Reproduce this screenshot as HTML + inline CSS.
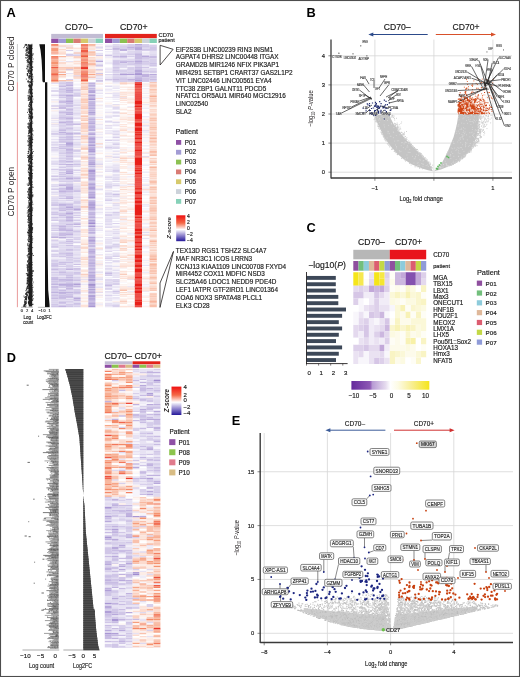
<!DOCTYPE html>
<html><head><meta charset="utf-8"><style>
html,body{margin:0;padding:0;background:#fff;}
svg{display:block;font-family:"Liberation Sans", sans-serif;will-change:transform;}
</style></head><body>
<svg width="520" height="677" viewBox="0 0 520 677">
<rect x="0" y="0" width="520" height="677" fill="#fff"/>
<text x="6.6" y="16.8" font-size="12.8" font-weight="bold" fill="#000" >A</text>
<text transform="translate(14.3,63.9) rotate(-90)" font-size="8.3" text-anchor="middle" fill="#231f20">CD70 P closed</text>
<text transform="translate(14.3,191.6) rotate(-90)" font-size="8.3" text-anchor="middle" fill="#231f20">CD70 P open</text>
<line x1="17.4" y1="44" x2="17.4" y2="82.2" stroke="#b8b8b8" stroke-width="0.7" />
<line x1="17.4" y1="82.2" x2="17.4" y2="307.2" stroke="#e07070" stroke-width="0.7" />
<text x="65" y="30" font-size="8.7" fill="#1a1a1a" stroke="#1a1a1a" stroke-width="0.16" textLength="27.5" lengthAdjust="spacingAndGlyphs">CD70–</text>
<text x="120" y="30" font-size="8.7" fill="#1a1a1a" stroke="#1a1a1a" stroke-width="0.16" textLength="27.5" lengthAdjust="spacingAndGlyphs">CD70+</text>
<rect x="51.2" y="33.9" width="51.8" height="4.3" fill="#c2bcd3" />
<rect x="105" y="33.9" width="51.8" height="4.3" fill="#e3231c" />
<rect x="51.2" y="38.6" width="7.45" height="4.4" fill="#8e4fa5" />
<rect x="58.6" y="38.6" width="7.45" height="4.4" fill="#a29cd4" />
<rect x="66" y="38.6" width="7.45" height="4.4" fill="#8cc152" />
<rect x="73.4" y="38.6" width="7.45" height="4.4" fill="#d97b74" />
<rect x="80.8" y="38.6" width="7.45" height="4.4" fill="#d6c96c" />
<rect x="88.2" y="38.6" width="7.45" height="4.4" fill="#ccd2da" />
<rect x="95.6" y="38.6" width="7.45" height="4.4" fill="#86d1b8" />
<rect x="105" y="38.6" width="7.45" height="4.4" fill="#8e4fa5" />
<rect x="112.4" y="38.6" width="7.45" height="4.4" fill="#a29cd4" />
<rect x="119.8" y="38.6" width="7.45" height="4.4" fill="#8cc152" />
<rect x="127.2" y="38.6" width="7.45" height="4.4" fill="#d97b74" />
<rect x="134.6" y="38.6" width="7.45" height="4.4" fill="#d6c96c" />
<rect x="142" y="38.6" width="7.45" height="4.4" fill="#ccd2da" />
<rect x="149.4" y="38.6" width="7.45" height="4.4" fill="#86d1b8" />
<path stroke="#8470be" stroke-width="1.04" d="M88.2 284.7h7.4"/>
<path stroke="#8d79c4" stroke-width="1.04" d="M88.2 112.7h7.4M88.2 220.7h7.4M88.2 279.7h7.4M88.2 289.7h7.4M88.2 295.7h7.4"/>
<path stroke="#9682c9" stroke-width="1.04" d="M88.2 95.7h7.4M88.2 145.7h7.4M88.2 151.7h7.4M66 164.7h7.4M88.2 164.7h7.4M88.2 204.7h7.4M58.6 237.7h7.4M88.2 237.7h7.4M88.2 285.7h7.4M88.2 292.7h7.4"/>
<path stroke="#a08ccf" stroke-width="1.04" d="M88.2 90.7h7.4M88.2 92.7h7.4M66 95.7h7.4M58.6 132.7h7.4M88.2 134.7h7.4M88.2 139.7h7.4M88.2 142.7h7.4M66 143.7h7.4M88.2 147.7h7.4M88.2 150.7h7.4M66 173.7h7.4M88.2 173.7h7.4M66 178.7h7.4M88.2 184.7h7.4M66 188.7h7.4M88.2 192.7h7.4M88.2 194.7h7.4M88.2 202.7h7.4M88.2 205.7h7.4M88.2 217.7h7.4M88.2 222.7h7.4M88.2 223.7h7.4M88.2 232.7h7.4M88.2 256.7h7.4M88.2 272.7h7.4M88.2 275.7h7.4M88.2 280.7h7.4M58.6 284.7h7.4M88.2 287.7h7.4M58.6 292.7h7.4M88.2 296.7h7.4M88.2 303.7h7.4"/>
<path stroke="#a08ccf" stroke-width="1.24" d="M134.6 48.2h7.4M134.6 77h7.4"/>
<path stroke="#a896d3" stroke-width="1.04" d="M88.2 85.7h7.4M88.2 88.7h7.4M66 90.7h7.4M88.2 91.7h7.4M88.2 98.7h7.4M88.2 99.7h7.4M88.2 101.7h7.4M88.2 105.7h7.4M88.2 108.7h7.4M66 112.7h7.4M88.2 119.7h7.4M88.2 126.7h7.4M88.2 130.7h7.4M88.2 141.7h7.4M66 142.7h7.4M66 144.7h7.4M88.2 144.7h7.4M88.2 154.7h7.4M66 161.7h7.4M88.2 163.7h7.4M88.2 166.7h7.4M88.2 169.7h7.4M88.2 170.7h7.4M88.2 171.7h7.4M88.2 175.7h7.4M88.2 183.7h7.4M88.2 189.7h7.4M88.2 196.7h7.4M88.2 197.7h7.4M88.2 203.7h7.4M58.6 204.7h7.4M88.2 208.7h7.4M88.2 212.7h7.4M88.2 225.7h7.4M88.2 226.7h7.4M88.2 241.7h7.4M88.2 249.7h7.4M88.2 263.7h7.4M88.2 268.7h7.4M88.2 277.7h7.4M58.6 279.7h7.4M51.2 284.7h7.4M66 284.7h7.4M51.2 292.7h7.4M66 292.7h7.4M88.2 299.7h7.4M88.2 305.7h7.4M88.2 306.7h7.4"/>
<path stroke="#a896d3" stroke-width="1.24" d="M95.6 65h7.4M134.6 47h7.4M134.6 74.6h7.4"/>
<path stroke="#b09fd7" stroke-width="1.04" d="M66 82.7h7.4M88.2 94.7h7.4M88.2 103.7h7.4M88.2 110.7h7.4M88.2 114.7h7.4M66 121.7h7.4M88.2 121.7h7.4M88.2 127.7h7.4M88.2 133.7h7.4M88.2 137.7h7.4M88.2 138.7h7.4M88.2 148.7h7.4M88.2 149.7h7.4M88.2 157.7h7.4M88.2 160.7h7.4M58.6 164.7h7.4M66 169.7h7.4M88.2 172.7h7.4M88.2 176.7h7.4M88.2 186.7h7.4M88.2 187.7h7.4M88.2 188.7h7.4M66 189.7h7.4M88.2 195.7h7.4M66 198.7h7.4M88.2 200.7h7.4M88.2 206.7h7.4M88.2 207.7h7.4M88.2 209.7h7.4M88.2 214.7h7.4M66 217.7h7.4M66 224.7h7.4M58.6 226.7h7.4M73.4 226.7h7.4M88.2 228.7h7.4M58.6 229.7h7.4M88.2 230.7h7.4M88.2 239.7h7.4M88.2 240.7h7.4M66 241.7h7.4M66 245.7h7.4M88.2 245.7h7.4M88.2 252.7h7.4M88.2 257.7h7.4M88.2 260.7h7.4M58.6 262.7h7.4M88.2 262.7h7.4M73.4 264.7h7.4M73.4 268.7h7.4M88.2 276.7h7.4M51.2 277.7h7.4M66 277.7h7.4M66 279.7h7.4M73.4 283.7h7.4M73.4 284.7h7.4M66 285.7h7.4M51.2 286.7h7.4M73.4 286.7h7.4M88.2 286.7h7.4M66 288.7h7.4M88.2 302.7h7.4M88.2 304.7h7.4"/>
<path stroke="#b09fd7" stroke-width="1.24" d="M112.4 48.2h7.4M134.6 54.2h7.4M134.6 73.4h7.4M119.8 74.6h7.4M127.2 74.6h7.4M134.6 80.6h7.4"/>
<path stroke="#b8a9db" stroke-width="1.04" d="M134.6 81.7h7.4M66 88.7h7.4M66 92.7h7.4M58.6 95.7h7.4M88.2 97.7h7.4M66 100.7h7.4M66 101.7h7.4M58.6 102.7h7.4M88.2 102.7h7.4M66 103.7h7.4M88.2 104.7h7.4M66 105.7h7.4M88.2 107.7h7.4M66 109.7h7.4M88.2 113.7h7.4M58.6 117.7h7.4M88.2 117.7h7.4M88.2 122.7h7.4M88.2 123.7h7.4M58.6 130.7h7.4M88.2 132.7h7.4M66 134.7h7.4M66 136.7h7.4M88.2 136.7h7.4M58.6 139.7h7.4M88.2 140.7h7.4M58.6 144.7h7.4M66 145.7h7.4M58.6 148.7h7.4M66 150.7h7.4M88.2 158.7h7.4M88.2 161.7h7.4M88.2 162.7h7.4M73.4 164.7h7.4M58.6 169.7h7.4M58.6 172.7h7.4M66 172.7h7.4M88.2 174.7h7.4M58.6 176.7h7.4M88.2 177.7h7.4M88.2 178.7h7.4M88.2 179.7h7.4M66 184.7h7.4M88.2 185.7h7.4M66 186.7h7.4M66 187.7h7.4M58.6 188.7h7.4M73.4 191.7h7.4M88.2 193.7h7.4M66 196.7h7.4M58.6 198.7h7.4M88.2 201.7h7.4M66 204.7h7.4M58.6 205.7h7.4M66 206.7h7.4M66 207.7h7.4M73.4 208.7h7.4M73.4 209.7h7.4M66 212.7h7.4M66 213.7h7.4M88.2 213.7h7.4M66 216.7h7.4M51.2 217.7h7.4M88.2 221.7h7.4M58.6 230.7h7.4M66 239.7h7.4M88.2 246.7h7.4M66 249.7h7.4M88.2 250.7h7.4M88.2 251.7h7.4M66 253.7h7.4M88.2 253.7h7.4M66 262.7h7.4M88.2 266.7h7.4M88.2 269.7h7.4M73.4 272.7h7.4M88.2 274.7h7.4M51.2 279.7h7.4M66 280.7h7.4M66 283.7h7.4M88.2 283.7h7.4M58.6 285.7h7.4M66 286.7h7.4M58.6 290.7h7.4M73.4 292.7h7.4M58.6 293.7h7.4M58.6 295.7h7.4M58.6 297.7h7.4M73.4 297.7h7.4M88.2 297.7h7.4M73.4 298.7h7.4M88.2 298.7h7.4M88.2 300.7h7.4M58.6 302.7h7.4M73.4 303.7h7.4M112.4 194.7h7.4M112.4 291.7h7.4"/>
<path stroke="#b8a9db" stroke-width="1.24" d="M95.6 61.4h7.4M134.6 44.6h7.4M142 47h7.4M134.6 49.4h7.4M142 56.6h7.4M134.6 61.4h7.4M149.4 63.8h7.4M119.8 65h7.4M134.6 69.8h7.4M134.6 71h7.4M134.6 72.2h7.4M149.4 74.6h7.4"/>
<path stroke="#c0b2df" stroke-width="1.04" d="M88.2 82.7h7.4M88.2 83.7h7.4M66 84.7h7.4M66 85.7h7.4M88.2 86.7h7.4M66 87.7h7.4M58.6 89.7h7.4M66 89.7h7.4M66 91.7h7.4M66 94.7h7.4M73.4 95.7h7.4M66 96.7h7.4M88.2 96.7h7.4M58.6 97.7h7.4M66 98.7h7.4M66 102.7h7.4M58.6 105.7h7.4M66 106.7h7.4M88.2 106.7h7.4M51.2 108.7h7.4M66 108.7h7.4M88.2 111.7h7.4M66 113.7h7.4M66 114.7h7.4M66 117.7h7.4M66 118.7h7.4M88.2 118.7h7.4M58.6 121.7h7.4M58.6 122.7h7.4M66 122.7h7.4M66 128.7h7.4M88.2 128.7h7.4M58.6 129.7h7.4M88.2 129.7h7.4M66 132.7h7.4M51.2 133.7h7.4M66 133.7h7.4M58.6 134.7h7.4M58.6 137.7h7.4M66 137.7h7.4M58.6 146.7h7.4M66 146.7h7.4M51.2 147.7h7.4M66 148.7h7.4M66 149.7h7.4M88.2 152.7h7.4M66 153.7h7.4M58.6 160.7h7.4M66 166.7h7.4M51.2 169.7h7.4M66 170.7h7.4M66 171.7h7.4M58.6 174.7h7.4M66 177.7h7.4M58.6 178.7h7.4M88.2 180.7h7.4M58.6 184.7h7.4M58.6 185.7h7.4M66 185.7h7.4M58.6 190.7h7.4M58.6 191.7h7.4M88.2 191.7h7.4M66 197.7h7.4M88.2 198.7h7.4M51.2 205.7h7.4M58.6 208.7h7.4M51.2 212.7h7.4M73.4 212.7h7.4M58.6 213.7h7.4M51.2 214.7h7.4M66 214.7h7.4M73.4 215.7h7.4M73.4 217.7h7.4M66 219.7h7.4M51.2 220.7h7.4M66 220.7h7.4M73.4 223.7h7.4M73.4 224.7h7.4M51.2 225.7h7.4M58.6 225.7h7.4M66 229.7h7.4M88.2 229.7h7.4M51.2 230.7h7.4M66 230.7h7.4M66 233.7h7.4M88.2 233.7h7.4M66 234.7h7.4M51.2 236.7h7.4M51.2 237.7h7.4M66 237.7h7.4M88.2 238.7h7.4M88.2 242.7h7.4M66 243.7h7.4M88.2 243.7h7.4M51.2 246.7h7.4M58.6 253.7h7.4M66 255.7h7.4M88.2 255.7h7.4M58.6 256.7h7.4M66 257.7h7.4M88.2 261.7h7.4M51.2 263.7h7.4M88.2 264.7h7.4M51.2 265.7h7.4M88.2 265.7h7.4M58.6 266.7h7.4M73.4 266.7h7.4M66 268.7h7.4M66 269.7h7.4M88.2 271.7h7.4M51.2 272.7h7.4M88.2 273.7h7.4M66 275.7h7.4M51.2 278.7h7.4M88.2 278.7h7.4M58.6 280.7h7.4M73.4 280.7h7.4M51.2 281.7h7.4M88.2 282.7h7.4M58.6 283.7h7.4M51.2 287.7h7.4M73.4 289.7h7.4M88.2 290.7h7.4M88.2 291.7h7.4M88.2 293.7h7.4M66 294.7h7.4M51.2 295.7h7.4M58.6 296.7h7.4M66 297.7h7.4M58.6 298.7h7.4M88.2 301.7h7.4M51.2 304.7h7.4M66 304.7h7.4M58.6 305.7h7.4M51.2 306.7h7.4M58.6 306.7h7.4M112.4 212.7h7.4M112.4 223.7h7.4M112.4 279.7h7.4"/>
<path stroke="#c0b2df" stroke-width="1.24" d="M95.6 47h7.4M66 69.8h7.4M95.6 69.8h7.4M134.6 45.8h7.4M149.4 45.8h7.4M119.8 47h7.4M127.2 47h7.4M127.2 48.2h7.4M119.8 49.4h7.4M119.8 50.6h7.4M127.2 54.2h7.4M119.8 56.6h7.4M142 59h7.4M134.6 60.2h7.4M119.8 62.6h7.4M112.4 63.8h7.4M127.2 65h7.4M134.6 65h7.4M149.4 72.2h7.4M142 74.6h7.4M142 75.8h7.4M142 77h7.4M134.6 78.2h7.4M127.2 79.4h7.4M134.6 79.4h7.4"/>
<path stroke="#c8bce3" stroke-width="1.04" d="M119.8 81.7h7.4M142 81.7h7.4M58.6 83.7h7.4M66 83.7h7.4M88.2 84.7h7.4M58.6 85.7h7.4M58.6 86.7h7.4M58.6 88.7h7.4M73.4 89.7h7.4M88.2 89.7h7.4M51.2 90.7h7.4M58.6 91.7h7.4M58.6 94.7h7.4M66 97.7h7.4M66 99.7h7.4M58.6 100.7h7.4M58.6 101.7h7.4M51.2 105.7h7.4M58.6 106.7h7.4M58.6 107.7h7.4M58.6 108.7h7.4M88.2 109.7h7.4M66 110.7h7.4M58.6 111.7h7.4M58.6 112.7h7.4M66 116.7h7.4M58.6 118.7h7.4M66 119.7h7.4M88.2 120.7h7.4M66 123.7h7.4M73.4 123.7h7.4M66 124.7h7.4M73.4 124.7h7.4M88.2 124.7h7.4M88.2 125.7h7.4M66 127.7h7.4M73.4 132.7h7.4M73.4 133.7h7.4M73.4 136.7h7.4M66 138.7h7.4M66 139.7h7.4M73.4 139.7h7.4M66 141.7h7.4M58.6 142.7h7.4M88.2 143.7h7.4M88.2 146.7h7.4M73.4 150.7h7.4M66 151.7h7.4M66 152.7h7.4M58.6 153.7h7.4M66 155.7h7.4M66 156.7h7.4M58.6 158.7h7.4M66 159.7h7.4M88.2 159.7h7.4M58.6 161.7h7.4M58.6 167.7h7.4M66 176.7h7.4M73.4 177.7h7.4M73.4 178.7h7.4M51.2 179.7h7.4M66 179.7h7.4M58.6 181.7h7.4M66 181.7h7.4M88.2 182.7h7.4M51.2 189.7h7.4M58.6 189.7h7.4M66 190.7h7.4M88.2 190.7h7.4M66 191.7h7.4M58.6 192.7h7.4M58.6 195.7h7.4M66 200.7h7.4M51.2 202.7h7.4M73.4 202.7h7.4M58.6 203.7h7.4M66 203.7h7.4M66 205.7h7.4M58.6 207.7h7.4M51.2 208.7h7.4M66 208.7h7.4M58.6 209.7h7.4M66 209.7h7.4M58.6 210.7h7.4M73.4 210.7h7.4M88.2 210.7h7.4M58.6 214.7h7.4M58.6 215.7h7.4M88.2 215.7h7.4M88.2 216.7h7.4M58.6 217.7h7.4M66 218.7h7.4M58.6 220.7h7.4M73.4 220.7h7.4M66 221.7h7.4M66 226.7h7.4M58.6 227.7h7.4M51.2 228.7h7.4M58.6 228.7h7.4M66 228.7h7.4M58.6 232.7h7.4M66 232.7h7.4M58.6 233.7h7.4M58.6 234.7h7.4M58.6 235.7h7.4M88.2 236.7h7.4M73.4 237.7h7.4M73.4 245.7h7.4M88.2 248.7h7.4M51.2 250.7h7.4M66 250.7h7.4M66 252.7h7.4M51.2 254.7h7.4M66 254.7h7.4M88.2 254.7h7.4M88.2 258.7h7.4M88.2 259.7h7.4M51.2 260.7h7.4M73.4 260.7h7.4M51.2 264.7h7.4M51.2 266.7h7.4M66 266.7h7.4M88.2 267.7h7.4M51.2 268.7h7.4M58.6 268.7h7.4M51.2 269.7h7.4M73.4 269.7h7.4M88.2 270.7h7.4M58.6 271.7h7.4M58.6 272.7h7.4M73.4 273.7h7.4M58.6 274.7h7.4M66 274.7h7.4M58.6 277.7h7.4M73.4 277.7h7.4M73.4 279.7h7.4M58.6 281.7h7.4M88.2 281.7h7.4M66 282.7h7.4M58.6 287.7h7.4M66 287.7h7.4M88.2 288.7h7.4M51.2 289.7h7.4M58.6 289.7h7.4M66 289.7h7.4M51.2 291.7h7.4M73.4 291.7h7.4M73.4 293.7h7.4M51.2 294.7h7.4M66 295.7h7.4M66 296.7h7.4M51.2 297.7h7.4M51.2 298.7h7.4M66 299.7h7.4M73.4 299.7h7.4M73.4 300.7h7.4M58.6 301.7h7.4M66 301.7h7.4M58.6 303.7h7.4M73.4 304.7h7.4M112.4 137.7h7.4M105 140.7h7.4M105 147.7h7.4M112.4 170.7h7.4M112.4 185.7h7.4M105 200.7h7.4M105 214.7h7.4M112.4 244.7h7.4M105 247.7h7.4M105 258.7h7.4M105 272.7h7.4M105 273.7h7.4M105 275.7h7.4M105 279.7h7.4M112.4 283.7h7.4M105 284.7h7.4M105 285.7h7.4M105 288.7h7.4M105 295.7h7.4"/>
<path stroke="#c8bce3" stroke-width="1.24" d="M66 54.2h7.4M127.2 45.8h7.4M142 45.8h7.4M112.4 49.4h7.4M112.4 53h7.4M134.6 53h7.4M134.6 55.4h7.4M112.4 56.6h7.4M134.6 56.6h7.4M149.4 56.6h7.4M119.8 57.8h7.4M134.6 57.8h7.4M142 57.8h7.4M149.4 57.8h7.4M134.6 59h7.4M112.4 60.2h7.4M119.8 61.4h7.4M127.2 61.4h7.4M134.6 62.6h7.4M127.2 63.8h7.4M134.6 63.8h7.4M142 63.8h7.4M112.4 65h7.4M134.6 67.4h7.4M127.2 71h7.4M149.4 71h7.4M112.4 72.2h7.4M134.6 75.8h7.4M112.4 77h7.4M119.8 78.2h7.4M112.4 79.4h7.4M149.4 79.4h7.4"/>
<path stroke="#d0c6e7" stroke-width="1.04" d="M95.6 81.7h7.4M112.4 81.7h7.4M127.2 81.7h7.4M58.6 82.7h7.4M58.6 90.7h7.4M73.4 90.7h7.4M58.6 92.7h7.4M51.2 95.7h7.4M66 104.7h7.4M73.4 105.7h7.4M66 111.7h7.4M58.6 113.7h7.4M73.4 113.7h7.4M58.6 119.7h7.4M58.6 123.7h7.4M66 125.7h7.4M58.6 126.7h7.4M58.6 128.7h7.4M66 129.7h7.4M73.4 130.7h7.4M58.6 133.7h7.4M51.2 134.7h7.4M58.6 136.7h7.4M58.6 140.7h7.4M66 140.7h7.4M58.6 141.7h7.4M51.2 144.7h7.4M73.4 144.7h7.4M58.6 147.7h7.4M66 147.7h7.4M73.4 149.7h7.4M58.6 150.7h7.4M73.4 151.7h7.4M58.6 152.7h7.4M88.2 153.7h7.4M66 154.7h7.4M58.6 155.7h7.4M88.2 156.7h7.4M66 157.7h7.4M66 158.7h7.4M73.4 161.7h7.4M58.6 162.7h7.4M66 162.7h7.4M88.2 165.7h7.4M58.6 166.7h7.4M73.4 166.7h7.4M58.6 170.7h7.4M51.2 175.7h7.4M66 175.7h7.4M51.2 176.7h7.4M51.2 178.7h7.4M58.6 179.7h7.4M88.2 181.7h7.4M66 183.7h7.4M51.2 184.7h7.4M51.2 186.7h7.4M51.2 188.7h7.4M73.4 189.7h7.4M73.4 190.7h7.4M66 192.7h7.4M58.6 193.7h7.4M66 194.7h7.4M58.6 196.7h7.4M51.2 200.7h7.4M58.6 200.7h7.4M51.2 203.7h7.4M73.4 203.7h7.4M51.2 204.7h7.4M58.6 206.7h7.4M73.4 207.7h7.4M88.2 211.7h7.4M51.2 213.7h7.4M66 215.7h7.4M88.2 218.7h7.4M58.6 219.7h7.4M88.2 219.7h7.4M58.6 221.7h7.4M73.4 222.7h7.4M58.6 223.7h7.4M66 223.7h7.4M88.2 224.7h7.4M73.4 230.7h7.4M66 231.7h7.4M73.4 231.7h7.4M88.2 231.7h7.4M51.2 232.7h7.4M51.2 234.7h7.4M66 235.7h7.4M58.6 243.7h7.4M51.2 244.7h7.4M88.2 244.7h7.4M58.6 245.7h7.4M51.2 247.7h7.4M73.4 247.7h7.4M73.4 249.7h7.4M58.6 250.7h7.4M51.2 251.7h7.4M58.6 252.7h7.4M58.6 254.7h7.4M66 260.7h7.4M51.2 261.7h7.4M73.4 261.7h7.4M58.6 263.7h7.4M58.6 264.7h7.4M58.6 269.7h7.4M58.6 273.7h7.4M51.2 274.7h7.4M73.4 274.7h7.4M66 276.7h7.4M66 278.7h7.4M51.2 280.7h7.4M66 281.7h7.4M51.2 282.7h7.4M51.2 283.7h7.4M73.4 285.7h7.4M58.6 286.7h7.4M51.2 288.7h7.4M51.2 290.7h7.4M73.4 290.7h7.4M58.6 291.7h7.4M66 291.7h7.4M66 293.7h7.4M58.6 294.7h7.4M88.2 294.7h7.4M51.2 296.7h7.4M51.2 300.7h7.4M51.2 302.7h7.4M51.2 305.7h7.4M66 305.7h7.4M66 306.7h7.4M112.4 104.7h7.4M112.4 112.7h7.4M112.4 115.7h7.4M105 121.7h7.4M112.4 122.7h7.4M105 125.7h7.4M112.4 134.7h7.4M142 156.7h7.4M112.4 171.7h7.4M112.4 181.7h7.4M105 186.7h7.4M105 196.7h7.4M112.4 203.7h7.4M105 215.7h7.4M112.4 229.7h7.4M142 232.7h7.4M112.4 233.7h7.4M112.4 238.7h7.4M105 246.7h7.4M112.4 246.7h7.4M105 251.7h7.4M105 256.7h7.4M112.4 258.7h7.4M112.4 260.7h7.4M105 262.7h7.4M105 268.7h7.4M112.4 284.7h7.4M105 291.7h7.4"/>
<path stroke="#d0c6e7" stroke-width="1.24" d="M95.6 55.4h7.4M95.6 66.2h7.4M95.6 73.4h7.4M95.6 75.8h7.4M95.6 80.6h7.4M119.8 45.8h7.4M149.4 47h7.4M119.8 48.2h7.4M149.4 48.2h7.4M127.2 49.4h7.4M142 49.4h7.4M149.4 49.4h7.4M127.2 51.8h7.4M134.6 51.8h7.4M119.8 54.2h7.4M105 55.4h7.4M112.4 57.8h7.4M127.2 59h7.4M119.8 60.2h7.4M112.4 61.4h7.4M142 61.4h7.4M112.4 62.6h7.4M142 65h7.4M149.4 65h7.4M134.6 66.2h7.4M149.4 66.2h7.4M112.4 67.4h7.4M142 67.4h7.4M134.6 68.6h7.4M112.4 69.8h7.4M112.4 71h7.4M142 71h7.4M142 72.2h7.4M119.8 73.4h7.4M112.4 74.6h7.4M149.4 75.8h7.4M119.8 77h7.4M127.2 77h7.4M149.4 77h7.4M112.4 78.2h7.4M142 78.2h7.4M149.4 78.2h7.4M105 79.4h7.4M119.8 79.4h7.4M142 79.4h7.4M127.2 80.6h7.4M142 80.6h7.4"/>
<path stroke="#d7cfeb" stroke-width="1.04" d="M58.6 81.7h7.4M149.4 81.7h7.4M51.2 83.7h7.4M58.6 84.7h7.4M66 86.7h7.4M88.2 87.7h7.4M95.6 90.7h7.4M51.2 91.7h7.4M73.4 92.7h7.4M58.6 93.7h7.4M73.4 93.7h7.4M73.4 94.7h7.4M58.6 96.7h7.4M73.4 96.7h7.4M88.2 100.7h7.4M58.6 104.7h7.4M73.4 104.7h7.4M51.2 106.7h7.4M73.4 107.7h7.4M58.6 110.7h7.4M58.6 114.7h7.4M58.6 115.7h7.4M88.2 115.7h7.4M58.6 116.7h7.4M51.2 118.7h7.4M66 120.7h7.4M51.2 124.7h7.4M58.6 124.7h7.4M58.6 125.7h7.4M58.6 127.7h7.4M66 130.7h7.4M51.2 131.7h7.4M58.6 131.7h7.4M73.4 134.7h7.4M66 135.7h7.4M58.6 138.7h7.4M51.2 139.7h7.4M73.4 142.7h7.4M58.6 145.7h7.4M58.6 151.7h7.4M73.4 153.7h7.4M88.2 155.7h7.4M73.4 156.7h7.4M66 160.7h7.4M73.4 160.7h7.4M51.2 161.7h7.4M58.6 163.7h7.4M73.4 163.7h7.4M51.2 164.7h7.4M66 165.7h7.4M88.2 167.7h7.4M88.2 168.7h7.4M73.4 169.7h7.4M73.4 170.7h7.4M73.4 172.7h7.4M58.6 173.7h7.4M58.6 175.7h7.4M73.4 176.7h7.4M73.4 179.7h7.4M58.6 180.7h7.4M66 180.7h7.4M73.4 180.7h7.4M73.4 181.7h7.4M58.6 183.7h7.4M73.4 186.7h7.4M58.6 187.7h7.4M95.6 189.7h7.4M66 193.7h7.4M58.6 194.7h7.4M66 195.7h7.4M51.2 196.7h7.4M73.4 197.7h7.4M51.2 198.7h7.4M73.4 200.7h7.4M73.4 201.7h7.4M58.6 202.7h7.4M73.4 205.7h7.4M73.4 206.7h7.4M51.2 209.7h7.4M66 210.7h7.4M51.2 211.7h7.4M66 211.7h7.4M58.6 212.7h7.4M73.4 213.7h7.4M58.6 216.7h7.4M73.4 219.7h7.4M58.6 222.7h7.4M66 222.7h7.4M51.2 223.7h7.4M58.6 224.7h7.4M66 225.7h7.4M51.2 226.7h7.4M66 227.7h7.4M88.2 227.7h7.4M73.4 232.7h7.4M51.2 233.7h7.4M73.4 234.7h7.4M51.2 235.7h7.4M88.2 235.7h7.4M58.6 236.7h7.4M66 236.7h7.4M73.4 238.7h7.4M51.2 239.7h7.4M73.4 239.7h7.4M51.2 240.7h7.4M66 240.7h7.4M58.6 241.7h7.4M73.4 241.7h7.4M58.6 242.7h7.4M66 242.7h7.4M73.4 242.7h7.4M51.2 243.7h7.4M51.2 245.7h7.4M73.4 246.7h7.4M58.6 247.7h7.4M88.2 247.7h7.4M66 248.7h7.4M73.4 250.7h7.4M58.6 251.7h7.4M73.4 254.7h7.4M51.2 255.7h7.4M58.6 255.7h7.4M51.2 256.7h7.4M66 256.7h7.4M73.4 257.7h7.4M66 258.7h7.4M73.4 258.7h7.4M51.2 259.7h7.4M58.6 259.7h7.4M66 259.7h7.4M66 261.7h7.4M51.2 262.7h7.4M66 264.7h7.4M66 265.7h7.4M66 267.7h7.4M51.2 270.7h7.4M58.6 270.7h7.4M73.4 270.7h7.4M66 271.7h7.4M66 272.7h7.4M66 273.7h7.4M51.2 275.7h7.4M58.6 275.7h7.4M58.6 278.7h7.4M73.4 278.7h7.4M80.8 279.7h7.4M95.6 279.7h7.4M58.6 282.7h7.4M66 290.7h7.4M95.6 292.7h7.4M51.2 293.7h7.4M51.2 299.7h7.4M58.6 299.7h7.4M51.2 301.7h7.4M66 302.7h7.4M73.4 302.7h7.4M51.2 303.7h7.4M73.4 305.7h7.4M73.4 306.7h7.4M105 86.7h7.4M105 93.7h7.4M112.4 95.7h7.4M112.4 108.7h7.4M142 125.7h7.4M142 130.7h7.4M112.4 131.7h7.4M112.4 143.7h7.4M112.4 144.7h7.4M105 156.7h7.4M112.4 169.7h7.4M105 171.7h7.4M112.4 174.7h7.4M112.4 177.7h7.4M112.4 183.7h7.4M105 185.7h7.4M105 187.7h7.4M112.4 191.7h7.4M112.4 193.7h7.4M105 199.7h7.4M112.4 199.7h7.4M112.4 205.7h7.4M105 207.7h7.4M105 212.7h7.4M112.4 214.7h7.4M105 219.7h7.4M105 221.7h7.4M105 224.7h7.4M105 227.7h7.4M112.4 231.7h7.4M142 234.7h7.4M105 237.7h7.4M112.4 237.7h7.4M142 238.7h7.4M105 239.7h7.4M105 245.7h7.4M112.4 245.7h7.4M105 248.7h7.4M112.4 250.7h7.4M112.4 255.7h7.4M112.4 256.7h7.4M105 257.7h7.4M105 260.7h7.4M112.4 261.7h7.4M105 265.7h7.4M142 265.7h7.4M112.4 266.7h7.4M112.4 270.7h7.4M112.4 272.7h7.4M105 274.7h7.4M105 280.7h7.4M112.4 280.7h7.4M112.4 281.7h7.4M105 283.7h7.4M105 286.7h7.4M105 289.7h7.4M112.4 295.7h7.4M112.4 297.7h7.4M105 303.7h7.4M112.4 304.7h7.4M105 305.7h7.4M112.4 305.7h7.4M112.4 306.7h7.4"/>
<path stroke="#d7cfeb" stroke-width="1.24" d="M66 50.6h7.4M95.6 50.6h7.4M66 55.4h7.4M73.4 55.4h7.4M95.6 60.2h7.4M73.4 75.8h7.4M95.6 78.2h7.4M66 79.4h7.4M127.2 44.6h7.4M142 44.6h7.4M112.4 45.8h7.4M112.4 47h7.4M142 48.2h7.4M105 49.4h7.4M134.6 50.6h7.4M142 50.6h7.4M149.4 50.6h7.4M119.8 53h7.4M127.2 53h7.4M142 53h7.4M149.4 53h7.4M112.4 54.2h7.4M119.8 55.4h7.4M142 55.4h7.4M127.2 56.6h7.4M149.4 59h7.4M127.2 60.2h7.4M142 60.2h7.4M149.4 60.2h7.4M149.4 61.4h7.4M127.2 62.6h7.4M142 62.6h7.4M149.4 62.6h7.4M119.8 63.8h7.4M112.4 66.2h7.4M127.2 67.4h7.4M112.4 68.6h7.4M127.2 68.6h7.4M119.8 69.8h7.4M127.2 69.8h7.4M142 69.8h7.4M149.4 69.8h7.4M119.8 71h7.4M105 72.2h7.4M119.8 72.2h7.4M127.2 72.2h7.4M127.2 73.4h7.4M112.4 75.8h7.4M119.8 75.8h7.4M127.2 78.2h7.4M112.4 80.6h7.4M119.8 80.6h7.4M149.4 80.6h7.4"/>
<path stroke="#dfd9ef" stroke-width="1.04" d="M58.6 87.7h7.4M66 93.7h7.4M88.2 93.7h7.4M95.6 93.7h7.4M51.2 99.7h7.4M58.6 99.7h7.4M73.4 100.7h7.4M73.4 102.7h7.4M58.6 103.7h7.4M66 107.7h7.4M73.4 108.7h7.4M73.4 110.7h7.4M73.4 114.7h7.4M66 115.7h7.4M88.2 116.7h7.4M73.4 117.7h7.4M95.6 117.7h7.4M73.4 118.7h7.4M51.2 120.7h7.4M58.6 120.7h7.4M73.4 121.7h7.4M51.2 122.7h7.4M95.6 124.7h7.4M66 126.7h7.4M73.4 127.7h7.4M73.4 129.7h7.4M66 131.7h7.4M58.6 135.7h7.4M88.2 135.7h7.4M51.2 136.7h7.4M95.6 137.7h7.4M51.2 141.7h7.4M51.2 142.7h7.4M73.4 143.7h7.4M51.2 145.7h7.4M73.4 145.7h7.4M73.4 147.7h7.4M51.2 148.7h7.4M51.2 149.7h7.4M58.6 149.7h7.4M51.2 150.7h7.4M58.6 154.7h7.4M73.4 155.7h7.4M58.6 156.7h7.4M58.6 157.7h7.4M51.2 158.7h7.4M58.6 159.7h7.4M51.2 162.7h7.4M73.4 162.7h7.4M51.2 163.7h7.4M95.6 163.7h7.4M95.6 164.7h7.4M73.4 165.7h7.4M95.6 166.7h7.4M66 167.7h7.4M66 168.7h7.4M66 174.7h7.4M73.4 174.7h7.4M95.6 175.7h7.4M58.6 177.7h7.4M51.2 180.7h7.4M66 182.7h7.4M73.4 183.7h7.4M51.2 185.7h7.4M73.4 185.7h7.4M58.6 186.7h7.4M73.4 187.7h7.4M73.4 188.7h7.4M51.2 191.7h7.4M51.2 192.7h7.4M51.2 194.7h7.4M73.4 194.7h7.4M73.4 196.7h7.4M51.2 197.7h7.4M58.6 197.7h7.4M51.2 199.7h7.4M51.2 201.7h7.4M66 202.7h7.4M95.6 205.7h7.4M51.2 207.7h7.4M95.6 208.7h7.4M58.6 211.7h7.4M95.6 212.7h7.4M51.2 216.7h7.4M95.6 217.7h7.4M51.2 218.7h7.4M51.2 219.7h7.4M95.6 223.7h7.4M51.2 224.7h7.4M95.6 226.7h7.4M51.2 227.7h7.4M51.2 229.7h7.4M73.4 229.7h7.4M95.6 230.7h7.4M58.6 231.7h7.4M73.4 233.7h7.4M88.2 234.7h7.4M73.4 235.7h7.4M95.6 237.7h7.4M58.6 238.7h7.4M58.6 240.7h7.4M51.2 241.7h7.4M58.6 246.7h7.4M66 246.7h7.4M66 247.7h7.4M58.6 248.7h7.4M73.4 248.7h7.4M58.6 249.7h7.4M66 251.7h7.4M51.2 253.7h7.4M73.4 253.7h7.4M95.6 254.7h7.4M73.4 255.7h7.4M73.4 259.7h7.4M58.6 260.7h7.4M58.6 261.7h7.4M73.4 262.7h7.4M66 263.7h7.4M95.6 264.7h7.4M51.2 267.7h7.4M51.2 271.7h7.4M73.4 271.7h7.4M95.6 272.7h7.4M51.2 273.7h7.4M51.2 276.7h7.4M73.4 276.7h7.4M95.6 277.7h7.4M73.4 281.7h7.4M73.4 282.7h7.4M95.6 283.7h7.4M80.8 284.7h7.4M51.2 285.7h7.4M73.4 287.7h7.4M73.4 294.7h7.4M95.6 295.7h7.4M73.4 296.7h7.4M58.6 300.7h7.4M66 300.7h7.4M73.4 301.7h7.4M66 303.7h7.4M58.6 304.7h7.4M112.4 88.7h7.4M112.4 93.7h7.4M105 97.7h7.4M112.4 97.7h7.4M112.4 101.7h7.4M142 104.7h7.4M105 105.7h7.4M112.4 106.7h7.4M112.4 107.7h7.4M112.4 111.7h7.4M105 112.7h7.4M112.4 116.7h7.4M142 116.7h7.4M105 130.7h7.4M112.4 130.7h7.4M105 133.7h7.4M112.4 133.7h7.4M112.4 136.7h7.4M105 139.7h7.4M112.4 139.7h7.4M112.4 140.7h7.4M105 142.7h7.4M112.4 142.7h7.4M105 146.7h7.4M112.4 146.7h7.4M112.4 147.7h7.4M105 148.7h7.4M112.4 148.7h7.4M112.4 156.7h7.4M112.4 157.7h7.4M112.4 165.7h7.4M105 169.7h7.4M112.4 175.7h7.4M105 176.7h7.4M105 177.7h7.4M142 177.7h7.4M112.4 178.7h7.4M105 179.7h7.4M112.4 179.7h7.4M105 181.7h7.4M105 183.7h7.4M105 184.7h7.4M127.2 184.7h7.4M105 190.7h7.4M105 192.7h7.4M105 193.7h7.4M105 194.7h7.4M112.4 195.7h7.4M112.4 196.7h7.4M105 198.7h7.4M142 204.7h7.4M112.4 208.7h7.4M105 209.7h7.4M112.4 213.7h7.4M112.4 215.7h7.4M105 218.7h7.4M112.4 218.7h7.4M105 220.7h7.4M105 223.7h7.4M105 226.7h7.4M112.4 226.7h7.4M105 231.7h7.4M105 235.7h7.4M112.4 240.7h7.4M112.4 243.7h7.4M112.4 247.7h7.4M105 254.7h7.4M105 266.7h7.4M105 269.7h7.4M105 271.7h7.4M112.4 273.7h7.4M112.4 275.7h7.4M127.2 279.7h7.4M105 281.7h7.4M105 282.7h7.4M112.4 282.7h7.4M112.4 286.7h7.4M127.2 286.7h7.4M127.2 291.7h7.4M112.4 292.7h7.4M112.4 293.7h7.4M105 298.7h7.4M112.4 302.7h7.4M105 304.7h7.4"/>
<path stroke="#dfd9ef" stroke-width="1.24" d="M58.6 47h7.4M66 47h7.4M95.6 48.2h7.4M73.4 54.2h7.4M112.4 44.6h7.4M105 45.8h7.4M105 47h7.4M112.4 50.6h7.4M112.4 51.8h7.4M149.4 51.8h7.4M149.4 54.2h7.4M112.4 55.4h7.4M149.4 55.4h7.4M119.8 66.2h7.4M119.8 67.4h7.4M149.4 68.6h7.4M105 74.6h7.4M105 77h7.4"/>
<path stroke="#e7e2f3" stroke-width="1.04" d="M66 81.7h7.4M73.4 87.7h7.4M95.6 89.7h7.4M73.4 91.7h7.4M51.2 94.7h7.4M58.6 98.7h7.4M73.4 101.7h7.4M95.6 101.7h7.4M73.4 103.7h7.4M95.6 105.7h7.4M73.4 109.7h7.4M73.4 111.7h7.4M73.4 112.7h7.4M73.4 115.7h7.4M51.2 117.7h7.4M73.4 122.7h7.4M51.2 126.7h7.4M73.4 128.7h7.4M51.2 130.7h7.4M88.2 131.7h7.4M51.2 132.7h7.4M95.6 132.7h7.4M80.8 134.7h7.4M95.6 134.7h7.4M73.4 137.7h7.4M73.4 141.7h7.4M51.2 143.7h7.4M80.8 144.7h7.4M95.6 144.7h7.4M73.4 146.7h7.4M95.6 147.7h7.4M51.2 151.7h7.4M95.6 158.7h7.4M51.2 160.7h7.4M66 163.7h7.4M51.2 166.7h7.4M51.2 168.7h7.4M58.6 168.7h7.4M95.6 169.7h7.4M51.2 171.7h7.4M58.6 171.7h7.4M95.6 172.7h7.4M51.2 173.7h7.4M73.4 184.7h7.4M95.6 185.7h7.4M95.6 188.7h7.4M73.4 192.7h7.4M51.2 193.7h7.4M73.4 193.7h7.4M73.4 195.7h7.4M73.4 198.7h7.4M66 199.7h7.4M73.4 199.7h7.4M88.2 199.7h7.4M58.6 201.7h7.4M73.4 204.7h7.4M95.6 209.7h7.4M51.2 210.7h7.4M73.4 214.7h7.4M51.2 215.7h7.4M58.6 218.7h7.4M51.2 222.7h7.4M95.6 228.7h7.4M73.4 236.7h7.4M95.6 240.7h7.4M51.2 242.7h7.4M58.6 244.7h7.4M66 244.7h7.4M51.2 249.7h7.4M95.6 249.7h7.4M73.4 251.7h7.4M73.4 252.7h7.4M73.4 256.7h7.4M58.6 257.7h7.4M73.4 263.7h7.4M58.6 265.7h7.4M66 270.7h7.4M95.6 271.7h7.4M73.4 275.7h7.4M58.6 276.7h7.4M80.8 277.7h7.4M95.6 278.7h7.4M95.6 284.7h7.4M95.6 286.7h7.4M95.6 287.7h7.4M73.4 295.7h7.4M66 298.7h7.4M112.4 82.7h7.4M105 85.7h7.4M142 88.7h7.4M105 89.7h7.4M112.4 90.7h7.4M112.4 92.7h7.4M142 93.7h7.4M112.4 94.7h7.4M112.4 96.7h7.4M119.8 97.7h7.4M142 97.7h7.4M112.4 99.7h7.4M105 106.7h7.4M127.2 106.7h7.4M142 108.7h7.4M112.4 109.7h7.4M112.4 113.7h7.4M105 115.7h7.4M105 116.7h7.4M105 117.7h7.4M105 120.7h7.4M112.4 121.7h7.4M105 122.7h7.4M112.4 124.7h7.4M112.4 125.7h7.4M105 127.7h7.4M105 128.7h7.4M112.4 132.7h7.4M142 134.7h7.4M142 137.7h7.4M105 145.7h7.4M142 145.7h7.4M112.4 150.7h7.4M112.4 151.7h7.4M112.4 153.7h7.4M142 153.7h7.4M112.4 154.7h7.4M127.2 156.7h7.4M112.4 159.7h7.4M105 161.7h7.4M112.4 164.7h7.4M105 166.7h7.4M112.4 166.7h7.4M105 167.7h7.4M112.4 167.7h7.4M112.4 168.7h7.4M105 170.7h7.4M112.4 172.7h7.4M112.4 176.7h7.4M127.2 176.7h7.4M142 179.7h7.4M105 182.7h7.4M112.4 184.7h7.4M142 184.7h7.4M119.8 185.7h7.4M142 185.7h7.4M105 188.7h7.4M142 188.7h7.4M112.4 190.7h7.4M142 194.7h7.4M105 195.7h7.4M112.4 200.7h7.4M105 203.7h7.4M112.4 204.7h7.4M112.4 211.7h7.4M105 216.7h7.4M112.4 216.7h7.4M105 217.7h7.4M112.4 217.7h7.4M119.8 218.7h7.4M112.4 221.7h7.4M105 222.7h7.4M142 223.7h7.4M112.4 227.7h7.4M105 230.7h7.4M112.4 232.7h7.4M127.2 233.7h7.4M112.4 236.7h7.4M105 240.7h7.4M105 241.7h7.4M112.4 241.7h7.4M105 242.7h7.4M105 243.7h7.4M142 246.7h7.4M105 250.7h7.4M112.4 252.7h7.4M112.4 253.7h7.4M112.4 254.7h7.4M142 260.7h7.4M142 272.7h7.4M112.4 274.7h7.4M112.4 276.7h7.4M105 277.7h7.4M112.4 277.7h7.4M142 284.7h7.4M105 287.7h7.4M112.4 287.7h7.4M112.4 289.7h7.4M112.4 290.7h7.4M142 291.7h7.4M105 292.7h7.4M105 297.7h7.4M112.4 298.7h7.4M105 299.7h7.4M105 300.7h7.4M112.4 303.7h7.4M105 306.7h7.4"/>
<path stroke="#e7e2f3" stroke-width="1.24" d="M95.6 53h7.4M95.6 54.2h7.4M66 61.4h7.4M66 73.4h7.4M88.2 78.2h7.4M119.8 44.6h7.4M127.2 50.6h7.4M105 51.8h7.4M105 54.2h7.4M127.2 55.4h7.4M119.8 59h7.4M105 63.8h7.4M142 66.2h7.4M142 68.6h7.4M105 69.8h7.4M112.4 73.4h7.4M142 73.4h7.4M127.2 75.8h7.4M105 78.2h7.4M105 80.6h7.4"/>
<path stroke="#e8201a" stroke-width="1.04" d="M134.6 82.7h7.4M134.6 86.7h7.4M134.6 89.7h7.4M134.6 92.7h7.4M134.6 94.7h7.4M134.6 96.7h7.4M134.6 98.7h7.4M134.6 100.7h7.4M134.6 101.7h7.4M134.6 102.7h7.4M134.6 103.7h7.4M134.6 105.7h7.4M134.6 106.7h7.4M134.6 108.7h7.4M134.6 111.7h7.4M134.6 113.7h7.4M134.6 114.7h7.4M134.6 115.7h7.4M134.6 116.7h7.4M134.6 117.7h7.4M134.6 118.7h7.4M134.6 120.7h7.4M134.6 122.7h7.4M134.6 123.7h7.4M134.6 124.7h7.4M134.6 125.7h7.4M134.6 127.7h7.4M134.6 128.7h7.4M134.6 129.7h7.4M134.6 130.7h7.4M134.6 135.7h7.4M134.6 137.7h7.4M134.6 138.7h7.4M134.6 141.7h7.4M134.6 142.7h7.4M134.6 144.7h7.4M134.6 147.7h7.4M134.6 149.7h7.4M134.6 150.7h7.4M134.6 152.7h7.4M134.6 154.7h7.4M134.6 157.7h7.4M134.6 158.7h7.4M134.6 159.7h7.4M134.6 160.7h7.4M134.6 161.7h7.4M134.6 162.7h7.4M134.6 163.7h7.4M134.6 164.7h7.4M134.6 166.7h7.4M134.6 169.7h7.4M134.6 170.7h7.4M134.6 172.7h7.4M134.6 173.7h7.4M134.6 176.7h7.4M134.6 178.7h7.4M134.6 180.7h7.4M134.6 182.7h7.4M134.6 186.7h7.4M134.6 189.7h7.4M134.6 191.7h7.4M134.6 192.7h7.4M134.6 193.7h7.4M134.6 197.7h7.4M134.6 198.7h7.4M134.6 200.7h7.4M134.6 201.7h7.4M134.6 202.7h7.4M134.6 204.7h7.4M134.6 205.7h7.4M134.6 206.7h7.4M134.6 207.7h7.4M134.6 208.7h7.4M134.6 209.7h7.4M134.6 210.7h7.4M134.6 211.7h7.4M134.6 212.7h7.4M134.6 213.7h7.4M134.6 214.7h7.4M134.6 216.7h7.4M134.6 217.7h7.4M134.6 219.7h7.4M134.6 222.7h7.4M134.6 224.7h7.4M134.6 226.7h7.4M134.6 228.7h7.4M134.6 229.7h7.4M134.6 230.7h7.4M134.6 235.7h7.4M134.6 236.7h7.4M134.6 237.7h7.4M134.6 239.7h7.4M134.6 241.7h7.4M134.6 242.7h7.4M134.6 245.7h7.4M134.6 246.7h7.4M134.6 248.7h7.4M134.6 249.7h7.4M134.6 252.7h7.4M134.6 254.7h7.4M134.6 255.7h7.4M134.6 256.7h7.4M134.6 257.7h7.4M134.6 259.7h7.4M134.6 260.7h7.4M134.6 261.7h7.4M134.6 264.7h7.4M134.6 265.7h7.4M134.6 266.7h7.4M134.6 268.7h7.4M134.6 269.7h7.4M134.6 270.7h7.4M134.6 271.7h7.4M134.6 274.7h7.4M134.6 276.7h7.4M134.6 277.7h7.4M134.6 281.7h7.4M134.6 283.7h7.4M134.6 284.7h7.4M134.6 285.7h7.4M134.6 287.7h7.4M134.6 288.7h7.4M134.6 290.7h7.4M134.6 291.7h7.4M134.6 292.7h7.4M134.6 294.7h7.4M134.6 296.7h7.4M134.6 301.7h7.4M134.6 302.7h7.4M134.6 303.7h7.4M134.6 304.7h7.4M134.6 306.7h7.4"/>
<path stroke="#e92a21" stroke-width="1.04" d="M134.6 83.7h7.4M134.6 84.7h7.4M134.6 95.7h7.4M134.6 97.7h7.4M134.6 99.7h7.4M134.6 104.7h7.4M134.6 109.7h7.4M134.6 112.7h7.4M134.6 119.7h7.4M134.6 133.7h7.4M134.6 134.7h7.4M134.6 136.7h7.4M134.6 143.7h7.4M134.6 145.7h7.4M134.6 151.7h7.4M134.6 153.7h7.4M134.6 165.7h7.4M134.6 175.7h7.4M134.6 179.7h7.4M134.6 184.7h7.4M134.6 195.7h7.4M134.6 203.7h7.4M134.6 225.7h7.4M134.6 231.7h7.4M134.6 232.7h7.4M134.6 233.7h7.4M134.6 238.7h7.4M134.6 240.7h7.4M134.6 243.7h7.4M134.6 258.7h7.4M134.6 263.7h7.4M134.6 272.7h7.4M134.6 275.7h7.4M134.6 278.7h7.4M134.6 280.7h7.4M134.6 282.7h7.4M134.6 286.7h7.4M134.6 289.7h7.4M134.6 295.7h7.4M134.6 297.7h7.4M134.6 299.7h7.4M134.6 300.7h7.4M134.6 305.7h7.4"/>
<path stroke="#ea3328" stroke-width="1.04" d="M134.6 85.7h7.4M134.6 87.7h7.4M134.6 93.7h7.4M134.6 126.7h7.4M134.6 131.7h7.4M134.6 132.7h7.4M134.6 148.7h7.4M134.6 155.7h7.4M134.6 171.7h7.4M134.6 174.7h7.4M134.6 181.7h7.4M134.6 183.7h7.4M134.6 185.7h7.4M134.6 187.7h7.4M134.6 188.7h7.4M134.6 194.7h7.4M134.6 196.7h7.4M134.6 199.7h7.4M134.6 220.7h7.4M134.6 221.7h7.4M134.6 227.7h7.4M134.6 244.7h7.4M134.6 247.7h7.4M134.6 273.7h7.4M134.6 293.7h7.4M134.6 298.7h7.4"/>
<path stroke="#ea3328" stroke-width="1.24" d="M80.8 68.6h7.4"/>
<path stroke="#eb3d30" stroke-width="1.04" d="M134.6 91.7h7.4M134.6 139.7h7.4M134.6 167.7h7.4M134.6 168.7h7.4M134.6 215.7h7.4M134.6 223.7h7.4M134.6 251.7h7.4M134.6 262.7h7.4M134.6 279.7h7.4"/>
<path stroke="#eb3d30" stroke-width="1.24" d="M80.8 67.4h7.4M80.8 77h7.4"/>
<path stroke="#ec4737" stroke-width="1.04" d="M134.6 90.7h7.4M134.6 107.7h7.4M134.6 140.7h7.4M134.6 146.7h7.4M134.6 156.7h7.4M134.6 177.7h7.4M134.6 190.7h7.4M134.6 218.7h7.4M134.6 234.7h7.4M134.6 250.7h7.4M134.6 253.7h7.4M134.6 267.7h7.4"/>
<path stroke="#ec4737" stroke-width="1.24" d="M80.8 45.8h7.4M80.8 48.2h7.4"/>
<path stroke="#ed503e" stroke-width="1.04" d="M134.6 88.7h7.4M134.6 110.7h7.4"/>
<path stroke="#ee5a45" stroke-width="1.04" d="M134.6 121.7h7.4"/>
<path stroke="#ee5a45" stroke-width="1.24" d="M80.8 50.6h7.4M80.8 51.8h7.4M80.8 56.6h7.4M51.2 67.4h7.4M80.8 75.8h7.4M80.8 80.6h7.4"/>
<path stroke="#efecf7" stroke-width="1.04" d="M73.4 81.7h7.4M51.2 82.7h7.4M73.4 84.7h7.4M95.6 84.7h7.4M51.2 87.7h7.4M51.2 88.7h7.4M73.4 88.7h7.4M95.6 92.7h7.4M95.6 95.7h7.4M73.4 98.7h7.4M73.4 99.7h7.4M51.2 100.7h7.4M51.2 102.7h7.4M73.4 106.7h7.4M95.6 108.7h7.4M58.6 109.7h7.4M51.2 111.7h7.4M51.2 114.7h7.4M51.2 115.7h7.4M51.2 116.7h7.4M73.4 116.7h7.4M95.6 121.7h7.4M51.2 125.7h7.4M73.4 126.7h7.4M95.6 127.7h7.4M51.2 128.7h7.4M95.6 128.7h7.4M51.2 129.7h7.4M51.2 135.7h7.4M95.6 136.7h7.4M73.4 138.7h7.4M73.4 140.7h7.4M58.6 143.7h7.4M51.2 146.7h7.4M95.6 150.7h7.4M51.2 152.7h7.4M73.4 152.7h7.4M51.2 154.7h7.4M73.4 154.7h7.4M51.2 157.7h7.4M73.4 157.7h7.4M73.4 159.7h7.4M95.6 160.7h7.4M95.6 161.7h7.4M95.6 162.7h7.4M58.6 165.7h7.4M51.2 170.7h7.4M51.2 172.7h7.4M73.4 175.7h7.4M95.6 176.7h7.4M51.2 177.7h7.4M51.2 181.7h7.4M58.6 182.7h7.4M51.2 187.7h7.4M58.6 199.7h7.4M66 201.7h7.4M95.6 201.7h7.4M95.6 204.7h7.4M51.2 206.7h7.4M73.4 211.7h7.4M73.4 216.7h7.4M73.4 221.7h7.4M73.4 225.7h7.4M95.6 225.7h7.4M80.8 226.7h7.4M73.4 227.7h7.4M73.4 228.7h7.4M95.6 229.7h7.4M66 238.7h7.4M73.4 240.7h7.4M95.6 241.7h7.4M51.2 257.7h7.4M51.2 258.7h7.4M58.6 258.7h7.4M95.6 260.7h7.4M95.6 262.7h7.4M58.6 267.7h7.4M73.4 267.7h7.4M95.6 268.7h7.4M58.6 288.7h7.4M73.4 288.7h7.4M80.8 292.7h7.4M95.6 303.7h7.4M95.6 304.7h7.4M112.4 83.7h7.4M142 84.7h7.4M112.4 85.7h7.4M112.4 86.7h7.4M142 86.7h7.4M112.4 87.7h7.4M105 88.7h7.4M105 90.7h7.4M142 95.7h7.4M105 107.7h7.4M105 109.7h7.4M105 111.7h7.4M142 112.7h7.4M127.2 116.7h7.4M142 121.7h7.4M142 122.7h7.4M105 126.7h7.4M142 126.7h7.4M112.4 128.7h7.4M142 128.7h7.4M127.2 129.7h7.4M105 131.7h7.4M142 131.7h7.4M105 132.7h7.4M119.8 132.7h7.4M142 132.7h7.4M112.4 135.7h7.4M127.2 139.7h7.4M105 144.7h7.4M112.4 145.7h7.4M127.2 147.7h7.4M142 148.7h7.4M105 149.7h7.4M119.8 150.7h7.4M105 153.7h7.4M105 158.7h7.4M105 160.7h7.4M112.4 160.7h7.4M105 163.7h7.4M112.4 163.7h7.4M142 164.7h7.4M105 165.7h7.4M142 165.7h7.4M127.2 167.7h7.4M105 168.7h7.4M142 171.7h7.4M142 172.7h7.4M105 175.7h7.4M105 178.7h7.4M112.4 180.7h7.4M142 181.7h7.4M112.4 186.7h7.4M105 191.7h7.4M142 191.7h7.4M142 192.7h7.4M105 197.7h7.4M112.4 197.7h7.4M119.8 197.7h7.4M112.4 201.7h7.4M105 202.7h7.4M142 205.7h7.4M112.4 206.7h7.4M142 206.7h7.4M112.4 207.7h7.4M105 208.7h7.4M142 208.7h7.4M112.4 209.7h7.4M105 211.7h7.4M127.2 211.7h7.4M105 213.7h7.4M119.8 221.7h7.4M105 225.7h7.4M112.4 225.7h7.4M142 226.7h7.4M142 227.7h7.4M112.4 230.7h7.4M105 232.7h7.4M105 233.7h7.4M105 234.7h7.4M112.4 234.7h7.4M127.2 234.7h7.4M112.4 235.7h7.4M105 238.7h7.4M119.8 238.7h7.4M112.4 239.7h7.4M105 244.7h7.4M142 247.7h7.4M112.4 248.7h7.4M105 249.7h7.4M127.2 249.7h7.4M142 251.7h7.4M105 253.7h7.4M105 255.7h7.4M127.2 258.7h7.4M105 259.7h7.4M112.4 262.7h7.4M142 262.7h7.4M105 263.7h7.4M112.4 265.7h7.4M105 267.7h7.4M112.4 268.7h7.4M112.4 269.7h7.4M105 270.7h7.4M142 286.7h7.4M105 293.7h7.4M105 294.7h7.4M142 295.7h7.4M105 296.7h7.4M112.4 299.7h7.4M105 302.7h7.4M127.2 305.7h7.4"/>
<path stroke="#efecf7" stroke-width="1.24" d="M95.6 44.6h7.4M88.2 50.6h7.4M73.4 51.8h7.4M66 59h7.4M95.6 59h7.4M95.6 62.6h7.4M95.6 63.8h7.4M66 75.8h7.4M95.6 77h7.4M95.6 79.4h7.4M149.4 44.6h7.4M105 48.2h7.4M142 54.2h7.4M105 56.6h7.4M105 57.8h7.4M127.2 57.8h7.4M112.4 59h7.4M105 62.6h7.4M127.2 66.2h7.4M105 68.6h7.4M105 71h7.4M149.4 73.4h7.4M105 75.8h7.4"/>
<path stroke="#f0644c" stroke-width="1.24" d="M80.8 53h7.4M80.8 60.2h7.4M80.8 63.8h7.4M80.8 72.2h7.4M51.2 74.6h7.4"/>
<path stroke="#f16d53" stroke-width="1.24" d="M51.2 53h7.4M51.2 57.8h7.4M80.8 65h7.4M51.2 71h7.4M80.8 71h7.4"/>
<path stroke="#f2775a" stroke-width="1.24" d="M51.2 45.8h7.4M80.8 55.4h7.4M80.8 59h7.4M80.8 66.2h7.4M80.8 74.6h7.4M51.2 75.8h7.4M51.2 80.6h7.4"/>
<path stroke="#f38162" stroke-width="1.24" d="M80.8 44.6h7.4M51.2 48.2h7.4M80.8 54.2h7.4M51.2 56.6h7.4M51.2 59h7.4M80.8 62.6h7.4M51.2 73.4h7.4M51.2 77h7.4M80.8 79.4h7.4"/>
<path stroke="#f48a69" stroke-width="1.24" d="M51.2 44.6h7.4M51.2 69.8h7.4M51.2 72.2h7.4M58.6 72.2h7.4M80.8 73.4h7.4M51.2 78.2h7.4M80.8 78.2h7.4"/>
<path stroke="#f59470" stroke-width="1.24" d="M80.8 47h7.4M80.8 49.4h7.4M80.8 57.8h7.4M51.2 62.6h7.4M51.2 63.8h7.4"/>
<path stroke="#f69d7c" stroke-width="1.04" d="M51.2 81.7h7.4M80.8 81.7h7.4M149.4 151.7h7.4M149.4 230.7h7.4M149.4 301.7h7.4"/>
<path stroke="#f69d7c" stroke-width="1.24" d="M51.2 49.4h7.4M51.2 50.6h7.4M88.2 63.8h7.4M51.2 68.6h7.4M80.8 69.8h7.4M88.2 77h7.4M51.2 79.4h7.4"/>
<path stroke="#f7a688" stroke-width="1.04" d="M80.8 83.7h7.4M149.4 89.7h7.4M149.4 127.7h7.4M149.4 197.7h7.4M149.4 264.7h7.4M149.4 277.7h7.4"/>
<path stroke="#f7a688" stroke-width="1.24" d="M80.8 61.4h7.4M51.2 65h7.4M88.2 65h7.4M51.2 66.2h7.4M58.6 74.6h7.4M88.2 74.6h7.4"/>
<path stroke="#f7f5fb" stroke-width="1.04" d="M105 81.7h7.4M95.6 82.7h7.4M73.4 83.7h7.4M73.4 85.7h7.4M95.6 86.7h7.4M51.2 89.7h7.4M95.6 91.7h7.4M51.2 93.7h7.4M51.2 96.7h7.4M95.6 96.7h7.4M51.2 97.7h7.4M95.6 97.7h7.4M95.6 102.7h7.4M51.2 103.7h7.4M51.2 104.7h7.4M95.6 106.7h7.4M51.2 109.7h7.4M80.8 109.7h7.4M95.6 111.7h7.4M51.2 112.7h7.4M51.2 113.7h7.4M95.6 113.7h7.4M95.6 116.7h7.4M95.6 118.7h7.4M73.4 119.7h7.4M51.2 121.7h7.4M73.4 125.7h7.4M95.6 125.7h7.4M95.6 126.7h7.4M51.2 127.7h7.4M73.4 131.7h7.4M95.6 133.7h7.4M51.2 137.7h7.4M51.2 138.7h7.4M95.6 138.7h7.4M95.6 139.7h7.4M51.2 140.7h7.4M95.6 141.7h7.4M95.6 142.7h7.4M95.6 145.7h7.4M95.6 148.7h7.4M95.6 151.7h7.4M51.2 153.7h7.4M51.2 155.7h7.4M51.2 159.7h7.4M80.8 162.7h7.4M51.2 165.7h7.4M51.2 167.7h7.4M73.4 167.7h7.4M73.4 168.7h7.4M95.6 168.7h7.4M73.4 171.7h7.4M73.4 173.7h7.4M51.2 174.7h7.4M95.6 181.7h7.4M51.2 183.7h7.4M51.2 190.7h7.4M95.6 190.7h7.4M95.6 194.7h7.4M95.6 198.7h7.4M95.6 203.7h7.4M95.6 210.7h7.4M95.6 211.7h7.4M95.6 213.7h7.4M95.6 214.7h7.4M80.8 215.7h7.4M73.4 218.7h7.4M95.6 221.7h7.4M51.2 231.7h7.4M95.6 232.7h7.4M95.6 235.7h7.4M58.6 239.7h7.4M73.4 243.7h7.4M95.6 244.7h7.4M95.6 245.7h7.4M51.2 248.7h7.4M95.6 250.7h7.4M51.2 252.7h7.4M95.6 252.7h7.4M95.6 266.7h7.4M95.6 273.7h7.4M95.6 280.7h7.4M80.8 282.7h7.4M95.6 282.7h7.4M80.8 283.7h7.4M95.6 285.7h7.4M80.8 287.7h7.4M80.8 289.7h7.4M95.6 290.7h7.4M80.8 296.7h7.4M95.6 299.7h7.4M80.8 303.7h7.4M142 90.7h7.4M105 91.7h7.4M142 91.7h7.4M112.4 98.7h7.4M142 98.7h7.4M105 99.7h7.4M105 101.7h7.4M105 104.7h7.4M142 106.7h7.4M142 107.7h7.4M105 110.7h7.4M142 113.7h7.4M105 114.7h7.4M112.4 114.7h7.4M142 117.7h7.4M105 118.7h7.4M112.4 118.7h7.4M112.4 119.7h7.4M142 120.7h7.4M112.4 123.7h7.4M112.4 126.7h7.4M127.2 128.7h7.4M112.4 129.7h7.4M105 136.7h7.4M119.8 136.7h7.4M105 137.7h7.4M112.4 138.7h7.4M142 139.7h7.4M142 140.7h7.4M112.4 141.7h7.4M142 141.7h7.4M105 143.7h7.4M127.2 145.7h7.4M142 146.7h7.4M119.8 148.7h7.4M105 150.7h7.4M105 151.7h7.4M142 151.7h7.4M119.8 153.7h7.4M127.2 153.7h7.4M105 154.7h7.4M112.4 155.7h7.4M105 159.7h7.4M142 159.7h7.4M142 160.7h7.4M127.2 161.7h7.4M112.4 162.7h7.4M105 164.7h7.4M127.2 165.7h7.4M127.2 166.7h7.4M142 167.7h7.4M127.2 169.7h7.4M127.2 172.7h7.4M105 173.7h7.4M112.4 173.7h7.4M127.2 173.7h7.4M142 175.7h7.4M119.8 177.7h7.4M127.2 177.7h7.4M142 180.7h7.4M119.8 184.7h7.4M127.2 185.7h7.4M112.4 187.7h7.4M112.4 188.7h7.4M142 190.7h7.4M127.2 191.7h7.4M112.4 192.7h7.4M112.4 198.7h7.4M142 198.7h7.4M105 201.7h7.4M105 205.7h7.4M127.2 205.7h7.4M142 209.7h7.4M105 210.7h7.4M112.4 210.7h7.4M119.8 212.7h7.4M142 212.7h7.4M142 214.7h7.4M119.8 215.7h7.4M142 215.7h7.4M127.2 217.7h7.4M142 218.7h7.4M112.4 220.7h7.4M119.8 220.7h7.4M127.2 223.7h7.4M142 224.7h7.4M119.8 225.7h7.4M142 231.7h7.4M119.8 232.7h7.4M127.2 238.7h7.4M112.4 242.7h7.4M127.2 242.7h7.4M142 242.7h7.4M127.2 243.7h7.4M127.2 244.7h7.4M142 244.7h7.4M119.8 247.7h7.4M142 248.7h7.4M112.4 249.7h7.4M142 252.7h7.4M127.2 253.7h7.4M142 258.7h7.4M119.8 260.7h7.4M127.2 260.7h7.4M105 264.7h7.4M112.4 264.7h7.4M142 264.7h7.4M119.8 268.7h7.4M112.4 271.7h7.4M142 271.7h7.4M105 278.7h7.4M142 279.7h7.4M119.8 282.7h7.4M142 282.7h7.4M127.2 284.7h7.4M112.4 285.7h7.4M142 285.7h7.4M112.4 288.7h7.4M112.4 294.7h7.4M112.4 300.7h7.4M105 301.7h7.4M142 303.7h7.4M142 305.7h7.4"/>
<path stroke="#f7f5fb" stroke-width="1.24" d="M66 44.6h7.4M73.4 44.6h7.4M58.6 57.8h7.4M73.4 60.2h7.4M58.6 61.4h7.4M66 66.2h7.4M73.4 66.2h7.4M95.6 68.6h7.4M58.6 73.4h7.4M66 77h7.4M73.4 79.4h7.4M105 44.6h7.4M119.8 51.8h7.4M142 51.8h7.4M105 60.2h7.4M105 61.4h7.4M105 67.4h7.4M149.4 67.4h7.4M119.8 68.6h7.4"/>
<path stroke="#f8af94" stroke-width="1.04" d="M80.8 123.7h7.4M80.8 206.7h7.4M149.4 95.7h7.4M149.4 96.7h7.4M149.4 118.7h7.4M149.4 120.7h7.4M149.4 135.7h7.4M149.4 141.7h7.4M149.4 155.7h7.4M149.4 200.7h7.4M149.4 210.7h7.4M149.4 226.7h7.4M149.4 256.7h7.4M149.4 258.7h7.4M149.4 259.7h7.4M149.4 263.7h7.4M149.4 268.7h7.4M149.4 270.7h7.4M149.4 273.7h7.4M149.4 288.7h7.4"/>
<path stroke="#f8af94" stroke-width="1.24" d="M88.2 45.8h7.4M51.2 51.8h7.4M51.2 60.2h7.4M51.2 61.4h7.4"/>
<path stroke="#f8b8a0" stroke-width="1.04" d="M80.8 87.7h7.4M80.8 89.7h7.4M80.8 108.7h7.4M80.8 116.7h7.4M80.8 120.7h7.4M80.8 148.7h7.4M80.8 157.7h7.4M80.8 174.7h7.4M80.8 274.7h7.4M149.4 82.7h7.4M149.4 85.7h7.4M149.4 98.7h7.4M149.4 101.7h7.4M149.4 105.7h7.4M149.4 123.7h7.4M149.4 129.7h7.4M149.4 132.7h7.4M149.4 137.7h7.4M149.4 138.7h7.4M149.4 152.7h7.4M149.4 154.7h7.4M149.4 158.7h7.4M149.4 166.7h7.4M149.4 167.7h7.4M149.4 189.7h7.4M149.4 208.7h7.4M149.4 222.7h7.4M149.4 240.7h7.4M149.4 241.7h7.4M149.4 245.7h7.4M149.4 255.7h7.4M149.4 261.7h7.4M149.4 265.7h7.4M149.4 271.7h7.4M119.8 274.7h7.4M149.4 290.7h7.4M149.4 293.7h7.4M149.4 296.7h7.4M149.4 300.7h7.4M119.8 301.7h7.4M149.4 302.7h7.4"/>
<path stroke="#f8b8a0" stroke-width="1.24" d="M88.2 44.6h7.4M73.4 53h7.4M51.2 54.2h7.4M88.2 54.2h7.4M58.6 56.6h7.4M88.2 60.2h7.4M73.4 72.2h7.4M88.2 72.2h7.4M58.6 77h7.4"/>
<path stroke="#f9c1ac" stroke-width="1.04" d="M80.8 100.7h7.4M80.8 115.7h7.4M80.8 118.7h7.4M80.8 127.7h7.4M149.4 84.7h7.4M149.4 86.7h7.4M149.4 92.7h7.4M149.4 100.7h7.4M149.4 109.7h7.4M149.4 114.7h7.4M149.4 144.7h7.4M149.4 161.7h7.4M149.4 162.7h7.4M149.4 164.7h7.4M149.4 174.7h7.4M149.4 180.7h7.4M149.4 181.7h7.4M149.4 182.7h7.4M149.4 186.7h7.4M149.4 187.7h7.4M119.8 189.7h7.4M149.4 198.7h7.4M149.4 202.7h7.4M149.4 203.7h7.4M149.4 205.7h7.4M149.4 207.7h7.4M149.4 209.7h7.4M149.4 211.7h7.4M149.4 213.7h7.4M149.4 218.7h7.4M149.4 219.7h7.4M149.4 223.7h7.4M149.4 228.7h7.4M149.4 235.7h7.4M119.8 242.7h7.4M119.8 245.7h7.4M149.4 247.7h7.4M149.4 250.7h7.4M149.4 254.7h7.4M149.4 257.7h7.4M149.4 266.7h7.4M149.4 278.7h7.4M149.4 282.7h7.4M149.4 283.7h7.4M119.8 289.7h7.4M119.8 290.7h7.4M119.8 292.7h7.4M149.4 294.7h7.4M149.4 304.7h7.4M149.4 305.7h7.4M149.4 306.7h7.4"/>
<path stroke="#f9c1ac" stroke-width="1.24" d="M66 48.2h7.4M88.2 51.8h7.4M88.2 53h7.4M73.4 57.8h7.4M88.2 57.8h7.4M73.4 67.4h7.4M73.4 68.6h7.4M88.2 69.8h7.4M73.4 77h7.4M58.6 80.6h7.4"/>
<path stroke="#facab8" stroke-width="1.04" d="M80.8 88.7h7.4M80.8 98.7h7.4M80.8 99.7h7.4M80.8 101.7h7.4M80.8 102.7h7.4M80.8 104.7h7.4M80.8 113.7h7.4M80.8 128.7h7.4M80.8 131.7h7.4M80.8 135.7h7.4M80.8 136.7h7.4M80.8 149.7h7.4M80.8 168.7h7.4M80.8 170.7h7.4M80.8 177.7h7.4M80.8 200.7h7.4M80.8 207.7h7.4M80.8 218.7h7.4M80.8 244.7h7.4M80.8 247.7h7.4M80.8 257.7h7.4M80.8 259.7h7.4M149.4 90.7h7.4M119.8 96.7h7.4M149.4 99.7h7.4M149.4 113.7h7.4M149.4 115.7h7.4M149.4 117.7h7.4M149.4 119.7h7.4M149.4 126.7h7.4M149.4 128.7h7.4M149.4 133.7h7.4M149.4 140.7h7.4M149.4 142.7h7.4M149.4 147.7h7.4M149.4 149.7h7.4M119.8 160.7h7.4M149.4 160.7h7.4M149.4 169.7h7.4M119.8 172.7h7.4M149.4 172.7h7.4M149.4 178.7h7.4M149.4 183.7h7.4M149.4 188.7h7.4M149.4 192.7h7.4M149.4 201.7h7.4M149.4 206.7h7.4M119.8 211.7h7.4M149.4 216.7h7.4M149.4 217.7h7.4M149.4 229.7h7.4M149.4 232.7h7.4M149.4 236.7h7.4M127.2 240.7h7.4M119.8 248.7h7.4M149.4 252.7h7.4M127.2 255.7h7.4M149.4 267.7h7.4M149.4 272.7h7.4M149.4 276.7h7.4M149.4 281.7h7.4M149.4 286.7h7.4M149.4 289.7h7.4M119.8 294.7h7.4M127.2 294.7h7.4M149.4 295.7h7.4M149.4 299.7h7.4"/>
<path stroke="#facab8" stroke-width="1.24" d="M58.6 45.8h7.4M58.6 53h7.4M88.2 61.4h7.4M58.6 67.4h7.4M66 67.4h7.4M66 68.6h7.4M88.2 71h7.4M66 80.6h7.4"/>
<path stroke="#fbd2c3" stroke-width="1.04" d="M80.8 85.7h7.4M80.8 86.7h7.4M80.8 93.7h7.4M80.8 94.7h7.4M80.8 96.7h7.4M80.8 105.7h7.4M80.8 106.7h7.4M80.8 107.7h7.4M80.8 119.7h7.4M80.8 124.7h7.4M80.8 125.7h7.4M80.8 126.7h7.4M80.8 130.7h7.4M80.8 137.7h7.4M80.8 138.7h7.4M95.6 143.7h7.4M80.8 158.7h7.4M80.8 161.7h7.4M80.8 171.7h7.4M80.8 175.7h7.4M80.8 182.7h7.4M80.8 184.7h7.4M80.8 185.7h7.4M80.8 188.7h7.4M80.8 199.7h7.4M80.8 229.7h7.4M80.8 236.7h7.4M80.8 248.7h7.4M80.8 305.7h7.4M119.8 82.7h7.4M119.8 83.7h7.4M127.2 83.7h7.4M149.4 87.7h7.4M127.2 89.7h7.4M149.4 91.7h7.4M119.8 92.7h7.4M149.4 97.7h7.4M119.8 98.7h7.4M119.8 100.7h7.4M127.2 102.7h7.4M149.4 103.7h7.4M149.4 106.7h7.4M149.4 111.7h7.4M119.8 113.7h7.4M127.2 114.7h7.4M119.8 119.7h7.4M119.8 124.7h7.4M149.4 124.7h7.4M149.4 125.7h7.4M119.8 126.7h7.4M149.4 134.7h7.4M119.8 135.7h7.4M149.4 139.7h7.4M149.4 145.7h7.4M149.4 150.7h7.4M119.8 152.7h7.4M149.4 153.7h7.4M119.8 157.7h7.4M119.8 158.7h7.4M127.2 158.7h7.4M119.8 162.7h7.4M149.4 168.7h7.4M149.4 170.7h7.4M149.4 173.7h7.4M149.4 175.7h7.4M149.4 176.7h7.4M149.4 184.7h7.4M127.2 186.7h7.4M142 189.7h7.4M149.4 191.7h7.4M149.4 196.7h7.4M119.8 202.7h7.4M119.8 210.7h7.4M149.4 212.7h7.4M149.4 215.7h7.4M119.8 219.7h7.4M149.4 221.7h7.4M149.4 225.7h7.4M119.8 228.7h7.4M149.4 234.7h7.4M142 235.7h7.4M149.4 239.7h7.4M119.8 241.7h7.4M149.4 242.7h7.4M149.4 243.7h7.4M149.4 249.7h7.4M119.8 250.7h7.4M149.4 253.7h7.4M149.4 260.7h7.4M119.8 266.7h7.4M149.4 269.7h7.4M119.8 271.7h7.4M149.4 275.7h7.4M119.8 276.7h7.4M119.8 278.7h7.4M127.2 278.7h7.4M142 278.7h7.4M149.4 279.7h7.4M149.4 287.7h7.4M149.4 297.7h7.4M149.4 298.7h7.4M142 301.7h7.4M149.4 303.7h7.4M119.8 306.7h7.4"/>
<path stroke="#fbd2c3" stroke-width="1.24" d="M73.4 48.2h7.4M58.6 54.2h7.4M88.2 55.4h7.4M73.4 56.6h7.4M73.4 63.8h7.4M58.6 68.6h7.4M58.6 69.8h7.4M73.4 69.8h7.4M73.4 71h7.4M73.4 73.4h7.4M73.4 74.6h7.4M95.6 74.6h7.4M73.4 78.2h7.4"/>
<path stroke="#fcdbcf" stroke-width="1.04" d="M80.8 82.7h7.4M80.8 84.7h7.4M80.8 91.7h7.4M95.6 98.7h7.4M80.8 110.7h7.4M80.8 111.7h7.4M80.8 112.7h7.4M95.6 119.7h7.4M80.8 122.7h7.4M80.8 129.7h7.4M80.8 133.7h7.4M80.8 139.7h7.4M80.8 141.7h7.4M80.8 142.7h7.4M80.8 146.7h7.4M80.8 147.7h7.4M80.8 152.7h7.4M80.8 155.7h7.4M80.8 156.7h7.4M80.8 159.7h7.4M80.8 165.7h7.4M80.8 173.7h7.4M80.8 181.7h7.4M80.8 183.7h7.4M80.8 190.7h7.4M80.8 197.7h7.4M80.8 211.7h7.4M80.8 230.7h7.4M80.8 232.7h7.4M80.8 246.7h7.4M80.8 252.7h7.4M80.8 258.7h7.4M80.8 261.7h7.4M80.8 264.7h7.4M80.8 276.7h7.4M80.8 281.7h7.4M80.8 290.7h7.4M80.8 301.7h7.4M80.8 306.7h7.4M149.4 83.7h7.4M127.2 87.7h7.4M149.4 88.7h7.4M127.2 92.7h7.4M149.4 93.7h7.4M119.8 94.7h7.4M149.4 94.7h7.4M127.2 99.7h7.4M142 102.7h7.4M149.4 102.7h7.4M119.8 109.7h7.4M127.2 110.7h7.4M149.4 110.7h7.4M119.8 112.7h7.4M149.4 116.7h7.4M127.2 117.7h7.4M127.2 120.7h7.4M149.4 121.7h7.4M127.2 122.7h7.4M149.4 122.7h7.4M127.2 127.7h7.4M119.8 129.7h7.4M119.8 130.7h7.4M149.4 130.7h7.4M127.2 131.7h7.4M149.4 131.7h7.4M149.4 136.7h7.4M149.4 143.7h7.4M142 157.7h7.4M127.2 162.7h7.4M119.8 166.7h7.4M149.4 171.7h7.4M119.8 174.7h7.4M127.2 174.7h7.4M149.4 177.7h7.4M127.2 183.7h7.4M127.2 189.7h7.4M149.4 190.7h7.4M119.8 193.7h7.4M127.2 195.7h7.4M149.4 195.7h7.4M127.2 198.7h7.4M149.4 199.7h7.4M119.8 200.7h7.4M127.2 202.7h7.4M119.8 206.7h7.4M119.8 209.7h7.4M142 211.7h7.4M149.4 214.7h7.4M119.8 216.7h7.4M142 219.7h7.4M127.2 220.7h7.4M149.4 224.7h7.4M149.4 233.7h7.4M127.2 237.7h7.4M149.4 237.7h7.4M119.8 239.7h7.4M119.8 240.7h7.4M149.4 244.7h7.4M119.8 246.7h7.4M119.8 249.7h7.4M127.2 254.7h7.4M119.8 256.7h7.4M119.8 257.7h7.4M127.2 257.7h7.4M119.8 259.7h7.4M127.2 259.7h7.4M119.8 263.7h7.4M127.2 266.7h7.4M119.8 273.7h7.4M127.2 276.7h7.4M127.2 277.7h7.4M119.8 286.7h7.4M142 288.7h7.4M127.2 289.7h7.4M119.8 303.7h7.4M127.2 306.7h7.4"/>
<path stroke="#fcdbcf" stroke-width="1.24" d="M66 45.8h7.4M88.2 48.2h7.4M58.6 49.4h7.4M58.6 51.8h7.4M58.6 60.2h7.4M73.4 61.4h7.4M58.6 62.6h7.4M88.2 62.6h7.4M58.6 63.8h7.4M88.2 66.2h7.4M58.6 75.8h7.4"/>
<path stroke="#fce4db" stroke-width="1.04" d="M95.6 83.7h7.4M80.8 92.7h7.4M80.8 95.7h7.4M80.8 97.7h7.4M80.8 103.7h7.4M80.8 117.7h7.4M80.8 145.7h7.4M95.6 146.7h7.4M80.8 153.7h7.4M95.6 153.7h7.4M80.8 169.7h7.4M80.8 178.7h7.4M80.8 187.7h7.4M80.8 189.7h7.4M80.8 191.7h7.4M80.8 192.7h7.4M80.8 201.7h7.4M80.8 202.7h7.4M80.8 209.7h7.4M80.8 221.7h7.4M80.8 223.7h7.4M80.8 231.7h7.4M80.8 234.7h7.4M80.8 242.7h7.4M80.8 243.7h7.4M95.6 243.7h7.4M95.6 247.7h7.4M95.6 248.7h7.4M95.6 257.7h7.4M80.8 262.7h7.4M95.6 263.7h7.4M80.8 269.7h7.4M80.8 270.7h7.4M80.8 271.7h7.4M80.8 273.7h7.4M95.6 274.7h7.4M80.8 275.7h7.4M95.6 289.7h7.4M80.8 291.7h7.4M95.6 291.7h7.4M80.8 294.7h7.4M127.2 82.7h7.4M142 83.7h7.4M119.8 84.7h7.4M119.8 89.7h7.4M119.8 93.7h7.4M127.2 93.7h7.4M127.2 95.7h7.4M119.8 102.7h7.4M119.8 104.7h7.4M149.4 104.7h7.4M127.2 107.7h7.4M149.4 107.7h7.4M149.4 112.7h7.4M127.2 118.7h7.4M127.2 119.7h7.4M142 119.7h7.4M119.8 128.7h7.4M127.2 132.7h7.4M127.2 136.7h7.4M127.2 138.7h7.4M119.8 139.7h7.4M127.2 141.7h7.4M149.4 146.7h7.4M119.8 147.7h7.4M149.4 148.7h7.4M119.8 149.7h7.4M127.2 151.7h7.4M142 152.7h7.4M127.2 155.7h7.4M127.2 157.7h7.4M149.4 159.7h7.4M149.4 163.7h7.4M119.8 164.7h7.4M127.2 164.7h7.4M119.8 176.7h7.4M119.8 179.7h7.4M149.4 179.7h7.4M119.8 181.7h7.4M119.8 186.7h7.4M119.8 187.7h7.4M127.2 192.7h7.4M149.4 193.7h7.4M149.4 194.7h7.4M119.8 196.7h7.4M119.8 198.7h7.4M142 202.7h7.4M119.8 203.7h7.4M149.4 204.7h7.4M127.2 208.7h7.4M127.2 209.7h7.4M119.8 213.7h7.4M127.2 213.7h7.4M127.2 216.7h7.4M119.8 217.7h7.4M142 217.7h7.4M149.4 220.7h7.4M127.2 225.7h7.4M149.4 227.7h7.4M127.2 228.7h7.4M142 228.7h7.4M142 229.7h7.4M142 230.7h7.4M119.8 235.7h7.4M119.8 236.7h7.4M127.2 241.7h7.4M142 245.7h7.4M127.2 246.7h7.4M149.4 246.7h7.4M127.2 247.7h7.4M149.4 248.7h7.4M149.4 251.7h7.4M119.8 253.7h7.4M119.8 255.7h7.4M119.8 261.7h7.4M127.2 261.7h7.4M127.2 262.7h7.4M119.8 264.7h7.4M127.2 264.7h7.4M119.8 265.7h7.4M127.2 265.7h7.4M119.8 267.7h7.4M127.2 271.7h7.4M149.4 274.7h7.4M127.2 275.7h7.4M149.4 280.7h7.4M149.4 284.7h7.4M149.4 285.7h7.4M119.8 287.7h7.4M127.2 287.7h7.4M142 287.7h7.4M119.8 288.7h7.4M127.2 288.7h7.4M142 289.7h7.4M142 290.7h7.4M127.2 292.7h7.4M119.8 296.7h7.4M127.2 298.7h7.4M119.8 299.7h7.4M119.8 300.7h7.4M119.8 302.7h7.4"/>
<path stroke="#fce4db" stroke-width="1.24" d="M51.2 47h7.4M88.2 47h7.4M88.2 49.4h7.4M66 56.6h7.4M95.6 57.8h7.4M88.2 59h7.4M66 65h7.4M58.6 71h7.4M95.6 71h7.4M88.2 73.4h7.4M88.2 75.8h7.4"/>
<path stroke="#fdede7" stroke-width="1.04" d="M51.2 85.7h7.4M95.6 88.7h7.4M80.8 90.7h7.4M95.6 100.7h7.4M51.2 101.7h7.4M95.6 104.7h7.4M51.2 110.7h7.4M51.2 123.7h7.4M95.6 129.7h7.4M95.6 131.7h7.4M80.8 132.7h7.4M80.8 140.7h7.4M80.8 151.7h7.4M95.6 159.7h7.4M80.8 163.7h7.4M80.8 164.7h7.4M95.6 165.7h7.4M80.8 167.7h7.4M95.6 167.7h7.4M95.6 171.7h7.4M80.8 172.7h7.4M80.8 176.7h7.4M95.6 183.7h7.4M80.8 186.7h7.4M95.6 186.7h7.4M80.8 193.7h7.4M95.6 193.7h7.4M80.8 203.7h7.4M80.8 204.7h7.4M80.8 205.7h7.4M80.8 208.7h7.4M80.8 213.7h7.4M80.8 216.7h7.4M80.8 219.7h7.4M80.8 222.7h7.4M80.8 225.7h7.4M80.8 235.7h7.4M80.8 239.7h7.4M80.8 240.7h7.4M80.8 241.7h7.4M80.8 251.7h7.4M95.6 255.7h7.4M80.8 256.7h7.4M95.6 258.7h7.4M95.6 261.7h7.4M80.8 263.7h7.4M80.8 265.7h7.4M95.6 265.7h7.4M80.8 266.7h7.4M95.6 276.7h7.4M80.8 278.7h7.4M80.8 280.7h7.4M95.6 281.7h7.4M80.8 288.7h7.4M95.6 288.7h7.4M95.6 294.7h7.4M80.8 295.7h7.4M80.8 297.7h7.4M95.6 297.7h7.4M80.8 298.7h7.4M80.8 300.7h7.4M95.6 302.7h7.4M80.8 304.7h7.4M95.6 305.7h7.4M105 83.7h7.4M142 85.7h7.4M119.8 86.7h7.4M127.2 86.7h7.4M119.8 87.7h7.4M119.8 91.7h7.4M127.2 91.7h7.4M127.2 94.7h7.4M119.8 95.7h7.4M127.2 97.7h7.4M127.2 98.7h7.4M119.8 99.7h7.4M127.2 100.7h7.4M127.2 101.7h7.4M105 103.7h7.4M127.2 103.7h7.4M112.4 105.7h7.4M149.4 108.7h7.4M127.2 112.7h7.4M119.8 116.7h7.4M119.8 117.7h7.4M119.8 118.7h7.4M119.8 121.7h7.4M127.2 123.7h7.4M142 123.7h7.4M142 124.7h7.4M142 129.7h7.4M127.2 135.7h7.4M142 135.7h7.4M119.8 138.7h7.4M127.2 140.7h7.4M127.2 142.7h7.4M142 149.7h7.4M127.2 150.7h7.4M119.8 151.7h7.4M105 155.7h7.4M119.8 155.7h7.4M119.8 156.7h7.4M105 157.7h7.4M149.4 157.7h7.4M119.8 159.7h7.4M127.2 160.7h7.4M112.4 161.7h7.4M119.8 161.7h7.4M127.2 163.7h7.4M119.8 167.7h7.4M119.8 168.7h7.4M127.2 168.7h7.4M142 169.7h7.4M127.2 170.7h7.4M119.8 178.7h7.4M127.2 179.7h7.4M127.2 181.7h7.4M119.8 182.7h7.4M119.8 183.7h7.4M142 183.7h7.4M149.4 185.7h7.4M142 187.7h7.4M127.2 190.7h7.4M119.8 191.7h7.4M119.8 195.7h7.4M127.2 199.7h7.4M119.8 201.7h7.4M127.2 201.7h7.4M112.4 202.7h7.4M119.8 207.7h7.4M127.2 207.7h7.4M142 210.7h7.4M127.2 219.7h7.4M142 220.7h7.4M119.8 222.7h7.4M127.2 222.7h7.4M119.8 223.7h7.4M119.8 224.7h7.4M119.8 226.7h7.4M119.8 227.7h7.4M119.8 230.7h7.4M127.2 230.7h7.4M119.8 231.7h7.4M149.4 231.7h7.4M127.2 232.7h7.4M127.2 235.7h7.4M119.8 237.7h7.4M149.4 238.7h7.4M127.2 239.7h7.4M127.2 245.7h7.4M127.2 252.7h7.4M142 255.7h7.4M149.4 262.7h7.4M127.2 263.7h7.4M142 267.7h7.4M142 269.7h7.4M142 270.7h7.4M119.8 272.7h7.4M142 273.7h7.4M142 276.7h7.4M119.8 277.7h7.4M142 277.7h7.4M119.8 280.7h7.4M142 281.7h7.4M119.8 284.7h7.4M149.4 292.7h7.4M127.2 293.7h7.4M119.8 295.7h7.4M127.2 296.7h7.4M142 296.7h7.4M142 297.7h7.4M119.8 298.7h7.4M112.4 301.7h7.4M127.2 301.7h7.4M127.2 304.7h7.4M142 306.7h7.4"/>
<path stroke="#fdede7" stroke-width="1.24" d="M58.6 50.6h7.4M95.6 56.6h7.4M58.6 59h7.4M66 62.6h7.4M73.4 62.6h7.4M58.6 65h7.4M58.6 66.2h7.4M88.2 67.4h7.4M88.2 68.6h7.4M66 71h7.4M95.6 72.2h7.4M88.2 79.4h7.4"/>
<path stroke="#fef6f3" stroke-width="1.04" d="M95.6 87.7h7.4M51.2 107.7h7.4M95.6 107.7h7.4M95.6 110.7h7.4M95.6 112.7h7.4M80.8 114.7h7.4M95.6 114.7h7.4M95.6 115.7h7.4M51.2 119.7h7.4M80.8 121.7h7.4M95.6 122.7h7.4M95.6 123.7h7.4M73.4 135.7h7.4M95.6 135.7h7.4M95.6 140.7h7.4M80.8 143.7h7.4M73.4 148.7h7.4M95.6 152.7h7.4M80.8 154.7h7.4M51.2 156.7h7.4M95.6 157.7h7.4M80.8 166.7h7.4M95.6 174.7h7.4M95.6 177.7h7.4M80.8 180.7h7.4M95.6 180.7h7.4M51.2 182.7h7.4M73.4 182.7h7.4M95.6 187.7h7.4M51.2 195.7h7.4M80.8 195.7h7.4M80.8 196.7h7.4M95.6 197.7h7.4M95.6 199.7h7.4M95.6 202.7h7.4M95.6 206.7h7.4M95.6 207.7h7.4M80.8 217.7h7.4M95.6 218.7h7.4M80.8 224.7h7.4M95.6 227.7h7.4M80.8 228.7h7.4M80.8 233.7h7.4M95.6 234.7h7.4M95.6 236.7h7.4M51.2 238.7h7.4M80.8 238.7h7.4M95.6 242.7h7.4M80.8 245.7h7.4M80.8 249.7h7.4M80.8 250.7h7.4M80.8 254.7h7.4M80.8 255.7h7.4M80.8 260.7h7.4M80.8 267.7h7.4M95.6 267.7h7.4M95.6 270.7h7.4M80.8 272.7h7.4M95.6 275.7h7.4M80.8 285.7h7.4M80.8 286.7h7.4M95.6 296.7h7.4M80.8 299.7h7.4M80.8 302.7h7.4M95.6 306.7h7.4M105 82.7h7.4M112.4 84.7h7.4M127.2 84.7h7.4M127.2 88.7h7.4M142 89.7h7.4M127.2 90.7h7.4M112.4 91.7h7.4M105 92.7h7.4M142 92.7h7.4M105 96.7h7.4M142 96.7h7.4M142 99.7h7.4M142 100.7h7.4M142 101.7h7.4M105 102.7h7.4M142 103.7h7.4M142 105.7h7.4M119.8 107.7h7.4M119.8 108.7h7.4M127.2 109.7h7.4M119.8 110.7h7.4M142 110.7h7.4M127.2 111.7h7.4M142 111.7h7.4M105 113.7h7.4M127.2 113.7h7.4M119.8 114.7h7.4M119.8 115.7h7.4M127.2 115.7h7.4M142 118.7h7.4M112.4 120.7h7.4M119.8 120.7h7.4M119.8 122.7h7.4M105 124.7h7.4M127.2 124.7h7.4M119.8 125.7h7.4M127.2 126.7h7.4M119.8 127.7h7.4M142 127.7h7.4M127.2 130.7h7.4M119.8 131.7h7.4M119.8 133.7h7.4M142 133.7h7.4M105 134.7h7.4M119.8 134.7h7.4M142 136.7h7.4M142 138.7h7.4M119.8 140.7h7.4M119.8 141.7h7.4M142 142.7h7.4M119.8 143.7h7.4M142 143.7h7.4M119.8 144.7h7.4M127.2 144.7h7.4M127.2 148.7h7.4M127.2 149.7h7.4M105 152.7h7.4M112.4 152.7h7.4M142 155.7h7.4M149.4 156.7h7.4M112.4 158.7h7.4M142 158.7h7.4M142 161.7h7.4M142 163.7h7.4M149.4 165.7h7.4M119.8 171.7h7.4M119.8 173.7h7.4M105 174.7h7.4M142 174.7h7.4M127.2 178.7h7.4M127.2 180.7h7.4M142 186.7h7.4M127.2 187.7h7.4M119.8 188.7h7.4M127.2 188.7h7.4M105 189.7h7.4M119.8 190.7h7.4M119.8 192.7h7.4M119.8 194.7h7.4M142 195.7h7.4M127.2 196.7h7.4M119.8 199.7h7.4M142 200.7h7.4M142 201.7h7.4M142 203.7h7.4M119.8 204.7h7.4M127.2 204.7h7.4M105 206.7h7.4M127.2 206.7h7.4M119.8 208.7h7.4M127.2 210.7h7.4M127.2 215.7h7.4M142 216.7h7.4M127.2 221.7h7.4M142 221.7h7.4M142 222.7h7.4M127.2 224.7h7.4M127.2 226.7h7.4M112.4 228.7h7.4M105 229.7h7.4M127.2 231.7h7.4M142 233.7h7.4M119.8 234.7h7.4M142 237.7h7.4M142 240.7h7.4M127.2 250.7h7.4M127.2 251.7h7.4M119.8 252.7h7.4M142 253.7h7.4M119.8 254.7h7.4M142 254.7h7.4M127.2 256.7h7.4M142 259.7h7.4M142 261.7h7.4M112.4 263.7h7.4M142 263.7h7.4M112.4 267.7h7.4M127.2 268.7h7.4M142 268.7h7.4M127.2 269.7h7.4M119.8 270.7h7.4M127.2 274.7h7.4M142 274.7h7.4M119.8 275.7h7.4M142 280.7h7.4M119.8 281.7h7.4M127.2 282.7h7.4M127.2 283.7h7.4M142 283.7h7.4M119.8 285.7h7.4M127.2 285.7h7.4M127.2 290.7h7.4M119.8 293.7h7.4M142 293.7h7.4M127.2 297.7h7.4M127.2 299.7h7.4M142 299.7h7.4M142 300.7h7.4M127.2 302.7h7.4M119.8 305.7h7.4"/>
<path stroke="#fef6f3" stroke-width="1.24" d="M58.6 44.6h7.4M95.6 45.8h7.4M58.6 48.2h7.4M66 49.4h7.4M73.4 49.4h7.4M95.6 49.4h7.4M73.4 50.6h7.4M88.2 56.6h7.4M66 57.8h7.4M73.4 59h7.4M66 63.8h7.4M73.4 65h7.4M95.6 67.4h7.4M66 74.6h7.4M58.6 78.2h7.4M73.4 80.6h7.4M105 59h7.4"/>
<path stroke="#ffffff" stroke-width="1.04" d="M88.2 81.7h7.4M73.4 82.7h7.4M51.2 84.7h7.4M95.6 85.7h7.4M51.2 86.7h7.4M73.4 86.7h7.4M51.2 92.7h7.4M95.6 94.7h7.4M73.4 97.7h7.4M51.2 98.7h7.4M95.6 99.7h7.4M95.6 103.7h7.4M95.6 109.7h7.4M73.4 120.7h7.4M95.6 120.7h7.4M95.6 130.7h7.4M95.6 149.7h7.4M80.8 150.7h7.4M95.6 154.7h7.4M95.6 155.7h7.4M95.6 156.7h7.4M73.4 158.7h7.4M80.8 160.7h7.4M95.6 170.7h7.4M95.6 173.7h7.4M95.6 178.7h7.4M80.8 179.7h7.4M95.6 179.7h7.4M95.6 182.7h7.4M95.6 184.7h7.4M95.6 191.7h7.4M95.6 192.7h7.4M80.8 194.7h7.4M95.6 195.7h7.4M95.6 196.7h7.4M80.8 198.7h7.4M95.6 200.7h7.4M80.8 210.7h7.4M80.8 212.7h7.4M80.8 214.7h7.4M95.6 215.7h7.4M95.6 216.7h7.4M95.6 219.7h7.4M80.8 220.7h7.4M95.6 220.7h7.4M51.2 221.7h7.4M95.6 222.7h7.4M95.6 224.7h7.4M80.8 227.7h7.4M95.6 231.7h7.4M95.6 233.7h7.4M80.8 237.7h7.4M95.6 238.7h7.4M95.6 239.7h7.4M73.4 244.7h7.4M95.6 246.7h7.4M95.6 251.7h7.4M80.8 253.7h7.4M95.6 253.7h7.4M95.6 256.7h7.4M95.6 259.7h7.4M73.4 265.7h7.4M80.8 268.7h7.4M95.6 269.7h7.4M80.8 293.7h7.4M95.6 293.7h7.4M95.6 298.7h7.4M95.6 300.7h7.4M95.6 301.7h7.4M142 82.7h7.4M105 84.7h7.4M119.8 85.7h7.4M127.2 85.7h7.4M105 87.7h7.4M142 87.7h7.4M119.8 88.7h7.4M112.4 89.7h7.4M119.8 90.7h7.4M105 94.7h7.4M142 94.7h7.4M105 95.7h7.4M127.2 96.7h7.4M105 98.7h7.4M105 100.7h7.4M112.4 100.7h7.4M119.8 101.7h7.4M112.4 102.7h7.4M112.4 103.7h7.4M119.8 103.7h7.4M127.2 104.7h7.4M119.8 105.7h7.4M127.2 105.7h7.4M119.8 106.7h7.4M105 108.7h7.4M127.2 108.7h7.4M142 109.7h7.4M112.4 110.7h7.4M119.8 111.7h7.4M142 114.7h7.4M142 115.7h7.4M112.4 117.7h7.4M105 119.7h7.4M127.2 121.7h7.4M105 123.7h7.4M119.8 123.7h7.4M127.2 125.7h7.4M112.4 127.7h7.4M105 129.7h7.4M127.2 133.7h7.4M127.2 134.7h7.4M105 135.7h7.4M119.8 137.7h7.4M127.2 137.7h7.4M105 138.7h7.4M105 141.7h7.4M119.8 142.7h7.4M127.2 143.7h7.4M142 144.7h7.4M119.8 145.7h7.4M119.8 146.7h7.4M127.2 146.7h7.4M142 147.7h7.4M112.4 149.7h7.4M142 150.7h7.4M127.2 152.7h7.4M119.8 154.7h7.4M127.2 154.7h7.4M142 154.7h7.4M127.2 159.7h7.4M105 162.7h7.4M142 162.7h7.4M119.8 163.7h7.4M119.8 165.7h7.4M142 166.7h7.4M142 168.7h7.4M119.8 169.7h7.4M119.8 170.7h7.4M142 170.7h7.4M127.2 171.7h7.4M105 172.7h7.4M142 173.7h7.4M119.8 175.7h7.4M127.2 175.7h7.4M142 176.7h7.4M142 178.7h7.4M105 180.7h7.4M119.8 180.7h7.4M112.4 182.7h7.4M127.2 182.7h7.4M142 182.7h7.4M112.4 189.7h7.4M127.2 193.7h7.4M142 193.7h7.4M127.2 194.7h7.4M142 196.7h7.4M127.2 197.7h7.4M142 197.7h7.4M142 199.7h7.4M127.2 200.7h7.4M127.2 203.7h7.4M105 204.7h7.4M119.8 205.7h7.4M142 207.7h7.4M127.2 212.7h7.4M142 213.7h7.4M119.8 214.7h7.4M127.2 214.7h7.4M127.2 218.7h7.4M112.4 219.7h7.4M112.4 222.7h7.4M112.4 224.7h7.4M142 225.7h7.4M127.2 227.7h7.4M105 228.7h7.4M119.8 229.7h7.4M127.2 229.7h7.4M119.8 233.7h7.4M105 236.7h7.4M127.2 236.7h7.4M142 236.7h7.4M142 239.7h7.4M142 241.7h7.4M119.8 243.7h7.4M142 243.7h7.4M119.8 244.7h7.4M127.2 248.7h7.4M142 249.7h7.4M142 250.7h7.4M112.4 251.7h7.4M119.8 251.7h7.4M105 252.7h7.4M142 256.7h7.4M112.4 257.7h7.4M142 257.7h7.4M119.8 258.7h7.4M112.4 259.7h7.4M105 261.7h7.4M119.8 262.7h7.4M142 266.7h7.4M127.2 267.7h7.4M119.8 269.7h7.4M127.2 270.7h7.4M127.2 272.7h7.4M127.2 273.7h7.4M142 275.7h7.4M105 276.7h7.4M112.4 278.7h7.4M119.8 279.7h7.4M127.2 280.7h7.4M127.2 281.7h7.4M119.8 283.7h7.4M105 290.7h7.4M119.8 291.7h7.4M149.4 291.7h7.4M142 292.7h7.4M142 294.7h7.4M127.2 295.7h7.4M112.4 296.7h7.4M119.8 297.7h7.4M142 298.7h7.4M127.2 300.7h7.4M142 302.7h7.4M127.2 303.7h7.4M119.8 304.7h7.4M142 304.7h7.4"/>
<path stroke="#ffffff" stroke-width="1.24" d="M73.4 45.8h7.4M73.4 47h7.4M66 51.8h7.4M95.6 51.8h7.4M66 53h7.4M51.2 55.4h7.4M58.6 55.4h7.4M66 60.2h7.4M66 72.2h7.4M66 78.2h7.4M58.6 79.4h7.4M88.2 80.6h7.4M105 50.6h7.4M105 53h7.4M105 65h7.4M105 66.2h7.4M105 73.4h7.4"/>
<text x="158.5" y="36.6" font-size="5.8" fill="#1a1a1a" stroke="#1a1a1a" stroke-width="0.16" >CD70</text>
<text x="158.5" y="42.3" font-size="5.4" fill="#1a1a1a" stroke="#1a1a1a" stroke-width="0.16" >patient</text>
<polygon points="160.1,45.3 173.1,49.3 160.1,65" fill="none" stroke="#231f20" stroke-width="0.8"/>
<polygon points="173.5,251.4 160,283 160,307.4" fill="none" stroke="#231f20" stroke-width="0.8"/>
<text x="175.8" y="51.6" font-size="6.4" fill="#1a1a1a" stroke="#1a1a1a" stroke-width="0.16" >EIF2S3B LINC00239 RIN3 INSM1</text>
<text x="175.8" y="59.4" font-size="6.4" fill="#1a1a1a" stroke="#1a1a1a" stroke-width="0.16" >AGPAT4 DHRS2 LINC00448 ITGAX</text>
<text x="175.8" y="67.2" font-size="6.4" fill="#1a1a1a" stroke="#1a1a1a" stroke-width="0.16" >GRAMD2B MIR1246 NFIX PIK3AP1</text>
<text x="175.8" y="75" font-size="6.4" fill="#1a1a1a" stroke="#1a1a1a" stroke-width="0.16" >MIR4291 SETBP1 CRART37 GAS2L1P2</text>
<text x="175.8" y="82.8" font-size="6.4" fill="#1a1a1a" stroke="#1a1a1a" stroke-width="0.16" >VIT LINC02446 LINC00561 EYA4</text>
<text x="175.8" y="90.6" font-size="6.4" fill="#1a1a1a" stroke="#1a1a1a" stroke-width="0.16" >TTC38 ZBP1 GALNT11 PDCD5</text>
<text x="175.8" y="98.4" font-size="6.4" fill="#1a1a1a" stroke="#1a1a1a" stroke-width="0.16" >NFATC1 OR5AU1 MIR640 MGC12916</text>
<text x="175.8" y="106.2" font-size="6.4" fill="#1a1a1a" stroke="#1a1a1a" stroke-width="0.16" >LINC02540</text>
<text x="175.8" y="114" font-size="6.4" fill="#1a1a1a" stroke="#1a1a1a" stroke-width="0.16" >SLA2</text>
<text x="175.8" y="252.9" font-size="6.4" fill="#1a1a1a" stroke="#1a1a1a" stroke-width="0.16" >TEX13D RGS1 TSHZ2 SLC4A7</text>
<text x="175.8" y="260.7" font-size="6.4" fill="#1a1a1a" stroke="#1a1a1a" stroke-width="0.16" >MAF NR3C1 ICOS LRRN3</text>
<text x="175.8" y="268.5" font-size="6.4" fill="#1a1a1a" stroke="#1a1a1a" stroke-width="0.16" >KCNJ13 KIAA1109 LINC00708 FXYD4</text>
<text x="175.8" y="276.3" font-size="6.4" fill="#1a1a1a" stroke="#1a1a1a" stroke-width="0.16" >MIR4452 COX11 MDFIC NSD3</text>
<text x="175.8" y="284.1" font-size="6.4" fill="#1a1a1a" stroke="#1a1a1a" stroke-width="0.16" >SLC25A46 LDOC1 NEDD9 PDE4D</text>
<text x="175.8" y="291.9" font-size="6.4" fill="#1a1a1a" stroke="#1a1a1a" stroke-width="0.16" >LEF1 IATPR GTF2IRD1 LINC01364</text>
<text x="175.8" y="299.7" font-size="6.4" fill="#1a1a1a" stroke="#1a1a1a" stroke-width="0.16" >COA6 NOX3 SPATA48 PLCL1</text>
<text x="175.8" y="307.5" font-size="6.4" fill="#1a1a1a" stroke="#1a1a1a" stroke-width="0.16" >ELK3 CD28</text>
<text x="175.5" y="134.2" font-size="7.2" fill="#1a1a1a" stroke="#1a1a1a" stroke-width="0.16" >Patient</text>
<rect x="176" y="140" width="5.2" height="4.8" fill="#8e4fa5" />
<text x="184.8" y="144.6" font-size="6.3" fill="#1a1a1a" stroke="#1a1a1a" stroke-width="0.16" >P01</text>
<rect x="176" y="149.83" width="5.2" height="4.8" fill="#a29cd4" />
<text x="184.8" y="154.43" font-size="6.3" fill="#1a1a1a" stroke="#1a1a1a" stroke-width="0.16" >P02</text>
<rect x="176" y="159.66" width="5.2" height="4.8" fill="#8cc152" />
<text x="184.8" y="164.26" font-size="6.3" fill="#1a1a1a" stroke="#1a1a1a" stroke-width="0.16" >P03</text>
<rect x="176" y="169.49" width="5.2" height="4.8" fill="#d97b74" />
<text x="184.8" y="174.09" font-size="6.3" fill="#1a1a1a" stroke="#1a1a1a" stroke-width="0.16" >P04</text>
<rect x="176" y="179.32" width="5.2" height="4.8" fill="#d6c96c" />
<text x="184.8" y="183.92" font-size="6.3" fill="#1a1a1a" stroke="#1a1a1a" stroke-width="0.16" >P05</text>
<rect x="176" y="189.15" width="5.2" height="4.8" fill="#ccd2da" />
<text x="184.8" y="193.75" font-size="6.3" fill="#1a1a1a" stroke="#1a1a1a" stroke-width="0.16" >P06</text>
<rect x="176" y="198.98" width="5.2" height="4.8" fill="#86d1b8" />
<text x="184.8" y="203.58" font-size="6.3" fill="#1a1a1a" stroke="#1a1a1a" stroke-width="0.16" >P07</text>
<defs><linearGradient id="zg" x1="0" y1="0" x2="0" y2="1"><stop offset="0" stop-color="#f01010"/><stop offset="0.3" stop-color="#f46a48"/><stop offset="0.55" stop-color="#ffffff"/><stop offset="0.75" stop-color="#9d92d4"/><stop offset="1" stop-color="#25189a"/></linearGradient><linearGradient id="cg" x1="0" y1="0" x2="1" y2="0"><stop offset="0" stop-color="#652a9c"/><stop offset="0.24" stop-color="#8d58b4"/><stop offset="0.27" stop-color="#b89bd4"/><stop offset="0.44" stop-color="#e6dcef"/><stop offset="0.5" stop-color="#ffffff"/><stop offset="0.6" stop-color="#fdfbe4"/><stop offset="0.78" stop-color="#f8ee90"/><stop offset="1" stop-color="#f5e51b"/></linearGradient></defs>
<rect x="176.2" y="215.3" width="9.2" height="25.9" fill="url(#zg)" />
<text x="187" y="218.4" font-size="5.0" fill="#1a1a1a" stroke="#1a1a1a" stroke-width="0.16" >4</text>
<text x="187" y="223.6" font-size="5.0" fill="#1a1a1a" stroke="#1a1a1a" stroke-width="0.16" >2</text>
<text x="187" y="229.8" font-size="5.0" fill="#1a1a1a" stroke="#1a1a1a" stroke-width="0.16" >0</text>
<text x="187" y="235.6" font-size="5.0" fill="#1a1a1a" stroke="#1a1a1a" stroke-width="0.16" >−2</text>
<text x="187" y="241.6" font-size="5.0" fill="#1a1a1a" stroke="#1a1a1a" stroke-width="0.16" >−4</text>
<text transform="translate(171.0,227.9) rotate(-90)" font-size="6" font-style="italic" font-weight="bold" text-anchor="middle" fill="#231f20">Z-score</text>
<polygon points="28.3,44.5 28.3,46.1 28.8,47.7 29,49.3 29,50.9 28.2,52.5 29.4,54.1 29,55.7 28.8,57.3 28.9,58.9 29.8,60.5 29.2,62.1 29.2,63.7 29.5,65.3 30.4,66.9 30,68.5 30.5,70.1 29.8,71.7 30.4,73.3 30.4,74.9 30.4,76.5 31.1,78.1 30.8,79.7 30.7,81.3 31,82.9 30.4,84.5 30,86.1 29.8,87.7 30.5,89.3 30.4,90.9 29.8,92.5 30.3,94.1 30.6,95.7 30.4,97.3 30,98.9 30.3,100.5 30.4,102.1 30.5,103.7 29.9,105.3 30.6,106.9 30.8,108.5 30.6,110.1 30.7,111.7 30.1,113.3 30.7,114.9 29.9,116.5 29.9,118.1 30.3,119.7 30.7,121.3 29.7,122.9 29.9,124.5 29.6,126.1 30.1,127.7 29.7,129.3 29.8,130.9 30.5,132.5 30.3,134.1 30.7,135.7 30,137.3 30.3,138.9 29.5,140.5 30.7,142.1 29.8,143.7 30.1,145.3 30.1,146.9 30.6,148.5 30.1,150.1 30.7,151.7 30.2,153.3 29.7,154.9 30.4,156.5 29.7,158.1 30.6,159.7 30,161.3 29.7,162.9 30.6,164.5 29.8,166.1 29.9,167.7 29.8,169.3 30.2,170.9 29.4,172.5 29.8,174.1 29.5,175.7 30.3,177.3 29.3,178.9 30.1,180.5 29.6,182.1 29.9,183.7 30,185.3 30.2,186.9 29.5,188.5 29.6,190.1 29.4,191.7 30.4,193.3 29.4,194.9 29.4,196.5 29.9,198.1 29.9,199.7 30.3,201.3 29.3,202.9 29.5,204.5 29.4,206.1 29.9,207.7 29.7,209.3 29.7,210.9 30.2,212.5 30,214.1 30.2,215.7 30.3,217.3 29.5,218.9 30.3,220.5 29.6,222.1 29.2,223.7 30.2,225.3 29.2,226.9 29.1,228.5 29.4,230.1 29.4,231.7 30.2,233.3 30.1,234.9 29.6,236.5 29.7,238.1 30.1,239.7 30,241.3 29.8,242.9 29.6,244.5 29.2,246.1 29.3,247.7 29.8,249.3 29.7,250.9 29.8,252.5 29.9,254.1 29.9,255.7 28.9,257.3 28.7,258.9 29.6,260.5 29.1,262.1 28.6,263.7 29.1,265.3 28.5,266.9 28.5,268.5 28.5,270.1 28.7,271.7 28.8,273.3 28,274.9 28.7,276.5 28.5,278.1 28.2,279.7 28.4,281.3 28.6,282.9 27.6,284.5 28.2,286.1 28.4,287.7 28.5,289.3 28.4,290.9 27.8,292.5 28.8,294.1 28.5,295.7 27.9,297.3 28.1,298.9 28.7,300.5 27.8,302.1 28.1,303.7 28.8,305.3 28.8,306.6 32.2,306.6 32.2,44.5" fill="#1e1e1e"/>
<path stroke="#262626" stroke-width="0.9" d="M27.3 280.7h.9M28.1 218.5h.9M29.4 77.5h.9M28.2 53.4h.9M30.2 150.8h.9M27.1 291.8h.9M28.8 137.5h.9M29.3 170.7h.9M27.5 221.8h.9M30.3 245.7h.9M28.3 212.9h.9M27.5 95.6h.9M29.8 123.1h.9M31.3 267.5h.9M30 198.9h.9M28.9 234.8h.9M28.9 62.4h.9M28.4 45h.9M29.6 113.7h.9M31.8 74h.9M25 299.1h.9M30.2 128.2h.9M29.4 169.9h.9M29.6 86.7h.9M28.8 208.1h.9M30.2 235.7h.9M30 173.3h.9M26.7 57.5h.9M28.7 226.2h.9M28 253.7h.9M29.2 68.8h.9M29.7 255.5h.9M28.9 104.8h.9M27.9 80.3h.9M28.6 197.2h.9M29 112h.9M30.3 184.2h.9M29.7 102.1h.9M27.6 212.3h.9M28.3 97.8h.9M29.2 218.2h.9M29.2 246.9h.9M32 232.4h.9M28.7 127h.9M28 58.6h.9M29.2 179.1h.9M31.6 289h.9M29.2 75.5h.9M28.9 181.1h.9M27.8 247.9h.9M26.8 62.4h.9M29 219.8h.9M29 127.7h.9M27.9 141.7h.9M31.7 288h.9M28.9 163.9h.9M31.1 117.3h.9M28.8 77.9h.9M30.2 206.9h.9M29.3 246.7h.9M31.2 66.5h.9M29.5 57.5h.9M29 246h.9M29.7 87.1h.9M28.8 263.1h.9M30.4 156h.9M29.8 76.4h.9M29.3 112.3h.9M30.7 278.5h.9M29.3 202.9h.9M29.1 166.4h.9M31.6 94.9h.9M28.2 72.1h.9M29.9 111.1h.9M25 304.5h.9M29 89.4h.9M28 133.8h.9M28.5 271h.9M24.2 46.7h.9M25.2 294.4h.9M27.9 267.2h.9M30 142.5h.9M29.5 143.5h.9M31 152h.9M27.6 277.4h.9M32.9 255.5h.9M29.1 235.5h.9M28.3 216.5h.9M27.4 264.8h.9M28.1 259.8h.9M28.3 265.9h.9M26.5 290.8h.9M30.4 222h.9M29.5 188.1h.9M29.6 133.2h.9M27.9 100.3h.9M29.3 109.6h.9M28.8 253.5h.9M27.9 62.6h.9M28.6 165.5h.9M31.6 255h.9M28.5 279.3h.9M26.8 280.6h.9M30.5 194.8h.9M28.1 198.5h.9M31.8 153.5h.9M28.4 219h.9M26.5 296.1h.9M32.4 76.8h.9M29.4 157.7h.9M27.7 156.9h.9M28.5 251.5h.9M29.6 102.5h.9M31.6 276.3h.9M28.7 158h.9M27.7 97.1h.9M29.7 130.5h.9M30 175.6h.9M32.4 81.7h.9M28.6 253.1h.9M27.3 283.4h.9M30.9 139.1h.9M27.8 98.5h.9M31.8 280.8h.9M31.6 178.3h.9M28.8 210h.9M29.2 155.5h.9M29.8 154.5h.9M29.9 167.2h.9M28.9 232.5h.9M28.9 106.3h.9M31.8 202.6h.9M29.2 97.1h.9M27.5 231.3h.9M29.6 115.7h.9M26.5 292.3h.9M28.9 66.7h.9M27.5 81.4h.9M31.5 212h.9M30.6 108.5h.9M29 86.4h.9M29.1 86.6h.9M27.6 66.4h.9M30.4 92.3h.9M30.8 159.7h.9M29.3 168h.9M29.1 199.7h.9M32 228.5h.9M28.6 150.1h.9M29.2 225.7h.9M31.8 84.1h.9M27.9 267.4h.9M30 137.2h.9M28.8 157.8h.9M28.9 189.8h.9M27.6 82.2h.9M26.9 268h.9M31.5 133.4h.9M29.2 188.5h.9M27.8 280h.9M25.3 51h.9M31.9 139.6h.9M30.3 136h.9M28.6 169.4h.9M29.4 145.8h.9M28.7 141.4h.9M31.5 139.4h.9M29.2 131.4h.9M30 86.1h.9M27.8 59.6h.9M30.1 82.6h.9M29 236.9h.9M30.9 283.4h.9M31.5 67.6h.9M29.2 158.2h.9M27.7 145.5h.9M25.9 273.6h.9M25 54h.9M28.6 76.7h.9M26.9 73.5h.9M28.5 91.6h.9M30.8 138.8h.9M29.2 158.3h.9M32.2 300.3h.9M29 229.6h.9M29.7 136.3h.9M27.5 59.5h.9M29 159.6h.9M29.8 195.4h.9M28.6 132.6h.9M32.3 292.1h.9M28.6 81.5h.9M30.7 144.8h.9M28.8 250.7h.9M24.7 45.5h.9M29.6 193.9h.9M32.8 151.5h.9M28.5 205.8h.9M30.4 143h.9M27.9 251.3h.9M24 304.6h.9M30.6 113h.9M31.5 85.7h.9M27.1 286.7h.9M27.8 288.6h.9M32.5 194.8h.9M29.3 198.3h.9M28.6 248.4h.9M30 116.8h.9M28.2 235h.9M29.6 236.1h.9M29.4 233.8h.9M27.7 216.1h.9M32.6 292h.9M29.7 156.2h.9M31.1 164h.9M31.6 149.5h.9M28.9 241h.9M29.9 222.7h.9M28.7 238.7h.9M28.9 211.5h.9M29.7 52.7h.9M31.9 66.9h.9M29 166.2h.9M27.8 233h.9M31 92.7h.9M28.7 258.3h.9M30.2 132.5h.9M27.2 288.6h.9M26.6 284h.9M28.6 282.4h.9M28.7 209.9h.9M29.3 268.8h.9M29.5 255.9h.9M27.3 239.9h.9M32 297h.9M28.8 86.2h.9M29.2 88.1h.9M29.1 167.7h.9M29.8 189.7h.9M29.6 199h.9M31.6 296.4h.9M30.8 80.9h.9M28.9 188h.9M27.8 51.5h.9M29.4 209.6h.9M25.1 293.4h.9M30.4 210.7h.9M27.1 270.9h.9M32.3 123h.9M31.9 108.2h.9M29.1 189.5h.9M29.7 177.5h.9M31.3 224h.9M24.5 304.9h.9M27.4 57h.9M25.4 298.9h.9M31.8 153.3h.9M29.5 199h.9M29.6 91.1h.9M31.7 70.7h.9M30.7 179.6h.9M25.5 298.2h.9M31.7 262.4h.9M28.7 73.1h.9M29.7 139.8h.9M32.5 294.8h.9M28.9 215.9h.9M27.7 235h.9M30.7 111.1h.9M28.3 85.6h.9M28.8 86.1h.9M28.2 195.1h.9M27.6 48h.9M29.2 155.2h.9M27.7 260.7h.9M27.4 68.3h.9M29.2 245.2h.9M28 220.2h.9M27.4 286.9h.9M30.1 91.6h.9M28.9 67.4h.9M27.3 155.4h.9M29.3 108.3h.9M30.4 124.3h.9M28.5 156.8h.9M28.5 55.9h.9M28.6 85.2h.9M27.3 59.4h.9M29.1 239.3h.9M28.7 178.3h.9M28.2 217.9h.9M27.5 281.4h.9M30.3 96.2h.9M31.7 224.8h.9M29.4 220.4h.9M28.8 149.4h.9M28.3 62.5h.9M32.3 304.5h.9M29.7 172.5h.9M29.1 220.2h.9M26.3 289.6h.9M28.7 168.5h.9M28.9 224.3h.9M32.5 196.1h.9M28.9 254.6h.9M28.2 128.7h.9M28.7 135.5h.9M28.9 140.4h.9M31.4 159.2h.9M29.7 68.1h.9M31.4 84.9h.9M28 232.5h.9M27.9 45h.9M32.2 137h.9M27.2 283h.9M28.9 271.5h.9M26.2 293.3h.9M28.8 95.7h.9M29.3 142.3h.9M28.8 198.7h.9M30 176.5h.9M28.3 218.7h.9M28.6 246.5h.9M28.8 249.4h.9M30.9 178.3h.9M29 120.4h.9M27.7 170.9h.9M29 100h.9M29.8 138.5h.9M29 236.9h.9M30.3 216.2h.9M28.9 211.1h.9M29.6 138.8h.9M24.8 297h.9M26.7 255.6h.9M29.7 132.6h.9M27.9 172.3h.9M29 115h.9M30.9 267.2h.9M28.3 159.5h.9M31.5 92.2h.9M32.1 117.9h.9M31.5 268h.9M29.3 156.4h.9M31.4 75.4h.9M28.7 159.6h.9M26.2 49.3h.9M28.3 143.8h.9M30.3 131.6h.9M30.1 208.3h.9M29.1 204.7h.9M32.1 96.7h.9M28.7 198.1h.9M28.8 128.7h.9M30 202.3h.9M28.5 76.2h.9M32.3 139.5h.9M31.9 74.5h.9M31 108.1h.9M29.7 143.2h.9M28 114.8h.9M32.3 170h.9M29.7 103.9h.9M28 248.6h.9M28.3 254.3h.9M27.1 112.4h.9M30 67.9h.9M29.8 99.9h.9M29.5 141h.9M28.8 177.5h.9M24 302.2h.9M28 178.3h.9M32.5 99.1h.9M28.5 138.1h.9M28.7 118.7h.9M27 295.2h.9M29.8 183.9h.9M28.9 130.4h.9M26.7 295.7h.9M28.6 149.7h.9M28.2 161.4h.9M28 105.2h.9M29.7 142.6h.9M29 51.6h.9M28.6 221.7h.9M29.7 168.2h.9M29.9 226.5h.9M28.6 213.5h.9M28.8 178h.9M27.9 188.8h.9M29.5 79.4h.9M27.8 222.5h.9M28.1 194.3h.9M28 160.4h.9M28.7 139.7h.9M25.2 299.1h.9M28.7 204.9h.9M31.8 289.6h.9M27.4 266.4h.9M29.9 261.7h.9M29.3 159.7h.9M29.2 225.1h.9M27 280.3h.9M27.4 50.8h.9M29.1 208.2h.9M29.2 86h.9M32.8 282.1h.9M24.8 304.3h.9M26.4 287.7h.9M30.3 236.6h.9M30 189.2h.9M27.5 270.7h.9M27.9 250.7h.9M31.7 95.7h.9M29.5 262.6h.9M29 226.8h.9M26.7 294.9h.9M30.4 178.1h.9M32 240h.9M28.5 137.9h.9M30 217.1h.9M29.9 182h.9M28.7 177.3h.9M28.6 96h.9M30.5 68.8h.9M28.2 211.2h.9M30.2 101.3h.9M26.3 44.5h.9M30.5 189.2h.9M29.1 208.6h.9M27.2 270.9h.9M27.8 222.4h.9M26.7 294.6h.9M27.8 70.5h.9M31.8 102.2h.9M29.7 146h.9M30.5 94h.9M27.5 185.4h.9M31.8 48.4h.9M29.6 96.4h.9M28 185.5h.9M28.7 249.4h.9M28.4 194.7h.9M30.3 141.7h.9M29.3 225.8h.9M30.3 188.8h.9M28.6 272.9h.9M29.4 109.3h.9M29.5 172.7h.9M28.4 122.9h.9M29.8 234.1h.9M29.3 102.8h.9M29.2 227.4h.9M25.6 305.9h.9M32 152.3h.9M31 147.2h.9M29.9 178.7h.9M29.6 159h.9M28.7 90.9h.9M26.9 278.4h.9M28.3 165.3h.9M29.6 108.5h.9M31.7 141h.9M24.3 301.3h.9M27.2 265.7h.9M28.7 78.4h.9M28.2 97.8h.9M29.8 216.7h.9M29.4 129.5h.9M29 132.6h.9M28.1 251.9h.9M30 187.6h.9M32.3 61.9h.9M26.3 50.6h.9M29.6 147.9h.9M28.5 153.1h.9M25.5 298.4h.9M29.9 158.5h.9M28.8 214h.9M29.2 147.4h.9M27.9 55.1h.9M26.4 273.8h.9M29.9 116.6h.9M30.7 180.6h.9M28.8 106.6h.9M27.5 153.5h.9M30 123.6h.9M29.2 230.8h.9M29.2 123.3h.9M27.9 49.1h.9M27.8 48.2h.9M29.9 102.5h.9M29.4 180.1h.9M28.3 260h.9M28.7 264.8h.9M29.6 239.2h.9M31.7 201.2h.9M27.9 70.4h.9M27.8 233.6h.9M28.5 174.7h.9M29.2 198h.9M30.6 116.3h.9M29.8 174.4h.9M26.7 74.2h.9M29.2 142.3h.9M29.1 278.7h.9M31.7 304.4h.9M29 111.6h.9M23.9 306.3h.9M29.8 256.9h.9M30.3 90.1h.9M27.7 206.1h.9M29 69.2h.9M27.4 71.5h.9M25.6 55.3h.9M25.2 296.5h.9M29.2 227.1h.9M28 215h.9M31.6 93.4h.9M26.6 297.8h.9M28 264.7h.9M30.2 239.3h.9M27 275.3h.9M28.4 251.1h.9M29.3 254.1h.9M28.2 266.1h.9M29.4 193.4h.9M30 132.5h.9M30.5 102.8h.9M29.1 130.6h.9M29.8 147.8h.9M30.8 158.5h.9M29.4 142.7h.9M25.9 296.6h.9M28.9 70.2h.9M29 197.1h.9M26.1 299.1h.9M32.5 304.2h.9M28.7 49.5h.9M27 256.9h.9M29.1 84.6h.9M29.9 113.9h.9M30.2 194.7h.9M30.2 209.2h.9M28.3 193.1h.9M27.6 288h.9M32.1 229.8h.9M30.2 213.8h.9M28.6 161.2h.9M29.6 243.8h.9M29.2 256.8h.9M32 223.8h.9M29.4 173.7h.9M31.1 293.7h.9M29.4 210.1h.9M26.2 299.6h.9M27.5 48.7h.9M31.1 152.4h.9M29.6 249.1h.9M28.6 106.5h.9M29 213.8h.9M29.9 129h.9M29.3 132.3h.9M26.1 68.7h.9M32.2 227.5h.9M28 264.1h.9M29.2 144.9h.9M28.2 207.2h.9M28.9 173.4h.9M29.2 70.9h.9M27.1 74.5h.9M31.9 273.1h.9M27.4 275h.9M32.3 116.7h.9M27.9 109.1h.9M29.3 143.6h.9M28.2 131.3h.9M27.9 288.2h.9M24 305h.9M28.8 165h.9M26.9 207.9h.9M28.4 210.8h.9M23.4 47.7h.9M27.7 274.5h.9M28.7 214.5h.9M29.6 106.6h.9M30.3 183.1h.9M30.7 129.6h.9M25.8 294.3h.9M28.3 179.7h.9M30.7 90h.9M32.2 247.6h.9M31.9 173.7h.9M28.7 86.9h.9M27.6 288.1h.9M29.8 130.7h.9M29.4 228.3h.9M28.3 76h.9M28.3 259.8h.9M32 101h.9M31.5 44.3h.9M28.4 261.3h.9M27.6 210.7h.9M25.7 303h.9M27.8 126.5h.9M28.3 224h.9M29.2 110.2h.9M32.1 79.6h.9M28.5 227.4h.9M29.2 76h.9M27.3 69.8h.9M29 246.9h.9M28 72h.9M28.8 275.4h.9M29.4 68h.9M26.7 66h.9M27.8 151.6h.9M27.2 52.2h.9M30.2 231.8h.9M29.6 183.8h.9M29.9 121h.9M28.5 238.4h.9M28.4 271.2h.9M30.8 170.4h.9M28.3 162.3h.9M27.8 270.8h.9M29.5 176h.9M30.4 85.2h.9M29.2 144.6h.9M28.3 278.6h.9M32.3 238.7h.9M28.2 217.6h.9M29.1 161.3h.9M32.3 283.9h.9M25.3 297.6h.9M27.7 286.2h.9M24 304.6h.9M26.9 267h.9M30.5 100.2h.9M29.6 167.2h.9M30.2 236.2h.9M24.5 301.2h.9M32.2 195.6h.9M26.3 292.6h.9M28.4 62.1h.9M29.8 197.4h.9M29.2 136.3h.9M31.4 89.2h.9M28.7 156h.9M27.2 127h.9M29.8 192.1h.9M26.2 58.1h.9M28.6 277.9h.9M27.8 249.2h.9M26.9 55.2h.9M27.6 219.6h.9M29.5 259.6h.9M27.3 61.6h.9M26.5 55.5h.9M26.3 53h.9M28.7 161.2h.9M29.9 92.9h.9M28 232.2h.9M28 256.2h.9M28.4 191.8h.9M24.2 300.1h.9M28.2 70.3h.9M30.3 104.7h.9M27.8 272.4h.9M29 233h.9M30.6 122.5h.9M28 136h.9M24.1 303.2h.9M24.9 303.5h.9M28.9 187.4h.9M29.1 246.5h.9M30.4 188.7h.9M29.2 172.7h.9M28.6 168.1h.9M29.5 112.1h.9M28 160.6h.9M27.8 219.9h.9M28.6 235.7h.9M30 125.7h.9M29.2 235.9h.9M30.5 89.5h.9M30.4 82.9h.9M29.2 110.2h.9M28.5 290.8h.9M28.2 241.2h.9M31.7 293.7h.9M26.2 47.5h.9M32.1 157.2h.9M26.8 50.3h.9M27.5 280.6h.9M29.2 99.8h.9M29.8 91.3h.9M28.7 196.1h.9M29.7 247.6h.9M32 134.3h.9M28.1 169.1h.9M31.7 79.3h.9M31.7 287.4h.9M27.2 52.8h.9M29.1 263.4h.9M29.5 175.1h.9M32.4 155.8h.9M30.1 93.4h.9M29.2 75h.9M29.2 182.9h.9M31.7 207.8h.9M29.3 77.3h.9M26.1 289.2h.9M31.2 148.7h.9M29.2 278.3h.9M32.5 187.5h.9M29.8 247.6h.9M29.3 202h.9M28.7 250.1h.9M28.2 127.5h.9M32.2 55.4h.9M27.8 145.1h.9M29.6 123.2h.9M29.3 50.6h.9M29.6 222.1h.9M32 300.2h.9M28.8 229.2h.9M29.7 203.4h.9M28.6 200.5h.9M29.9 116.4h.9M26.7 54.8h.9M24.5 305.6h.9M27.8 280.1h.9M27.3 197.3h.9M28.2 44.9h.9M32.7 59h.9M29.3 265.2h.9M25.7 55.1h.9M29.6 82.2h.9M29.1 254.9h.9M28.8 114h.9M27.6 164.9h.9M28.4 178.5h.9M25.3 304.1h.9M29.4 126.4h.9M30 154h.9M27.2 275.1h.9M28.4 236h.9M30.7 98.2h.9M29.3 200.6h.9M28.9 260.8h.9M25.2 301.2h.9M29.2 234.3h.9M27.9 214.5h.9M27 286.2h.9M27.6 216.5h.9M29.1 194.6h.9M28.3 156h.9M29.7 139.1h.9M29.5 156.3h.9M26.6 48.5h.9M28.6 147.9h.9M29 106.9h.9M31.7 273.8h.9M30.2 129.2h.9M27.5 278.8h.9M29.5 227.6h.9M29.3 167.5h.9M32.7 271.1h.9M31.1 74.1h.9M29 164.8h.9M30 59.9h.9M29.5 219.1h.9M31.7 278.5h.9M28.7 198.8h.9M31.8 109.6h.9M29 104.2h.9M27.7 194.7h.9M30 91.8h.9M32.2 131h.9M28.8 203.4h.9M28.7 151.9h.9M26.1 52.9h.9M28.6 191.4h.9M28.4 280.9h.9M29.2 111h.9M30.9 85h.9M32 159.4h.9M30.1 78.6h.9M29.4 131.4h.9M28.3 168.9h.9M30.9 247.6h.9M32.3 109.9h.9M28.6 182.2h.9M32.1 79.5h.9M28.3 138.6h.9M29.7 98.4h.9M29.3 132.4h.9M28.8 230.9h.9M28.5 62.1h.9M30.5 188.7h.9M29.3 109.4h.9M29.4 252h.9M31.7 227.6h.9M26.8 55.7h.9M29.9 111.9h.9M28.2 157h.9M24.8 302.2h.9M25.1 302.2h.9M27.6 266.9h.9M26.9 277.8h.9M29.9 70.5h.9M26.8 213.1h.9M31.4 118.2h.9M29.4 55.4h.9M27.6 136h.9M30.1 109.2h.9M28.4 209.5h.9M27.6 273.9h.9M28.6 89.8h.9M29 189.6h.9M28.9 279.1h.9M27.4 48.9h.9M29.7 81.6h.9M31.6 121.4h.9M28.3 225.2h.9M27.9 151.5h.9M29.2 217.3h.9M29.6 149.9h.9M28.5 145.3h.9M28.3 254.4h.9M32.5 130.7h.9M27.4 245.3h.9M29.2 251.1h.9M32.1 69.6h.9M29 128.7h.9M28.8 229.6h.9M31.7 253.4h.9M29.2 244.3h.9M30.1 141.7h.9M30.4 165.1h.9M28 133.3h.9M27.5 276.2h.9M29.7 226.4h.9M28 190h.9M32 116h.9M27.1 66.3h.9M26.1 297.6h.9M28.1 189.7h.9M30.7 151.9h.9M30.3 71.1h.9M29.3 220.9h.9M25.9 288.8h.9M26.7 46.8h.9M28.6 183.7h.9M30.6 85.1h.9M28.5 148.7h.9M32 117.1h.9M28.2 124h.9M28 172h.9M30.1 224.1h.9M27 192h.9M31.6 45.9h.9M29.1 231.8h.9M28.9 132.8h.9M29.4 260.5h.9M27.3 55.9h.9M27.6 64.1h.9M29.7 161.7h.9M26.5 283h.9M29 125.1h.9M32.5 135.2h.9M27.9 261.2h.9M30.1 76.5h.9M25.4 303.3h.9M26 296.1h.9M29.6 116h.9M28.6 182.9h.9M28.1 201.1h.9M28.6 237.3h.9M28.3 166h.9M26.6 54.5h.9M31.7 270.2h.9M27.4 268.5h.9M29.4 115.3h.9M25.6 303h.9M29.3 135.9h.9M27.2 73.5h.9M30.8 130.6h.9M31.1 90.2h.9M26.4 60.6h.9M32 236.8h.9M31.8 142.2h.9M31.8 184.7h.9M26.7 292.8h.9M27.4 191.4h.9M31.4 293h.9M30.2 111.5h.9M26.7 292.3h.9M29.4 140.6h.9M30.2 215.6h.9M26.9 286h.9M28.3 81.8h.9M22.9 306.4h.9M32.1 299.1h.9M26.8 184.1h.9M28.6 236.1h.9M26.6 265.7h.9M31.5 96.4h.9M26.2 50.5h.9M26.9 286.5h.9M28.8 92.7h.9M25.6 44.8h.9M28.8 231.6h.9M32.7 270.6h.9M29.5 89.9h.9M28.2 139.9h.9M27.3 157.5h.9M28.3 99.1h.9M29 226.7h.9M25.6 303.3h.9M29.8 127.1h.9M29.5 228.2h.9M29.5 253.4h.9M32.2 163.1h.9M28 71.6h.9M28 77.7h.9M27.6 243.4h.9M29.2 204.3h.9M27.9 92.9h.9M23.8 305.6h.9M28.4 130.4h.9M28.5 109.2h.9M25 306.8h.9M31.7 215.5h.9M29.8 97.5h.9M29.3 124.5h.9M29.9 239.9h.9M25.5 44.4h.9M28.8 53.6h.9M29.1 210.4h.9M28.6 269.2h.9M28.8 207h.9M30 113.2h.9M31.9 128.4h.9M28.8 175.7h.9M29.5 256.7h.9M27.9 249h.9M31.8 159.3h.9M31.8 285.7h.9M27.3 81.2h.9M27.7 262.5h.9M31.6 114.2h.9M28.7 183.9h.9M32.2 61.8h.9M28.2 281.5h.9M28.9 73.3h.9M28.5 256.9h.9M26 47.5h.9M27.5 265.5h.9M27.8 269.4h.9M30.1 129.5h.9M28.7 246.8h.9M32 196.8h.9M23.9 297.4h.9M28.5 241.4h.9M25.3 304h.9M30.1 158.4h.9M28.8 228.6h.9M27.6 245.8h.9M32.2 228.8h.9M29.3 125.3h.9M28.2 151.3h.9M27.8 64.2h.9M28.1 56.8h.9M29.2 236.3h.9M29.5 261.2h.9M28.9 103.8h.9M32.1 83.1h.9M32 210.3h.9M29.6 178h.9M27.6 123.5h.9M29.2 195.9h.9M29 197.9h.9M25 301.9h.9M29.5 77.3h.9M31.3 78.5h.9M29.1 174h.9M30.3 98h.9M29 112.4h.9M30 138.6h.9M26.7 49h.9M24.8 44.7h.9M27.8 280.9h.9M28.9 278.5h.9M29.6 175.8h.9M29.4 206.6h.9M28.7 209.3h.9M27.1 48.2h.9M32.5 271.5h.9M30.1 89.2h.9M32.2 96.7h.9M31.1 144.3h.9M29.1 112.4h.9M28.7 144.4h.9M29 253.5h.9M29.4 212.4h.9M31.9 182h.9M28.5 184.6h.9M30.1 107.6h.9M27.9 277.1h.9M26.8 67.1h.9M26 51h.9M30.2 192.9h.9M30.1 107.2h.9M29.8 183.3h.9M28.9 155.3h.9M31.9 264.8h.9M27.8 232.5h.9M31.9 296.3h.9M28.5 193.5h.9M29.7 104.8h.9M30.4 172.7h.9M31.8 229.9h.9M28.4 254.4h.9M29.7 220h.9M29 138h.9M29 167.6h.9M29.5 171.3h.9M29 89.2h.9M29.8 183.4h.9M25.9 79.1h.9M28.6 118h.9M27.9 128h.9M26.6 45.4h.9M28.8 98.2h.9M26.1 298h.9M31.5 195.4h.9M27.4 261.8h.9M31.3 53.5h.9M27.4 61.5h.9M28.9 142.3h.9M31 141h.9M27.3 279.1h.9M25.9 302h.9M30.2 99.3h.9M29.1 249.9h.9M29.2 252.6h.9M27.9 258.1h.9M27.4 278.4h.9M29.6 174.6h.9M31 87.1h.9M28.8 83.7h.9M29 167.2h.9M30.6 234.3h.9M32.4 204.3h.9M31.7 57.2h.9M30.1 87.3h.9M29.7 197.2h.9M28.9 167.6h.9M28.4 125.3h.9M32 291h.9M29.2 146.2h.9M29.8 111.5h.9M31.7 177.1h.9M28.2 277.7h.9M29.6 180.1h.9M29.6 92.9h.9M29 204.7h.9M29.3 241.4h.9M27.4 274.8h.9M28.6 56.5h.9M25.7 299.6h.9M27.8 232.5h.9M28.3 69.8h.9M29.8 161.3h.9M27.1 75.7h.9M25.1 57.8h.9M31 298.8h.9M29.2 76.7h.9M23.4 305.9h.9M30.3 75.1h.9M32.3 208.2h.9M27.7 46.7h.9M31.8 113.5h.9M30.3 73.3h.9M28.3 204h.9M29.1 203.5h.9M27.2 74h.9M29.4 215.8h.9M29 253.4h.9M31.6 137.9h.9M31.7 192.7h.9M27.2 140.9h.9M27.8 211.9h.9M27.8 197.1h.9M27.2 49.3h.9M29.7 126.6h.9M28.1 209.6h.9M28.9 111.3h.9M28.7 245.2h.9M30.2 137.5h.9M25.4 290.7h.9M30.7 62.7h.9M29.1 222.6h.9M29.6 160.1h.9M29.4 250.9h.9M29.1 197.9h.9M28.1 52.3h.9M30.9 194.6h.9M28.5 167.3h.9M30.2 118h.9M25.8 44.6h.9M28.6 96h.9M27 287.8h.9M27.7 67h.9M27.9 215.6h.9M28.1 53.4h.9M25.7 55.6h.9M28 281.9h.9M32.5 287.2h.9M29.7 213.7h.9M28.9 257.1h.9M31.8 81.8h.9M27.6 60.7h.9M26.4 294.9h.9M28.7 195.5h.9M29.1 131.3h.9M29 216.7h.9M28.7 281.9h.9M32.3 186.8h.9M29 173.4h.9M24.4 302.8h.9M26.8 281.3h.9M29.9 230.7h.9M29.3 116.5h.9M29 85.5h.9M28.6 217.1h.9M31.5 114.3h.9M27.7 124.4h.9M28.9 248.4h.9M27.7 229h.9M29.2 181.2h.9M28.3 226.9h.9M30.5 193.4h.9M28.1 230.7h.9M28 49.9h.9M32.4 54.4h.9M31.5 85.6h.9M28.7 118.4h.9M27.9 239h.9M28.2 263.4h.9M27.9 110.9h.9M30.1 139.1h.9M28.3 172.8h.9M26.8 275.4h.9M30 184.6h.9M29.1 112h.9M31.5 290.6h.9M25.1 299.2h.9M29.2 138.5h.9M31.9 175.9h.9M31.4 116.6h.9M27.8 57.9h.9M26 294.1h.9M28.5 146.3h.9M31.5 272.2h.9M29.5 129.9h.9M27.8 216.3h.9M31.5 63.9h.9M26 300h.9M27.7 211h.9M29 85.4h.9M26 298.7h.9M27 232.5h.9M27.4 260.8h.9M28.6 90.9h.9M31.9 129.6h.9M23.8 305.4h.9M30.7 60.2h.9M30.2 138.3h.9M27.3 268.8h.9M31.5 165h.9M28.9 116.9h.9M29.6 82.5h.9M30.3 254.1h.9M32.2 80.2h.9M28 55.9h.9M29.7 154.9h.9M28.4 158.5h.9M32.2 117.8h.9M28.8 94.1h.9M28.6 233.7h.9M29.5 221.9h.9M28.9 157.9h.9M28.7 184.3h.9M28.1 230.2h.9M28.9 164.1h.9M28.1 156.8h.9M29.2 73.5h.9M29.4 218.1h.9M27.3 282.8h.9M30.4 82h.9M29.5 196.1h.9M28.1 156.7h.9M29.5 216.7h.9M26.9 292.8h.9M29.2 212h.9M27.7 142.1h.9M29.2 178.9h.9M29.3 224.7h.9M32.6 295.5h.9M26.7 264.4h.9M32.3 78.1h.9M28.2 207h.9M28.6 155.7h.9M31.7 76.1h.9M31.7 195.1h.9M30.4 116.8h.9M28.8 99h.9M27.7 65h.9M29.2 181.6h.9M29.8 124.3h.9M29.8 105.1h.9M28.9 230.3h.9M30.1 73.6h.9M28.7 190.5h.9M29.9 176.9h.9M28.6 135.3h.9M32.1 93.2h.9M28.3 202.6h.9M29.4 96.7h.9M28.5 192.6h.9M25.7 49.7h.9M23.6 304.7h.9M30 181.3h.9M27.6 269.6h.9M28.3 263.6h.9M29.4 63.8h.9M30 101.6h.9M30 206.4h.9M26 294h.9M26.7 279.1h.9M28.6 244.8h.9M32.8 298.8h.9M28.6 132.9h.9M27.1 255h.9M28.7 147.9h.9M26.9 273.8h.9M28.8 47.5h.9M32.3 67.2h.9M29.5 103.2h.9M28 151.9h.9M31.3 189.5h.9M29.1 165.5h.9M28.2 225.5h.9M27.1 244.2h.9M30.1 137h.9M32.2 275.5h.9M29.8 92.2h.9M27 269.7h.9M29.2 132.3h.9M31.4 123.5h.9M29.4 147.1h.9M29.8 229.7h.9M30.9 218.1h.9M29.5 119.8h.9M26.4 296.2h.9M32 84.2h.9M29 180h.9M30.5 89.9h.9M27.4 281.9h.9M30.7 73.7h.9M28.3 214.4h.9M28.6 239.9h.9M27.5 283.2h.9M29.3 229.1h.9M27.4 60.5h.9M28.6 273.5h.9M28.6 239.7h.9M30.4 142.7h.9M29.8 183.5h.9M30.9 86.3h.9M31.1 267.3h.9M32.7 53.8h.9M29.5 96.9h.9M28.3 241.8h.9M30.5 76.6h.9M29.8 135h.9M32 173.6h.9M31.6 285.3h.9M29.4 192.6h.9M30.1 101.9h.9M29.1 205.5h.9M27.2 261.6h.9M27.6 266.8h.9M28.4 227.1h.9M29.3 233.8h.9M29.3 241.8h.9M28.8 210.2h.9M28.4 169.4h.9M28.2 241h.9M29 199h.9M30.1 98.2h.9M27.1 275.5h.9M31.3 114.7h.9M29 209.9h.9M28.8 180.5h.9M26.7 283.3h.9M28.9 63.1h.9M31.6 231.1h.9M27.9 276h.9M28 254.9h.9M32.3 166.5h.9M23.5 296.1h.9M28 237.3h.9M29.6 177.6h.9M30.1 112.7h.9M27.9 225.1h.9M29.9 194.7h.9M25.5 299h.9M29.1 166.9h.9M29.7 52.6h.9M31.8 253.9h.9M31.1 141.8h.9M26.1 294h.9M25.8 45.3h.9M28.7 71.8h.9M30.9 222.4h.9M28.5 230.9h.9M28.1 263h.9M28.8 196.8h.9M29.7 129.5h.9M29.1 192.1h.9M28.3 47.8h.9M29.5 162.3h.9M28.5 241.1h.9M30.4 127h.9M31.8 145.8h.9M31.7 112.3h.9M30.1 127h.9M28.6 276.1h.9M31 234.1h.9M26.8 267.5h.9M27.9 248.2h.9M27.5 60.5h.9M30.3 148.4h.9M29.6 185.5h.9M29 116.3h.9M29.5 73.6h.9M31.7 138.7h.9M32.2 271.2h.9M27.8 61.5h.9M29.1 176.1h.9M29.8 223.3h.9M29.7 76.4h.9M29 71.1h.9M28.1 275.2h.9M27.5 215.2h.9M30.2 259.7h.9M32.2 102.2h.9M29.7 242.3h.9M30.2 82.4h.9M28.3 220.8h.9M27.8 273.1h.9M30.4 225.7h.9M29.4 249h.9M29 199.3h.9M28.4 117h.9M27.9 100.2h.9M28.6 233.2h.9M28.3 177.7h.9M28.7 178h.9M27.8 275.7h.9M26.9 75.4h.9M28.7 126.5h.9M24.3 306.4h.9M29.7 141.6h.9M31.7 209.5h.9M32 142.7h.9M28.4 82h.9M28 153.3h.9M32 279.2h.9M28.7 245.6h.9M29.5 96.8h.9M30.3 90.6h.9M30.1 152.1h.9M30.4 224.4h.9M32 242.3h.9M29.2 121.3h.9M25.2 298.2h.9M28.9 188.2h.9M25.8 301.9h.9M30.3 199.6h.9M28.2 257.7h.9M30.5 91.3h.9M28.6 65.3h.9M31.9 89.8h.9M24.8 299.3h.9"/>
<polygon points="45,44.2 39.3,44.2 40.5,50 41.6,60 42.2,72 42.4,81 43,82.3 45,82.3" fill="#111"/>
<polygon points="45,82.3 47.3,82.3 47.4,150 47.6,250 48.2,290 49.6,305 49.6,307.1 45,307.1" fill="#111"/>
<line x1="21" y1="307.3" x2="32.8" y2="307.3" stroke="#555" stroke-width="0.4" />
<line x1="37.9" y1="307.3" x2="49.8" y2="307.3" stroke="#555" stroke-width="0.4" />
<text x="21.7" y="312" font-size="3.6" text-anchor="middle" fill="#1a1a1a" stroke="#1a1a1a" stroke-width="0.16" >0</text>
<text x="27.3" y="312" font-size="3.6" text-anchor="middle" fill="#1a1a1a" stroke="#1a1a1a" stroke-width="0.16" >2</text>
<text x="32.3" y="312" font-size="3.6" text-anchor="middle" fill="#1a1a1a" stroke="#1a1a1a" stroke-width="0.16" >4</text>
<text x="40.6" y="312" font-size="3.6" text-anchor="middle" fill="#1a1a1a" stroke="#1a1a1a" stroke-width="0.16" >−1</text>
<text x="44.5" y="312" font-size="3.6" text-anchor="middle" fill="#1a1a1a" stroke="#1a1a1a" stroke-width="0.16" >0</text>
<text x="49.5" y="312" font-size="3.6" text-anchor="middle" fill="#1a1a1a" stroke="#1a1a1a" stroke-width="0.16" >1</text>
<text x="27.3" y="318.8" font-size="5.0" text-anchor="middle" fill="#1a1a1a" stroke="#1a1a1a" stroke-width="0.16" textLength="7.4" lengthAdjust="spacingAndGlyphs">Log</text>
<text x="28.2" y="324.4" font-size="5.0" text-anchor="middle" fill="#1a1a1a" stroke="#1a1a1a" stroke-width="0.16" textLength="10" lengthAdjust="spacingAndGlyphs">count</text>
<text x="44.4" y="318.8" font-size="5.0" text-anchor="middle" fill="#1a1a1a" stroke="#1a1a1a" stroke-width="0.16" textLength="14.8" lengthAdjust="spacingAndGlyphs">Log2FC</text>
<text x="306.6" y="231.9" font-size="12.8" font-weight="bold" fill="#000" >C</text>
<text x="371.5" y="244.5" font-size="8.6" text-anchor="middle" fill="#1a1a1a" stroke="#1a1a1a" stroke-width="0.16" >CD70–</text>
<text x="408.5" y="244.5" font-size="8.6" text-anchor="middle" fill="#1a1a1a" stroke="#1a1a1a" stroke-width="0.16" >CD70+</text>
<rect x="353.3" y="249.8" width="36.45" height="9.5" fill="#b7b7b7" />
<rect x="389.75" y="249.8" width="36.45" height="9.5" fill="#e8141c" />
<rect x="353.3" y="261" width="5.25" height="9.7" fill="#8f4f9f" />
<rect x="358.51" y="261" width="5.25" height="9.7" fill="#72bf7c" />
<rect x="363.71" y="261" width="5.25" height="9.7" fill="#8dcbdb" />
<rect x="368.92" y="261" width="5.25" height="9.7" fill="#dfb89a" />
<rect x="374.13" y="261" width="5.25" height="9.7" fill="#dc5d70" />
<rect x="379.34" y="261" width="5.25" height="9.7" fill="#c3d846" />
<rect x="384.54" y="261" width="5.25" height="9.7" fill="#8f9bd8" />
<rect x="389.75" y="261" width="5.25" height="9.7" fill="#8f4f9f" />
<rect x="394.96" y="261" width="5.25" height="9.7" fill="#72bf7c" />
<rect x="400.16" y="261" width="5.25" height="9.7" fill="#8dcbdb" />
<rect x="405.37" y="261" width="5.25" height="9.7" fill="#dfb89a" />
<rect x="410.58" y="261" width="5.25" height="9.7" fill="#dc5d70" />
<rect x="415.79" y="261" width="5.25" height="9.7" fill="#c3d846" />
<rect x="420.99" y="261" width="5.25" height="9.7" fill="#8f9bd8" />
<path stroke="#8451af" stroke-width="6.6" d="M405.4 275.5h5.2M410.6 275.5h5.2M405.4 282.1h5.2M410.6 282.1h5.2"/>
<path stroke="#c2a8d9" stroke-width="6.6" d="M400.2 275.5h5.2M415.8 275.5h5.2M415.8 282.1h5.2M368.9 288.6h5.2M379.3 288.6h5.2M379.3 347.7h5.2"/>
<path stroke="#ccb7df" stroke-width="6.6" d="M395 275.5h5.2M395 282.1h5.2M400.2 282.1h5.2M374.1 288.6h5.2M379.3 314.9h5.2M384.5 328h5.2M379.3 334.5h5.2"/>
<path stroke="#d6c6e6" stroke-width="6.6" d="M353.3 295.2h5.2M358.5 295.2h5.2M374.1 295.2h5.2M368.9 314.9h5.2M384.5 321.4h5.2M363.7 328h5.2M363.7 334.5h5.2M363.7 347.7h5.2M374.1 360.8h5.2"/>
<path stroke="#ddd0ea" stroke-width="6.6" d="M384.5 275.5h5.2M421 275.5h5.2M358.5 288.6h5.2M384.5 288.6h5.2M353.3 301.7h5.2M374.1 301.7h5.2M374.1 308.3h5.2M374.1 314.9h5.2M363.7 321.4h5.2M358.5 328h5.2M374.1 334.5h5.2M384.5 341.1h5.2M353.3 347.7h5.2M358.5 347.7h5.2M379.3 360.8h5.2"/>
<path stroke="#e4d9ee" stroke-width="6.6" d="M368.9 282.1h5.2M384.5 282.1h5.2M421 282.1h5.2M353.3 288.6h5.2M363.7 288.6h5.2M379.3 295.2h5.2M368.9 308.3h5.2M358.5 321.4h5.2M353.3 328h5.2M379.3 328h5.2M353.3 334.5h5.2M384.5 334.5h5.2M363.7 341.1h5.2M368.9 347.7h5.2M374.1 347.7h5.2M358.5 354.2h5.2M379.3 354.2h5.2"/>
<path stroke="#eae2f2" stroke-width="6.6" d="M368.9 275.5h5.2M363.7 308.3h5.2M379.3 308.3h5.2M384.5 308.3h5.2M358.5 314.9h5.2M379.3 321.4h5.2M374.1 328h5.2M358.5 341.1h5.2M374.1 341.1h5.2M353.3 354.2h5.2M368.9 354.2h5.2M374.1 354.2h5.2M353.3 360.8h5.2M368.9 360.8h5.2M384.5 360.8h5.2"/>
<path stroke="#f1ecf7" stroke-width="6.6" d="M363.7 295.2h5.2M368.9 295.2h5.2M384.5 295.2h5.2M368.9 301.7h5.2M379.3 301.7h5.2M384.5 301.7h5.2M368.9 321.4h5.2M368.9 328h5.2M358.5 334.5h5.2M368.9 334.5h5.2M368.9 341.1h5.2M379.3 341.1h5.2M384.5 347.7h5.2"/>
<path stroke="#f5e51b" stroke-width="6.6" d="M353.3 275.5h5.2M374.1 275.5h5.2M353.3 282.1h5.2M374.1 282.1h5.2"/>
<path stroke="#f5e630" stroke-width="6.6" d="M379.3 282.1h5.2"/>
<path stroke="#f6e846" stroke-width="6.6" d="M379.3 275.5h5.2"/>
<path stroke="#f6e850" stroke-width="6.6" d="M358.5 275.5h5.2M358.5 282.1h5.2"/>
<path stroke="#f8f1a8" stroke-width="6.6" d="M410.6 341.1h5.2"/>
<path stroke="#f8f2b6" stroke-width="6.6" d="M405.4 295.2h5.2M400.2 308.3h5.2M405.4 314.9h5.2M395 328h5.2M405.4 328h5.2M405.4 341.1h5.2"/>
<path stroke="#f8f6fb" stroke-width="6.6" d="M358.5 301.7h5.2M358.5 308.3h5.2M389.8 308.3h5.2M353.3 314.9h5.2M363.7 314.9h5.2M384.5 314.9h5.2M353.3 321.4h5.2M374.1 321.4h5.2M363.7 354.2h5.2M384.5 354.2h5.2M358.5 360.8h5.2M363.7 360.8h5.2"/>
<path stroke="#f9f4c4" stroke-width="6.6" d="M421 288.6h5.2M395 295.2h5.2M421 301.7h5.2M415.8 314.9h5.2M395 321.4h5.2M410.6 328h5.2M421 341.1h5.2M389.8 354.2h5.2M421 354.2h5.2M389.8 360.8h5.2"/>
<path stroke="#faf6ce" stroke-width="6.6" d="M405.4 288.6h5.2M415.8 295.2h5.2M415.8 301.7h5.2M410.6 308.3h5.2M389.8 328h5.2M400.2 328h5.2M405.4 334.5h5.2M395 354.2h5.2M415.8 360.8h5.2"/>
<path stroke="#fbf8d8" stroke-width="6.6" d="M389.8 295.2h5.2M400.2 295.2h5.2M410.6 295.2h5.2M395 308.3h5.2M415.8 308.3h5.2M395 314.9h5.2M410.6 321.4h5.2M415.8 321.4h5.2M421 321.4h5.2M421 328h5.2M400.2 354.2h5.2M415.8 354.2h5.2"/>
<path stroke="#fcfae2" stroke-width="6.6" d="M410.6 288.6h5.2M389.8 301.7h5.2M405.4 301.7h5.2M410.6 301.7h5.2M421 308.3h5.2M415.8 328h5.2M389.8 334.5h5.2M415.8 334.5h5.2M405.4 347.7h5.2M400.2 360.8h5.2"/>
<path stroke="#fdfbeb" stroke-width="6.6" d="M389.8 282.1h5.2M395 288.6h5.2M395 301.7h5.2M400.2 314.9h5.2M400.2 321.4h5.2M405.4 321.4h5.2M395 334.5h5.2M410.6 334.5h5.2M395 341.1h5.2M389.8 347.7h5.2M395 347.7h5.2M400.2 347.7h5.2M410.6 347.7h5.2M405.4 354.2h5.2M410.6 354.2h5.2M395 360.8h5.2"/>
<path stroke="#fefdf5" stroke-width="6.6" d="M389.8 275.5h5.2M363.7 282.1h5.2M389.8 288.6h5.2M400.2 288.6h5.2M421 295.2h5.2M400.2 301.7h5.2M405.4 308.3h5.2M410.6 314.9h5.2M421 314.9h5.2M389.8 321.4h5.2M400.2 334.5h5.2M421 334.5h5.2M389.8 341.1h5.2M400.2 341.1h5.2M421 347.7h5.2M410.6 360.8h5.2"/>
<path stroke="#ffffff" stroke-width="6.6" d="M363.7 275.5h5.2M415.8 288.6h5.2M363.7 301.7h5.2M353.3 308.3h5.2M389.8 314.9h5.2M353.3 341.1h5.2M415.8 341.1h5.2M415.8 347.7h5.2M405.4 360.8h5.2M421 360.8h5.2"/>
<text x="433.2" y="257.3" font-size="6.3" fill="#1a1a1a" stroke="#1a1a1a" stroke-width="0.16" >CD70</text>
<text x="433.2" y="267.5" font-size="5.6" fill="#1a1a1a" stroke="#1a1a1a" stroke-width="0.16" >patient</text>
<text x="433.2" y="279.9" font-size="6.3" fill="#1a1a1a" stroke="#1a1a1a" stroke-width="0.16" >MGA</text>
<text x="433.2" y="286.28" font-size="6.3" fill="#1a1a1a" stroke="#1a1a1a" stroke-width="0.16" >TBX15</text>
<text x="433.2" y="292.66" font-size="6.3" fill="#1a1a1a" stroke="#1a1a1a" stroke-width="0.16" >LBX1</text>
<text x="433.2" y="299.04" font-size="6.3" fill="#1a1a1a" stroke="#1a1a1a" stroke-width="0.16" >Max3</text>
<text x="433.2" y="305.42" font-size="6.3" fill="#1a1a1a" stroke="#1a1a1a" stroke-width="0.16" >ONECUT1</text>
<text x="433.2" y="311.8" font-size="6.3" fill="#1a1a1a" stroke="#1a1a1a" stroke-width="0.16" >HNF1B</text>
<text x="433.2" y="318.18" font-size="6.3" fill="#1a1a1a" stroke="#1a1a1a" stroke-width="0.16" >POU2F1</text>
<text x="433.2" y="324.56" font-size="6.3" fill="#1a1a1a" stroke="#1a1a1a" stroke-width="0.16" >MEOX2</text>
<text x="433.2" y="330.94" font-size="6.3" fill="#1a1a1a" stroke="#1a1a1a" stroke-width="0.16" >LMX1A</text>
<text x="433.2" y="337.32" font-size="6.3" fill="#1a1a1a" stroke="#1a1a1a" stroke-width="0.16" >LHX5</text>
<text x="433.2" y="343.7" font-size="6.3" fill="#1a1a1a" stroke="#1a1a1a" stroke-width="0.16" >Pou5f1::Sox2</text>
<text x="433.2" y="350.08" font-size="6.3" fill="#1a1a1a" stroke="#1a1a1a" stroke-width="0.16" >HOXA13</text>
<text x="433.2" y="356.46" font-size="6.3" fill="#1a1a1a" stroke="#1a1a1a" stroke-width="0.16" >Hmx3</text>
<text x="433.2" y="362.84" font-size="6.3" fill="#1a1a1a" stroke="#1a1a1a" stroke-width="0.16" >NFAT5</text>
<text x="308.3" y="268" font-size="8.6" fill="#1a1a1a" stroke="#1a1a1a" stroke-width="0.16" >−log10(<tspan font-style="italic">P</tspan>)</text>
<rect x="306.5" y="275.95" width="29.3" height="3.9" fill="#3d4858" />
<rect x="306.5" y="282.27" width="29.3" height="3.9" fill="#3d4858" />
<rect x="306.5" y="288.59" width="29.3" height="3.9" fill="#3d4858" />
<rect x="306.5" y="294.91" width="31.8" height="3.9" fill="#3d4858" />
<rect x="306.5" y="301.23" width="31.8" height="3.9" fill="#3d4858" />
<rect x="306.5" y="307.55" width="39.5" height="3.9" fill="#3d4858" />
<rect x="306.5" y="313.87" width="35.6" height="3.9" fill="#3d4858" />
<rect x="306.5" y="320.19" width="32.3" height="3.9" fill="#3d4858" />
<rect x="306.5" y="326.51" width="35.6" height="3.9" fill="#3d4858" />
<rect x="306.5" y="332.83" width="32.3" height="3.9" fill="#3d4858" />
<rect x="306.5" y="339.15" width="29.5" height="3.9" fill="#3d4858" />
<rect x="306.5" y="345.47" width="35.6" height="3.9" fill="#3d4858" />
<rect x="306.5" y="351.79" width="32.3" height="3.9" fill="#3d4858" />
<rect x="306.5" y="358.11" width="29.5" height="3.9" fill="#3d4858" />
<line x1="306.5" y1="272" x2="306.5" y2="364" stroke="#231f20" stroke-width="0.9" />
<line x1="306" y1="363.6" x2="347.6" y2="363.6" stroke="#231f20" stroke-width="0.9" />
<line x1="306.5" y1="363.6" x2="306.5" y2="365.6" stroke="#231f20" stroke-width="0.6" />
<text x="309.1" y="374.9" font-size="6.1" text-anchor="middle" fill="#1a1a1a" stroke="#1a1a1a" stroke-width="0.16" >0</text>
<line x1="318.6" y1="363.6" x2="318.6" y2="365.6" stroke="#231f20" stroke-width="0.6" />
<text x="321.3" y="374.9" font-size="6.1" text-anchor="middle" fill="#1a1a1a" stroke="#1a1a1a" stroke-width="0.16" >1</text>
<line x1="330.7" y1="363.6" x2="330.7" y2="365.6" stroke="#231f20" stroke-width="0.6" />
<text x="333.5" y="374.9" font-size="6.1" text-anchor="middle" fill="#1a1a1a" stroke="#1a1a1a" stroke-width="0.16" >2</text>
<line x1="342.8" y1="363.6" x2="342.8" y2="365.6" stroke="#231f20" stroke-width="0.6" />
<text x="345.7" y="374.9" font-size="6.1" text-anchor="middle" fill="#1a1a1a" stroke="#1a1a1a" stroke-width="0.16" >3</text>
<rect x="351.4" y="381" width="77.9" height="8.7" fill="url(#cg)" />
<text x="354" y="398" font-size="6.3" text-anchor="middle" fill="#1a1a1a" stroke="#1a1a1a" stroke-width="0.16" >−10</text>
<text x="373" y="398" font-size="6.3" text-anchor="middle" fill="#1a1a1a" stroke="#1a1a1a" stroke-width="0.16" >−5</text>
<text x="391.5" y="398" font-size="6.3" text-anchor="middle" fill="#1a1a1a" stroke="#1a1a1a" stroke-width="0.16" >0</text>
<text x="409" y="398" font-size="6.3" text-anchor="middle" fill="#1a1a1a" stroke="#1a1a1a" stroke-width="0.16" >5</text>
<text x="425.6" y="398" font-size="6.3" text-anchor="middle" fill="#1a1a1a" stroke="#1a1a1a" stroke-width="0.16" >10</text>
<text x="476.9" y="275" font-size="7.4" fill="#1a1a1a" stroke="#1a1a1a" stroke-width="0.16" >Patient</text>
<rect x="476.8" y="280.6" width="5.3" height="5.2" fill="#8f4f9f" />
<text x="485.6" y="285.7" font-size="6.2" fill="#1a1a1a" stroke="#1a1a1a" stroke-width="0.16" >P01</text>
<rect x="476.8" y="290.42" width="5.3" height="5.2" fill="#72bf7c" />
<text x="485.6" y="295.52" font-size="6.2" fill="#1a1a1a" stroke="#1a1a1a" stroke-width="0.16" >P02</text>
<rect x="476.8" y="300.24" width="5.3" height="5.2" fill="#8dcbdb" />
<text x="485.6" y="305.34" font-size="6.2" fill="#1a1a1a" stroke="#1a1a1a" stroke-width="0.16" >P03</text>
<rect x="476.8" y="310.06" width="5.3" height="5.2" fill="#dfb89a" />
<text x="485.6" y="315.16" font-size="6.2" fill="#1a1a1a" stroke="#1a1a1a" stroke-width="0.16" >P04</text>
<rect x="476.8" y="319.88" width="5.3" height="5.2" fill="#dc5d70" />
<text x="485.6" y="324.98" font-size="6.2" fill="#1a1a1a" stroke="#1a1a1a" stroke-width="0.16" >P05</text>
<rect x="476.8" y="329.7" width="5.3" height="5.2" fill="#c3d846" />
<text x="485.6" y="334.8" font-size="6.2" fill="#1a1a1a" stroke="#1a1a1a" stroke-width="0.16" >P06</text>
<rect x="476.8" y="339.52" width="5.3" height="5.2" fill="#8f9bd8" />
<text x="485.6" y="344.62" font-size="6.2" fill="#1a1a1a" stroke="#1a1a1a" stroke-width="0.16" >P07</text>
<text x="6.7" y="361.8" font-size="12.8" font-weight="bold" fill="#000" >D</text>
<text x="104.5" y="358.8" font-size="8.2" fill="#1a1a1a" stroke="#1a1a1a" stroke-width="0.16" textLength="27.3" lengthAdjust="spacingAndGlyphs">CD70–</text>
<text x="134.5" y="358.8" font-size="8.2" fill="#1a1a1a" stroke="#1a1a1a" stroke-width="0.16" textLength="27.3" lengthAdjust="spacingAndGlyphs">CD70+</text>
<rect x="104.8" y="361.3" width="27.45" height="3" fill="#c2bcd3" />
<rect x="132.55" y="361.3" width="27.75" height="3" fill="#e3231c" />
<rect x="104.8" y="364.7" width="6.98" height="3.1" fill="#8e4fa5" />
<rect x="111.74" y="364.7" width="6.98" height="3.1" fill="#8cc44c" />
<rect x="118.67" y="364.7" width="6.98" height="3.1" fill="#e07a8c" />
<rect x="125.61" y="364.7" width="6.98" height="3.1" fill="#d8bc84" />
<rect x="132.55" y="364.7" width="6.98" height="3.1" fill="#8e4fa5" />
<rect x="139.49" y="364.7" width="6.98" height="3.1" fill="#8cc44c" />
<rect x="146.43" y="364.7" width="6.98" height="3.1" fill="#e07a8c" />
<rect x="153.36" y="364.7" width="6.98" height="3.1" fill="#d8bc84" />
<path stroke="#a08ccf" stroke-width="1.64" d="M153.4 380.8h7M146.4 488h7M132.6 574.4h7"/>
<path stroke="#a896d3" stroke-width="1.64" d="M104.8 507.2h7M132.6 516.8h7M104.8 537.6h7M104.8 603.2h7M111.7 619.2h7M111.7 620.8h7M104.8 633.6h7"/>
<path stroke="#b09fd7" stroke-width="1.64" d="M146.4 393.6h7M139.5 400h7M146.4 448h7M146.4 464h7M139.5 472h7M146.4 478.4h7M104.8 516.8h7M111.7 529.6h7M111.7 568h7M132.6 572.8h7M104.8 590.4h7M125.6 608h7M104.8 611.2h7M104.8 612.8h7M111.7 633.6h7"/>
<path stroke="#b8a9db" stroke-width="0.54" d="M111.7 647.5h7"/>
<path stroke="#b8a9db" stroke-width="1.64" d="M146.4 376h7M153.4 376h7M139.5 385.6h7M146.4 395.2h7M146.4 404.8h7M146.4 408h7M153.4 408h7M139.5 409.6h7M153.4 411.2h7M118.7 416h7M139.5 416h7M146.4 419.2h7M153.4 419.2h7M146.4 449.6h7M132.6 464h7M132.6 467.2h7M153.4 483.2h7M146.4 491.2h7M146.4 494.4h7M111.7 504h7M125.6 516.8h7M139.5 516.8h7M104.8 521.6h7M125.6 536h7M111.7 539.2h7M118.7 545.6h7M111.7 547.2h7M111.7 548.8h7M111.7 556.8h7M111.7 560h7M125.6 563.2h7M104.8 564.8h7M118.7 566.4h7M118.7 569.6h7M104.8 576h7M125.6 576h7M118.7 580.8h7M118.7 584h7M111.7 598.4h7M104.8 606.4h7M104.8 608h7M125.6 612.8h7M111.7 614.4h7M104.8 630.4h7M118.7 630.4h7"/>
<path stroke="#c0b2df" stroke-width="1.64" d="M146.4 372.8h7M153.4 372.8h7M139.5 382.4h7M146.4 384h7M146.4 388.8h7M104.8 401.6h7M132.6 404.8h7M153.4 404.8h7M153.4 414.4h7M111.7 419.2h7M139.5 419.2h7M153.4 424h7M153.4 427.2h7M153.4 428.8h7M153.4 441.6h7M139.5 457.6h7M146.4 465.6h7M146.4 475.2h7M153.4 475.2h7M139.5 478.4h7M153.4 481.6h7M111.7 499.2h7M111.7 505.6h7M104.8 508.8h7M125.6 510.4h7M125.6 513.6h7M125.6 515.2h7M111.7 526.4h7M125.6 528h7M111.7 532.8h7M104.8 536h7M118.7 536h7M125.6 537.6h7M104.8 539.2h7M104.8 568h7M104.8 569.6h7M118.7 574.4h7M111.7 576h7M104.8 580.8h7M125.6 580.8h7M104.8 584h7M111.7 584h7M111.7 587.2h7M104.8 588.8h7M104.8 592h7M111.7 592h7M125.6 593.6h7M111.7 603.2h7M132.6 608h7M104.8 616h7M118.7 619.2h7M104.8 635.2h7M111.7 638.4h7M118.7 641.6h7"/>
<path stroke="#c8bce3" stroke-width="0.54" d="M118.7 647.5h7"/>
<path stroke="#c8bce3" stroke-width="1.64" d="M139.5 379.2h7M132.6 380.8h7M153.4 382.4h7M139.5 388.8h7M118.7 390.4h7M139.5 390.4h7M153.4 390.4h7M139.5 395.2h7M132.6 398.4h7M146.4 409.6h7M139.5 411.2h7M132.6 414.4h7M146.4 414.4h7M132.6 416h7M146.4 417.6h7M132.6 420.8h7M139.5 422.4h7M146.4 424h7M146.4 427.2h7M139.5 428.8h7M146.4 433.6h7M153.4 436.8h7M146.4 440h7M153.4 440h7M153.4 444.8h7M139.5 446.4h7M146.4 459.2h7M153.4 460.8h7M153.4 464h7M153.4 467.2h7M153.4 470.4h7M132.6 478.4h7M146.4 480h7M139.5 494.4h7M118.7 505.6h7M125.6 505.6h7M111.7 510.4h7M118.7 510.4h7M118.7 512h7M125.6 512h7M104.8 518.4h7M118.7 520h7M104.8 529.6h7M111.7 531.2h7M104.8 532.8h7M125.6 534.4h7M111.7 544h7M118.7 547.2h7M111.7 550.4h7M118.7 550.4h7M125.6 550.4h7M118.7 552h7M111.7 553.6h7M104.8 556.8h7M125.6 556.8h7M118.7 558.4h7M125.6 558.4h7M104.8 561.6h7M104.8 563.2h7M118.7 564.8h7M111.7 571.2h7M125.6 574.4h7M104.8 579.2h7M104.8 582.4h7M111.7 582.4h7M118.7 588.8h7M118.7 596.8h7M118.7 604.8h7M118.7 609.6h7M111.7 612.8h7M104.8 614.4h7M125.6 616h7M132.6 619.2h7M111.7 622.4h7M125.6 624h7M104.8 625.6h7M111.7 628.8h7M111.7 635.2h7M118.7 635.2h7M104.8 636.8h7M104.8 638.4h7M118.7 640h7M104.8 641.6h7"/>
<path stroke="#d0c6e7" stroke-width="0.54" d="M125.6 647.5h7"/>
<path stroke="#d0c6e7" stroke-width="1.64" d="M146.4 371.2h7M139.5 372.8h7M139.5 376h7M153.4 379.2h7M111.7 380.8h7M146.4 382.4h7M139.5 387.2h7M139.5 392h7M153.4 392h7M153.4 396.8h7M146.4 400h7M146.4 401.6h7M139.5 412.8h7M153.4 416h7M139.5 417.6h7M139.5 420.8h7M153.4 420.8h7M153.4 422.4h7M153.4 430.4h7M139.5 433.6h7M146.4 436.8h7M139.5 440h7M132.6 448h7M139.5 449.6h7M153.4 451.2h7M146.4 454.4h7M153.4 457.6h7M132.6 460.8h7M146.4 460.8h7M139.5 465.6h7M153.4 468.8h7M118.7 470.4h7M146.4 470.4h7M153.4 472h7M139.5 473.6h7M132.6 480h7M146.4 481.6h7M132.6 488h7M153.4 488h7M153.4 492.8h7M104.8 497.6h7M125.6 499.2h7M111.7 500.8h7M111.7 507.2h7M111.7 512h7M104.8 513.6h7M111.7 515.2h7M111.7 516.8h7M104.8 520h7M125.6 520h7M125.6 521.6h7M104.8 526.4h7M118.7 526.4h7M111.7 528h7M118.7 532.8h7M111.7 534.4h7M111.7 536h7M111.7 540.8h7M104.8 542.4h7M125.6 542.4h7M104.8 544h7M118.7 544h7M104.8 548.8h7M104.8 550.4h7M104.8 552h7M111.7 552h7M125.6 552h7M104.8 553.6h7M125.6 553.6h7M111.7 558.4h7M125.6 561.6h7M125.6 564.8h7M125.6 568h7M111.7 574.4h7M104.8 577.6h7M118.7 577.6h7M111.7 579.2h7M118.7 579.2h7M111.7 580.8h7M125.6 582.4h7M125.6 584h7M104.8 593.6h7M104.8 595.2h7M125.6 598.4h7M132.6 598.4h7M111.7 600h7M118.7 601.6h7M111.7 604.8h7M111.7 609.6h7M111.7 611.2h7M118.7 612.8h7M118.7 614.4h7M111.7 617.6h7M104.8 619.2h7M125.6 619.2h7M104.8 622.4h7M125.6 622.4h7M118.7 628.8h7M125.6 633.6h7M125.6 638.4h7M111.7 641.6h7M125.6 641.6h7M118.7 643.2h7M111.7 644.8h7M111.7 646.4h7"/>
<path stroke="#d7cfeb" stroke-width="1.64" d="M132.6 369.6h7M153.4 369.6h7M146.4 380.8h7M146.4 385.6h7M153.4 385.6h7M132.6 387.2h7M153.4 388.8h7M146.4 390.4h7M132.6 393.6h7M132.6 396.8h7M139.5 398.4h7M146.4 398.4h7M153.4 400h7M139.5 406.4h7M146.4 406.4h7M153.4 406.4h7M118.7 408h7M132.6 411.2h7M139.5 414.4h7M132.6 417.6h7M146.4 422.4h7M146.4 425.6h7M118.7 427.2h7M132.6 428.8h7M132.6 430.4h7M139.5 432h7M146.4 432h7M139.5 436.8h7M146.4 438.4h7M132.6 444.8h7M146.4 446.4h7M153.4 452.8h7M139.5 454.4h7M153.4 454.4h7M153.4 459.2h7M146.4 467.2h7M139.5 476.8h7M111.7 480h7M153.4 480h7M132.6 481.6h7M118.7 483.2h7M139.5 484.8h7M146.4 484.8h7M153.4 486.4h7M139.5 489.6h7M153.4 489.6h7M139.5 491.2h7M153.4 491.2h7M146.4 492.8h7M153.4 496h7M118.7 497.6h7M104.8 499.2h7M118.7 500.8h7M104.8 504h7M118.7 507.2h7M125.6 508.8h7M104.8 510.4h7M104.8 512h7M111.7 513.6h7M118.7 513.6h7M104.8 515.2h7M118.7 516.8h7M111.7 520h7M104.8 524.8h7M111.7 524.8h7M125.6 526.4h7M139.5 526.4h7M104.8 528h7M118.7 528h7M132.6 528h7M125.6 529.6h7M125.6 531.2h7M146.4 536h7M132.6 537.6h7M111.7 542.4h7M118.7 542.4h7M125.6 544h7M104.8 547.2h7M139.5 552h7M125.6 555.2h7M118.7 561.6h7M111.7 563.2h7M104.8 566.4h7M125.6 566.4h7M132.6 569.6h7M104.8 571.2h7M132.6 576h7M111.7 577.6h7M125.6 577.6h7M111.7 585.6h7M111.7 590.4h7M125.6 595.2h7M111.7 596.8h7M125.6 596.8h7M125.6 601.6h7M125.6 603.2h7M104.8 604.8h7M125.6 604.8h7M132.6 604.8h7M146.4 604.8h7M146.4 606.4h7M111.7 608h7M104.8 609.6h7M104.8 617.6h7M104.8 620.8h7M118.7 620.8h7M111.7 625.6h7M118.7 625.6h7M104.8 627.2h7M118.7 627.2h7M125.6 627.2h7M146.4 630.4h7M104.8 632h7M125.6 635.2h7M125.6 636.8h7M118.7 638.4h7M104.8 644.8h7M104.8 646.4h7M118.7 646.4h7"/>
<path stroke="#dfd9ef" stroke-width="1.64" d="M132.6 371.2h7M146.4 374.4h7M139.5 377.6h7M146.4 377.6h7M153.4 377.6h7M146.4 379.2h7M132.6 384h7M153.4 387.2h7M146.4 392h7M153.4 395.2h7M132.6 400h7M153.4 401.6h7M153.4 403.2h7M132.6 408h7M139.5 408h7M146.4 411.2h7M153.4 412.8h7M146.4 416h7M153.4 417.6h7M139.5 435.2h7M125.6 443.2h7M139.5 444.8h7M146.4 444.8h7M132.6 446.4h7M139.5 448h7M153.4 449.6h7M118.7 452.8h7M146.4 457.6h7M139.5 459.2h7M139.5 462.4h7M153.4 465.6h7M132.6 468.8h7M146.4 468.8h7M111.7 470.4h7M146.4 472h7M139.5 481.6h7M146.4 483.2h7M146.4 486.4h7M139.5 492.8h7M153.4 494.4h7M104.8 500.8h7M125.6 507.2h7M111.7 508.8h7M118.7 508.8h7M132.6 512h7M118.7 518.4h7M125.6 523.2h7M125.6 524.8h7M118.7 540.8h7M125.6 540.8h7M111.7 545.6h7M111.7 555.2h7M132.6 555.2h7M139.5 556.8h7M104.8 560h7M125.6 560h7M111.7 561.6h7M146.4 569.6h7M118.7 571.2h7M125.6 572.8h7M104.8 574.4h7M146.4 574.4h7M104.8 587.2h7M125.6 587.2h7M125.6 588.8h7M111.7 593.6h7M111.7 595.2h7M118.7 598.4h7M104.8 600h7M118.7 600h7M125.6 600h7M104.8 601.6h7M111.7 601.6h7M139.5 601.6h7M118.7 611.2h7M139.5 612.8h7M111.7 616h7M118.7 617.6h7M146.4 622.4h7M104.8 628.8h7M111.7 630.4h7M125.6 630.4h7M118.7 632h7M125.6 632h7M125.6 640h7M139.5 643.2h7M125.6 644.8h7"/>
<path stroke="#e7e2f3" stroke-width="0.54" d="M104.8 647.5h7"/>
<path stroke="#e7e2f3" stroke-width="1.64" d="M139.5 369.6h7M146.4 369.6h7M139.5 371.2h7M153.4 371.2h7M132.6 377.6h7M132.6 379.2h7M153.4 384h7M146.4 387.2h7M139.5 393.6h7M153.4 398.4h7M139.5 401.6h7M132.6 409.6h7M111.7 411.2h7M104.8 419.2h7M139.5 424h7M153.4 425.6h7M139.5 427.2h7M132.6 435.2h7M146.4 435.2h7M153.4 435.2h7M132.6 436.8h7M132.6 438.4h7M153.4 438.4h7M132.6 441.6h7M139.5 441.6h7M139.5 443.2h7M146.4 443.2h7M153.4 443.2h7M132.6 451.2h7M139.5 451.2h7M139.5 452.8h7M132.6 454.4h7M139.5 456h7M153.4 456h7M132.6 457.6h7M118.7 459.2h7M146.4 462.4h7M153.4 462.4h7M153.4 473.6h7M139.5 475.2h7M153.4 478.4h7M139.5 480h7M132.6 483.2h7M139.5 483.2h7M146.4 496h7M118.7 499.2h7M125.6 500.8h7M104.8 502.4h7M118.7 502.4h7M125.6 502.4h7M125.6 504h7M104.8 505.6h7M118.7 515.2h7M125.6 518.4h7M132.6 520h7M111.7 521.6h7M118.7 524.8h7M118.7 529.6h7M125.6 532.8h7M118.7 534.4h7M111.7 537.6h7M118.7 537.6h7M118.7 539.2h7M104.8 540.8h7M146.4 545.6h7M125.6 547.2h7M118.7 548.8h7M125.6 548.8h7M132.6 552h7M118.7 553.6h7M104.8 555.2h7M132.6 556.8h7M104.8 558.4h7M111.7 566.4h7M118.7 568h7M111.7 569.6h7M125.6 569.6h7M139.5 571.2h7M104.8 572.8h7M111.7 572.8h7M104.8 585.6h7M118.7 585.6h7M125.6 585.6h7M118.7 590.4h7M118.7 592h7M118.7 595.2h7M104.8 596.8h7M104.8 598.4h7M118.7 603.2h7M111.7 606.4h7M118.7 606.4h7M125.6 606.4h7M132.6 606.4h7M118.7 608h7M146.4 611.2h7M118.7 616h7M139.5 619.2h7M125.6 620.8h7M139.5 620.8h7M111.7 624h7M125.6 625.6h7M125.6 628.8h7M111.7 632h7M132.6 633.6h7M111.7 636.8h7M146.4 636.8h7M132.6 640h7M111.7 643.2h7"/>
<path stroke="#ea3328" stroke-width="1.64" d="M153.4 628.8h7"/>
<path stroke="#eb3d30" stroke-width="1.64" d="M125.6 478.4h7"/>
<path stroke="#ec4737" stroke-width="1.64" d="M125.6 403.2h7"/>
<path stroke="#ed503e" stroke-width="1.64" d="M104.8 435.2h7M104.8 476.8h7M153.4 558.4h7M153.4 577.6h7"/>
<path stroke="#ee5a45" stroke-width="1.64" d="M104.8 457.6h7M153.4 585.6h7"/>
<path stroke="#efecf7" stroke-width="0.54" d="M132.6 647.5h7M153.4 647.5h7"/>
<path stroke="#efecf7" stroke-width="1.64" d="M132.6 372.8h7M153.4 374.4h7M132.6 376h7M132.6 382.4h7M139.5 384h7M132.6 390.4h7M132.6 392h7M153.4 393.6h7M132.6 395.2h7M139.5 396.8h7M139.5 403.2h7M118.7 404.8h7M118.7 409.6h7M146.4 420.8h7M139.5 425.6h7M132.6 427.2h7M104.8 428.8h7M139.5 430.4h7M153.4 432h7M132.6 433.6h7M153.4 433.6h7M139.5 438.4h7M153.4 446.4h7M146.4 451.2h7M132.6 452.8h7M146.4 452.8h7M104.8 459.2h7M132.6 459.2h7M125.6 462.4h7M139.5 464h7M118.7 465.6h7M132.6 465.6h7M118.7 468.8h7M125.6 470.4h7M139.5 470.4h7M132.6 476.8h7M146.4 476.8h7M153.4 476.8h7M132.6 484.8h7M139.5 486.4h7M132.6 489.6h7M146.4 489.6h7M111.7 497.6h7M111.7 502.4h7M132.6 502.4h7M132.6 505.6h7M146.4 507.2h7M139.5 515.2h7M111.7 518.4h7M118.7 521.6h7M104.8 523.2h7M111.7 523.2h7M104.8 531.2h7M118.7 531.2h7M125.6 539.2h7M104.8 545.6h7M125.6 545.6h7M132.6 547.2h7M146.4 547.2h7M146.4 548.8h7M139.5 576h7M139.5 577.6h7M125.6 579.2h7M118.7 582.4h7M132.6 584h7M153.4 584h7M118.7 587.2h7M125.6 590.4h7M125.6 592h7M118.7 593.6h7M125.6 609.6h7M132.6 612.8h7M125.6 617.6h7M104.8 624h7M118.7 633.6h7M104.8 640h7M111.7 640h7M125.6 643.2h7M125.6 646.4h7"/>
<path stroke="#f0644c" stroke-width="1.64" d="M118.7 422.4h7M104.8 478.4h7"/>
<path stroke="#f16d53" stroke-width="1.64" d="M104.8 379.2h7M111.7 403.2h7M118.7 473.6h7M153.4 523.2h7M153.4 596.8h7M153.4 616h7"/>
<path stroke="#f2775a" stroke-width="1.64" d="M104.8 412.8h7M111.7 444.8h7M118.7 462.4h7M104.8 472h7M153.4 504h7M153.4 521.6h7M153.4 524.8h7M153.4 582.4h7M153.4 600h7M153.4 643.2h7"/>
<path stroke="#f38162" stroke-width="1.64" d="M104.8 371.2h7M104.8 374.4h7M118.7 387.2h7M125.6 387.2h7M125.6 432h7M118.7 451.2h7M125.6 464h7M104.8 467.2h7M104.8 468.8h7M118.7 472h7M125.6 492.8h7M153.4 515.2h7M132.6 536h7M153.4 553.6h7M153.4 587.2h7M153.4 614.4h7M139.5 624h7M139.5 628.8h7"/>
<path stroke="#f48a69" stroke-width="1.64" d="M104.8 377.6h7M111.7 379.2h7M125.6 385.6h7M104.8 406.4h7M111.7 420.8h7M111.7 422.4h7M125.6 422.4h7M118.7 428.8h7M111.7 438.4h7M118.7 444.8h7M125.6 444.8h7M125.6 446.4h7M111.7 459.2h7M104.8 462.4h7M125.6 467.2h7M104.8 484.8h7M104.8 489.6h7M125.6 489.6h7M104.8 492.8h7M153.4 499.2h7M146.4 504h7M139.5 508.8h7M153.4 560h7M146.4 600h7M146.4 619.2h7M132.6 628.8h7M153.4 632h7"/>
<path stroke="#f59470" stroke-width="1.64" d="M125.6 382.4h7M104.8 385.6h7M104.8 388.8h7M104.8 396.8h7M104.8 408h7M125.6 411.2h7M125.6 414.4h7M125.6 425.6h7M104.8 432h7M111.7 435.2h7M104.8 440h7M104.8 446.4h7M125.6 448h7M104.8 473.6h7M153.4 513.6h7M139.5 518.4h7M139.5 560h7M153.4 563.2h7M153.4 566.4h7M153.4 619.2h7M146.4 644.8h7"/>
<path stroke="#f69d7c" stroke-width="1.64" d="M118.7 372.8h7M125.6 376h7M118.7 377.6h7M111.7 387.2h7M104.8 390.4h7M125.6 398.4h7M104.8 403.2h7M111.7 404.8h7M104.8 409.6h7M104.8 411.2h7M111.7 416h7M125.6 433.6h7M104.8 444.8h7M104.8 454.4h7M118.7 467.2h7M125.6 468.8h7M104.8 480h7M111.7 489.6h7M153.4 500.8h7M132.6 523.2h7M153.4 536h7M146.4 539.2h7M153.4 540.8h7M146.4 550.4h7M132.6 561.6h7M146.4 561.6h7M153.4 579.2h7M139.5 584h7M153.4 593.6h7M139.5 596.8h7M153.4 598.4h7M132.6 600h7M132.6 622.4h7"/>
<path stroke="#f7a688" stroke-width="1.64" d="M118.7 374.4h7M104.8 376h7M125.6 377.6h7M104.8 384h7M125.6 396.8h7M125.6 416h7M104.8 425.6h7M111.7 436.8h7M125.6 441.6h7M104.8 448h7M118.7 448h7M125.6 451.2h7M125.6 452.8h7M104.8 456h7M111.7 456h7M125.6 456h7M111.7 457.6h7M104.8 460.8h7M111.7 460.8h7M111.7 467.2h7M111.7 483.2h7M111.7 486.4h7M125.6 486.4h7M104.8 488h7M104.8 496h7M139.5 524.8h7M153.4 526.4h7M146.4 552h7M139.5 558.4h7M146.4 563.2h7M153.4 576h7M132.6 587.2h7M153.4 590.4h7M146.4 596.8h7M139.5 600h7M153.4 601.6h7M153.4 608h7M153.4 624h7M132.6 643.2h7"/>
<path stroke="#f7f5fb" stroke-width="0.54" d="M139.5 647.5h7"/>
<path stroke="#f7f5fb" stroke-width="1.64" d="M139.5 380.8h7M111.7 382.4h7M118.7 392h7M118.7 401.6h7M146.4 403.2h7M139.5 404.8h7M132.6 406.4h7M153.4 409.6h7M132.6 419.2h7M132.6 422.4h7M132.6 424h7M132.6 425.6h7M146.4 428.8h7M125.6 430.4h7M146.4 430.4h7M132.6 432h7M118.7 433.6h7M125.6 438.4h7M132.6 440h7M146.4 441.6h7M132.6 443.2h7M153.4 448h7M132.6 449.6h7M111.7 452.8h7M118.7 454.4h7M146.4 456h7M139.5 468.8h7M132.6 473.6h7M146.4 473.6h7M118.7 475.2h7M153.4 484.8h7M125.6 491.2h7M132.6 491.2h7M132.6 492.8h7M132.6 494.4h7M125.6 496h7M132.6 496h7M146.4 512h7M139.5 513.6h7M146.4 515.2h7M118.7 523.2h7M132.6 531.2h7M104.8 534.4h7M132.6 544h7M118.7 555.2h7M118.7 556.8h7M146.4 556.8h7M118.7 560h7M118.7 563.2h7M132.6 564.8h7M125.6 571.2h7M139.5 582.4h7M146.4 584h7M111.7 588.8h7M146.4 595.2h7M132.6 601.6h7M139.5 603.2h7M146.4 624h7M111.7 627.2h7M139.5 632h7M118.7 636.8h7M104.8 643.2h7M118.7 644.8h7"/>
<path stroke="#f8af94" stroke-width="1.64" d="M111.7 374.4h7M111.7 377.6h7M125.6 379.2h7M111.7 392h7M104.8 393.6h7M104.8 395.2h7M111.7 396.8h7M104.8 398.4h7M104.8 404.8h7M111.7 412.8h7M111.7 432h7M104.8 438.4h7M111.7 454.4h7M125.6 457.6h7M104.8 464h7M118.7 489.6h7M146.4 502.4h7M153.4 516.8h7M153.4 520h7M146.4 537.6h7M153.4 537.6h7M146.4 544h7M132.6 560h7M132.6 590.4h7M139.5 592h7M139.5 595.2h7M153.4 595.2h7M132.6 596.8h7M146.4 609.6h7M153.4 617.6h7M146.4 625.6h7M153.4 627.2h7"/>
<path stroke="#f8b8a0" stroke-width="0.54" d="M146.4 647.5h7"/>
<path stroke="#f8b8a0" stroke-width="1.64" d="M125.6 372.8h7M125.6 380.8h7M104.8 392h7M111.7 395.2h7M111.7 398.4h7M125.6 409.6h7M125.6 424h7M111.7 425.6h7M104.8 430.4h7M104.8 465.6h7M125.6 465.6h7M104.8 470.4h7M125.6 473.6h7M104.8 481.6h7M104.8 483.2h7M111.7 484.8h7M118.7 488h7M111.7 494.4h7M139.5 502.4h7M153.4 507.2h7M153.4 512h7M146.4 523.2h7M153.4 528h7M132.6 529.6h7M139.5 532.8h7M146.4 534.4h7M153.4 544h7M153.4 548.8h7M153.4 550.4h7M146.4 553.6h7M153.4 556.8h7M153.4 561.6h7M132.6 568h7M139.5 568h7M153.4 612.8h7M153.4 625.6h7M146.4 627.2h7M153.4 630.4h7M153.4 636.8h7M139.5 640h7M153.4 640h7"/>
<path stroke="#f9c1ac" stroke-width="1.64" d="M111.7 369.6h7M118.7 379.2h7M118.7 385.6h7M111.7 388.8h7M111.7 390.4h7M118.7 395.2h7M104.8 400h7M118.7 403.2h7M118.7 411.2h7M125.6 412.8h7M125.6 417.6h7M104.8 420.8h7M125.6 420.8h7M118.7 424h7M104.8 449.6h7M111.7 451.2h7M118.7 456h7M118.7 457.6h7M118.7 460.8h7M125.6 472h7M111.7 476.8h7M111.7 478.4h7M104.8 486.4h7M111.7 491.2h7M111.7 492.8h7M153.4 510.4h7M146.4 513.6h7M139.5 521.6h7M132.6 526.4h7M146.4 526.4h7M146.4 528h7M146.4 529.6h7M146.4 531.2h7M153.4 531.2h7M132.6 540.8h7M132.6 542.4h7M139.5 545.6h7M153.4 555.2h7M132.6 563.2h7M153.4 571.2h7M153.4 574.4h7M146.4 579.2h7M132.6 582.4h7M146.4 587.2h7M146.4 588.8h7M132.6 603.2h7M132.6 616h7M153.4 622.4h7M132.6 625.6h7M132.6 627.2h7M139.5 633.6h7M153.4 635.2h7M153.4 641.6h7M146.4 643.2h7M153.4 646.4h7"/>
<path stroke="#facab8" stroke-width="1.64" d="M125.6 369.6h7M118.7 388.8h7M118.7 396.8h7M111.7 406.4h7M125.6 406.4h7M118.7 412.8h7M111.7 427.2h7M125.6 427.2h7M125.6 428.8h7M111.7 440h7M111.7 448h7M125.6 454.4h7M111.7 465.6h7M104.8 475.2h7M125.6 476.8h7M125.6 488h7M118.7 496h7M139.5 497.6h7M146.4 499.2h7M139.5 504h7M139.5 505.6h7M153.4 508.8h7M146.4 510.4h7M132.6 521.6h7M132.6 524.8h7M153.4 539.2h7M132.6 548.8h7M139.5 580.8h7M146.4 580.8h7M146.4 585.6h7M139.5 587.2h7M132.6 595.2h7M139.5 598.4h7M139.5 614.4h7M146.4 617.6h7M146.4 620.8h7M139.5 625.6h7M132.6 646.4h7"/>
<path stroke="#fbd2c3" stroke-width="1.64" d="M118.7 369.6h7M118.7 371.2h7M111.7 372.8h7M118.7 380.8h7M111.7 384h7M111.7 393.6h7M118.7 398.4h7M104.8 416h7M125.6 419.2h7M125.6 435.2h7M104.8 436.8h7M125.6 436.8h7M118.7 440h7M104.8 443.2h7M111.7 446.4h7M104.8 451.2h7M125.6 460.8h7M111.7 462.4h7M111.7 473.6h7M125.6 481.6h7M139.5 500.8h7M132.6 510.4h7M139.5 512h7M139.5 528h7M153.4 529.6h7M139.5 531.2h7M153.4 532.8h7M153.4 534.4h7M139.5 539.2h7M153.4 542.4h7M153.4 552h7M132.6 553.6h7M132.6 558.4h7M153.4 569.6h7M146.4 572.8h7M146.4 576h7M132.6 580.8h7M153.4 580.8h7M139.5 585.6h7M139.5 588.8h7M132.6 593.6h7M132.6 617.6h7M153.4 620.8h7M153.4 644.8h7"/>
<path stroke="#fcdbcf" stroke-width="1.64" d="M111.7 371.2h7M125.6 374.4h7M104.8 382.4h7M104.8 387.2h7M125.6 388.8h7M125.6 390.4h7M118.7 393.6h7M125.6 395.2h7M125.6 400h7M111.7 414.4h7M104.8 417.6h7M118.7 420.8h7M104.8 427.2h7M118.7 432h7M104.8 433.6h7M111.7 433.6h7M104.8 441.6h7M118.7 441.6h7M111.7 443.2h7M118.7 443.2h7M111.7 472h7M118.7 486.4h7M111.7 488h7M104.8 491.2h7M111.7 496h7M153.4 497.6h7M139.5 499.2h7M146.4 500.8h7M132.6 504h7M139.5 507.2h7M139.5 523.2h7M139.5 534.4h7M132.6 539.2h7M146.4 540.8h7M139.5 544h7M153.4 545.6h7M139.5 555.2h7M146.4 555.2h7M146.4 558.4h7M139.5 561.6h7M139.5 563.2h7M146.4 564.8h7M139.5 566.4h7M153.4 572.8h7M132.6 588.8h7M146.4 590.4h7M132.6 592h7M146.4 593.6h7M139.5 609.6h7M153.4 609.6h7M132.6 611.2h7M139.5 611.2h7M153.4 611.2h7M146.4 614.4h7M139.5 622.4h7M146.4 628.8h7M139.5 630.4h7M146.4 632h7M132.6 635.2h7M139.5 636.8h7M139.5 641.6h7M139.5 646.4h7"/>
<path stroke="#fce4db" stroke-width="1.64" d="M132.6 374.4h7M132.6 385.6h7M111.7 400h7M111.7 401.6h7M132.6 403.2h7M118.7 406.4h7M118.7 414.4h7M111.7 424h7M111.7 430.4h7M118.7 435.2h7M125.6 440h7M118.7 449.6h7M111.7 475.2h7M125.6 480h7M111.7 481.6h7M118.7 491.2h7M104.8 494.4h7M153.4 502.4h7M153.4 505.6h7M146.4 508.8h7M132.6 518.4h7M146.4 518.4h7M146.4 520h7M132.6 534.4h7M139.5 536h7M139.5 537.6h7M132.6 545.6h7M139.5 553.6h7M146.4 560h7M153.4 564.8h7M132.6 566.4h7M146.4 568h7M153.4 568h7M132.6 579.2h7M146.4 582.4h7M153.4 603.2h7M139.5 606.4h7M153.4 606.4h7M139.5 608h7M146.4 608h7M139.5 627.2h7M132.6 632h7M146.4 640h7"/>
<path stroke="#fdede7" stroke-width="1.64" d="M104.8 369.6h7M139.5 374.4h7M118.7 382.4h7M125.6 393.6h7M146.4 396.8h7M125.6 401.6h7M125.6 408h7M111.7 409.6h7M111.7 417.6h7M104.8 422.4h7M111.7 428.8h7M118.7 446.4h7M111.7 449.6h7M118.7 476.8h7M118.7 478.4h7M118.7 481.6h7M125.6 483.2h7M118.7 484.8h7M132.6 486.4h7M118.7 494.4h7M132.6 497.6h7M118.7 504h7M139.5 510.4h7M139.5 520h7M146.4 521.6h7M146.4 524.8h7M146.4 542.4h7M139.5 547.2h7M132.6 550.4h7M139.5 564.8h7M146.4 566.4h7M132.6 571.2h7M139.5 572.8h7M139.5 574.4h7M132.6 585.6h7M146.4 592h7M153.4 592h7M146.4 612.8h7M139.5 616h7M146.4 616h7M132.6 620.8h7M132.6 630.4h7M132.6 638.4h7M146.4 638.4h7M132.6 641.6h7M139.5 644.8h7M146.4 646.4h7"/>
<path stroke="#fef6f3" stroke-width="1.64" d="M111.7 376h7M118.7 376h7M118.7 384h7M111.7 385.6h7M125.6 392h7M132.6 401.6h7M125.6 404.8h7M111.7 408h7M118.7 419.2h7M111.7 441.6h7M104.8 452.8h7M125.6 459.2h7M139.5 460.8h7M132.6 462.4h7M118.7 464h7M111.7 468.8h7M132.6 472h7M125.6 484.8h7M118.7 492.8h7M132.6 499.2h7M146.4 505.6h7M132.6 508.8h7M132.6 513.6h7M132.6 515.2h7M153.4 518.4h7M146.4 532.8h7M139.5 540.8h7M139.5 548.8h7M139.5 550.4h7M111.7 564.8h7M146.4 571.2h7M118.7 576h7M139.5 579.2h7M153.4 588.8h7M139.5 590.4h7M146.4 601.6h7M132.6 609.6h7M125.6 611.2h7M132.6 614.4h7M139.5 617.6h7M118.7 624h7M132.6 624h7M146.4 633.6h7M146.4 635.2h7M139.5 638.4h7M153.4 638.4h7M146.4 641.6h7M132.6 644.8h7"/>
<path stroke="#ffffff" stroke-width="1.64" d="M125.6 371.2h7M104.8 372.8h7M104.8 380.8h7M125.6 384h7M132.6 388.8h7M118.7 400h7M132.6 412.8h7M146.4 412.8h7M104.8 414.4h7M118.7 417.6h7M104.8 424h7M118.7 425.6h7M118.7 430.4h7M118.7 436.8h7M118.7 438.4h7M125.6 449.6h7M132.6 456h7M111.7 464h7M139.5 467.2h7M132.6 470.4h7M125.6 475.2h7M132.6 475.2h7M118.7 480h7M139.5 488h7M125.6 494.4h7M139.5 496h7M125.6 497.6h7M146.4 497.6h7M132.6 500.8h7M132.6 507.2h7M146.4 516.8h7M139.5 529.6h7M132.6 532.8h7M139.5 542.4h7M153.4 547.2h7M139.5 569.6h7M118.7 572.8h7M132.6 577.6h7M146.4 577.6h7M139.5 593.6h7M146.4 598.4h7M146.4 603.2h7M139.5 604.8h7M153.4 604.8h7M125.6 614.4h7M118.7 622.4h7M153.4 633.6h7M139.5 635.2h7M132.6 636.8h7"/>
<rect x="171.5" y="386.6" width="9.9" height="28.4" fill="url(#zg)" />
<text x="183.6" y="388.6" font-size="6.0" fill="#1a1a1a" stroke="#1a1a1a" stroke-width="0.16" >4</text>
<text x="183.6" y="396.6" font-size="6.0" fill="#1a1a1a" stroke="#1a1a1a" stroke-width="0.16" >2</text>
<text x="183.6" y="402.2" font-size="6.0" fill="#1a1a1a" stroke="#1a1a1a" stroke-width="0.16" >0</text>
<text x="183.6" y="408.6" font-size="6.0" fill="#1a1a1a" stroke="#1a1a1a" stroke-width="0.16" >−2</text>
<text x="183.6" y="414.8" font-size="6.0" fill="#1a1a1a" stroke="#1a1a1a" stroke-width="0.16" >−4</text>
<text transform="translate(168.5,400.6) rotate(-90)" font-size="6.4" font-style="italic" font-weight="bold" text-anchor="middle" fill="#231f20">Z-score</text>
<text x="169.6" y="434" font-size="6.4" fill="#1a1a1a" stroke="#1a1a1a" stroke-width="0.16" >Patient</text>
<rect x="169.2" y="439.2" width="6.2" height="5.9" fill="#8e4fa5" />
<text x="178.5" y="444.8" font-size="6.4" fill="#1a1a1a" stroke="#1a1a1a" stroke-width="0.16" >P01</text>
<rect x="169.2" y="449.3" width="6.2" height="5.9" fill="#8cc44c" />
<text x="178.5" y="454.9" font-size="6.4" fill="#1a1a1a" stroke="#1a1a1a" stroke-width="0.16" >P08</text>
<rect x="169.2" y="459.4" width="6.2" height="5.9" fill="#e07a8c" />
<text x="178.5" y="465" font-size="6.4" fill="#1a1a1a" stroke="#1a1a1a" stroke-width="0.16" >P09</text>
<rect x="169.2" y="469.5" width="6.2" height="5.9" fill="#d8bc84" />
<text x="178.5" y="475.1" font-size="6.4" fill="#1a1a1a" stroke="#1a1a1a" stroke-width="0.16" >P10</text>
<path stroke="#444444" stroke-width="0.8" d="M54.4 542.1h.8M57.1 596h.8M56.7 594.9h.8M54.9 558.5h.8M49.2 611.5h.8M54.4 382.6h.8M52.8 546.2h.8M54.5 495.1h.8M50.6 536.8h.8M51.7 588.2h.8M55.5 448h.8M57.8 604.5h.8M51.1 567.6h.8M52.2 557.6h.8M57.8 513.5h.8M51.6 430.4h.8M44.7 498.7h.8M53.8 459.3h.8M56.8 532.7h.8M54.6 470.7h.8M48.4 531.9h.8M57.6 589.6h.8M54.7 483.7h.8M53.6 589.1h.8M50.3 550.1h.8M54.9 646.9h.8M55 511.2h.8M55.9 631.9h.8M55 572.1h.8M54.6 375.3h.8M55.7 605h.8M56.7 611.1h.8M57.5 583.6h.8M53.2 370.2h.8M54.5 509.2h.8M55.6 394.3h.8M53.6 431.9h.8M47.1 462.4h.8M52 391.2h.8M54.4 593.6h.8M55.8 440.2h.8M54.2 647.6h.8M47.3 479.9h.8M55.1 555.9h.8M50.4 448.6h.8M56.5 479.6h.8M56.9 586.2h.8M57 535.5h.8M50.2 531.1h.8M56.1 546.8h.8M56.2 432.6h.8M49.1 536.8h.8M55.1 599.4h.8M52.8 618h.8M55.6 582.4h.8M50.4 442.3h.8M47.1 617h.8M57.5 416.8h.8M54.9 606.8h.8M53.2 486.3h.8M57.7 443.5h.8M55.2 389.4h.8M57.2 572.8h.8M57.4 401.3h.8M53 611.1h.8M52.3 425.3h.8M48.5 422.9h.8M54 646.8h.8M55.3 562.7h.8M55.6 638.7h.8M52.3 641.4h.8M55.1 590.1h.8M53.7 550.4h.8M55.1 461.3h.8M55.1 489.1h.8M57.4 549.6h.8M53.1 481.2h.8M55 507.5h.8M56.4 440.9h.8M57.1 554.9h.8M54.7 427.6h.8M56.2 514.8h.8M53.4 400.6h.8M55.6 476.4h.8M55.4 535.8h.8M54.3 479.1h.8M53.9 402.8h.8M57.6 615.5h.8M47.9 489.5h.8M54.3 448.9h.8M52.9 482.5h.8M57.4 410.9h.8M57.7 430.8h.8M51.4 548.1h.8M56.9 632.7h.8M51.3 610.2h.8M53.1 573.2h.8M57.6 520h.8M47.4 600.5h.8M53.5 452.9h.8M55.2 557.2h.8M55.1 536.3h.8M55.8 635.2h.8M57.1 515.9h.8M57.3 405.8h.8M55.5 612.7h.8M51.8 388.8h.8M53.6 442h.8M56.6 631.1h.8M57.5 504.2h.8M57.6 401.6h.8M48.6 536.8h.8M53.8 434.3h.8M56 542.5h.8M50.3 511.1h.8M55.2 472.7h.8M51.9 572.5h.8M56.4 484.4h.8M57.8 642.3h.8M52.9 414.7h.8M57.4 584.2h.8M56.9 545.1h.8M56.8 509.3h.8M57.2 405.3h.8M55.3 648.1h.8M56.1 610.5h.8M52.3 468h.8M54.4 376.5h.8M52.7 373.3h.8M54 642.7h.8M57.2 500.9h.8M57.6 414.8h.8M55.2 563.1h.8M53 381.8h.8M55.7 597.6h.8M51.7 645.4h.8M56.6 486.1h.8M50.5 433.2h.8M52.5 592.1h.8M52.5 547.1h.8M57.2 564.9h.8M52.3 568.7h.8M56.7 373.7h.8M56.4 400.6h.8M53.2 512h.8M52.4 525.7h.8M56.9 519.7h.8M47.9 646.7h.8M50.2 515.6h.8M57.2 641.6h.8M56.2 486h.8M56.7 591.5h.8M52.7 622.9h.8M55.2 584.6h.8M51.9 374.8h.8M52.7 423.2h.8M52.1 437.6h.8M54.4 446.5h.8M55 452.7h.8M55.8 509.6h.8M52.2 431.5h.8M53 461.8h.8M52.1 580.7h.8M49.5 450.3h.8M50.2 602.4h.8M54 495h.8M56.2 595.6h.8M57 609.3h.8M57.3 486.4h.8M55.6 563.3h.8M57.7 419.2h.8M50.8 629.1h.8M56.1 636.4h.8M56.1 383.7h.8M54.8 535.2h.8M55.8 636.2h.8M56.1 430.1h.8M56.3 472.1h.8M56.5 473.8h.8M52.5 559.5h.8M56.3 553.7h.8M56.2 425h.8M56.3 642.8h.8M49.7 379.2h.8M54.3 513.8h.8M57.8 372h.8M57.5 507.2h.8M52.4 622.8h.8M54.3 579.5h.8M55.7 434.2h.8M55.2 620.1h.8M57.6 506.2h.8M52.9 605.2h.8M52.3 490.5h.8M57.6 416.7h.8M54.8 511.6h.8M56.9 373h.8M53.6 568.7h.8M56.9 420.9h.8M50.4 498.8h.8M57.1 586.6h.8M52.2 609.7h.8M55.4 435.9h.8M57.6 539.6h.8M57.1 575.7h.8M55.3 458.4h.8M57.4 555.9h.8M56.9 382.1h.8M57 600.9h.8M54.6 587.2h.8M54.7 591.8h.8M51.9 502.8h.8M56.7 385.1h.8M55 546h.8M52.4 415.1h.8M55.7 567.8h.8M50.8 522.2h.8M57.8 516.8h.8M55.6 402.3h.8M57.4 573.3h.8M48.7 497.4h.8M57.1 494.6h.8M53.1 545.7h.8M57.4 545.5h.8M54.5 533.9h.8M49.4 557.9h.8M56.7 373.5h.8M54.4 396.9h.8M48.7 641.7h.8M52.5 557.1h.8M56.6 639.8h.8M55.2 413.4h.8M44.9 496.5h.8M53.4 409.3h.8M57.4 553.7h.8M51 596.6h.8M54 556.9h.8M50.6 642.4h.8M52.8 524.5h.8M48 394.9h.8M56.7 545.6h.8M47.8 412.3h.8M53.8 470.2h.8M57 518.9h.8M56.1 617h.8M57.4 633h.8M57.5 638.2h.8M49.7 575.1h.8M53.9 621.5h.8M55.2 471.6h.8M56.5 583.7h.8M56.4 525.4h.8M53.9 589h.8M54 507.5h.8M57.2 401.7h.8M53.1 605.8h.8M56.8 526.3h.8M51.6 458h.8M47.4 456.6h.8M56 378.7h.8M49.1 382.9h.8M45.3 579.1h.8M57.6 429.3h.8M50.5 599.1h.8M56 370.2h.8M55.2 561.9h.8M55.2 458.3h.8M57.2 646.7h.8M49.3 385.6h.8M53.7 443.1h.8M52.2 566h.8M52.6 507.6h.8M57 463.4h.8M57.5 632.9h.8M47.4 552.6h.8M57.5 571.6h.8M57.8 412.5h.8M56.3 544.9h.8M54.5 530.4h.8M53.2 458.3h.8M50.1 459.2h.8M46.9 418.4h.8M51.3 593.4h.8M56.2 618.3h.8M55 424.9h.8M54.7 455.9h.8M56.5 484.2h.8M53.2 558h.8M50.3 510.1h.8M54.4 490.7h.8M47.7 606.1h.8M54.2 482.5h.8M55.2 510.6h.8M56.9 380.4h.8M54.6 391.5h.8M54.3 545.3h.8M57.4 555.7h.8M52.1 410.9h.8M52.4 502.9h.8M52.2 487.2h.8M52.6 498.7h.8M57.4 472h.8M55.1 596.9h.8M50.9 611h.8M56.4 508.2h.8M54.5 498.4h.8M51.9 384.6h.8M53.6 568.6h.8M53.7 464.9h.8M57.5 457.3h.8M50.9 418.2h.8M51.6 398h.8M53.3 428.4h.8M54.5 394.2h.8M53.9 469.3h.8M51.8 467.6h.8M57.7 474.3h.8M47.9 504.5h.8M56.8 418.9h.8M51.7 410.2h.8M51 512.3h.8M55.5 468.4h.8M56.7 485h.8M55.3 636.7h.8M51.6 460.6h.8M50.9 598.3h.8M48.5 612.1h.8M50.4 512.9h.8M57 373.8h.8M53.5 411.5h.8M56.4 506.2h.8M55 410.2h.8M51.5 473.6h.8M50.9 439.8h.8M52.9 453.6h.8M56.7 401.5h.8M52.5 638.7h.8M55.9 499.8h.8M54.2 600.5h.8M57.5 480.5h.8M57.1 635h.8M52.5 490.5h.8M52.4 374.8h.8M48.7 400h.8M56.4 464.2h.8M52.3 583.3h.8M51 549.7h.8M55.7 419.2h.8M55.8 411.3h.8M53.1 467.8h.8M52.6 443.7h.8M54.9 550.4h.8M49.4 438.6h.8M55.2 421.5h.8M54.3 450.7h.8M57.7 568.9h.8M56.2 444.9h.8M53.5 537.3h.8M57.3 532.9h.8M53.7 505.3h.8M52.3 378.5h.8M54.8 567.8h.8M56.6 379.3h.8M54.5 375.4h.8M54.2 546.5h.8M47.3 404.2h.8M53.5 546.7h.8M55.3 454.4h.8M50.3 501h.8M50.5 534.9h.8M56.5 521.7h.8M52.8 552h.8M54 390.8h.8M54.7 399.1h.8M56.8 645.1h.8M53.1 533.3h.8M57.8 379.5h.8M56 434.3h.8M57.7 540.7h.8M53.5 493.4h.8M57.7 554.2h.8M51.5 506h.8M56.7 392.7h.8M50.1 514.5h.8M56.3 598.9h.8M51.9 647.4h.8M56.1 582.6h.8M54.3 385.3h.8M53.9 434.4h.8M53.7 585.3h.8M57.7 480.3h.8M53.6 510.6h.8M57.6 471.8h.8M56.6 579.8h.8M57 430.6h.8M55 624.1h.8M56.8 437.9h.8M56.7 515.9h.8M50.6 559.2h.8M57.1 399.5h.8M53.5 549.4h.8M53.5 531.9h.8M52.5 554.1h.8M57.7 391.4h.8M47.2 600h.8M54.2 418.1h.8M53.7 538.9h.8M56.7 567.5h.8M57.3 384.9h.8M50.7 520.4h.8M57.2 647.1h.8M57.1 582.1h.8M56.3 560.7h.8M50.5 489.8h.8M50 641.3h.8M52 452.3h.8M54.1 606.2h.8M51.5 566.2h.8M53.2 375.4h.8M55.2 416.1h.8M52.9 564.4h.8M56.5 643.8h.8M57.2 566.6h.8M56.4 417.6h.8M56 388.9h.8M49.3 572.4h.8M50.7 399h.8M54.9 512.4h.8M54.8 421.5h.8M57.8 528.8h.8M54.9 624.8h.8M56.1 532.2h.8M54.2 488.2h.8M55 601.8h.8M49 637.7h.8M54.1 376.4h.8M53.7 565.2h.8M53.6 510.3h.8M56.5 473h.8M55 627.6h.8M51.4 425.5h.8M57.7 492.7h.8M55.4 627.7h.8M52.1 633.8h.8M55.2 642h.8M54.8 398.9h.8M55.5 500.9h.8M49.6 585.6h.8M54.7 381.5h.8M52.7 485.9h.8M56.8 549.1h.8M54.8 542.3h.8M52.8 562.8h.8M49.4 386.8h.8M57.4 414.9h.8M53.8 475.9h.8M48.5 490.1h.8M55.9 439.1h.8M57.1 502.9h.8M54.3 418.1h.8M54.2 595.6h.8M51.6 613.6h.8M53.3 625.9h.8M57.1 469.9h.8M55.6 585.4h.8M55.4 499.3h.8M54.5 606.5h.8M56.7 558.2h.8M57.3 625.9h.8M56.2 602.3h.8M53.9 529.9h.8M55.9 383.7h.8M55.2 375.3h.8M53.8 630.2h.8M54.3 383.1h.8M57.1 518.8h.8M52.4 535.9h.8M57.3 489.1h.8M57.3 589.5h.8M50.9 443.7h.8M56.5 506h.8M52.9 429h.8M57.1 452h.8M55.9 445.1h.8M55.7 507.1h.8M54.7 633.4h.8M55.7 413.6h.8M54.5 619.9h.8M51.9 631.1h.8M56.3 635h.8M56.9 622.1h.8M50.7 570.7h.8M53.7 616.2h.8M54.3 622.2h.8M54.4 587.8h.8M57.3 541h.8M57.3 602.9h.8M57.7 471.1h.8M56.1 421.9h.8M55.3 496.1h.8M56.6 604.2h.8M56.1 502.5h.8M55.3 416h.8M57.7 628.6h.8M54.7 531.2h.8M52.5 402.4h.8M57.6 486.2h.8M57.7 413.6h.8M52.4 433h.8M57.4 420.5h.8M54.5 586.3h.8M55.5 376.9h.8M53.6 612.2h.8M45.2 608.6h.8M56.2 620.3h.8M53.8 591.1h.8M56.1 561h.8M53.6 431.5h.8M57.5 565h.8M50.7 618.9h.8M57.3 393.3h.8M51.1 623.7h.8M56.2 487.1h.8M50.8 524.3h.8M49.7 445h.8M48.3 537.2h.8M57.8 637h.8M56.8 580.8h.8M55.8 579.8h.8M51.6 504.2h.8M48.9 479.4h.8M55.2 383.3h.8M56.3 620.7h.8M57.7 422.5h.8M56.7 524.1h.8M53.6 549.6h.8M50.3 544.8h.8M52.7 520.6h.8M56.6 423.6h.8M53.1 631.2h.8M57.2 528.3h.8M56.4 488.8h.8M53.1 462.5h.8M57.6 538.8h.8M53 616.2h.8M55.9 616.6h.8M54.4 518.5h.8M54.1 528.8h.8M55.9 430.5h.8M48 570.2h.8M51 471.3h.8M54.3 524h.8M56.1 628.2h.8M49.7 415.8h.8M53.6 622.2h.8M50.4 529h.8M55.3 434.4h.8M55.7 642.5h.8M56.1 479.4h.8M54.2 458.8h.8M54.3 613.4h.8M52.6 642.9h.8M53.5 619.4h.8M57.1 422.5h.8M56 488h.8M57.6 595.4h.8M49 629.6h.8M51.5 383.7h.8M52.8 495.8h.8M48.5 584.1h.8M53.1 632.8h.8M53.5 374.3h.8M51.9 552.9h.8M53.8 471.7h.8M56.4 505.2h.8M56.1 420.7h.8M48.8 549.9h.8M55.9 450.8h.8M51.4 458.1h.8M56.7 592.4h.8M57.4 499.2h.8M56.3 434.7h.8M55.4 481.3h.8M52 609.4h.8M55.3 518.1h.8M56.7 576.8h.8M57.1 414.5h.8M56.4 634.3h.8M47.2 575.7h.8M50.5 378.1h.8M57.7 481.3h.8M56.3 486.7h.8M48.6 552.9h.8M57 564.6h.8M52.5 637.9h.8M54.3 378.5h.8M54.7 459.8h.8M57.1 373.9h.8M56.3 402.2h.8M52.8 501h.8"/>
<path stroke="#4e4e4e" stroke-width="0.75" d="M47.1 373.1h11.5M50.2 374.6h8.4M52.2 385.9h6.4M56.1 394.9h2.5M49.9 395.6h8.7M53.9 400.1h4.7M47.5 404.6h11.1M49.4 406.1h9.2M49.8 410.6h8.8M49.8 419.6h8.8M47.2 423.4h11.4M56.1 425.6h2.5M49.3 430.9h9.3M52.6 436.1h6M46 436.9h12.6M47.9 437.6h10.7M50.6 438.4h8M47.8 442.9h10.8M50.1 448.1h8.5M48.4 455.6h10.2M50.6 461.6h8M50.8 469.9h7.8M49.7 475.1h8.9M47.6 483.4h11M46.4 487.9h12.2M48.1 493.9h10.5M47.3 494.6h11.3M52.3 495.4h6.3M47.5 496.1h11.1M49 498.4h9.6M52.2 511.9h6.4M42.9 512.6h15.7M51.5 529.9h7.1M52.6 531.4h6M49.1 535.1h9.5M46.9 536.6h11.7M50.7 550.1h7.9M50.1 552.4h8.5M53 559.9h5.6M53.6 577.1h5M49.9 584.6h8.7M49.2 594.4h9.4M52.7 607.9h5.9M49 608.6h9.6M46.5 613.1h12.1M50.2 619.1h8.4M48.8 623.6h9.8M53.5 628.1h5.1M53 631.1h5.6M50.2 645.4h8.4"/>
<path stroke="#5a5a5a" stroke-width="0.75" d="M49.5 384.4h9.1M51.4 385.1h7.2M42.4 389.6h16.2M49.1 394.1h9.5M49.7 398.6h8.9M52.1 400.9h6.5M52.3 409.1h6.3M53 414.4h5.6M51.1 418.1h7.5M49 432.4h9.6M49.5 433.1h9.1M49.5 433.9h9.1M50.7 440.6h7.9M51.4 443.6h7.2M51.5 445.1h7.1M50.5 451.1h8.1M46.2 451.9h12.4M42.9 452.6h15.7M53.6 464.6h5M46.6 467.6h12M53.6 472.9h5M52.1 475.9h6.5M49.8 477.4h8.8M52.4 484.1h6.2M49.8 486.4h8.8M51 489.4h7.6M45.4 507.4h13.2M52.1 508.9h6.5M48.9 509.6h9.7M48.9 514.1h9.7M54.4 519.4h4.2M49.3 522.4h9.3M49.6 526.1h9M52.2 527.6h6.4M51.9 529.1h6.7M54.2 537.4h4.4M49 538.9h9.6M53.2 544.1h5.4M49.5 545.6h9.1M47.5 549.4h11.1M49.1 550.9h9.5M51.7 553.9h6.9M43.2 555.4h15.4M44.9 556.1h13.7M51 557.6h7.6M52.6 565.9h6M50 568.1h8.6M52.4 573.4h6.2M55.5 576.4h3.1M50.8 579.4h7.8M51.2 580.9h7.4M51.5 582.4h7.1M49.1 588.4h9.5M55.3 592.1h3.3M49.4 592.9h9.2M49.4 595.1h9.2M48.4 597.4h10.2M50.8 604.1h7.8M48.5 606.4h10.1M51.4 607.1h7.2M51.1 618.4h7.5M46.5 625.1h12.1M49 625.9h9.6M48.8 626.6h9.8M52.9 632.6h5.7M55.4 635.6h3.2M50.3 636.4h8.3M50.2 637.1h8.4M52.8 640.1h5.8M52.1 643.1h6.5"/>
<path stroke="#5a5a5a" stroke-width="0.9" d="M26.7 385.2h2M38.1 436.2h1M27.5 462.4h2.4M33.2 499.2h1.4M43.8 518.7h2.2M28.3 521.7h.9M24.6 536h2.2M28.6 536.7h2.1M42.5 559.2h1.9M34.2 562.2h.9M33.7 583.2h1.1M41.5 593h2.4M41.3 610.2h2.5"/>
<path stroke="#666666" stroke-width="0.75" d="M43.7 370.9h14.9M45.6 371.6h13M47.6 378.4h11M50.5 379.1h8.1M52.6 386.6h6M50 388.9h8.6M53.9 390.4h4.7M53.5 397.1h5.1M44.9 397.9h13.7M51 401.6h7.6M54.7 406.9h3.9M51.5 408.4h7.1M51.2 418.9h7.4M52.9 420.4h5.7M45.7 421.1h12.9M52.2 427.1h6.4M47.1 428.6h11.5M50.1 429.4h8.5M46.3 442.1h12.3M48.6 446.6h10M55.2 447.4h3.4M49 448.9h9.6M47.1 457.9h11.5M52.1 462.4h6.5M48.7 465.4h9.9M50.5 471.4h8.1M53.5 474.4h5.1M45.9 478.9h12.7M50.6 490.1h8M48.5 496.9h10.1M50.1 503.6h8.5M48.4 505.1h10.2M49.2 506.6h9.4M51.5 510.4h7.1M50 511.1h8.6M51.9 514.9h6.7M51.9 517.1h6.7M51.2 523.9h7.4M51.2 542.6h7.4M49.4 548.6h9.2M50.6 554.6h8M48.3 556.9h10.3M47.5 560.6h11.1M49.9 562.1h8.7M47.9 566.6h10.7M47.9 569.6h10.7M47.1 574.9h11.5M49.6 585.4h9M49.5 587.6h9.1M50.6 589.9h8M46.4 590.6h12.2M49.4 596.6h9.2M47.4 600.4h11.2M47.4 603.4h11.2M47.1 604.9h11.5M48.8 610.1h9.8M52.7 611.6h5.9M52.9 612.4h5.7M47.2 617.6h11.4M52.7 619.9h5.9M52.4 621.4h6.2M49.6 627.4h9M48.8 634.9h9.8M48.2 646.9h10.4"/>
<path stroke="#727272" stroke-width="0.75" d="M51.1 372.4h7.5M50.8 376.9h7.8M48.5 380.6h10.1M45.9 381.4h12.7M48.2 383.6h10.4M54.1 388.1h4.5M47.9 393.4h10.7M42.8 399.4h15.8M47.3 412.9h11.3M48.6 415.9h10M51.8 416.6h6.8M52.6 417.4h6M53.1 422.6h5.5M48.8 424.9h9.8M51.2 439.1h7.4M51 460.1h7.6M52.3 463.9h6.3M54.7 473.6h3.9M50.2 476.6h8.4M52.6 479.6h6M53.2 482.6h5.4M49 484.9h9.6M48.3 488.6h10.3M49.8 502.9h8.8M53.3 504.4h5.3M51 518.6h7.6M46.3 521.6h12.3M50.3 544.9h8.3M50.6 547.1h8M47 558.4h11.6M51.6 562.9h7M49.3 563.6h9.3M50.8 567.4h7.8M55.3 568.9h3.3M56.1 570.4h2.5M55.9 571.1h2.7M48.8 575.6h9.8M54.8 580.1h3.8M53.8 583.1h4.8M51.3 583.9h7.3M47.5 586.1h11.1M47.2 595.9h11.4M51.8 598.9h6.8M54 601.9h4.6M52.2 605.6h6.4M42.8 609.4h15.8M50 622.9h8.6M50 628.9h8.6M49.8 634.1h8.8M47.3 638.6h11.3M53.3 641.6h5.3M51 642.4h7.6M50.7 644.6h7.9M47.3 647.6h11.3"/>
<path stroke="#7e7e7e" stroke-width="0.75" d="M48.8 369.4h9.8M56 370.1h2.6M51.2 375.4h7.4M49 376.1h9.6M52 377.6h6.6M45.8 379.9h12.8M49.6 382.9h9M48.2 387.4h10.4M53.1 391.9h5.5M45.6 402.4h13M53.9 403.9h4.7M47 405.4h11.6M46 407.6h12.6M45.5 409.9h13.1M44.9 421.9h13.7M46.8 426.4h11.8M48.9 427.9h9.7M50.8 430.1h7.8M42.9 434.6h15.7M46.8 435.4h11.8M49.9 439.9h8.7M52.1 444.4h6.5M45.7 445.9h12.9M48.3 449.6h10.3M52.1 450.4h6.5M48 453.4h10.6M51 454.9h7.6M48.4 456.4h10.2M48 458.6h10.6M49.4 463.1h9.2M54.4 466.1h4.2M50.1 468.4h8.5M48.9 470.6h9.7M50.1 472.1h8.5M50.4 478.1h8.2M50 480.4h8.6M52.5 481.1h6.1M49.8 481.9h8.8M55 490.9h3.6M52.6 492.4h6M53.4 493.1h5.2M49.4 499.1h9.2M54.9 500.6h3.7M47.8 501.4h10.8M49 515.6h9.6M54.3 516.4h4.3M44.4 517.9h14.2M42.8 520.1h15.8M47.1 520.9h11.5M50.1 523.1h8.5M53.8 526.9h4.8M49.4 532.1h9.2M55.2 532.9h3.4M48.3 533.6h10.3M52.3 539.6h6.3M49.8 541.1h8.8M45.5 541.9h13.1M47.5 543.4h11.1M53 546.4h5.6M55.5 547.9h3.1M51.9 561.4h6.7M47.4 565.1h11.2M46.4 571.9h12.2M48.3 574.1h10.3M50.9 577.9h7.7M52.6 586.9h6M49.2 591.4h9.4M48.3 598.1h10.3M49.3 599.6h9.3M51.8 601.1h6.8M54.6 616.1h4M44.9 620.6h13.7M49.8 622.1h8.8M50.8 624.4h7.8M48.3 630.4h10.3M44 633.4h14.6M48 637.9h10.6M49.8 643.9h8.8M51.4 646.1h7.2"/>
<path stroke="#8a8a8a" stroke-width="0.75" d="M47 373.9h11.6M47 382.1h11.6M49 391.1h9.6M50.2 392.6h8.4M47.3 396.4h11.3M49.9 403.1h8.7M53.2 411.4h5.4M46.3 412.1h12.3M50.1 413.6h8.5M49.5 415.1h9.1M50.7 424.1h7.9M48.5 431.6h10.1M52.2 441.4h6.4M51.2 454.1h7.4M52.6 457.1h6M49.3 459.4h9.3M44.5 460.9h14.1M51.1 466.9h7.5M47.9 469.1h10.7M49.2 485.6h9.4M52.2 487.1h6.4M49.9 491.6h8.7M49.1 497.6h9.5M45.7 499.9h12.9M44.9 502.1h13.7M51.4 505.9h7.2M48 508.1h10.6M48.9 513.4h9.7M47.2 524.6h11.4M45.8 525.4h12.8M54 528.4h4.6M46.2 530.6h12.4M48.6 534.4h10M47.1 535.9h11.5M51 538.1h7.6M50.6 540.4h8M48 551.6h10.6M48.8 553.1h9.8M45.6 559.1h13M51.5 564.4h7.1M49.8 572.6h8.8M50.6 578.6h8M48.9 581.6h9.7M54.3 589.1h4.3M50.5 593.6h8.1M52.9 602.6h5.7M48.3 610.9h10.3M51.3 613.9h7.3M51.3 614.6h7.3M44.8 615.4h13.8M51.2 616.9h7.4M49.1 629.6h9.5M56.1 631.9h2.5M54 639.4h4.6M49.3 640.9h9.3M50 648.4h8.6"/>
<polygon fill="#5c5c5c" points="65.2,369 67,375 70,386 72.5,398 74.7,412 77.2,425 79.4,438 80.7,457 81.6,470 82.6,485 83.3,495.5 83.3,369"/>
<polygon fill="#5c5c5c" points="83.3,495.5 84.5,505.8 85.8,531.7 88.4,557.5 91,583.4 93.6,609.2 94.9,610 94.9,614.4 96.2,630 98.2,645.4 99.2,649.3 83.3,649.3"/>
<path stroke="#404040" stroke-width="1.7" d="M65.5 369.9h17.8M66.1 372.1h17.2M66.8 374.2h16.5M67.4 376.4h15.9M68 378.6h15.3M68.6 380.8h14.7M69.2 383h14.1M69.8 385.2h13.5M70.3 387.4h13M70.8 389.6h12.5M71.2 391.8h12.1M71.7 394h11.6M72.1 396.2h11.2M72.6 398.4h10.7M72.9 400.6h10.4M73.3 402.8h10M73.6 405h9.7M74 407.2h9.3M74.3 409.4h9M74.7 411.6h8.6M75.1 413.8h8.2M75.5 416h7.8M75.9 418.2h7.4M76.3 420.4h7M76.8 422.6h6.5M77.2 424.8h6.1M77.6 427h5.7M77.9 429.2h5.4M78.3 431.4h5M78.7 433.6h4.6M79 435.8h4.3M79.4 438h3.9M79.6 440.2h3.7M79.7 442.4h3.6M79.9 444.6h3.4M80 446.8h3.3M80.2 449h3.1M80.3 451.2h3M80.5 453.4h2.8M80.6 455.6h2.7M80.8 457.8h2.5M80.9 460h2.4M81.1 462.2h2.2M81.2 464.4h2.1M81.4 466.6h1.9M81.5 468.8h1.8M81.7 471h1.6M81.8 473.2h1.5M82 475.4h1.3M82.1 477.6h1.2M82.3 479.8h1M82.4 482h.9M82.6 484.2h.7M82.7 486.4h.6M82.8 488.6h.5M83 490.8h.3M83.3 497.4h.2M83.3 499.6h.5M83.3 501.8h.7M83.3 504h1M83.3 506.2h1.2M83.3 508.4h1.3M83.3 510.6h1.4M83.3 512.8h1.6M83.3 515h1.7M83.3 517.2h1.8M83.3 519.4h1.9M83.3 521.6h2M83.3 523.8h2.1M83.3 526h2.2M83.3 528.2h2.3M83.3 530.4h2.4M83.3 532.6h2.6M83.3 534.8h2.8M83.3 537h3M83.3 539.2h3.3M83.3 541.4h3.5M83.3 543.6h3.7M83.3 545.8h3.9M83.3 548h4.2M83.3 550.2h4.4M83.3 552.5h4.6M83.3 554.7h4.8M83.3 556.9h5M83.3 559.1h5.3M83.3 561.3h5.5M83.3 563.5h5.7M83.3 565.7h5.9M83.3 567.9h6.1M83.3 570.1h6.4M83.3 572.3h6.6M83.3 574.5h6.8M83.3 576.7h7M83.3 578.9h7.2M83.3 581.1h7.5M83.3 583.3h7.7M83.3 585.5h7.9M83.3 587.7h8.1M83.3 589.9h8.4M83.3 592.1h8.6M83.3 594.3h8.8M83.3 596.5h9M83.3 598.7h9.2M83.3 600.9h9.5M83.3 603.1h9.7M83.3 605.3h9.9M83.3 607.5h10.1M83.3 609.7h11.1M83.3 611.9h11.6M83.3 614.1h11.6M83.3 616.3h11.8M83.3 618.5h11.9M83.3 620.7h12.1M83.3 622.9h12.3M83.3 625.1h12.5M83.3 627.3h12.7M83.3 629.5h12.9M83.3 631.7h13.1M83.3 633.9h13.4M83.3 636.1h13.7M83.3 638.3h14M83.3 640.5h14.3M83.3 642.7h14.5M83.3 644.9h14.8M83.3 647.1h15.3M83.3 649.3h15.9"/>
<line x1="22.5" y1="650" x2="59.2" y2="650" stroke="#555" stroke-width="0.5" />
<line x1="63.4" y1="650" x2="99.8" y2="650" stroke="#555" stroke-width="0.5" />
<text x="25.4" y="658.3" font-size="6.2" text-anchor="middle" fill="#1a1a1a" stroke="#1a1a1a" stroke-width="0.16" >−10</text>
<text x="40.6" y="658.3" font-size="6.2" text-anchor="middle" fill="#1a1a1a" stroke="#1a1a1a" stroke-width="0.16" >−5</text>
<text x="55.3" y="658.3" font-size="6.2" text-anchor="middle" fill="#1a1a1a" stroke="#1a1a1a" stroke-width="0.16" >0</text>
<text x="72.1" y="658.3" font-size="6.2" text-anchor="middle" fill="#1a1a1a" stroke="#1a1a1a" stroke-width="0.16" >−5</text>
<text x="83.3" y="658.3" font-size="6.2" text-anchor="middle" fill="#1a1a1a" stroke="#1a1a1a" stroke-width="0.16" >0</text>
<text x="94.6" y="658.3" font-size="6.2" text-anchor="middle" fill="#1a1a1a" stroke="#1a1a1a" stroke-width="0.16" >5</text>
<text x="28.9" y="668" font-size="7.3" fill="#1a1a1a" stroke="#1a1a1a" stroke-width="0.16" textLength="25.3" lengthAdjust="spacingAndGlyphs">Log count</text>
<text x="73" y="668" font-size="7.3" fill="#1a1a1a" stroke="#1a1a1a" stroke-width="0.16" textLength="19" lengthAdjust="spacingAndGlyphs">Log2FC</text>
<text x="306.6" y="16.8" font-size="12.8" font-weight="bold" fill="#000" >B</text>
<text x="397.2" y="29.6" font-size="8.6" text-anchor="middle" fill="#1a1a1a" stroke="#1a1a1a" stroke-width="0.16" >CD70–</text>
<text x="466" y="29.6" font-size="8.6" text-anchor="middle" fill="#1a1a1a" stroke="#1a1a1a" stroke-width="0.16" >CD70+</text>
<line x1="371.5" y1="34.5" x2="427.7" y2="34.5" stroke="#2c4a8a" stroke-width="1.0" />
<polygon points="368.3,34.5 373.3,32.5 373.3,36.5" fill="#2c4a8a"/>
<line x1="435.8" y1="34.5" x2="492.5" y2="34.5" stroke="#d8502a" stroke-width="1.0" />
<polygon points="496,34.5 491,32.5 491,36.5" fill="#d8502a"/>
<line x1="331.2" y1="172.2" x2="512" y2="172.2" stroke="#d6d6d6" stroke-width="0.8" />
<line x1="331.2" y1="143.1" x2="512" y2="143.1" stroke="#d6d6d6" stroke-width="0.8" />
<line x1="331.2" y1="114" x2="512" y2="114" stroke="#d6d6d6" stroke-width="0.8" />
<line x1="331.2" y1="84.9" x2="512" y2="84.9" stroke="#d6d6d6" stroke-width="0.8" />
<line x1="331.2" y1="55.8" x2="512" y2="55.8" stroke="#d6d6d6" stroke-width="0.8" />
<line x1="374.9" y1="39.6" x2="374.9" y2="178" stroke="#d6d6d6" stroke-width="0.8" />
<line x1="433.9" y1="39.6" x2="433.9" y2="178" stroke="#d6d6d6" stroke-width="0.8" />
<line x1="492.9" y1="39.6" x2="492.9" y2="178" stroke="#d6d6d6" stroke-width="0.8" />
<line x1="331" y1="39.6" x2="331" y2="178.6" stroke="#3a3a3a" stroke-width="1.3" />
<line x1="331" y1="178" x2="512" y2="178" stroke="#3a3a3a" stroke-width="1.3" />
<line x1="328.4" y1="172.2" x2="331.2" y2="172.2" stroke="#3a3a3a" stroke-width="0.6" />
<text x="325" y="174.2" font-size="5.8" text-anchor="end" fill="#1a1a1a" stroke="#1a1a1a" stroke-width="0.16" >0</text>
<line x1="328.4" y1="143.1" x2="331.2" y2="143.1" stroke="#3a3a3a" stroke-width="0.6" />
<text x="325" y="145.1" font-size="5.8" text-anchor="end" fill="#1a1a1a" stroke="#1a1a1a" stroke-width="0.16" >1</text>
<line x1="328.4" y1="114" x2="331.2" y2="114" stroke="#3a3a3a" stroke-width="0.6" />
<text x="325" y="116" font-size="5.8" text-anchor="end" fill="#1a1a1a" stroke="#1a1a1a" stroke-width="0.16" >2</text>
<line x1="328.4" y1="84.9" x2="331.2" y2="84.9" stroke="#3a3a3a" stroke-width="0.6" />
<text x="325" y="86.9" font-size="5.8" text-anchor="end" fill="#1a1a1a" stroke="#1a1a1a" stroke-width="0.16" >3</text>
<line x1="328.4" y1="55.8" x2="331.2" y2="55.8" stroke="#3a3a3a" stroke-width="0.6" />
<text x="325" y="57.8" font-size="5.8" text-anchor="end" fill="#1a1a1a" stroke="#1a1a1a" stroke-width="0.16" >4</text>
<line x1="374.9" y1="178" x2="374.9" y2="180.8" stroke="#3a3a3a" stroke-width="0.6" />
<line x1="433.9" y1="178" x2="433.9" y2="180.8" stroke="#3a3a3a" stroke-width="0.6" />
<line x1="492.9" y1="178" x2="492.9" y2="180.8" stroke="#3a3a3a" stroke-width="0.6" />
<text x="374.9" y="189.8" font-size="5.8" text-anchor="middle" fill="#1a1a1a" stroke="#1a1a1a" stroke-width="0.16" >−1</text>
<text x="492.9" y="189.8" font-size="5.8" text-anchor="middle" fill="#1a1a1a" stroke="#1a1a1a" stroke-width="0.16" >1</text>
<text x="399.6" y="201.2" font-size="7.0" fill="#1a1a1a" stroke="#1a1a1a" stroke-width="0.16" textLength="43.4" lengthAdjust="spacingAndGlyphs">Log<tspan font-size="4.5" dy="1.6">2</tspan><tspan dy="-1.6"> fold change</tspan></text>
<text transform="translate(313.0,126.9) rotate(-90)" font-size="7.0" fill="#231f20" textLength="36.7" lengthAdjust="spacingAndGlyphs">−log<tspan font-size="4.5" dy="1.6">10</tspan><tspan dy="-1.6"> </tspan><tspan font-style="italic">P</tspan>-value</text>
<polygon fill="#c4c4c4" points="374.4,115 375.5,119 378,124.4 381.5,131.5 385.2,138.9 390.5,146 396.7,153.3 404,159.5 412.6,164.8 422,168.6 428,170.3 432.8,171.3 432.8,171.3 430,164.8 425,159 419.8,153.3 412,146 405.4,138.9 399,131 393.9,124.4 391,119 389.5,114.5"/>
<polygon fill="#c4c4c4" points="434,171.2 437.5,167.8 441.5,163.8 445,157 448.2,150.4 451,143.5 453.6,136.9 455.5,130 457,123.5 458.3,115.4 458.5,114 480,114 479,118 478.5,124 477.8,130.2 476.5,136 475,141 471,149 466,154 461.6,158.5 455,162.8 448.2,166.5 441,169.5 434,171.2"/>
<path stroke="#c8c8c8" stroke-width="0.9" d="M463 156.6h.9M480.5 131.4h.9M467.6 152.8h.9M459.2 160.1h.9M465.6 153.8h.9M476.7 145.7h.9M471.8 146.1h.9M464.4 155.2h.9M473 145.7h.9M472.9 147.7h.9M463.4 157.1h.9M468.1 151.2h.9M469.4 150h.9M477.9 121.4h.9M478 138.4h.9M479.6 131.2h.9M469.3 151.7h.9M457.6 161.3h.9M477 138.3h.9M477.4 141.9h.9M454.4 162.9h.9M478.1 119.1h.9M462.1 158.3h.9M478.3 128.7h.9M479.8 130.7h.9M474.1 145.5h.9M479.1 129.1h.9M450.8 165.2h.9M481.9 131.3h.9M466.7 152.5h.9M479 124.8h.9M468.9 151h.9M462.3 157.5h.9M477.5 127.1h.9M478.5 131.3h.9M477.4 131.3h.9M479.6 133.3h.9M477.5 139.7h.9M478.2 139.7h.9M484.2 119.1h.9M476.1 142.3h.9M475 146.3h.9M463.6 157.4h.9M484.9 126.5h.9M469.5 150.8h.9M477.7 128.4h.9M453.5 163.4h.9M479.2 135.8h.9M481.6 118.1h.9M463.9 155.9h.9M481 122.9h.9M469.9 149.2h.9M470.8 149.9h.9M475.5 141.4h.9M483 132.5h.9M482.5 124.2h.9M454.9 162.6h.9M482.5 123h.9M474.3 144.5h.9M486.5 128.6h.9M477.3 127.2h.9M459 161.6h.9M461.5 158.1h.9M480.5 136.6h.9M465.3 155h.9M456 161.8h.9M453 164.3h.9M477.9 133.4h.9M486.4 124.3h.9M485 119h.9M460.3 158.8h.9M484.1 120.1h.9M484 124.4h.9M476.1 140.1h.9M484.2 133.2h.9M478.6 116.4h.9M482.3 122.5h.9M474.3 141h.9M475.7 136.8h.9M483.5 121.4h.9M481.6 117.1h.9M488 115.3h.9M483.3 116.7h.9M491.6 115.3h.9M478.3 138.7h.9M474.6 143.4h.9M471.5 146.5h.9M459.1 160.1h.9M463.3 157.3h.9M470.8 149.1h.9M476.4 134.7h.9M487.4 116.3h.9M483.5 135h.9M479.6 133.4h.9M484.7 122.7h.9M479.3 116.7h.9M473.7 144.3h.9M463.1 156h.9M477 133.7h.9M480.7 129.2h.9M465.7 153.4h.9M466.4 153.1h.9M490.5 115.3h.9M480 132h.9M469.1 150.7h.9M454.9 163h.9M470.5 149.7h.9M455.4 162.2h.9M478.1 140.5h.9M485.4 115.6h.9M480.6 118.3h.9M456.8 161.7h.9M478.5 124.2h.9M475.8 138.4h.9M480.2 130.7h.9M473.3 146.7h.9M465.2 155.3h.9M485.5 122.1h.9M478.5 140.9h.9M487.4 121.9h.9M478.6 131.5h.9M472.4 144.7h.9M483.7 117.8h.9M482.7 123h.9M478.5 130.4h.9M477.5 129.1h.9M452.8 163.7h.9M470.4 149.4h.9M456.6 161.6h.9M463.7 156.3h.9M464.1 155.1h.9M478.7 126.8h.9M478.1 135.1h.9M485.8 125.1h.9M479.5 132.4h.9M476 142.5h.9M480.2 119.2h.9M480.2 136.8h.9M480.4 132.3h.9M465.1 154.7h.9M475.2 142h.9M469.1 151.2h.9M477.9 134.1h.9M478.8 129.4h.9M472.7 144.3h.9M478.9 131.3h.9M454.8 162.7h.9M453.1 163.7h.9M477.9 133.8h.9M475.4 138.7h.9M477.2 133.5h.9M474.6 142.7h.9M483.8 127h.9M465.1 154.7h.9M480.8 137.1h.9M472.7 146.4h.9M466 153.9h.9M479.9 137.9h.9M470.2 150.7h.9M462.3 157.9h.9M451.2 164.4h.9M457.1 160.9h.9M476.2 140.3h.9M455.4 162.1h.9M488 116.5h.9M481.8 130.4h.9M471.7 147h.9M479 124.5h.9M478.9 122.2h.9M479.5 117.6h.9M483.1 130.2h.9M487.8 118.2h.9M477.2 131.7h.9M473.5 145.9h.9M470.9 148.7h.9M475 143.4h.9M477.3 126.7h.9M460.9 158.7h.9M474.4 143.4h.9M481 137.1h.9M476 134.7h.9M485.6 116h.9M483.1 129.7h.9M479 132.1h.9M466.7 152.4h.9M484.8 118.1h.9M468.8 152.3h.9M480.1 136.3h.9M473.9 143.2h.9M452.3 163.9h.9M487.9 120.1h.9M479.5 117.8h.9M479 127.5h.9M454.3 162.8h.9M481.5 116.7h.9M479.6 137.5h.9M473.5 146.2h.9M481.4 125.8h.9M477.1 135.4h.9M474.4 144.4h.9M478.7 125.6h.9M479.8 129.5h.9M466 153.3h.9M459.1 159.7h.9M479.9 131.7h.9M468.7 151h.9M478.1 128.2h.9M475.1 139h.9M452.2 164.3h.9M450.4 165h.9M475.3 138.8h.9M461.6 158h.9M464.6 155.7h.9M449.2 165.9h.9M479.8 132.3h.9M480.5 115.6h.9M490.2 122.9h.9M477.7 141.7h.9M479.9 135.6h.9M483.2 116h.9M480.5 119.1h.9M478.8 135.1h.9M467.6 152.5h.9M485.1 122.1h.9M478.5 133.7h.9M449.9 165.4h.9M455.8 162.4h.9M477.1 130.5h.9M450.8 165.1h.9M451.5 164.9h.9M467.7 151.9h.9M476.9 141.3h.9M477.8 125.1h.9M480.6 122.1h.9M480.2 129.2h.9M478.2 125.6h.9M478.2 140.2h.9M459.7 160.6h.9M472.2 146.7h.9M455 162.5h.9M479.4 117.6h.9M463.3 156.5h.9M456.5 162.2h.9M487.7 121.2h.9M481.3 120.9h.9M464.9 156.7h.9M476.5 135.9h.9M474.5 144.2h.9M461.8 158h.9M468.8 150.7h.9M476.4 134.4h.9M476.5 138.5h.9M469.5 152h.9M476.4 142.2h.9M468.3 151.2h.9M486.3 121.2h.9M459.6 159.8h.9M483.4 126.6h.9M489.6 119.2h.9M461.3 158.8h.9M479.3 129.4h.9M473.8 142.4h.9M476.7 133.9h.9M475.4 143h.9M465.1 154.4h.9M464.2 156.4h.9M477.5 139.3h.9M480.1 119.1h.9M470.7 151.9h.9M458.3 160.2h.9M479.2 124.5h.9M453.7 163.3h.9M479.3 130.7h.9M480.5 116.9h.9M461.2 158.7h.9M483.6 125.3h.9M461.8 158.7h.9M458.1 160.5h.9M490.9 118h.9M462 158.6h.9M475.6 136.4h.9M480.2 134.2h.9M467.5 151.9h.9M459.9 159.3h.9M468.9 152.5h.9M452.4 164h.9M480.1 116.3h.9M477.2 141.8h.9M458.1 160.3h.9M462.5 156.7h.9M479.3 118.6h.9M453.9 163.3h.9M479.2 126.6h.9M478.5 117.5h.9M476.7 142.8h.9M466.9 153.4h.9M471 150h.9M476.1 137.8h.9M486 115.6h.9M479.4 132.7h.9M476.8 135.1h.9M479.2 121.5h.9M462.6 158.1h.9M475.2 145.3h.9M483.5 125.9h.9M481.5 129.6h.9M475.1 143.1h.9M473.5 144.2h.9M458.5 160.2h.9M470.7 148.7h.9M470.6 149.6h.9M479.5 124h.9M451.2 164.4h.9M454.4 162.6h.9M475.6 145.1h.9M476.7 138.5h.9M472.1 148.2h.9M484 131.8h.9M481 126.3h.9M486.1 119.9h.9M456.1 162.4h.9M477.6 125.7h.9M478.7 129.6h.9M487.5 118.3h.9M478.4 141.6h.9M482.8 121.4h.9M482.2 123.1h.9M477.5 133.2h.9M482.6 127.7h.9M470.8 149.3h.9M426.9 159.9h.9M426.7 161.3h.9M408.8 142.8h.9M384.5 138.5h.9M410.5 144.7h.9M395.3 126.6h.9M410.8 145h.9M384.9 140.3h.9M386.8 143.6h.9M431.7 168.1h.9M409.9 143.9h.9M424.6 157.8h.9M391.3 115.9h.9M409.8 143.8h.9M383.1 136.7h.9M403.5 133.8h.9M394.6 123.7h.9M408.9 143h.9M415.6 149.6h.9M410.5 144.5h.9M419.8 153.6h.9M426.3 160.9h.9M410.3 144.4h.9M389.3 146.1h.9M431.2 167h.9M385.6 141.3h.9M411 144.8h.9M421.4 155.3h.9M401.3 158.2h.9M392.1 149h.9M378.4 128.4h.9M377.3 125h.9M374.2 118.1h.9M393.8 151.5h.9M423 156.8h.9M379.7 129.4h.9M393 117.6h.9M381.3 132.7h.9M411.4 145.8h.9M381.7 132.9h.9M428.5 161.8h.9M397.4 128.1h.9M387.4 144.2h.9M428.9 164h.9M413.9 147.5h.9M375.3 119.8h.9M377.5 126.4h.9M394.1 118.6h.9M425.6 159.8h.9M415.6 149.3h.9M393.5 116.9h.9M431.3 167.6h.9M430.1 163.2h.9M419 168.1h.9M382.7 135.9h.9M373.5 115.2h.9M425.8 160.5h.9M414.7 166h.9M388 143.3h.9M376 121.7h.9M382.9 135.8h.9M415.2 148.7h.9M397.2 127h.9M401.3 158.4h.9M411.9 145.9h.9M431.3 167.3h.9M411.6 145.7h.9M397.3 127.7h.9M414.2 148.1h.9M400.8 132.3h.9M427.8 162.7h.9M378.2 127h.9M396.7 124.2h.9M413.1 146.3h.9M416.8 166.9h.9M422.6 156.9h.9M406.1 131.5h.9M388.3 145h.9M402.5 134.3h.9M402.3 133.2h.9M421 154.2h.9M381.2 133.2h.9M405 138.4h.9M373.7 119.6h.9M405 136.5h.9M396 118.3h.9M372.7 115.3h.9M424.3 158.7h.9M400.6 132.4h.9M422.1 168.8h.9M418.8 167.5h.9M408.3 140.9h.9M379.4 129.1h.9M417 149.5h.9M392.3 115.5h.9M397.3 154.6h.9M395.1 123.9h.9M410.2 144.4h.9M417.8 151.1h.9M394.9 125.2h.9M378.5 126.5h.9M422.3 155.8h.9M424.5 157.9h.9M395.7 127.2h.9M377.9 126.5h.9M391.8 116.1h.9M402.5 134.7h.9M396.7 154.3h.9M396.9 128.4h.9M395.9 124.7h.9M380.4 132.1h.9M400.5 123.6h.9M429.9 164.5h.9M397.8 127.3h.9M413.8 147.6h.9M422.7 156.3h.9M393.9 151.2h.9M394.9 152.7h.9M425.7 158.9h.9M403.6 135h.9M397.3 125.7h.9M383.9 139.1h.9M402.4 135h.9M427.3 161.9h.9M391.8 116.9h.9M428.1 162.8h.9M394.5 124.8h.9M404 132.3h.9M430.5 166.7h.9M410.7 144h.9M395.1 125.5h.9M391.6 148.1h.9M427.4 162.1h.9M399 129.9h.9M421.9 155.2h.9M384.8 139.9h.9M391.4 117.2h.9M409.1 163.3h.9M397.1 154.6h.9M404 137.1h.9M408.7 142.9h.9M419.7 152.8h.9M398.8 124.7h.9M424.2 158.2h.9M391.9 148.9h.9M401.4 132.5h.9M419.5 168.2h.9M373.3 116.3h.9M420 153.8h.9M410.1 144.3h.9M408.4 142.3h.9M396.7 123h.9M420 154h.9M394.1 123.3h.9M397.2 154.3h.9M403.2 133.9h.9M392 115.2h.9M406 138.8h.9M396.1 127.5h.9M428.6 162.7h.9M399.6 128.4h.9M406.4 137.7h.9M388.6 145.2h.9M415.8 149.5h.9M389.4 147h.9M409.6 163.5h.9M384.1 137.8h.9M403.9 134.1h.9M394.3 120.1h.9M400.3 129.1h.9M415.8 149.8h.9M375 121.2h.9M399.5 127h.9M432.2 165.2h.9M396.7 124.7h.9M397.5 126.7h.9M414.7 166.9h.9M401.2 122h.9M410.7 165h.9M382.5 134.7h.9M426.3 160.8h.9M406.5 139.6h.9M416.8 149.9h.9M374.5 119.1h.9M397.3 128.9h.9M398.2 129.2h.9M383.5 137.4h.9M419 152.7h.9M408.5 142.2h.9M375.6 122h.9M404.5 160.1h.9M409.6 142.1h.9M381.4 134.3h.9M405 161.1h.9M382.3 134.3h.9M393.5 115.8h.9M391.2 149.5h.9M420.9 153.7h.9M397 127h.9M405.7 139.5h.9"/>
<path stroke="#d8d8d8" stroke-width="0.9" d="M460.3 142.7h.9M465.2 145.9h.9M465.1 144.7h.9M477.5 127.3h.9M457.5 147.5h.9M450.9 152h.9M463.5 123.7h.9M446.4 153.6h.9M471.9 127.3h.9M478.4 118.1h.9M471.9 129.5h.9M454.9 130.6h.9M471.7 121.4h.9M441.5 167.8h.9M452.3 148.7h.9M447.4 151.6h.9M452.7 162.4h.9M473.2 141.7h.9M462.2 144.8h.9M478.3 116.9h.9M465.2 146.7h.9M478.1 120.3h.9M466 120.4h.9M477.5 125.6h.9M462.8 139.4h.9M449.5 156.2h.9M459 133.3h.9M458.5 148.6h.9M473.9 137.8h.9M445.8 165.7h.9M450.8 148h.9M469.3 145.5h.9M457.8 126.1h.9M456.4 149.3h.9M467 123.3h.9M469.7 143.4h.9M461.3 123.1h.9M469.5 136.9h.9M462.7 132.4h.9M457.9 117.5h.9M471.6 132.2h.9M452.7 141.4h.9M476.3 130.4h.9M452.3 153.6h.9M459.8 147.5h.9M458 156.3h.9M464.7 132h.9M440.5 167.6h.9M462.2 149.3h.9M458.3 124.8h.9M461 147.7h.9M452.9 143.1h.9M476.8 124.7h.9M470.5 124.6h.9M455.5 162.2h.9M469.4 121.4h.9M465.3 143.2h.9M457.8 131.1h.9M458.2 156.4h.9M457.8 152.9h.9M447.9 165.6h.9M474.9 129.7h.9M461.6 137.3h.9M454.3 148.1h.9M476.2 120.3h.9M456.3 133.3h.9M473.1 136.3h.9M463.1 127.7h.9M456.4 126h.9M461.3 129.6h.9M458.5 140.2h.9M450.3 155.1h.9M450.4 158.5h.9M459.5 138.7h.9M443 164.4h.9M459.5 158.9h.9M439.3 166.3h.9M444.8 161.3h.9M460.9 128.3h.9M458.1 150.8h.9M439.8 166.9h.9M453.4 156.3h.9M470.7 115.4h.9M465.3 116.2h.9M459.6 129.5h.9M474.8 121.8h.9M447.5 158.5h.9M472.5 121.8h.9M467.7 117.6h.9M445.6 163.4h.9M464.2 133.5h.9M463.6 155.4h.9M446.2 165h.9M440 167.7h.9M452.8 161.2h.9M465 142.4h.9M470.6 132.8h.9M459.5 153.5h.9M466.4 143.1h.9M472.1 135.5h.9M458.6 119.9h.9M445.8 163.8h.9M462.9 115.4h.9M439.5 167.4h.9M442.7 166.9h.9M463 130.8h.9M460.1 139.2h.9M450.9 163.8h.9M450 154.7h.9M461.5 134.5h.9M469.2 132.8h.9M455.7 131.2h.9M468.2 119.8h.9M446.7 166.7h.9M447.2 165.5h.9M474.1 116.9h.9M466 134.8h.9M462.5 118.8h.9M473 122.8h.9M443 164.7h.9M468.2 146.3h.9M463.5 135.1h.9M459.7 137.4h.9M472.7 134.3h.9M470.4 121.6h.9M463.5 151.4h.9M461.2 158.4h.9M469.7 119.8h.9M464.5 128.8h.9M466.8 139.9h.9M473.6 133.3h.9M455.7 159.4h.9M458 156.6h.9M472.9 119.9h.9M461 157.1h.9M463.5 117.8h.9M455.5 150.4h.9M457.3 142h.9M461.6 136.8h.9M474 120.4h.9M462.7 138.6h.9M474.6 130.9h.9M440.9 165.1h.9M453.6 143.6h.9M462.1 136h.9M440 167.8h.9M462.5 136.3h.9M446.2 164.5h.9M471 115.1h.9M450.4 144.9h.9M374.7 116.4h.9M406.5 147.1h.9M402.9 147.6h.9M395.8 135.6h.9M403.8 159.3h.9M419.3 159.7h.9M377.2 115.4h.9M381.5 116.6h.9M422.2 164.1h.9M418.7 165.8h.9M379 118.7h.9M423.2 164.2h.9M377.9 120.1h.9M430.5 168.8h.9M403.8 138.8h.9M397 130.6h.9M387.1 120.5h.9M379.1 118.9h.9M391 123.9h.9M416.8 163.3h.9M405.1 142h.9M418.5 154.1h.9M388.2 125.4h.9M390.9 123.7h.9M427.8 166.3h.9M415.2 156.7h.9M376.9 117.3h.9M413.5 163h.9M429.3 164.8h.9M407.9 143.3h.9M427.2 164.9h.9M392.9 137.7h.9M383.6 124.9h.9M387.5 133.1h.9M421.3 163.6h.9M416.2 154.3h.9M407.4 146.9h.9M425.7 165.4h.9M406.5 155h.9M405.7 142.5h.9M407.2 158h.9M418 155.4h.9M399.3 151.9h.9M405.2 149h.9M398.3 140.8h.9M417.7 162.7h.9M418.4 152.5h.9M398 131.3h.9M384 127h.9M388.2 131.6h.9M408.6 152.5h.9M418.5 165.1h.9M378.9 122.7h.9M388.2 117.8h.9M390.5 136.3h.9M380.3 129.6h.9M389.8 136.2h.9M409.3 149.4h.9M398.9 150.6h.9M412.1 156.3h.9M410.9 145.4h.9M403.7 143.9h.9M399.5 134.8h.9M402.3 142.7h.9M393.4 127.6h.9M383 119.4h.9M421.9 156.3h.9M407.7 152.3h.9M406.9 145.4h.9M415.8 150.6h.9M419.9 160.1h.9M401.2 142.7h.9M414.5 158.7h.9M413.7 158.8h.9M419.7 167.5h.9M422.7 161h.9M400.7 145.8h.9M423.3 160.6h.9M394.3 141.1h.9M382.9 117.5h.9M396.8 140.8h.9M393.2 132.3h.9M396 146.6h.9M422.6 157.2h.9M405.1 158.8h.9M395.9 147.9h.9M383.8 120.5h.9M400.5 151.3h.9M388.9 133.7h.9M422.5 166.3h.9M379.6 120.1h.9M409.6 152.6h.9M391 123.3h.9M395.1 145h.9M386.7 138h.9M416.9 165.8h.9M392.8 132h.9M387.4 131.3h.9M414.9 156.9h.9M404.5 142.2h.9"/>
<polygon fill="#d4481a" points="460,114 460.5,109 462.5,105 466,102 470,101.5 474,103 477,106.5 479,114"/>
<path stroke="#1f2a6e" stroke-width="1.2" d="M386.4 108.5h1.2M373.1 115.1h1.2M375.2 106h1.2M386.8 104.7h1.2M382.4 108h1.2M375.5 105.1h1.2M380.4 110.3h1.2M379.9 106.2h1.2M375.8 103.7h1.2M367.5 105h1.2M365.4 108.7h1.2M368.9 110.6h1.2M362.5 112.9h1.2M374.9 110.5h1.2M377.4 112.9h1.2M375.1 115.4h1.2M380.2 113h1.2M377.7 108.2h1.2M383.5 107.6h1.2M365.5 110.9h1.2M385.6 112.6h1.2M374.4 106.5h1.2M376 107.2h1.2M378 106.4h1.2M380.3 111.7h1.2M378 111h1.2M369.7 110.5h1.2M382.4 106.3h1.2M371.4 114.4h1.2M368.9 110.5h1.2M384 106.2h1.2M371.8 113.2h1.2M384.4 110.4h1.2M373.9 106.2h1.2M376.4 109.5h1.2M372.7 108h1.2M380.5 103.7h1.2M388.6 115h1.2M385.8 111.6h1.2M374.9 102.4h1.2M390.4 109.8h1.2M377.4 107.6h1.2M385.1 108.2h1.2M377.2 105.8h1.2M378 113.2h1.2M374.1 110.7h1.2M369 105.6h1.2M369.7 113.6h1.2M383.7 119h1.2M388.7 102.9h1.2M384.9 104.8h1.2M374 111.9h1.2M383.8 100.1h1.2M368.9 103.7h1.2M378.6 108.5h1.2M376.7 107.2h1.2M370.9 108.5h1.2M376.6 109.8h1.2M374.3 105.9h1.2M382.5 106.9h1.2M379 107.3h1.2M385.4 101.3h1.2M371.9 103h1.2M375.2 104.2h1.2M362.5 108.2h1.2M378 112.2h1.2M366.7 103.9h1.2M389.7 110.4h1.2M379.1 101.6h1.2M370.8 112.8h1.2"/>
<path stroke="#cf4516" stroke-width="1.1" d="M462.2 100.1h1.1M463.8 111.4h1.1M467.5 112.8h1.1M465.1 113.4h1.1M457.7 112.2h1.1M467.9 108.4h1.1M471.6 99.2h1.1M482.9 110.6h1.1M479 108.9h1.1M463.7 113h1.1M469.5 113.1h1.1M490.7 109.5h1.1M461.5 98h1.1M472.5 108.6h1.1M469.9 105.4h1.1M469.5 109.9h1.1M475.1 102.2h1.1M470.7 107.2h1.1M463.7 104.3h1.1M476.4 98.6h1.1M461.5 110.8h1.1M482.6 106.5h1.1M484 92.5h1.1M475 98.8h1.1M479.9 107.8h1.1M466.7 108.4h1.1M462.2 110.3h1.1M470.6 105.5h1.1M467.6 106.2h1.1M458.3 106.8h1.1M463.1 100.6h1.1M474.5 111.8h1.1M466.5 98.7h1.1M481.2 104.5h1.1M470.5 108.2h1.1M470.5 109.7h1.1M468.4 101.4h1.1M469.5 109.1h1.1M460.5 112.7h1.1M474.8 101.7h1.1M477.5 108.6h1.1M466.4 112.2h1.1M489 105.2h1.1M465.6 103.6h1.1M485.7 107.9h1.1M464.1 98.1h1.1M463.4 107h1.1M468.9 109.2h1.1M463.7 113.2h1.1M470.3 110.2h1.1M470.6 93.8h1.1M472.2 110.9h1.1M483.2 109.4h1.1M458.3 105.3h1.1M477.3 105.4h1.1M473.2 107.7h1.1M459.3 111.5h1.1M467.7 109.4h1.1M480.5 108.7h1.1M464.8 110.4h1.1M472.3 112.4h1.1M471 110.9h1.1M470.4 112.9h1.1M475.3 107.9h1.1M471.1 113.5h1.1M465.2 109.5h1.1M476.8 111h1.1M465.7 113.1h1.1M467 107h1.1M471.4 109.2h1.1M477.3 109.1h1.1M480 111.8h1.1M459.3 100.3h1.1M475.9 112.1h1.1M471.5 113h1.1M473.3 112.9h1.1M464.8 111.9h1.1M457.8 99.2h1.1M471.4 109.6h1.1M471.9 112.9h1.1M485.9 105.7h1.1M475.3 100.7h1.1M469.2 111.1h1.1M476.9 110.1h1.1M467.9 111.7h1.1M460 107.3h1.1M462 107.5h1.1M470.6 98.7h1.1M470.6 110.2h1.1M485.2 110.9h1.1M469.3 98.8h1.1M468.4 114h1.1M459.9 107.9h1.1M466.8 100.3h1.1M460.7 108.1h1.1M460.6 108.5h1.1M480.6 111.7h1.1M467.9 110.8h1.1M476.3 111.8h1.1M458.6 107.6h1.1M468.3 111h1.1M468.9 108.3h1.1M471.5 113.4h1.1M458.9 94.6h1.1M484.8 105.5h1.1M469.1 111.7h1.1M470.3 112.4h1.1M478 109.1h1.1M469 108.1h1.1M462.8 113.5h1.1M472.8 109h1.1M460.1 105.9h1.1M467.3 113.9h1.1M469.8 109.5h1.1M464.9 101.2h1.1M466.6 101.3h1.1M470.5 104.1h1.1M479.8 112h1.1M483.2 100.3h1.1M475 111.4h1.1M466.4 110.4h1.1M464.5 92.3h1.1M461.7 104.4h1.1M459.1 110.4h1.1M463.7 109.4h1.1M465.5 107.4h1.1M471.6 111.2h1.1M480 110.6h1.1M460 113.4h1.1M465 112.1h1.1M470.5 101.9h1.1M471.9 113.5h1.1M479.4 102.8h1.1M466.4 106.9h1.1M475.3 110.2h1.1M460.7 97h1.1M466.4 108.9h1.1M471.5 105.1h1.1M477.3 109.8h1.1M469.8 108.2h1.1M474.4 99.7h1.1M467.9 114h1.1M474.5 111.1h1.1M483.5 112.5h1.1M460.1 96.4h1.1M472.5 111.1h1.1M476.3 97h1.1M463.6 101.3h1.1M476.6 104.6h1.1M461.8 104.7h1.1M469.3 97.9h1.1M478.4 101.6h1.1M485.7 112.9h1.1M466.4 112.3h1.1M482.7 109h1.1M465.5 110.9h1.1M478.2 109.2h1.1M479.8 108.5h1.1M460 106.2h1.1M466.9 98.4h1.1M478.9 111.1h1.1M458.9 94.8h1.1M480.9 106.3h1.1M480.8 109h1.1M480.7 110.1h1.1M464.6 97.2h1.1M466.4 95.9h1.1M468.6 112.3h1.1M462.5 113.5h1.1M463.9 109.9h1.1M463.2 106.1h1.1M480.5 110.2h1.1M467.7 113.3h1.1M465.4 98.5h1.1M469.8 106.3h1.1M467.5 112.6h1.1M470.6 103.5h1.1M469.5 109.8h1.1M478.1 112.4h1.1M458.3 99.1h1.1M472.9 108.9h1.1M481.9 104h1.1M462.8 110.2h1.1M464.4 103.5h1.1M467 112.3h1.1M463 101.9h1.1M468.6 111h1.1M473.7 103.1h1.1M484.3 110.8h1.1M462 109.8h1.1M467.3 110.5h1.1M476.2 111.4h1.1M469.1 112.4h1.1M460.5 102.2h1.1M485.8 110.5h1.1M476.8 106.2h1.1M471 108.7h1.1M478.8 106.1h1.1M474.3 112.3h1.1M462.5 107.4h1.1M469.1 100.6h1.1M480.8 106.5h1.1M478.6 113.6h1.1M486 113.2h1.1M469.7 112h1.1M469.2 110.3h1.1M476.1 101.4h1.1M479.7 110.6h1.1M479 104.6h1.1M479.6 110.6h1.1M459.8 110.4h1.1M462.4 100h1.1M477.1 108.3h1.1M481.2 103.4h1.1M464.1 110.8h1.1M483.7 103.1h1.1M470.1 106.2h1.1M474.2 108.8h1.1M476.6 108.3h1.1M459.4 111.1h1.1M473.3 100.3h1.1M464.7 107.5h1.1M481.9 112.5h1.1M480.3 100.3h1.1M480.2 99.2h1.1M471.1 99.4h1.1M470.2 113.6h1.1M480.9 112.3h1.1M460.8 110.4h1.1M462.4 113.1h1.1M482.9 110h1.1M483.8 105h1.1M464.1 107.8h1.1M471.3 105.9h1.1M466.3 108.1h1.1M463.6 97h1.1M470.5 107.7h1.1M476.4 106.2h1.1M473.1 113.6h1.1M477.1 111.3h1.1M467.2 111.1h1.1M468.9 106.9h1.1M474.9 96.4h1.1M462.6 111.7h1.1M476.2 88.3h1.1M478.3 104.5h1.1M459.1 106.6h1.1M478.4 112.7h1.1M460.5 107.8h1.1M465.7 110.1h1.1M463.1 106.5h1.1M476.1 106h1.1M473.5 113.6h1.1M466.6 108.1h1.1M482.9 109.1h1.1M475.6 111.9h1.1M468.5 113.6h1.1M457.5 102.3h1.1M487.1 108.5h1.1M479.2 100h1.1M467.6 104.2h1.1M458.8 104.6h1.1M463.9 108.2h1.1M487.8 112.4h1.1M464.7 109.8h1.1M467.5 112.9h1.1M479.8 104.4h1.1M458.5 111.8h1.1M484.1 102.1h1.1M477.7 112.5h1.1M460.7 113.1h1.1M458.1 104.3h1.1M469.7 112.7h1.1M460 110.8h1.1M459.2 109.1h1.1M470.6 110.7h1.1M477.9 110.4h1.1M464 99.5h1.1M473 108.6h1.1M466 105.6h1.1M480.2 106.9h1.1M485.3 108.9h1.1M464 105.6h1.1M471.5 110.1h1.1M480.8 100.7h1.1M461.6 103.2h1.1M464.3 105.2h1.1M480.9 113.6h1.1M463.8 107.3h1.1M462.3 106.6h1.1M477.2 112.5h1.1M459.5 98.7h1.1M465.6 106.7h1.1M460.4 108.8h1.1M466.1 98.3h1.1M477.4 96h1.1M469.8 113.1h1.1M457.5 110.9h1.1M459.1 111.1h1.1M467.1 103.7h1.1M458.9 106.1h1.1M464.1 112.7h1.1M475.9 107.9h1.1M472.6 99.3h1.1M465.5 108.4h1.1M466.8 99.3h1.1M476 110.5h1.1M471.9 100.9h1.1M468.9 113.2h1.1M465.5 113.5h1.1M472.4 111.1h1.1M460.7 96.2h1.1M475.2 105.4h1.1M470.7 103.7h1.1M465.7 101.6h1.1M472.5 105.7h1.1M474.7 101.7h1.1M481.1 109.7h1.1M480.2 113.5h1.1M473.3 112.8h1.1M458.7 111.7h1.1M466.4 97.9h1.1M481.4 104.5h1.1M467.2 100.5h1.1M487.3 108.3h1.1M474.4 110.8h1.1M462.4 107.1h1.1M472.7 92.2h1.1M468.4 110.8h1.1M471.1 99.2h1.1M476.8 102.5h1.1M466.9 111.9h1.1M461.9 110.6h1.1M473.7 107.6h1.1M465.6 100.8h1.1M472.9 100.5h1.1M474.8 111.6h1.1M491.4 111.2h1.1M464.7 111.4h1.1M462.8 105h1.1M459.7 99.5h1.1M474 112.7h1.1M476.3 102h1.1M472.3 113.6h1.1M467.8 108.1h1.1M472.7 110.6h1.1M484.4 103.9h1.1M488.9 108.1h1.1M464.5 96.9h1.1M474.5 106.8h1.1M462 110h1.1M471 104.4h1.1M472.7 107.6h1.1M473 103.5h1.1M466.4 106.7h1.1M474.1 112.7h1.1M474.7 113.8h1.1M458.2 113.8h1.1M464.9 91.8h1.1M461.7 112.9h1.1M470.3 109h1.1M476.3 99.4h1.1M468.9 109h1.1M468.3 110.9h1.1M461.1 100.7h1.1M472.2 109.4h1.1M481.5 112.4h1.1M485.9 105.1h1.1M473.3 106.7h1.1M470.6 110.7h1.1M468.5 100.6h1.1M458 110.5h1.1M468.1 106.9h1.1M476.5 104.9h1.1M460.1 113.2h1.1M468.4 104h1.1M489.3 95.7h1.1M458.7 103.8h1.1M466.2 108.2h1.1M474.5 106.7h1.1M478.2 111.2h1.1M475.5 107.3h1.1M484.2 102.3h1.1M460.6 110h1.1M465.2 113.6h1.1M463.6 102.9h1.1M482.1 113.6h1.1M461.3 107.5h1.1M475.5 107.5h1.1M470.2 100.5h1.1M462.2 104.2h1.1M461.4 102.3h1.1M479.5 108.7h1.1M478 112.7h1.1M462.2 109.2h1.1M459.7 103.1h1.1M474.6 113.3h1.1M470.9 110h1.1M461.6 111.9h1.1M469.2 112.2h1.1M465.3 89.2h1.1M470.2 106.2h1.1M461.2 100.5h1.1M477.6 110.7h1.1M473.5 111.4h1.1M459.6 92.8h1.1M473.2 111.2h1.1M473.5 106.7h1.1M477.3 110h1.1M462.9 107.5h1.1M474.3 102.1h1.1M473.1 113.8h1.1M465.7 110.5h1.1M477.8 94.9h1.1M466.1 94.6h1.1M462.5 105.1h1.1M482.3 106.8h1.1M459.4 103.3h1.1M476.1 111h1.1M457.6 112.1h1.1M471.7 110h1.1M478.5 112.5h1.1M469.9 96.7h1.1M469.8 111.1h1.1M467.3 110.6h1.1M466.7 113.7h1.1M463.3 97.3h1.1M472.2 111.9h1.1M474.5 109h1.1M460.3 113.5h1.1M464.8 101.8h1.1M464.3 104.8h1.1M485.6 102.5h1.1M482.4 101.5h1.1M465.9 100.7h1.1M480.6 100.5h1.1M465.1 93.1h1.1M473.4 106.7h1.1M461.5 104h1.1M464.3 105.2h1.1M460.7 106.4h1.1M469.6 109.1h1.1M472.2 111.8h1.1M464.1 111.1h1.1M480.2 110h1.1M482.4 99.4h1.1M470.6 109.8h1.1M458.4 109.9h1.1M475.1 100.3h1.1M474.3 101.1h1.1M467.9 99.9h1.1M469.4 110.5h1.1M468.7 105.6h1.1M477.1 113.7h1.1M464.4 109.5h1.1M467.8 106.3h1.1M464.7 106.9h1.1M464.4 94.3h1.1M474.6 108.1h1.1M462.9 108h1.1M467 113.9h1.1M469.5 111h1.1M488.8 113.4h1.1M460.5 110.1h1.1M458.8 103.3h1.1M483.3 113.5h1.1M484.6 106h1.1M457.5 105.2h1.1M471.4 104.9h1.1M463.2 111.7h1.1M462.7 100.1h1.1M467.9 113.4h1.1M477.4 98h1.1M477.4 110.1h1.1M467.7 105.6h1.1M472.4 106.2h1.1M482.4 105.8h1.1M466 113.2h1.1M464.4 109.1h1.1M477.1 98.4h1.1M470 106.9h1.1M460.4 109.8h1.1M460.7 106.2h1.1M473.9 113.7h1.1M472.8 104.9h1.1M468 112.7h1.1M460.1 111.4h1.1M461.1 104.6h1.1M486.6 110.4h1.1M473.6 99.5h1.1M472.3 110.7h1.1M464.7 97.4h1.1M461.7 108.9h1.1M457.6 105.9h1.1M470.8 110.8h1.1M460.6 96.5h1.1M466.9 110.2h1.1M471.7 109.1h1.1M467 106.4h1.1M465.4 111.4h1.1M465.5 113.3h1.1M467.5 108.6h1.1M464.4 106.7h1.1M477 108.5h1.1M468.8 110.1h1.1M466.2 108.4h1.1M467.9 113.5h1.1M459.7 105.3h1.1M468 113.6h1.1M473 105.6h1.1M484.1 113.7h1.1M479.2 103.3h1.1M474.6 107.1h1.1M469.9 105h1.1M460.2 96.4h1.1M468.5 112.3h1.1M484 100.6h1.1M459.6 109h1.1M467.8 111.3h1.1M461.9 108.1h1.1M469.5 105.5h1.1M468.4 113.7h1.1M483.6 107.4h1.1M473.8 112.4h1.1M459.9 102.5h1.1M475.3 111.4h1.1M463.7 105.3h1.1M461.4 95.3h1.1M470.1 108h1.1M468.3 105.4h1.1M463.6 111h1.1M462.2 113.1h1.1M471.3 113h1.1M463.6 104.4h1.1M466 110.5h1.1M457.5 104.9h1.1M464.9 105.4h1.1M467.2 109.1h1.1M468.2 105.6h1.1M461.2 112.6h1.1M460.4 100.5h1.1M471.2 102.8h1.1M469.4 101.2h1.1M474.1 101.3h1.1M466.6 109.9h1.1M459.9 99.8h1.1M478.5 112.4h1.1M461.1 111.6h1.1M488.3 109.6h1.1M462.9 113.9h1.1M471.5 97.6h1.1M464.3 105.7h1.1M481.2 112.9h1.1M459.6 103.6h1.1M469 101.5h1.1M467.6 105.4h1.1M457.6 109.3h1.1M463.5 110.9h1.1M478.3 99h1.1M484.2 104.2h1.1M472.9 107.7h1.1M458.7 103.7h1.1M481.4 110.4h1.1M468.6 107h1.1M468.3 108.7h1.1M469.8 111.1h1.1M464.8 100.7h1.1M463.9 112.9h1.1M469.7 108.8h1.1M468.7 108h1.1M468.8 100.1h1.1M466.1 114h1.1M472.1 101h1.1M463.2 105.9h1.1M489.8 107h1.1M474.3 109.6h1.1M460.8 99.3h1.1M460.1 110.1h1.1M477 109.6h1.1M467.7 102.9h1.1M472.3 110h1.1M469 109.8h1.1M480.1 113.8h1.1M479.5 111.4h1.1M486.2 113.2h1.1M463 110.5h1.1M473.9 102.2h1.1M471.8 108.5h1.1M491 107.4h1.1M463.1 102.9h1.1M463.3 112h1.1M481.9 111.7h1.1M465.1 113.6h1.1M474.4 106.9h1.1M472.5 103.7h1.1M465.2 112.7h1.1M466.4 114h1.1M459.4 110.7h1.1M462 101.8h1.1M470.3 108h1.1M458.2 108.6h1.1M473.6 106.9h1.1M462 110.9h1.1M469.6 112.8h1.1M487.3 102.7h1.1M479.8 106.3h1.1M465.4 112.5h1.1M467.1 112.5h1.1M483 107.2h1.1M470.9 101.8h1.1M460.1 107.6h1.1M474.7 111.2h1.1M474.5 112.6h1.1M478 108.8h1.1M465.9 103.8h1.1M460.5 105.7h1.1M459 102.5h1.1M466.1 88.3h1.1M463.6 112.4h1.1M471.7 105.4h1.1"/>
<path stroke="#d9501a" stroke-width="0.9" d="M487.2 92.3h.9M483.5 90.1h.9M492.3 98.8h.9M490.8 97.2h.9M466.9 81.5h.9M484 87.7h.9M481.2 82.5h.9M464.8 99.3h.9M466 79.6h.9M486.1 88.4h.9M491 98.2h.9M474 99.1h.9M483.3 99.6h.9M480.9 87.6h.9M474.8 93.9h.9M489.2 82.2h.9M481.8 79.1h.9M481.2 93.8h.9M484.9 84.6h.9M465.5 91.6h.9M486.9 97.7h.9M483.9 82.5h.9M471.2 85.3h.9M472.4 98.3h.9M471.7 91.9h.9M477.1 91.8h.9M476.9 97.2h.9M467.2 84.5h.9M476.9 84.5h.9M475.3 99h.9M486.1 79.6h.9M493.5 97.1h.9M472.3 85.4h.9M473.4 80.9h.9M481.5 98.3h.9M484.8 84.4h.9M492.3 82.9h.9M491.4 85.7h.9M471 92.4h.9M474.8 99.9h.9M492.6 92.9h.9M465.1 96.9h.9M489 92.5h.9M472.1 86.4h.9M482 97.2h.9M480.9 87.8h.9M482 95.5h.9M465.5 89h.9M480.4 83.1h.9M483 82.2h.9M470.2 99h.9M468.9 97h.9M489.1 98.1h.9M463.9 87.2h.9M483.5 95h.9M468.1 89.2h.9M488 80.8h.9M491.8 88.9h.9M479 89.8h.9M477.5 78.9h.9M468.1 86.7h.9M488.4 92.6h.9M477.8 88.3h.9M472.2 84.2h.9M493 79.2h.9M466.5 88.1h.9M475.7 83.4h.9M484.8 85.5h.9M471.7 98.8h.9M472 89.7h.9"/>
<path stroke="#fbeee8" stroke-width="0.9" d="M486.4 107.2h.9M477.3 99.5h.9M482.7 112h.9M481 97.4h.9M471.5 103.1h.9M464.5 111.2h.9M480.9 98.3h.9M484.3 104.2h.9M472.1 109.8h.9M468.6 112.3h.9M472.4 98.7h.9M477.1 103.9h.9M484.7 95.5h.9M476.2 98h.9M486.1 96.2h.9M464.7 107.1h.9M463 105.2h.9M470.5 101.3h.9M484.8 108h.9M475.6 102.1h.9M472.8 98.3h.9M475.6 103.1h.9M484.2 100.2h.9M467.3 108.1h.9M475.4 106.2h.9M475.2 104.9h.9M471.5 109.7h.9M463 96.2h.9M486.3 103.1h.9M476.3 106.1h.9M467 113.5h.9M481.7 103.4h.9M473 95.2h.9M486.3 112.7h.9M463.4 96.6h.9M463.4 109.6h.9M464.5 104.2h.9M487.4 99.2h.9M461.8 102.8h.9M469.6 108.7h.9M469.8 99.8h.9M474.8 107.1h.9M465.9 111.9h.9M479.4 95.3h.9M465.5 106h.9M470.3 107.9h.9M466.7 102.8h.9M463.4 96.3h.9M462.3 111.2h.9M477.5 110.3h.9M464.2 109h.9M468.7 98.2h.9M473.5 112.2h.9M476.9 104.3h.9M480.6 103.8h.9M473.3 103.7h.9M462.9 111.4h.9M474.6 104.1h.9M473.1 113.5h.9M481.3 99.4h.9M468.2 111.8h.9M472.9 103h.9M464.7 101.1h.9M461.7 107.4h.9M467.1 111.3h.9M482 101.1h.9M468.3 103.1h.9M462.3 103.6h.9M480.7 98.2h.9M465.2 111.4h.9M465.4 99.2h.9M490.2 102.3h.9M475.5 96.1h.9M476.5 109.9h.9M477.6 98.1h.9M471 97.5h.9M487.8 112.7h.9M472 96.7h.9M468.5 105.4h.9M470.5 111.6h.9M487.3 100h.9M466.6 112.3h.9M480 106.4h.9M476.7 96.8h.9M482.1 110.3h.9M468.3 108.1h.9M480.9 110.9h.9M472.1 102.2h.9M475.8 108.5h.9M472.5 110.6h.9M480.5 102h.9M474.8 105.5h.9M464.3 113.2h.9M481.7 100.2h.9M471.3 110.1h.9M484 105.8h.9M485.1 98.1h.9M464.7 106h.9M464.7 96.8h.9M464.4 110.9h.9M471.4 95.5h.9M463.9 107.1h.9M473.3 111.4h.9M469.4 103.5h.9M469.9 107.8h.9M479.7 113.2h.9M472.9 110.2h.9M485 94.6h.9M471.4 104.7h.9M490.9 101.2h.9M465.9 112.8h.9M475.6 112.4h.9M469.1 107.7h.9M462.2 99.7h.9M482.9 95.3h.9M482.3 105.2h.9M478.7 109.3h.9M471.6 103.6h.9M480.7 110.3h.9M465.5 111.6h.9M473.9 96.9h.9M488.1 96.4h.9M487 96.5h.9M475.7 111.8h.9M476.9 100.5h.9M472.8 111.2h.9M476.4 101.5h.9M481.6 106.6h.9M468.8 102.7h.9M487.2 99.8h.9M473.1 100.8h.9M464.5 105.8h.9M481.7 103.6h.9M470.6 98.1h.9M468.3 107h.9M484.9 103.9h.9M466.8 108.7h.9M479.1 97.6h.9M476.3 101.7h.9M464.4 106.1h.9M464.8 109.9h.9M480 114h.9M466.8 94.4h.9M474.7 96.6h.9M465 105.6h.9M477.3 112.5h.9M466.6 101.5h.9M484.3 102h.9M474.5 103.5h.9M474.6 110.2h.9M475 103.5h.9M470.2 109.2h.9M468 108.3h.9M478.9 104.8h.9M463.9 110.9h.9M467.7 109.9h.9M484.4 95.3h.9M481.4 102.2h.9M478 112.7h.9M477.7 102.3h.9M463.4 102.9h.9M465.2 109.7h.9M481.6 97.9h.9M486.6 100.8h.9M472.2 100.2h.9M468.1 111.5h.9M481.2 94.7h.9M470.7 111.3h.9M468.6 104.9h.9M468.6 104.8h.9M464.8 110.6h.9M479 102.9h.9M481.7 108h.9M480.4 95.7h.9M490.7 102.2h.9M473.7 104.9h.9M471.3 110.8h.9M470.1 110.7h.9M466 101.1h.9M476.7 111.3h.9M482.3 111.5h.9M469.4 106.7h.9M462.9 93.7h.9M483.7 109.3h.9M476 106h.9M464.3 107.7h.9M466.7 113.1h.9M469.4 103.9h.9M478.7 110.9h.9M461.6 106.7h.9"/>
<rect x="435.7" y="167.7" width="1.6" height="1.6" fill="#5cb85c" />
<rect x="437.2" y="165.7" width="1.6" height="1.6" fill="#5cb85c" />
<rect x="438.7" y="164.2" width="1.6" height="1.6" fill="#5cb85c" />
<rect x="440.2" y="162.2" width="1.6" height="1.6" fill="#5cb85c" />
<rect x="446.2" y="155.7" width="1.6" height="1.6" fill="#5cb85c" />
<rect x="447.7" y="156.7" width="1.6" height="1.6" fill="#5cb85c" />
<rect x="436.7" y="168.2" width="1.6" height="1.6" fill="#5cb85c" />
<text x="499" y="58.6" font-size="2.9" fill="#4a4a4a" stroke="#4a4a4a" stroke-width="0.16" textLength="11.7" lengthAdjust="spacingAndGlyphs">SLC25A6</text>
<line x1="498.5" y1="57.6" x2="484.99" y2="85.9" stroke="#262626" stroke-width="0.7" />
<text x="492.7" y="63.8" font-size="2.9" fill="#4a4a4a" stroke="#4a4a4a" stroke-width="0.16" textLength="6.5" lengthAdjust="spacingAndGlyphs">SLC4</text>
<line x1="492.2" y1="62.8" x2="487.81" y2="83.79" stroke="#262626" stroke-width="0.7" />
<text x="504.2" y="69.9" font-size="2.9" fill="#4a4a4a" stroke="#4a4a4a" stroke-width="0.16" textLength="6.5" lengthAdjust="spacingAndGlyphs">KLF4</text>
<line x1="503.7" y1="68.9" x2="485.3" y2="86.93" stroke="#262626" stroke-width="0.7" />
<text x="497.7" y="75.6" font-size="2.9" fill="#4a4a4a" stroke="#4a4a4a" stroke-width="0.16" textLength="6.5" lengthAdjust="spacingAndGlyphs">SOX4</text>
<line x1="497.2" y1="74.6" x2="488.85" y2="84.12" stroke="#262626" stroke-width="0.7" />
<text x="501.3" y="80.7" font-size="2.9" fill="#4a4a4a" stroke="#4a4a4a" stroke-width="0.16" textLength="9.4" lengthAdjust="spacingAndGlyphs">PMCH1</text>
<line x1="500.8" y1="79.7" x2="487.03" y2="81.36" stroke="#262626" stroke-width="0.7" />
<text x="498.4" y="87.2" font-size="2.9" fill="#4a4a4a" stroke="#4a4a4a" stroke-width="0.16" textLength="12.3" lengthAdjust="spacingAndGlyphs">PLEKHA</text>
<line x1="497.9" y1="86.2" x2="484.02" y2="82.71" stroke="#262626" stroke-width="0.7" />
<text x="503.5" y="92.5" font-size="2.9" fill="#4a4a4a" stroke="#4a4a4a" stroke-width="0.16" textLength="7.2" lengthAdjust="spacingAndGlyphs">RCBB</text>
<line x1="503" y1="91.5" x2="487.51" y2="79.69" stroke="#262626" stroke-width="0.7" />
<text x="497.7" y="98" font-size="2.9" fill="#4a4a4a" stroke="#4a4a4a" stroke-width="0.16" textLength="6.5" lengthAdjust="spacingAndGlyphs">ZNF3</text>
<line x1="497.2" y1="97" x2="488.76" y2="81.32" stroke="#262626" stroke-width="0.7" />
<text x="503.5" y="103" font-size="2.9" fill="#4a4a4a" stroke="#4a4a4a" stroke-width="0.16" textLength="6.5" lengthAdjust="spacingAndGlyphs">LTB3</text>
<line x1="503" y1="102" x2="485.4" y2="79.42" stroke="#262626" stroke-width="0.7" />
<text x="497.7" y="108" font-size="2.9" fill="#4a4a4a" stroke="#4a4a4a" stroke-width="0.16" textLength="5.8" lengthAdjust="spacingAndGlyphs">CD9</text>
<line x1="497.2" y1="107" x2="489.99" y2="86.39" stroke="#262626" stroke-width="0.7" />
<text x="503.5" y="114.6" font-size="2.9" fill="#4a4a4a" stroke="#4a4a4a" stroke-width="0.16" textLength="7.2" lengthAdjust="spacingAndGlyphs">TBX21</text>
<line x1="503" y1="113.6" x2="489.25" y2="85.16" stroke="#262626" stroke-width="0.7" />
<text x="496.3" y="120.4" font-size="2.9" fill="#4a4a4a" stroke="#4a4a4a" stroke-width="0.16" textLength="5.7" lengthAdjust="spacingAndGlyphs">IL32</text>
<line x1="495.8" y1="119.4" x2="484.2" y2="82.29" stroke="#262626" stroke-width="0.7" />
<text x="505" y="126.9" font-size="2.9" fill="#4a4a4a" stroke="#4a4a4a" stroke-width="0.16" textLength="5.7" lengthAdjust="spacingAndGlyphs">ITM2</text>
<line x1="504.5" y1="125.9" x2="486.99" y2="80.16" stroke="#262626" stroke-width="0.7" />
<text x="469.6" y="61.2" font-size="2.9" fill="#4a4a4a" stroke="#4a4a4a" stroke-width="0.16" textLength="8.6" lengthAdjust="spacingAndGlyphs">SDHAF1</text>
<line x1="478.7" y1="60.2" x2="488.71" y2="84.95" stroke="#262626" stroke-width="0.7" />
<text x="483.3" y="60.5" font-size="2.9" fill="#4a4a4a" stroke="#4a4a4a" stroke-width="0.16" textLength="4.3" lengthAdjust="spacingAndGlyphs">NOB</text>
<line x1="488.1" y1="59.5" x2="483.93" y2="88.54" stroke="#262626" stroke-width="0.7" />
<text x="465.3" y="67.3" font-size="2.9" fill="#4a4a4a" stroke="#4a4a4a" stroke-width="0.16" textLength="5.7" lengthAdjust="spacingAndGlyphs">RRBE</text>
<line x1="471.5" y1="66.3" x2="483.75" y2="89.42" stroke="#262626" stroke-width="0.7" />
<text x="475.4" y="67.3" font-size="2.9" fill="#4a4a4a" stroke="#4a4a4a" stroke-width="0.16" textLength="5" lengthAdjust="spacingAndGlyphs">ETV4</text>
<line x1="480.9" y1="66.3" x2="485.72" y2="86.42" stroke="#262626" stroke-width="0.7" />
<text x="487" y="70.6" font-size="2.9" fill="#4a4a4a" stroke="#4a4a4a" stroke-width="0.16" textLength="5" lengthAdjust="spacingAndGlyphs">PRR</text>
<line x1="492.5" y1="69.6" x2="485.06" y2="85.88" stroke="#262626" stroke-width="0.7" />
<text x="455" y="73" font-size="2.9" fill="#4a4a4a" stroke="#4a4a4a" stroke-width="0.16" textLength="11.7" lengthAdjust="spacingAndGlyphs">LINC02326</text>
<line x1="467.2" y1="72" x2="484.12" y2="82.3" stroke="#262626" stroke-width="0.7" />
<text x="453.7" y="79.2" font-size="2.9" fill="#4a4a4a" stroke="#4a4a4a" stroke-width="0.16" textLength="17.3" lengthAdjust="spacingAndGlyphs">ACAP2 ABI1</text>
<line x1="471.5" y1="78.2" x2="488.2" y2="83.88" stroke="#262626" stroke-width="0.7" />
<text x="448.7" y="85" font-size="2.9" fill="#4a4a4a" stroke="#4a4a4a" stroke-width="0.16" textLength="7.9" lengthAdjust="spacingAndGlyphs">GRB2</text>
<line x1="457.1" y1="84" x2="487.68" y2="83.67" stroke="#262626" stroke-width="0.7" />
<text x="445" y="91.5" font-size="2.9" fill="#4a4a4a" stroke="#4a4a4a" stroke-width="0.16" textLength="12.3" lengthAdjust="spacingAndGlyphs">LINC01365</text>
<line x1="457.8" y1="90.5" x2="488.81" y2="89.15" stroke="#262626" stroke-width="0.7" />
<text x="458.8" y="96.6" font-size="2.9" fill="#4a4a4a" stroke="#4a4a4a" stroke-width="0.16" textLength="6.5" lengthAdjust="spacingAndGlyphs">PAG1</text>
<line x1="465.8" y1="95.6" x2="487.53" y2="88.1" stroke="#262626" stroke-width="0.7" />
<text x="448" y="103" font-size="2.9" fill="#4a4a4a" stroke="#4a4a4a" stroke-width="0.16" textLength="9.3" lengthAdjust="spacingAndGlyphs">NAMPT</text>
<line x1="457.8" y1="102" x2="486.48" y2="87.84" stroke="#262626" stroke-width="0.7" />
<text x="488.3" y="49.7" font-size="2.9" fill="#4a4a4a" stroke="#4a4a4a" stroke-width="0.16" textLength="4.4" lengthAdjust="spacingAndGlyphs">LRP</text>
<text x="496.3" y="46.8" font-size="2.9" fill="#4a4a4a" stroke="#4a4a4a" stroke-width="0.16" textLength="5.7" lengthAdjust="spacingAndGlyphs">RGS</text>
<rect x="486.5" y="51.5" width="0.9" height="0.9" fill="#333" />
<rect x="503" y="49.5" width="0.9" height="0.9" fill="#333" />
<text x="360.3" y="79.2" font-size="2.9" fill="#4a4a4a" stroke="#4a4a4a" stroke-width="0.16" textLength="5.7" lengthAdjust="spacingAndGlyphs">FAS</text>
<text x="370" y="81" font-size="2.9" fill="#4a4a4a" stroke="#4a4a4a" stroke-width="0.16" textLength="5" lengthAdjust="spacingAndGlyphs">TCIL</text>
<text x="380" y="78.4" font-size="2.9" fill="#4a4a4a" stroke="#4a4a4a" stroke-width="0.16" textLength="7.3" lengthAdjust="spacingAndGlyphs">NFPH</text>
<text x="357" y="85.7" font-size="2.9" fill="#4a4a4a" stroke="#4a4a4a" stroke-width="0.16" textLength="6.6" lengthAdjust="spacingAndGlyphs">BANH</text>
<text x="384" y="84.4" font-size="2.9" fill="#4a4a4a" stroke="#4a4a4a" stroke-width="0.16" textLength="6" lengthAdjust="spacingAndGlyphs">GPR</text>
<text x="352" y="91.4" font-size="2.9" fill="#4a4a4a" stroke="#4a4a4a" stroke-width="0.16" textLength="7.5" lengthAdjust="spacingAndGlyphs">CNTN1</text>
<text x="375" y="90.3" font-size="2.9" fill="#4a4a4a" stroke="#4a4a4a" stroke-width="0.16" textLength="5" lengthAdjust="spacingAndGlyphs">LEF1</text>
<text x="391.4" y="91" font-size="2.9" fill="#4a4a4a" stroke="#4a4a4a" stroke-width="0.16" textLength="6.6" lengthAdjust="spacingAndGlyphs">CD96</text>
<text x="398" y="90.6" font-size="2.9" fill="#4a4a4a" stroke="#4a4a4a" stroke-width="0.16" textLength="9.7" lengthAdjust="spacingAndGlyphs">CD48</text>
<text x="396" y="96.3" font-size="2.9" fill="#4a4a4a" stroke="#4a4a4a" stroke-width="0.16" textLength="5" lengthAdjust="spacingAndGlyphs">NKG7</text>
<text x="358.7" y="97.1" font-size="2.9" fill="#4a4a4a" stroke="#4a4a4a" stroke-width="0.16" textLength="7.3" lengthAdjust="spacingAndGlyphs">SFTP</text>
<text x="350.5" y="102.9" font-size="2.9" fill="#4a4a4a" stroke="#4a4a4a" stroke-width="0.16" textLength="9" lengthAdjust="spacingAndGlyphs">PRKAR</text>
<text x="389" y="100.4" font-size="2.9" fill="#4a4a4a" stroke="#4a4a4a" stroke-width="0.16" textLength="5.6" lengthAdjust="spacingAndGlyphs">IKZF</text>
<text x="397" y="102" font-size="2.9" fill="#4a4a4a" stroke="#4a4a4a" stroke-width="0.16" textLength="6.6" lengthAdjust="spacingAndGlyphs">NPSA</text>
<text x="342.4" y="108.9" font-size="2.9" fill="#4a4a4a" stroke="#4a4a4a" stroke-width="0.16" textLength="8.9" lengthAdjust="spacingAndGlyphs">NPDO</text>
<text x="363.6" y="109" font-size="2.9" fill="#4a4a4a" stroke="#4a4a4a" stroke-width="0.16" textLength="4.1" lengthAdjust="spacingAndGlyphs">LYN</text>
<text x="388" y="109" font-size="2.9" fill="#4a4a4a" stroke="#4a4a4a" stroke-width="0.16" textLength="10" lengthAdjust="spacingAndGlyphs">PCGA</text>
<text x="335.8" y="115.1" font-size="2.9" fill="#4a4a4a" stroke="#4a4a4a" stroke-width="0.16" textLength="5.7" lengthAdjust="spacingAndGlyphs">TAB</text>
<text x="355.4" y="114.8" font-size="2.9" fill="#4a4a4a" stroke="#4a4a4a" stroke-width="0.16" textLength="10.6" lengthAdjust="spacingAndGlyphs">SMCRY</text>
<text x="369.3" y="114.8" font-size="2.9" fill="#4a4a4a" stroke="#4a4a4a" stroke-width="0.16" textLength="8.2" lengthAdjust="spacingAndGlyphs">PLXNA</text>
<text x="381.6" y="114.8" font-size="2.9" fill="#4a4a4a" stroke="#4a4a4a" stroke-width="0.16" textLength="8.9" lengthAdjust="spacingAndGlyphs">GRB3</text>
<line x1="341.5" y1="113" x2="372" y2="98" stroke="#262626" stroke-width="0.7" />
<line x1="351.5" y1="107" x2="371" y2="97.5" stroke="#262626" stroke-width="0.7" />
<line x1="359.5" y1="101" x2="371" y2="97" stroke="#262626" stroke-width="0.7" />
<line x1="366" y1="95.5" x2="372" y2="99" stroke="#262626" stroke-width="0.7" />
<line x1="359.5" y1="90" x2="371.5" y2="99.5" stroke="#262626" stroke-width="0.7" />
<line x1="363.6" y1="85" x2="369.5" y2="92" stroke="#262626" stroke-width="0.7" />
<line x1="366" y1="79" x2="369" y2="84" stroke="#262626" stroke-width="0.7" />
<line x1="374" y1="81" x2="374" y2="88" stroke="#262626" stroke-width="0.7" />
<line x1="385" y1="79" x2="379" y2="88" stroke="#262626" stroke-width="0.7" />
<line x1="389" y1="84.5" x2="380" y2="96" stroke="#262626" stroke-width="0.7" />
<line x1="398" y1="91" x2="386" y2="97" stroke="#262626" stroke-width="0.7" />
<line x1="398" y1="90" x2="388" y2="98" stroke="#262626" stroke-width="0.7" />
<line x1="396" y1="95" x2="388" y2="101" stroke="#262626" stroke-width="0.7" />
<line x1="397" y1="101" x2="389" y2="103" stroke="#262626" stroke-width="0.7" />
<line x1="388" y1="108" x2="381" y2="106" stroke="#262626" stroke-width="0.7" />
<line x1="367.7" y1="108" x2="372" y2="105" stroke="#262626" stroke-width="0.7" />
<line x1="377" y1="112.5" x2="378" y2="108" stroke="#262626" stroke-width="0.7" />
<line x1="381.6" y1="113" x2="384" y2="110" stroke="#262626" stroke-width="0.7" />
<line x1="366" y1="113" x2="370" y2="109" stroke="#262626" stroke-width="0.7" />
<text x="332.3" y="57.5" font-size="2.9" fill="#4a4a4a" stroke="#4a4a4a" stroke-width="0.16" textLength="9.2" lengthAdjust="spacingAndGlyphs">CTSDB</text>
<text x="343.8" y="59" font-size="2.9" fill="#4a4a4a" stroke="#4a4a4a" stroke-width="0.16" textLength="12.4" lengthAdjust="spacingAndGlyphs">LINC02632</text>
<text x="362.3" y="43.4" font-size="2.9" fill="#4a4a4a" stroke="#4a4a4a" stroke-width="0.16" textLength="5.4" lengthAdjust="spacingAndGlyphs">IFNG</text>
<text x="358.5" y="60.3" font-size="2.9" fill="#4a4a4a" stroke="#4a4a4a" stroke-width="0.16" textLength="10.7" lengthAdjust="spacingAndGlyphs">ADTRP</text>
<circle cx="338.9" cy="53.2" r="0.6" fill="#333"/>
<circle cx="353" cy="53.8" r="0.6" fill="#333"/>
<circle cx="360.8" cy="45.8" r="0.6" fill="#333"/>
<circle cx="366.9" cy="55.8" r="0.6" fill="#333"/>
<text x="231.8" y="425.3" font-size="12.8" font-weight="bold" fill="#000" >E</text>
<text x="344.8" y="426" font-size="7.0" fill="#1a1a1a" stroke="#1a1a1a" stroke-width="0.16" textLength="20.2" lengthAdjust="spacingAndGlyphs">CD70–</text>
<text x="413.8" y="426" font-size="7.0" fill="#1a1a1a" stroke="#1a1a1a" stroke-width="0.16" textLength="20.2" lengthAdjust="spacingAndGlyphs">CD70+</text>
<line x1="328.5" y1="430.2" x2="385.4" y2="430.2" stroke="#3b5b98" stroke-width="1.0" />
<polygon points="325.4,430.2 330.4,428.2 330.4,432.2" fill="#3b5b98"/>
<line x1="394" y1="430.2" x2="451.5" y2="430.2" stroke="#d03030" stroke-width="1.0" />
<polygon points="454.6,430.2 449.6,428.2 449.6,432.2" fill="#d03030"/>
<line x1="260.5" y1="633.3" x2="513" y2="633.3" stroke="#d6d6d6" stroke-width="0.8" />
<line x1="260.5" y1="579.45" x2="513" y2="579.45" stroke="#d6d6d6" stroke-width="0.8" />
<line x1="260.5" y1="525.6" x2="513" y2="525.6" stroke="#d6d6d6" stroke-width="0.8" />
<line x1="260.5" y1="471.75" x2="513" y2="471.75" stroke="#d6d6d6" stroke-width="0.8" />
<line x1="264.2" y1="433" x2="264.2" y2="642.5" stroke="#d6d6d6" stroke-width="0.8" />
<line x1="327.4" y1="433" x2="327.4" y2="642.5" stroke="#d6d6d6" stroke-width="0.8" />
<line x1="390.6" y1="433" x2="390.6" y2="642.5" stroke="#d6d6d6" stroke-width="0.8" />
<line x1="453.8" y1="433" x2="453.8" y2="642.5" stroke="#d6d6d6" stroke-width="0.8" />
<polygon fill="#cdcdcd" points="385.9,629.4 385.1,629.4 384.3,629.3 383.5,629.3 382.7,629.3 381.9,629.2 381.1,629.2 380.3,629.2 379.5,629.1 378.8,629.1 378,629.1 377.2,629 376.4,629 375.6,628.9 374.8,628.8 374,628.8 373.2,628.7 372.4,628.7 371.6,628.6 370.9,628.5 370.1,628.4 369.3,628.4 368.5,628.3 367.7,628.2 366.9,628.1 366.1,628 365.3,627.9 364.5,627.8 363.7,627.7 363,627.6 362.2,627.5 361.4,627.4 360.6,627.3 359.8,627.2 359,627.1 358.2,627 357.4,626.9 356.6,626.7 355.8,626.6 355.1,626.5 354.3,626.3 353.5,626.2 352.7,626.1 351.9,625.9 351.1,625.8 350.3,625.6 349.5,625.5 348.7,625.3 347.9,625.2 347.2,625 346.4,624.9 345.6,624.7 344.8,624.5 344,624.4 343.2,624.2 342.4,624 341.6,623.8 340.8,623.7 340,623.5 339.2,623.3 338.5,623.1 337.7,622.9 336.9,622.7 336.1,622.5 335.3,622.3 334.5,622.1 333.7,621.9 332.9,621.7 332.1,621.5 331.4,621.2 330.6,621 329.8,620.8 329,620.6 328.2,620.3 327.4,620.1 326.6,619.9 325.8,619.6 325,619.4 324.2,619.2 323.5,618.9 322.7,618.7 321.9,618.4 321.1,618.2 320.3,617.9 319.5,617.6 318.7,617.4 317.9,617.1 317.1,616.8 316.3,616.6 315.6,616.3 314.8,616 314,615.7 313.2,615.5 312.4,615.2 311.6,614.9 310.8,614.6 310,614.3 309.2,614 308.4,613.7 307.7,613.4 306.9,613.1 306.1,612.8 305.3,612.5 304.5,612.1 303.7,611.8 303.7,607.9 304.5,608 305.3,608.1 306.1,608.2 306.9,608.3 307.7,608.4 308.4,608.5 309.2,608.6 310,608.7 310.8,608.8 311.6,608.9 312.4,609 313.2,609.1 314,609.2 314.8,609.3 315.6,609.4 316.3,609.4 317.1,609.5 317.9,609.6 318.7,609.7 319.5,609.8 320.3,609.9 321.1,610 321.9,610.1 322.7,610.2 323.5,610.2 324.2,610.3 325,610.4 325.8,610.5 326.6,610.6 327.4,610.7 328.2,610.8 329,610.8 329.8,610.9 330.6,611 331.4,611.1 332.1,611.2 332.9,611.3 333.7,611.3 334.5,611.4 335.3,611.5 336.1,611.6 336.9,611.7 337.7,611.7 338.5,611.8 339.2,611.9 340,612 340.8,612 341.6,612.1 342.4,612.2 343.2,612.3 344,612.3 344.8,612.4 345.6,612.5 346.4,612.6 347.2,612.6 347.9,612.7 348.7,612.8 349.5,612.8 350.3,612.9 351.1,613 351.9,613 352.7,613.1 353.5,613.2 354.3,613.2 355.1,613.3 355.8,613.4 356.6,613.4 357.4,613.5 358.2,613.6 359,613.6 359.8,613.7 360.6,613.8 361.4,613.8 362.2,613.9 363,613.9 363.7,614 364.5,614.1 365.3,614.1 366.1,614.2 366.9,614.2 367.7,614.2 368.5,614.3 369.3,614.3 370.1,614.4 370.9,614.4 371.6,614.5 372.4,614.5 373.2,614.5 374,614.6 374.8,614.6 375.6,614.6 376.4,614.7 377.2,614.7 378,614.7 378.8,614.7 379.5,614.8 380.3,614.8 381.1,614.8 381.9,614.8 382.7,614.8 383.5,614.9 384.3,614.9 385.1,614.9 385.9,614.9"/>
<polygon fill="#cdcdcd" points="395.3,628.8 396.1,628.6 396.9,628.4 397.7,628.2 398.5,628 399.3,627.8 400.1,627.7 400.9,627.5 401.7,627.3 402.5,627.1 403.2,626.9 404,626.7 404.8,626.6 405.6,626.4 406.4,626.2 407.2,626 408,625.8 408.8,625.6 409.6,625.5 410.4,625.3 411.1,625.1 411.9,624.9 412.7,624.7 413.5,624.5 414.3,624.4 415.1,624.2 415.9,624 416.7,623.8 417.5,623.6 418.2,623.4 419,623.3 419.8,623.1 420.6,622.9 421.4,622.7 422.2,622.5 423,622.3 423.8,622.2 424.6,622 425.4,621.8 426.2,621.6 426.9,621.4 427.7,621.2 428.5,621.1 429.3,620.9 430.1,620.7 430.9,620.5 431.7,620.3 432.5,620.1 433.3,620 434.1,619.8 434.8,619.6 435.6,619.4 436.4,619.2 437.2,619.1 438,618.9 438.8,618.7 439.6,618.5 440.4,618.3 441.2,618.1 442,618 442.7,617.8 443.5,617.6 444.3,617.4 445.1,617.2 445.9,617 446.7,616.9 447.5,616.7 448.3,616.5 449.1,616.3 449.9,616.1 450.6,615.9 451.4,615.8 452.2,615.6 453,615.4 453.8,615.2 454.6,615 455.4,614.8 456.2,614.7 457,614.5 457.8,614.3 458.5,614.1 459.3,613.9 460.1,613.7 460.9,613.6 461.7,613.4 462.5,613.2 463.3,613 464.1,612.8 464.9,612.6 465.7,612.5 466.4,612.3 467.2,612.1 468,611.9 468.8,611.7 469.6,611.5 470.4,611.4 471.2,611.2 472,611 472.8,610.8 473.6,610.6 474.3,610.4 475.1,610.3 475.9,610.1 476.7,609.9 477.5,609.7 477.5,606.6 476.7,606.6 475.9,606.7 475.1,606.7 474.3,606.8 473.6,606.8 472.8,606.9 472,607 471.2,607 470.4,607.1 469.6,607.1 468.8,607.2 468,607.2 467.2,607.3 466.4,607.4 465.7,607.4 464.9,607.5 464.1,607.5 463.3,607.6 462.5,607.7 461.7,607.7 460.9,607.8 460.1,607.9 459.3,607.9 458.5,608 457.8,608.1 457,608.1 456.2,608.2 455.4,608.3 454.6,608.3 453.8,608.4 453,608.5 452.2,608.6 451.4,608.6 450.6,608.7 449.9,608.8 449.1,608.9 448.3,608.9 447.5,609 446.7,609.1 445.9,609.2 445.1,609.2 444.3,609.3 443.5,609.4 442.7,609.5 442,609.6 441.2,609.6 440.4,609.7 439.6,609.8 438.8,609.9 438,610 437.2,610.1 436.4,610.2 435.6,610.3 434.8,610.3 434.1,610.4 433.3,610.5 432.5,610.6 431.7,610.7 430.9,610.8 430.1,610.9 429.3,611 428.5,611.1 427.7,611.2 426.9,611.3 426.2,611.4 425.4,611.5 424.6,611.6 423.8,611.7 423,611.8 422.2,611.9 421.4,612 420.6,612.1 419.8,612.2 419,612.3 418.2,612.4 417.5,612.5 416.7,612.6 415.9,612.7 415.1,612.8 414.3,612.9 413.5,613 412.7,613.1 411.9,613.2 411.1,613.3 410.4,613.4 409.6,613.5 408.8,613.6 408,613.7 407.2,613.8 406.4,613.9 405.6,614 404.8,614.1 404,614.2 403.2,614.3 402.5,614.4 401.7,614.5 400.9,614.6 400.1,614.7 399.3,614.8 398.5,614.9 397.7,615 396.9,619 396.1,621.5 395.3,624"/>
<path stroke="#bababa" stroke-width="1.1" d="M317.1 604.3h1.1M361.1 627.5h1.1M390 629.2h1.1M396.4 627h1.1M365.3 625h1.1M342.7 612.8h1.1M376.5 628.9h1.1M384 629.5h1.1M410.9 623h1.1M435.3 619.9h1.1M443.6 610.1h1.1M346.7 625.8h1.1M430 603.8h1.1M382.8 615.2h1.1M366.1 628.8h1.1M368.8 612.4h1.1M388.8 629h1.1M328 605.9h1.1M396.5 616.4h1.1M380.6 624.6h1.1M473.3 603.3h1.1M428.8 621.7h1.1M395.7 629h1.1M347.9 617.5h1.1M399.8 627.7h1.1M339 612.1h1.1M388.4 629.2h1.1M362.8 627.6h1.1M444.8 607.7h1.1M407.4 610.3h1.1M384.3 626h1.1M379.1 625.1h1.1M409.8 608.8h1.1M408.7 616.1h1.1M399.6 608.3h1.1M379.2 608h1.1M353.2 625.2h1.1M367.4 612h1.1M451.7 615.6h1.1M408.8 600.4h1.1M413.9 619.8h1.1M386.3 606.9h1.1M312.5 602.8h1.1M375.2 629.4h1.1M382.6 629.9h1.1M472 602.3h1.1M496.8 605.9h1.1M424.4 608.6h1.1M394.1 629.1h1.1M387.9 623.9h1.1M361.4 628.1h1.1M382.8 614h1.1M439.9 609.5h1.1M416.1 620.4h1.1M429.8 620.5h1.1M329.5 606.2h1.1M476.1 605.2h1.1M376.7 620.4h1.1M432.1 620.8h1.1M401.7 628h1.1M364.9 619.2h1.1M399.6 608.4h1.1M384.7 608.9h1.1M405 625.8h1.1M400.6 621.9h1.1M370.4 622.4h1.1M378.9 623.4h1.1M397 622.5h1.1M411.4 621.1h1.1M418.2 620.3h1.1M383 623.8h1.1M408.3 617.7h1.1M416.5 624.1h1.1M390 630h1.1M363.6 617.4h1.1M375.2 628.6h1.1M406.7 626.4h1.1M335 598.4h1.1M460.7 607.2h1.1M474.5 603.4h1.1M446.5 613.5h1.1M372.5 629.5h1.1M394.4 629.5h1.1M418.6 615.6h1.1M386.9 628.3h1.1M395.2 628h1.1M349.2 619.5h1.1M411.7 603.6h1.1M470.8 610.7h1.1M350 622.1h1.1M455.9 613.3h1.1M424.5 622h1.1M380.5 627.9h1.1M434.2 596.9h1.1M324.3 601.6h1.1M385.9 629.7h1.1M381.7 619.1h1.1M353.9 604.1h1.1M416.8 597.8h1.1M363.7 601.9h1.1M403.4 614.2h1.1M424.2 608.3h1.1M405.8 625.4h1.1M464 609.9h1.1M420.9 609.3h1.1M384.8 628.9h1.1M426.1 606.7h1.1M354.4 599.8h1.1M436.4 616.3h1.1M367.6 599.9h1.1M395.1 625.5h1.1M405.1 622.1h1.1M417.1 621.7h1.1M400.3 624.5h1.1M427.5 617.6h1.1M404.5 620.9h1.1M425 616.6h1.1M447.3 615.3h1.1M416.9 607.2h1.1M415.2 596.4h1.1M462.1 610.7h1.1M383.8 625.3h1.1M413.5 622h1.1M384.8 617.9h1.1M385.9 611.8h1.1M376.8 600.6h1.1M389.8 630.3h1.1M378.7 605.1h1.1M369 616.5h1.1M410.5 604.1h1.1M367.6 620.2h1.1M378.3 629.6h1.1M340.7 624.6h1.1M420.6 602.9h1.1M388.5 629.2h1.1M328.3 604.2h1.1M421.6 616.7h1.1M448.3 609.3h1.1M456 602.8h1.1M385.7 612.2h1.1M366 612.7h1.1M387.7 620.3h1.1M403.8 604.7h1.1M402.3 602.9h1.1M362 604.6h1.1M379.2 624.8h1.1M307.8 606.6h1.1M427.3 618.2h1.1M373.9 605.9h1.1M410.4 607.8h1.1M375 606.9h1.1M361.4 628.1h1.1M347.8 622.4h1.1M473.6 611.2h1.1M324.6 620.1h1.1M380.9 605.6h1.1M329.9 621.8h1.1M430.9 606.3h1.1M406.6 618h1.1M342.1 619.4h1.1M380.6 623.1h1.1M428.1 618.7h1.1M358.5 623.6h1.1M381 621.4h1.1M404.2 625.9h1.1M490.8 607.2h1.1M389.1 620.6h1.1M405.6 614.5h1.1M396.6 609.1h1.1M386 625.3h1.1M411.5 618.9h1.1M394.6 629.6h1.1M372.7 617.7h1.1M318.8 618.4h1.1M472.8 611.5h1.1M376.1 627h1.1M428.7 606.9h1.1M402.1 598.7h1.1M443.7 617.9h1.1M441.2 618.5h1.1M387.3 624.9h1.1M406.9 620.9h1.1M422.2 621.4h1.1M395.5 626.5h1.1M375 618.5h1.1M398.2 628.7h1.1M376.7 615.1h1.1M395.9 622.8h1.1M457.5 613.5h1.1M368.4 628.7h1.1M366.3 620.5h1.1M436.3 612.8h1.1M310.7 610.8h1.1M321.5 608.6h1.1M416.5 620.4h1.1M344.4 615.7h1.1M415.7 624.5h1.1M406.5 612.2h1.1M388.6 615h1.1M450.6 608.3h1.1M405.7 623.8h1.1M323.4 607.3h1.1M425.4 611h1.1M402 612.6h1.1M346.9 624.4h1.1M398.8 625.3h1.1M401.8 616.9h1.1M350.8 625.1h1.1M417.1 621.4h1.1M405.4 604.6h1.1M361.4 607.2h1.1M372 621.4h1.1M368.3 619.9h1.1M385.7 629.9h1.1M443.3 601.9h1.1M482.9 607.4h1.1M428.1 605.9h1.1M400 602.4h1.1M396.6 628.7h1.1M384.8 615.8h1.1M402 627.9h1.1M346.8 612h1.1M453.9 614h1.1M410.9 625.9h1.1M427.9 610h1.1M368.4 627h1.1M455.8 607.9h1.1M385.7 628.2h1.1M297.7 610.4h1.1M385.6 601.3h1.1M379.6 617.2h1.1M361.4 626.3h1.1M440.7 614.6h1.1M373.1 627.9h1.1M336.7 612.1h1.1M428.7 604.6h1.1M383.2 625.6h1.1M347.2 625.7h1.1M406.7 608.8h1.1M383.2 614.6h1.1M421.2 616.4h1.1M371.9 627.9h1.1M383 630h1.1M346.1 615.2h1.1M376 628.4h1.1M416.5 619.8h1.1M398.3 616.6h1.1M316 617.5h1.1M430.9 621.2h1.1M394.3 627.9h1.1M448.5 608.1h1.1M379.6 609.3h1.1M351.5 604.7h1.1M365.3 628.5h1.1M386.3 622.5h1.1M389.7 628.4h1.1M449.8 614.7h1.1M435.1 619.8h1.1M408 626h1.1M366.3 611.5h1.1M396.8 619.5h1.1M407.7 610.7h1.1M397.5 622.4h1.1M370.6 594.6h1.1M382.7 606.9h1.1M445 613h1.1M398.6 628.7h1.1M359.9 628h1.1M431.1 617.5h1.1M383.6 628.7h1.1M414.2 624.8h1.1M394.2 624.5h1.1M400.4 625.6h1.1M373.7 600.1h1.1M424.2 602.5h1.1M366.4 617.4h1.1M417.1 621.2h1.1M414.7 605.8h1.1M293.6 607h1.1M376.8 628.3h1.1M445.1 607.3h1.1M493.4 606.6h1.1M327.2 607.6h1.1M376.6 629.8h1.1M363.7 628.5h1.1M352.2 623.1h1.1M333.6 621.5h1.1M374 626.7h1.1M393.4 629.6h1.1M423.4 622.7h1.1M441 618.9h1.1M384.5 629.3h1.1M453.4 609.3h1.1M382.4 614.8h1.1M345.9 624.3h1.1M371.5 628.2h1.1M430.8 607.4h1.1M403.7 619.2h1.1M431.8 616.6h1.1M397.4 624.1h1.1M429.4 621.3h1.1M445.5 617.4h1.1M436.3 600.3h1.1M388.2 629.1h1.1M450.6 616.5h1.1M438.2 613.3h1.1M343 612.3h1.1M336.6 615.6h1.1M420.7 602.7h1.1M426.4 618h1.1M431.8 619.8h1.1M434.9 619.7h1.1M404.9 619.3h1.1M404.8 614.1h1.1M383.5 604.6h1.1M379.4 603.9h1.1M461.7 604.9h1.1M401.8 615.3h1.1M401.3 623.7h1.1M364.4 604.2h1.1M438 605.8h1.1M406.3 626.6h1.1M446 617.7h1.1M421.3 600.3h1.1M393.4 628.7h1.1M352.3 617.3h1.1M384.5 627.1h1.1M302.7 610.9h1.1M400.8 624.6h1.1M380.1 607.2h1.1M424.9 602.5h1.1M380.8 620h1.1M354.8 626.8h1.1M412.2 625.3h1.1M395.1 620.2h1.1M400.4 625.2h1.1M376.8 623.8h1.1M394 629.8h1.1M402.3 608.1h1.1M396 625.3h1.1M382.1 611.2h1.1M406.4 624.1h1.1M400.6 607.2h1.1M428.4 605.6h1.1M469.8 605.6h1.1M382 629.7h1.1M374.1 628.2h1.1M388.8 614.6h1.1M425.1 622.3h1.1M376.1 620.2h1.1M382.1 628.7h1.1M405.7 617.4h1.1M487.8 608.1h1.1M431.8 620.5h1.1M398 602.3h1.1M373.9 603.1h1.1M401 627.9h1.1M356.4 616h1.1M422.5 620.9h1.1M377.4 627.1h1.1M393.3 629.8h1.1M404.7 627.2h1.1M387.3 619.2h1.1M341.7 612.6h1.1M398.3 604.5h1.1M432.8 618.3h1.1M413 601.2h1.1M352.8 626.9h1.1M414 622.7h1.1M349.3 625.9h1.1M388.4 628.4h1.1M367.4 606.8h1.1M382.6 619.5h1.1M345.4 608.3h1.1M319.8 616.2h1.1M431.2 613.9h1.1M471.2 611.8h1.1M325.3 618.1h1.1M407.7 611.1h1.1M458.8 608.5h1.1M401.7 614.7h1.1M478.1 609.6h1.1M369.6 611.8h1.1M397.9 623.9h1.1M386.9 611.5h1.1M324.8 620.4h1.1M432.1 619.2h1.1M399.2 625.3h1.1M450.9 614.1h1.1M471.5 611.8h1.1M422.1 615.8h1.1M446.4 606.7h1.1M396.6 619.9h1.1M478.6 609.8h1.1M465 612.6h1.1M360.7 612.6h1.1M386.6 608.8h1.1M364 626.3h1.1M344.3 602.9h1.1M314 605.7h1.1M454.6 613.2h1.1M451.7 610.4h1.1M342.8 610.5h1.1M359 617.6h1.1M382 629.2h1.1M461.5 606.5h1.1M402.5 626.4h1.1M343.8 614.3h1.1M369.9 628.8h1.1M288.4 606.2h1.1M398.9 617.2h1.1M384.2 600.6h1.1M375.5 622.7h1.1M417.6 619.9h1.1M383.4 629.9h1.1M420.6 623h1.1M381.7 630.1h1.1M464.7 613.4h1.1M396.5 608.5h1.1M379.5 629.9h1.1M373.6 625.8h1.1M448.7 598.9h1.1M354 627.2h1.1M428.4 610.4h1.1M375.5 625.3h1.1M440.6 609h1.1M361.2 626.1h1.1M380.1 604.8h1.1M456.7 613.4h1.1M386.1 595.1h1.1M373.2 626.4h1.1M395.9 617.2h1.1M455.3 615.6h1.1M397.5 615h1.1M382.1 607.4h1.1M407.6 609.2h1.1M421.8 623.3h1.1M416.3 613.6h1.1M365.7 610.7h1.1M427 620.9h1.1M404.2 627.4h1.1M451.1 606.9h1.1M365.1 617h1.1M322.4 615.9h1.1M374.9 625.6h1.1M342.1 620.1h1.1M429.2 612.5h1.1M388.5 616.1h1.1M427.9 614.8h1.1M394 629.8h1.1M387.1 626.7h1.1M382.7 630.1h1.1M343.8 602.6h1.1M401 623h1.1M330.4 615.5h1.1M396.6 618h1.1M414.2 613.1h1.1M398.2 619.8h1.1M339 602.4h1.1M355.3 622.5h1.1M394.5 628.4h1.1M406.1 621.8h1.1M414.5 598.4h1.1M371.6 628.4h1.1M438.6 615.3h1.1M404.2 617.6h1.1M342.1 622h1.1M402.7 617.5h1.1M344.4 624.4h1.1M437.2 612.2h1.1M371.4 622.7h1.1M400.8 621.5h1.1M425.5 614.5h1.1M379 630h1.1M301.5 610.8h1.1M395.8 621h1.1M406 624.1h1.1M423.7 616.8h1.1M381.6 618.3h1.1M433.6 609.9h1.1M351.7 605.8h1.1M317 612.2h1.1M399.7 614.7h1.1M380.3 621.7h1.1M386.4 620.4h1.1M398.5 628.7h1.1M383.3 630.1h1.1M393.9 626.9h1.1M447.1 601.9h1.1M444.8 617.3h1.1M378.2 614.3h1.1M396.7 616.8h1.1M393.4 627.1h1.1M400.4 628.1h1.1M333.4 599.7h1.1M346.4 623.1h1.1M401.6 622.8h1.1M426.3 616.5h1.1M403.5 620.8h1.1M416.6 601.1h1.1M364.2 597.6h1.1M380.4 628.4h1.1M347.5 626.1h1.1M352.2 601.9h1.1M404.5 625.4h1.1M340.6 616.3h1.1M397.2 610.9h1.1M424.2 622.7h1.1M394.1 622.2h1.1M387.6 628.6h1.1M460 604.7h1.1M431.5 614h1.1M404.7 622.6h1.1M428.1 598.8h1.1M398.2 628.8h1.1M389 618.3h1.1M415.8 607.1h1.1M419 624h1.1M412.1 625.4h1.1M300.7 605.5h1.1M383.5 630.2h1.1M352.9 626.6h1.1M406.6 621.2h1.1M394.6 628.8h1.1M364.6 628.3h1.1M451.2 613.6h1.1M476.9 606.4h1.1M414.5 617.4h1.1M353.3 625.1h1.1M368.9 629.2h1.1M364.5 610.1h1.1M422.9 617.1h1.1M455.4 615h1.1M379.8 629.9h1.1M387.2 630.2h1.1M442.5 613.6h1.1M444.1 613.4h1.1M379.1 609.7h1.1M319.6 606.2h1.1M394.8 624.1h1.1M379.9 628.3h1.1M419.6 622.5h1.1M445.9 599.2h1.1M387 628.8h1.1M413.5 611.6h1.1M453.2 616.1h1.1M425.9 612.8h1.1M415 610.1h1.1M438.4 601.2h1.1M356.5 626.9h1.1M385.3 608.2h1.1M302.3 611.2h1.1M317.3 616.7h1.1M369.5 623.6h1.1M403.8 626.9h1.1M413.6 624.5h1.1M362.3 608.9h1.1M406.6 625.3h1.1M399.2 605.2h1.1M383.9 627.3h1.1M395.9 627.3h1.1M405.2 610.1h1.1M431 602.3h1.1M435.6 609.1h1.1M404 609.2h1.1M417.7 605.4h1.1M402.6 621.1h1.1M372.9 627.6h1.1M399 619.5h1.1M385.5 629.9h1.1M437 619.8h1.1M319.1 618.1h1.1M333.4 612.7h1.1M376.3 628.3h1.1M399.5 623.4h1.1M397.6 611.2h1.1M433.8 614.7h1.1M449.3 616.3h1.1M389.4 626.7h1.1M382.9 629.3h1.1M369.4 627.5h1.1M436.4 618.9h1.1M354.5 619.8h1.1M397.1 622.9h1.1M469.6 611.9h1.1M395.8 628.9h1.1M416.8 610.8h1.1M388.7 613.7h1.1M334.2 601.8h1.1M378 629.5h1.1M372.1 609.2h1.1M429.1 616.5h1.1M355.4 620.7h1.1M435.2 615.5h1.1M348.2 614.6h1.1M401.7 625.5h1.1M410.6 616.8h1.1M339.9 604.3h1.1M417.6 615.2h1.1M324.8 612.1h1.1M430.7 620.8h1.1M432.9 612.9h1.1M384.2 629.9h1.1M344.7 614.3h1.1M335.4 615.5h1.1M354.4 602.6h1.1M373.1 613.4h1.1M389 624.8h1.1M422.4 623.2h1.1M413.8 622h1.1M443.4 605h1.1M375.1 629.3h1.1M375.7 626h1.1M341.8 624.8h1.1M356.9 627.4h1.1M407.2 622.1h1.1M338.3 611.4h1.1M419.2 607.5h1.1M416.9 623.6h1.1M454.1 604.2h1.1M367.5 626.9h1.1M407.2 613.7h1.1M435.3 601h1.1M385.2 599.9h1.1M461.4 611.3h1.1M417.9 621.7h1.1M325.9 612.4h1.1M382 625.9h1.1M407.7 604h1.1M413.7 622.9h1.1M303 612.6h1.1M357.8 615.7h1.1M364.6 628.7h1.1M361.8 612.7h1.1M394.1 627.6h1.1M379.3 627.2h1.1M341.4 610h1.1M402.4 626.8h1.1M393.8 628.8h1.1M368.7 615h1.1M427.3 607.1h1.1M444.4 604.5h1.1M439.9 619h1.1M385.9 615.6h1.1M362.3 595.1h1.1M399.1 617.5h1.1M446.3 613.5h1.1M381.8 619h1.1M441.7 599.2h1.1M345.6 625h1.1M308.1 607.1h1.1M413.6 597.2h1.1M389.6 628.2h1.1M356 625.8h1.1M383.5 623.8h1.1M365.3 622.6h1.1M398.2 628.1h1.1M396.5 609.8h1.1M347.9 626.1h1.1M372 629.5h1.1M429.8 602.4h1.1M335.3 602.6h1.1M317.9 608.6h1.1M355.6 627.4h1.1M394.7 621.5h1.1M457.2 612.1h1.1M414.3 603.1h1.1M410.4 603.6h1.1M355.5 620.5h1.1M340.6 624.6h1.1M467 608.9h1.1M369.7 627.1h1.1M416.2 620.5h1.1M386.5 630.2h1.1M383.4 628.7h1.1M428.9 621.7h1.1M387.6 615h1.1M361.9 602.9h1.1M444.8 601h1.1M333.4 597.5h1.1M462.6 603.1h1.1M399.1 628.6h1.1M370.3 629h1.1M435.2 598h1.1M346.8 620.8h1.1M377.9 629.8h1.1M413.3 618.5h1.1M380.2 629.6h1.1M419.8 623.3h1.1M349.3 626.4h1.1M404.1 615.7h1.1M316.4 616.4h1.1M400.9 614.9h1.1M402.9 623.2h1.1M401.1 602.4h1.1M409 600.1h1.1M348.2 623.6h1.1M390 629h1.1M448.7 613.4h1.1M417.6 619.9h1.1M428.9 602.2h1.1M342.5 623.8h1.1M403.3 623.7h1.1M400.5 626.7h1.1M442 613h1.1M452.4 614.2h1.1M323.8 616.2h1.1M427.6 609.1h1.1M330.5 616.4h1.1M383.6 629.2h1.1M327 602.7h1.1M459.8 614.3h1.1M455.1 600.1h1.1M426.2 621.9h1.1M374.8 608.7h1.1M415.2 615.9h1.1M383.4 612.4h1.1M433.7 605.5h1.1M377.1 615.5h1.1M387.5 609h1.1M389.2 621.7h1.1M409.4 600.7h1.1M462.9 613.6h1.1M474.4 608.8h1.1M426.8 622.2h1.1M383.5 613.4h1.1M381.1 609.3h1.1M348.2 607.6h1.1M393.8 629.2h1.1M426.9 609.1h1.1M373.8 605.8h1.1M374.4 624.9h1.1M394.1 625.8h1.1M350 603.9h1.1M394.1 625.7h1.1M349.7 619.2h1.1M394.6 627.8h1.1M430.7 615.1h1.1M359 607.9h1.1M419.5 622.6h1.1M420.2 623h1.1M381 623.8h1.1M388.9 618.5h1.1M385.1 629.2h1.1M379.1 626h1.1M402.7 615.5h1.1M313.8 607.5h1.1M480.2 605.5h1.1M345.1 603.6h1.1M423.2 617.5h1.1M403.1 626h1.1M389.2 619.2h1.1M455.2 600.8h1.1M381.5 630.1h1.1M414 606.3h1.1M336.7 597h1.1M311.5 612h1.1M449.2 616.4h1.1M364.1 627.1h1.1M405.7 617.9h1.1M349.1 621.4h1.1M457.4 615.1h1.1M394.8 628.5h1.1M402.4 603.8h1.1M315.9 609.7h1.1M351.3 604.6h1.1M359.4 621.2h1.1M420.8 602.9h1.1M444.5 617.5h1.1M403.9 610.1h1.1M412.1 618.2h1.1M322.4 616.6h1.1M338.5 623.4h1.1M383.9 628.5h1.1M403.8 624.4h1.1M496.5 605.9h1.1M426.8 621.1h1.1M456.7 611.4h1.1M429.6 606.3h1.1M366.9 629h1.1M409.6 626.1h1.1M374.8 599h1.1M441.9 611.6h1.1M411.1 624h1.1M389.9 626.9h1.1M380.7 618.2h1.1M389.9 630.1h1.1M360.6 608.6h1.1M439.4 617.3h1.1M388.3 619.6h1.1M397.5 627.2h1.1M484 608.9h1.1M381.3 620.2h1.1M441.1 616.5h1.1M447 607.7h1.1M401.2 617.3h1.1M421.7 615.3h1.1M383.9 630h1.1M399.6 613.9h1.1M383.7 619.1h1.1M368.3 595.2h1.1M456.4 602.7h1.1M422.8 604.8h1.1M383.9 611.4h1.1M471.8 606.2h1.1M359.5 607.4h1.1M363.6 628.2h1.1M365.4 625.4h1.1M344.2 617.6h1.1M457.9 609h1.1M375.8 621.3h1.1M413.6 623.5h1.1M383 611h1.1M413.8 600.1h1.1M484.7 603.8h1.1M396.6 622.6h1.1M353.2 618.7h1.1M416.3 623.8h1.1M413.8 610.5h1.1M346.2 616.9h1.1M411.4 625h1.1M431.1 600.3h1.1M367.5 627.8h1.1M380.3 606.7h1.1M382 618.5h1.1M356.1 622h1.1M386 621.8h1.1M385.3 629.7h1.1M365.8 613.1h1.1M326.1 602.2h1.1M380.2 618.6h1.1M370 614.8h1.1M399.3 628.4h1.1M400.1 625.6h1.1M355.6 603.2h1.1M383.7 620h1.1M377.9 604.2h1.1M436.2 619.8h1.1M372.2 625.6h1.1M361.8 628.4h1.1M394.1 624.8h1.1M444.9 605.6h1.1M319.1 618.3h1.1M415.6 601.5h1.1M356.9 619.8h1.1M413.9 609.6h1.1M352 619.3h1.1M331.5 600.1h1.1M402.1 619.5h1.1M418 613.7h1.1M452.8 607.9h1.1M450.5 613.9h1.1M413 622.1h1.1M435 613.7h1.1M400.2 613.4h1.1M350.9 607.7h1.1M429 621.7h1.1M442.8 614.3h1.1M382 612.5h1.1M480.1 608h1.1M334.8 623h1.1M433.7 611.5h1.1M348.2 604.3h1.1M441 618.3h1.1M393.5 629.5h1.1M479.4 609.2h1.1M441.1 615.6h1.1M403.7 626.7h1.1M410.6 605.6h1.1M398.4 623.4h1.1M451.5 616.2h1.1M452.2 616.1h1.1M443.6 614.1h1.1M343.5 625h1.1M375.5 612.2h1.1M487.3 606.7h1.1M388.4 630.2h1.1M346.4 604.4h1.1M365.6 595.4h1.1M381.9 629.5h1.1M420.2 605.1h1.1M383.3 624.4h1.1M382.6 616.1h1.1M388.4 624.6h1.1M477.3 606h1.1M363.5 622.7h1.1M332.1 603.1h1.1M298 610.5h1.1M473.4 607.4h1.1M447.3 602.7h1.1M414.4 624.6h1.1M371.5 614.2h1.1M395.1 629.6h1.1M460.3 614.4h1.1M486.8 607.7h1.1M380 629.7h1.1M429.9 602.6h1.1M359.1 623.4h1.1M385.4 601.1h1.1M435.9 608.9h1.1M363.4 628.3h1.1M450.6 616h1.1M428.1 617.2h1.1M434.1 620.3h1.1M372.9 617.4h1.1M372 613.7h1.1M403.7 627.6h1.1M305.5 606.5h1.1M454.1 603.8h1.1M426.1 621.7h1.1M336.8 623.5h1.1M407.9 598.5h1.1M413.5 624.9h1.1M411.3 625.2h1.1M401.8 627.2h1.1M438.7 617.1h1.1M383.6 611.4h1.1M397.8 623.6h1.1M383 630.1h1.1M380.2 600.5h1.1M443.2 618.3h1.1M405.1 602h1.1M431.5 606h1.1M349.9 624.2h1.1M413.8 623.9h1.1M334.5 616.3h1.1M394.7 627.4h1.1M433.4 620.7h1.1M388.1 611.8h1.1M399.9 620.5h1.1M376.4 627.9h1.1M361.9 623.9h1.1M386.7 625.6h1.1M411.6 625.7h1.1M473.3 601.4h1.1M444.3 613.4h1.1M408.8 624.8h1.1M416.8 601.5h1.1M410.1 624.6h1.1M350.5 619.1h1.1M384.3 621.2h1.1M419.2 604.9h1.1M370.1 629.1h1.1M413 618.4h1.1M296.7 604.5h1.1M337.2 623.4h1.1M317.7 605.7h1.1M342.7 623.9h1.1M393.3 629.5h1.1M420.8 620.7h1.1M446 617.1h1.1M393.8 626.1h1.1M342 622.1h1.1M358.3 599.1h1.1M334.3 609h1.1M433.1 617.6h1.1M398.8 600.4h1.1M394 628.8h1.1M314.4 601.6h1.1M370.6 622.4h1.1M344.7 619.1h1.1M404.9 627.3h1.1M375.2 622.7h1.1M399.3 615.1h1.1M456.4 602.7h1.1M371.5 614.8h1.1M359 625.5h1.1M438.3 607.5h1.1M413.4 601.4h1.1M379.8 629.7h1.1M410.1 619.2h1.1M413 603.1h1.1M446.9 615.2h1.1M450.7 614.4h1.1M413.3 612.2h1.1M307.3 614.3h1.1M373.9 629.5h1.1M396.5 624h1.1M421.9 603.1h1.1M380.4 622h1.1M374 608.8h1.1M393.7 627h1.1M478 604.7h1.1M318.1 618.1h1.1M400.7 626.9h1.1M333.1 609h1.1M363.9 620.3h1.1M365.7 611.2h1.1M350.9 619.2h1.1M383.6 600.7h1.1M350.2 626.1h1.1M334.9 620.9h1.1M336 608.2h1.1M413.3 612.6h1.1M405.9 622.9h1.1M398.1 605.7h1.1M397.1 617.4h1.1M413.5 614.8h1.1M412 601.9h1.1M437.3 605.7h1.1M394.9 620.7h1.1M400.6 626.9h1.1M415 609.5h1.1M399.1 628.2h1.1M316.1 612.1h1.1M429.4 613.8h1.1M385.4 605.3h1.1M463.5 613.5h1.1M405.7 626.2h1.1M380.9 629h1.1M385.6 618.9h1.1M376.4 606.8h1.1M400.6 598.6h1.1M440.9 617.4h1.1M354.5 625.1h1.1M378.1 608.6h1.1M422.9 599.4h1.1M403.2 619.9h1.1M399.3 621.1h1.1M407.5 621.2h1.1M342.7 615.4h1.1M478.7 605.2h1.1M388.5 621.9h1.1M430 611.9h1.1M347.7 625.4h1.1M368.2 614.4h1.1M332.6 603.7h1.1M409.8 611.4h1.1M396.4 621.1h1.1M483.9 607.9h1.1M348.3 622.4h1.1M352.7 621.1h1.1M403.7 626.2h1.1M388.6 630.2h1.1M405.6 614.1h1.1M412.6 622.7h1.1M404 620.5h1.1M460.8 612.4h1.1M325.7 616.9h1.1M432.9 616.3h1.1M368.3 617.1h1.1M370.9 610.7h1.1M361.7 616.6h1.1M374.9 603.6h1.1M342.4 623.1h1.1M425.6 612.5h1.1M304.7 613h1.1M382.4 630h1.1M351.6 609.4h1.1M370.7 617.9h1.1M395.5 629.3h1.1M395.5 629.2h1.1M353.2 615h1.1M382 625.6h1.1M376.2 611.2h1.1M348.2 625.5h1.1M426 622h1.1M408.3 621.5h1.1M348.6 624.2h1.1M410.9 625.3h1.1M429.3 600.6h1.1M372.3 622.2h1.1M376.9 610.5h1.1M430.7 615.2h1.1M387.6 628.6h1.1M382.9 627.7h1.1M360.1 627.7h1.1M442.3 618.6h1.1M381.6 603h1.1M383 607h1.1M456.5 613.7h1.1M387.7 623.6h1.1M411.3 625.5h1.1M302.1 603.8h1.1M384.3 626.9h1.1M403.7 625.5h1.1M421.6 605.1h1.1M400.3 628.3h1.1M385.3 595h1.1M442.3 603.9h1.1M363.8 626.2h1.1M426.2 622.3h1.1M389.9 629h1.1M427.5 620.1h1.1M419.2 622.3h1.1M327.8 621.3h1.1M345.2 625.5h1.1M358 620.5h1.1M382.9 629.9h1.1M448.6 617.1h1.1M399.3 620h1.1M360.3 607.1h1.1M440.5 613.2h1.1M354.6 618.4h1.1M408.7 624.1h1.1M422.8 606.3h1.1M377.7 614.7h1.1M404.5 624h1.1M448.6 607.2h1.1M398.5 620.4h1.1M386 628.8h1.1M395.7 628.7h1.1M381.6 627.6h1.1M382.4 595.9h1.1M409.7 597.9h1.1M393.7 624h1.1M398 627.4h1.1M351.6 626.6h1.1M389.1 629.7h1.1M396.9 607.9h1.1M364.1 599.1h1.1M435.8 611h1.1M407.2 619.1h1.1M397.6 614.9h1.1M372.7 629.3h1.1M326.2 602.4h1.1M399.5 618.5h1.1M399.9 614.9h1.1M362.9 602.2h1.1M375.9 629.6h1.1M342.4 607.7h1.1M362.5 623.4h1.1M386.5 596.1h1.1M365.8 604.2h1.1M345.4 599.7h1.1M453.3 615.8h1.1M448.1 610.5h1.1M410.1 625.4h1.1M332.1 617.7h1.1M421.5 621.2h1.1M374.7 609h1.1M447.8 617.2h1.1M324.9 601.2h1.1M427.4 621.9h1.1M319.4 604.6h1.1M386.4 630h1.1M417.8 608.6h1.1M443.9 617.6h1.1M387.9 609.2h1.1M475.8 608.2h1.1M448.1 600.9h1.1M451.5 612.5h1.1M447.5 603h1.1M382.8 626.4h1.1M435.5 605.5h1.1M377.2 616.8h1.1M479.5 606.8h1.1M361.1 610.9h1.1M336.1 621.9h1.1M426.4 622.2h1.1M358.9 627h1.1M437.5 602.3h1.1M385.2 603.7h1.1M379.4 607.7h1.1M482.3 608h1.1M389.1 628.5h1.1M398.3 619.8h1.1M457.2 615.1h1.1M439 614.5h1.1M414.2 603.8h1.1M325.2 611.5h1.1M388.1 618.1h1.1M399.9 612h1.1M394.4 629.2h1.1M404.2 603.9h1.1M425.9 605.5h1.1M366.6 623.7h1.1M330.5 600.2h1.1M437.5 619.5h1.1M412.2 617.6h1.1M427.3 609.8h1.1M479.3 606.3h1.1M415.5 614.2h1.1M424.7 596.2h1.1M420.5 615.9h1.1M351.2 623.6h1.1M309.1 613.7h1.1M482.1 603.7h1.1M424.6 606.8h1.1M439.4 607.1h1.1M353.8 626.1h1.1M330.8 617.9h1.1M421 610.4h1.1M346.3 606.2h1.1M422.2 612.2h1.1M387.2 629.9h1.1M402.4 627.1h1.1M424.6 622.7h1.1M383.3 624.9h1.1M415.8 604.1h1.1M396.1 625.9h1.1M415.3 619.2h1.1M433.5 612.7h1.1M388 627.5h1.1M342.4 601h1.1M354.4 618h1.1M389 629.2h1.1M452.9 615.5h1.1M408.7 624h1.1M473.3 611h1.1M421.6 607.5h1.1M370.5 610.8h1.1M408.2 626.4h1.1M371.5 628.9h1.1M406.7 625h1.1M422.6 613.6h1.1M465.6 610h1.1M397 622.9h1.1M324.9 620.2h1.1M443.3 613.5h1.1M383.9 627.1h1.1M360.8 617.4h1.1M384.3 625.1h1.1M365.5 622.9h1.1M395.4 628.2h1.1M360.4 617.9h1.1M410.8 625.6h1.1M349.1 625.5h1.1M382.5 614h1.1M442.1 618.2h1.1M346 602h1.1M352.4 621.1h1.1M361.7 624.7h1.1M368.1 604.4h1.1M434.6 606.4h1.1M374.3 601.4h1.1M354.1 608.4h1.1M377.4 622.5h1.1M335.8 617.8h1.1M424.4 616.3h1.1M362.8 618.7h1.1M457.8 604.3h1.1M355.4 625.7h1.1M401.8 616.3h1.1M380.2 624.8h1.1M461.6 612.2h1.1M414.7 607.7h1.1M398.1 613.5h1.1M380.9 620.6h1.1M404.1 624.2h1.1M426.6 620h1.1M437.8 597.8h1.1M387.1 614.6h1.1M369 617.2h1.1M387.2 624.2h1.1M399 628.6h1.1M393.7 629.3h1.1M329.9 621h1.1M404.3 605.1h1.1M420.1 622.5h1.1M381.1 627.3h1.1M426.6 608h1.1M384.3 613.9h1.1M368 626.9h1.1M395.4 626.9h1.1M364.7 628.1h1.1M340.8 622.6h1.1M389 628.9h1.1M394.6 618.1h1.1M316.5 616.4h1.1M373.1 619.8h1.1M388.8 629.7h1.1M319.9 604.6h1.1M412.3 616h1.1M300.2 610.9h1.1M370.6 628.5h1.1M488 604.1h1.1M344 623.2h1.1M335.8 598.7h1.1M332.6 612.5h1.1M408.2 613.3h1.1M478.9 605.4h1.1M379.1 608.3h1.1M422.4 610.8h1.1M425.9 616h1.1M406.1 616.8h1.1M300.2 607.6h1.1M335 622.9h1.1M314.1 613.7h1.1M407.3 626.7h1.1M372.2 628.2h1.1M380.6 603.9h1.1M340.1 607h1.1M333.2 621.9h1.1M395.4 617.6h1.1M349.2 620.2h1.1M410.7 597.1h1.1M377.8 622.3h1.1M349.6 613.2h1.1M374.2 611.1h1.1M388.1 597.2h1.1M402.1 612.4h1.1M427.6 600.7h1.1M347.5 623.8h1.1M374.1 611.4h1.1M398.8 599h1.1M428.8 606h1.1M471.7 606.9h1.1M433.4 602.3h1.1M305.9 613.5h1.1M339.8 614h1.1M430.4 621.2h1.1M403.2 599.3h1.1M376.5 617.6h1.1M342.1 612h1.1M367.2 624.7h1.1M433.4 603.1h1.1M325.3 620.5h1.1M448.8 617h1.1M354.4 627h1.1M412.7 618.1h1.1M436.5 619.1h1.1M393.5 628.7h1.1M410.7 621.6h1.1M421.3 602.1h1.1M353.2 624.2h1.1M417.5 614.4h1.1M384.9 624h1.1M438.3 602.5h1.1M480.6 607.6h1.1M371.7 598.9h1.1M318.5 618.4h1.1M400.6 623h1.1M415.6 617.6h1.1M440.3 617.5h1.1M319.7 612.6h1.1M410.5 606.8h1.1M338.1 602.1h1.1M376.4 623.2h1.1M374.5 629.5h1.1M384.6 600.7h1.1M359.6 627.4h1.1M361.8 627.6h1.1M432.5 618.5h1.1M384.3 629.7h1.1M411.7 622.2h1.1M386.3 630h1.1M307.9 605.6h1.1M421.5 622.9h1.1M378.8 619h1.1M408.5 626.3h1.1M468.2 603.5h1.1M432.6 615h1.1M383.8 626.4h1.1M396.9 620.4h1.1M380.6 630h1.1M421.1 611.3h1.1M382.6 625.3h1.1M422.3 623.2h1.1M331.8 616.5h1.1M370.3 628.8h1.1M495 605.2h1.1M414 617.9h1.1M372.8 626.1h1.1M443 614.4h1.1M383 629.6h1.1M345.4 603.2h1.1M428.1 597.8h1.1M331.6 602h1.1M414.5 624.5h1.1M432.3 612.3h1.1M399.1 628.5h1.1M407.1 624.4h1.1M485.8 606.2h1.1M348.4 626.2h1.1M340.6 623.6h1.1M425 606h1.1M379.3 622.9h1.1M352.7 609.3h1.1M421.1 622.1h1.1M435.4 619.7h1.1M395.5 617.5h1.1M389.9 626.3h1.1M425 616.2h1.1M446 617.7h1.1M394.9 623.7h1.1M353.4 621.1h1.1M358.3 623.3h1.1M376.4 603h1.1M385.8 601.9h1.1M419.6 612.5h1.1M387.6 627.7h1.1M468.6 602.5h1.1M463.8 612.7h1.1M398.5 622.8h1.1M405.3 607.3h1.1M335.9 617h1.1M438.8 603.1h1.1M316.6 616.2h1.1M400.2 623.5h1.1M353.2 621.7h1.1M353.6 611.9h1.1M427.7 604.9h1.1M341.3 610.5h1.1M400.5 612.8h1.1M459.1 606.1h1.1M473.2 609.7h1.1M360.6 628.2h1.1M346.9 618.4h1.1M362.8 627.7h1.1M411.1 601.9h1.1M450.9 616.5h1.1M368.2 629.1h1.1M446.9 605.8h1.1M414.2 617.1h1.1M466.4 610h1.1M417.9 622.9h1.1M401.4 618.9h1.1M452.4 613.9h1.1M369.3 628.8h1.1M471.9 609.8h1.1M424.4 622.7h1.1M328.5 616.3h1.1M399.1 603.4h1.1M397.2 627.2h1.1M344.8 625.1h1.1M362.9 628.5h1.1M385.8 610.4h1.1M289.5 606.7h1.1M409.2 625.3h1.1M424.3 621.1h1.1M418.9 608.9h1.1M419.2 623.9h1.1M385.2 625h1.1M449.5 598.5h1.1M399.2 610.8h1.1M362 608.4h1.1M489.1 607.7h1.1M426.8 615.3h1.1M396.2 615.3h1.1M355.2 627.1h1.1M364.8 609.4h1.1M400.6 610.3h1.1M414 624.9h1.1M419.6 608.4h1.1M382.3 618.2h1.1M399.5 622.3h1.1M402.9 626.8h1.1M354.3 627h1.1M429.1 620.3h1.1M370.3 628.6h1.1M362.9 611.1h1.1M433.6 604h1.1M356.5 626.5h1.1M322 612h1.1M401 615.4h1.1M398 600.1h1.1M405.1 619.4h1.1M407.9 620.9h1.1M412 625.5h1.1M460 610.5h1.1M363.4 626.5h1.1M368.9 626h1.1M427.4 616.8h1.1M450.2 616.4h1.1M355.7 613.7h1.1M389.9 626.8h1.1M383.7 621.2h1.1M342.7 624.2h1.1M418.1 617.7h1.1M443.2 615.3h1.1M383.2 618h1.1M443.4 606.8h1.1M419.3 611.1h1.1M381.8 614.6h1.1M393.5 628.4h1.1M467.5 604.8h1.1M404.6 602h1.1M343.9 625.2h1.1M387.2 615.5h1.1M383.6 608.9h1.1M450.2 616.5h1.1M356.8 616.8h1.1M410.1 626h1.1M394.3 629.7h1.1M300.5 610.4h1.1M375.6 629.6h1.1M403.3 600.6h1.1M433.8 620.5h1.1M393.8 629.8h1.1M352 610.3h1.1M348 611.7h1.1M383.2 612.3h1.1M408.6 625.2h1.1M430.2 599.4h1.1M365.7 628.2h1.1M439.7 603h1.1M400.5 602.2h1.1M414.1 622.7h1.1M398.3 624.5h1.1M399.9 626.5h1.1M394.3 627.1h1.1M379.4 628.4h1.1M405.2 615.2h1.1M396.6 629.2h1.1M406.4 626.7h1.1M344.8 624.9h1.1M426 620.5h1.1M387.3 627.1h1.1M423.7 620.3h1.1M383.5 610.2h1.1M449.6 614.5h1.1M437.9 609.5h1.1M465.9 607.4h1.1M349.3 609h1.1M294.2 606.7h1.1M362.3 615h1.1M399.8 624.2h1.1"/>
<path stroke="#c4c4c4" stroke-width="1.1" d="M384.4 605.4h1.1M381.2 607.4h1.1M497 605.9h1.1M365.2 628.2h1.1M402.2 615.3h1.1M438.1 619.5h1.1M420.5 605.1h1.1M362.1 625.2h1.1M448.2 611.8h1.1M352.6 625.6h1.1M348.5 612.3h1.1M365.1 612.8h1.1M418.1 624h1.1M400.4 619.8h1.1M415.2 603.4h1.1M398.5 620.3h1.1M361.4 616.6h1.1M407.1 613.9h1.1M331.4 603.4h1.1M439.1 615.9h1.1M438.1 613.4h1.1M402.3 625.3h1.1M412.5 619.5h1.1M383.4 601.3h1.1M393.4 627h1.1M414.9 623.8h1.1M395.6 629.1h1.1M400.6 625.3h1.1M389.1 630.3h1.1M412.9 614h1.1M419.6 623.6h1.1M395.2 624.8h1.1M400.4 605.8h1.1M425.4 607.7h1.1M368.1 601.6h1.1M421.6 608.8h1.1M388.2 627.6h1.1M441.4 618h1.1M398.9 616.2h1.1M423.5 606.5h1.1M424 610.8h1.1M396.6 626h1.1M350.2 626.6h1.1M441.1 613.3h1.1M380.4 610.2h1.1M339 614.2h1.1M408.6 626.4h1.1M331.9 614.9h1.1M360.1 622.8h1.1M417.1 619.2h1.1M372.4 629.4h1.1M340.3 617.9h1.1M335.1 599.9h1.1M379.1 601.6h1.1M397.7 617.9h1.1M355.4 617.2h1.1M367.4 623.6h1.1M423.5 605.8h1.1M319.1 609.5h1.1M451.5 610.4h1.1M384.5 603h1.1M433.8 600.5h1.1M388.9 630.2h1.1M398.4 628.7h1.1M412 625.6h1.1M380.8 629h1.1M363.7 627.7h1.1M368.9 627.6h1.1M362.7 627h1.1M377.9 619.4h1.1M337 622h1.1M422.5 620.5h1.1M411.6 611.8h1.1M352.5 610.4h1.1M414.4 615h1.1M382.3 618.6h1.1M445.6 608.4h1.1M374.4 629.7h1.1M381.2 626h1.1M352.1 605.7h1.1M352.8 612.1h1.1M358.6 618.7h1.1M421.8 619.3h1.1M399.9 608.2h1.1M400.5 612.3h1.1M446.1 607.8h1.1M384.5 608.1h1.1M376.4 607.4h1.1M388.5 626h1.1M433.8 597.3h1.1M396.8 628.8h1.1M350.3 626.3h1.1M430.5 617.2h1.1M336.7 602.8h1.1M415.1 624h1.1M394.9 629.5h1.1M398.4 621.9h1.1M347.3 624.7h1.1M388.9 620.6h1.1M348.9 621.1h1.1M411.7 604.6h1.1M383.2 624.8h1.1M351.4 607h1.1M432.9 620.8h1.1M394.5 626.5h1.1M321.7 604.1h1.1M446.8 615.7h1.1M460.3 604.8h1.1M458.6 605h1.1M372.3 610.3h1.1M414.3 602.9h1.1M379 601.2h1.1M395.8 629.3h1.1M469.1 612.4h1.1M434.9 600.4h1.1M400.4 626.7h1.1M448 599h1.1M338.7 605.5h1.1M450.3 608.6h1.1M411.7 624.6h1.1M421.5 620h1.1M372.6 607.8h1.1M471.2 611.7h1.1M341.6 619.9h1.1M396.8 629.1h1.1M427.2 621.5h1.1M372.7 626h1.1M382.1 628.5h1.1M408.1 606.2h1.1M354.6 623.7h1.1M412.5 623.8h1.1M412.4 614.7h1.1M451.1 614h1.1M348.7 621.1h1.1M343.6 612.8h1.1M380 617.3h1.1M359.5 621.8h1.1M431.9 609.6h1.1M475.2 607h1.1M424.4 622.5h1.1M450.1 605.9h1.1M388.8 629h1.1M429.4 619.9h1.1M423.7 622.8h1.1M421.5 618.8h1.1M434.4 612.8h1.1M380.6 597.9h1.1M387 602.9h1.1M377.5 629.6h1.1M336.7 603.2h1.1M382 624.2h1.1M400.1 622.6h1.1M368.8 617.9h1.1M432.5 617h1.1M426.9 621.8h1.1M408 625.6h1.1M330 613.6h1.1M372.9 629h1.1M381.8 615.3h1.1M351.9 626.2h1.1M406.2 614.9h1.1M379.1 610.5h1.1M460.5 609.2h1.1M372.6 629.4h1.1M369.4 625.9h1.1M446.6 609.9h1.1M414.9 624.9h1.1M400.1 615.3h1.1M386.3 623.8h1.1M356.8 619.9h1.1M346.9 623.4h1.1M384 629.2h1.1M364.2 628.7h1.1M385.1 623.5h1.1M337.8 611.9h1.1M398.5 625.6h1.1M368.4 626.9h1.1M416.3 614.5h1.1M385.3 609.6h1.1M424.7 612.5h1.1M397.9 615.5h1.1M422.5 620.9h1.1M349.6 601.5h1.1M379 629.8h1.1M381.8 595.7h1.1M352.3 600.6h1.1M377.5 627.7h1.1M360.5 622.1h1.1M421 619h1.1M409.7 626.1h1.1M463.8 602.8h1.1M428 621.9h1.1M377.7 621.8h1.1M408.6 600.6h1.1M411.5 625.2h1.1M414.7 597.5h1.1M377.6 629.8h1.1M340.4 623.7h1.1M395.6 618.1h1.1M358.7 616.7h1.1M378.5 623.6h1.1M395.5 628h1.1M400.7 615.7h1.1M383.4 621.6h1.1M402.1 605.7h1.1M413.2 606.4h1.1M311.8 611.7h1.1M430.5 612.9h1.1M306.5 604.4h1.1M410.1 626.1h1.1M367.3 625.6h1.1M405.9 626.1h1.1M381 625.7h1.1M422.6 611.4h1.1M400 616h1.1M359.5 601h1.1M424.2 619.4h1.1M397.5 626.8h1.1M364.1 624.4h1.1M460.3 614.3h1.1M427.8 621.5h1.1M385.5 628.6h1.1M380.1 608.9h1.1M379.9 617.4h1.1M383.1 598.9h1.1M324 605.8h1.1M398.4 625h1.1M389.1 621.2h1.1M317.3 605.3h1.1M421.4 619.2h1.1M413.1 625.3h1.1M398.1 611.3h1.1M379.5 629.9h1.1M417.2 620.4h1.1M393.3 629.7h1.1M360.3 607.8h1.1M388.2 629.6h1.1M385.4 622.6h1.1M453.7 610.8h1.1M404.3 627.4h1.1M406.2 596.4h1.1M352.5 624.1h1.1M428.2 614h1.1M403.7 622h1.1M294 608.8h1.1M383.1 609.8h1.1M419.5 622h1.1M409.8 621.2h1.1M383.9 629.9h1.1M415 622.3h1.1M358.8 627.4h1.1M467.4 612.4h1.1M360.1 628.2h1.1M413.3 616.7h1.1M375.6 613.6h1.1M407.5 598.4h1.1M441.1 611.5h1.1M426.7 617.8h1.1M364.8 623.3h1.1M386.4 628.1h1.1M364.8 611.3h1.1M455.9 615.3h1.1M426.2 610.8h1.1M372 623.9h1.1M497.1 605.3h1.1M385.9 623.4h1.1M395 629h1.1M367.5 625.2h1.1M456.2 603.2h1.1M408.3 620.8h1.1M334.6 599.6h1.1M325.2 619.2h1.1M411.8 608.4h1.1M388.8 630h1.1M408.1 625.1h1.1M414.4 600.3h1.1M396.5 621.5h1.1M371.5 626.5h1.1M351 600.2h1.1M408.6 617.2h1.1M360.1 604h1.1M345.1 620.3h1.1M447.5 617.4h1.1M384.4 612.3h1.1M374.5 621.3h1.1M415.7 624.7h1.1M481.6 603.4h1.1M418.5 623.9h1.1M396.6 619.1h1.1M325 618.4h1.1M378 623.8h1.1M381.9 621.8h1.1M454 615.5h1.1M452 600.2h1.1M317.3 617.9h1.1M403.2 615.6h1.1M404.3 627.3h1.1M366.9 625h1.1M440.7 608.9h1.1M395.9 629.3h1.1M364.7 620.2h1.1M413.8 602.4h1.1M424 617.5h1.1M420.8 608.7h1.1M463.4 610.3h1.1M443.7 618h1.1M341.1 611.1h1.1M399.5 623.2h1.1M339.8 611.2h1.1M466.4 603.3h1.1M379.7 614.1h1.1M397.4 610.8h1.1M415.5 623.5h1.1M398 626.9h1.1M407.3 626.4h1.1M364.5 613.4h1.1M402.9 622.4h1.1M403.6 627.5h1.1M385.6 618.9h1.1M387.8 630.3h1.1M413 624.9h1.1M381.9 621.6h1.1M411.5 617.5h1.1M358.3 626.8h1.1M338.7 602.4h1.1M349.1 626.4h1.1M383.2 626.8h1.1M401.6 615.3h1.1M412.1 625h1.1M387.1 613.8h1.1M433.7 617.7h1.1M378.6 607.4h1.1M399 628.6h1.1M378.9 618h1.1M352.4 626.6h1.1M378.6 630h1.1M421.4 600.9h1.1M485.5 605.9h1.1M376 627.7h1.1M384.1 629.9h1.1M396.8 622.6h1.1M426 615.4h1.1M345.1 622.8h1.1M358.4 621.5h1.1M351.3 618.5h1.1M413.6 624.7h1.1M434.3 619.7h1.1M435.1 602.8h1.1M326.5 602.5h1.1M355.2 607.8h1.1M420.9 618.7h1.1M436 614h1.1M396.4 614.1h1.1M414.5 623.9h1.1M371.9 619h1.1M397.3 622.8h1.1M408.5 617.1h1.1M412.9 622.5h1.1M363.4 616.2h1.1M474.9 610.8h1.1M448.6 602.7h1.1M387.9 617.2h1.1M461.2 604.5h1.1M365.4 605.1h1.1M408.7 605.1h1.1M395.2 629.5h1.1M422.5 614.4h1.1M402.7 597.6h1.1M352.1 624.2h1.1M367.3 620.3h1.1M372.5 600.6h1.1M386.2 615.7h1.1M377.5 618.2h1.1M441.6 617h1.1M418.2 619.8h1.1M404.6 602.7h1.1M488.1 604.1h1.1M394.3 628h1.1M299.2 606.5h1.1M340.7 616.2h1.1M405 604.4h1.1M381.7 625.4h1.1M379.9 630h1.1M398 628.5h1.1M352.6 624.9h1.1M386.4 619.8h1.1M395.7 629.3h1.1M462 612.1h1.1M389.5 629.4h1.1M355.2 626h1.1M370.4 626.8h1.1M424.8 602.3h1.1M387.3 624h1.1M397.3 611.3h1.1M312.7 616.2h1.1M375.4 625.6h1.1M389.1 630h1.1M384 630.2h1.1M394.6 627.1h1.1M395.8 628.8h1.1M426.9 607.4h1.1M395.6 629.4h1.1M406.3 612.3h1.1M343.5 623.9h1.1M472 610.5h1.1M385.5 622.3h1.1M422.5 616.9h1.1M410.9 625.8h1.1M431.2 620.5h1.1M396.6 628.4h1.1M444.5 608.5h1.1M425.9 616.7h1.1M381.8 602.4h1.1M350.6 626.4h1.1M384.2 623.4h1.1M378.6 608.2h1.1M425.7 611.7h1.1M340.4 605.5h1.1M394.1 628.7h1.1M396.6 615.2h1.1M333 622.7h1.1M470.4 600.1h1.1M359.3 610.6h1.1M394.2 629.2h1.1M365.9 625.3h1.1M375.1 625.8h1.1M408.7 613h1.1M381 622.9h1.1M365.6 626h1.1M384.7 607.9h1.1M433.5 619.9h1.1M363.5 608.5h1.1M385.8 624.3h1.1M357.1 623.3h1.1M378.8 604.3h1.1M442.6 611.5h1.1M395.8 623.7h1.1M406.7 625.3h1.1M394.4 620.3h1.1M415.3 618.1h1.1M455.1 613.9h1.1M427.9 610.6h1.1M407.6 603.5h1.1M403.9 621.6h1.1M397.9 626.7h1.1M356.9 625.8h1.1M402 615.6h1.1M417.3 602h1.1M338.4 603.7h1.1M395.8 629h1.1M447.7 614.4h1.1M405 617.3h1.1M445.3 614.9h1.1M359.6 628h1.1M468.2 610.7h1.1M421.2 622.3h1.1M364.6 625.2h1.1M425.9 619.9h1.1M299.9 610.2h1.1M394.4 626.5h1.1M367.2 601.4h1.1M407.9 622.4h1.1M387.9 610h1.1M373.2 619.8h1.1M415.6 609.8h1.1M385 625h1.1M437.6 602.4h1.1M434.2 618.1h1.1M384.5 626h1.1M371 629.4h1.1M393.2 629.8h1.1M461.4 604.6h1.1M431.7 620.4h1.1M379.2 625.4h1.1M417.2 624.4h1.1M388.1 615.8h1.1M404.6 627.3h1.1M421.5 612.7h1.1M386.3 625.1h1.1M379.3 600.7h1.1M355.3 612.2h1.1M364.4 628.7h1.1M399.1 603.3h1.1M352.4 601.2h1.1M403.7 608.5h1.1M346.8 623.1h1.1M458 614.9h1.1M419.8 612h1.1M379.9 629.2h1.1M454.4 613.5h1.1M369.2 628.3h1.1M353.8 613h1.1M408.1 626.5h1.1M375 619.4h1.1M414.7 607.1h1.1M419.7 597.2h1.1M337.7 606.6h1.1M381.5 630h1.1M358.4 625.8h1.1M435.1 613.9h1.1M404.3 609.7h1.1M396.6 624.4h1.1M383.4 629.7h1.1M382.3 629.7h1.1M332.8 620.4h1.1M430 621.5h1.1M374.1 626.7h1.1M381.2 614.5h1.1M409.9 624.3h1.1M291.9 606.9h1.1M384.2 609.9h1.1M364.5 613.4h1.1M410.3 616.9h1.1M400.6 606.4h1.1M494.5 606.1h1.1M360.1 621.7h1.1M411.1 622.7h1.1M426 597.8h1.1M357.7 625.2h1.1M379.4 626.9h1.1M400.6 609.8h1.1M333.8 619.1h1.1M355.3 626.2h1.1M367.7 617.6h1.1M395.9 614.5h1.1M349.8 626.4h1.1M376 624h1.1M363.1 615.9h1.1M361.3 607.5h1.1M394.4 629.1h1.1M436.7 616.7h1.1M389.7 625.6h1.1M306.8 609h1.1M363.4 601.3h1.1M381.3 628.5h1.1M320.1 612h1.1M446.6 616.8h1.1M389.5 627.5h1.1M445.1 617.9h1.1M387 630.1h1.1M368.1 624.3h1.1M399.5 626h1.1M442 617.6h1.1M447.4 603.2h1.1M364.5 627.7h1.1M374.1 623.7h1.1M381.5 596.1h1.1M370.2 610.8h1.1M382.2 629.2h1.1M459.1 605.6h1.1M377.4 609.9h1.1M379.7 629.7h1.1M346.3 617.3h1.1M317.5 613.8h1.1M439.9 619h1.1M382.4 610.2h1.1M399.1 622.4h1.1M428.6 606.2h1.1M422.7 615.5h1.1M450.9 605.7h1.1M410.1 623.7h1.1M445.1 608.8h1.1M356.4 615.5h1.1M426.1 619.4h1.1M363.2 626.3h1.1M427.3 621.7h1.1M411.9 600.6h1.1M400.1 628.2h1.1M370.6 625.3h1.1M429.8 606.6h1.1M408.2 626.2h1.1M400.1 627h1.1M438.6 619.2h1.1M433.1 617.1h1.1M376.7 613.5h1.1M398.4 614.8h1.1M379.9 620.4h1.1M477.4 610.4h1.1M418.6 622h1.1M342.6 599.4h1.1M378.4 622.3h1.1M310.2 606.9h1.1M461.9 608.7h1.1M395.8 617.7h1.1M338.6 612h1.1M424.4 621.8h1.1M413.7 606.4h1.1M383.4 627.8h1.1M337.9 610h1.1M349.3 626h1.1M374.3 609.3h1.1M395.5 625.2h1.1M295.1 607.9h1.1M417.3 624.4h1.1M383.1 613.9h1.1M387.3 602.8h1.1M397.2 611.4h1.1M395.6 621.9h1.1M372.6 618.2h1.1M434.2 616.9h1.1M397.3 627h1.1M399.1 627.8h1.1M323.1 609.6h1.1M377.1 610.1h1.1M429.8 616.3h1.1M388 629.8h1.1M430 604h1.1M416.2 622.1h1.1M395 629.4h1.1M368 626.6h1.1M363.4 628.3h1.1M347.6 620.4h1.1M361.1 613.1h1.1M460.9 612.8h1.1M441.2 618.3h1.1M377.4 620h1.1M417.4 610.3h1.1M435.9 617.5h1.1M376.6 625.5h1.1M341.2 615.4h1.1M411.6 614.3h1.1M381.4 609.7h1.1M368.8 615.1h1.1M363.8 620h1.1M412.8 600h1.1M337.6 619.2h1.1M345.3 625.4h1.1M374.5 614.9h1.1M329.6 621.8h1.1M367.3 623.5h1.1M446.9 607.9h1.1M348.2 620.4h1.1M358.6 627.1h1.1M379.9 630h1.1M393.8 628.9h1.1M465 611.4h1.1M418.2 621.8h1.1M377 610.3h1.1M378.8 594.9h1.1M357.3 622.8h1.1M351.6 626.3h1.1M410.9 622.5h1.1M382.7 616.3h1.1M384.7 596.5h1.1M343.4 608.5h1.1M419.8 603.3h1.1M365.1 625.5h1.1M397.9 614.6h1.1M331.2 606.6h1.1M366.5 624.9h1.1M379.4 625h1.1M394.2 624.1h1.1M398.8 622.7h1.1M311.8 613.3h1.1M379.2 624h1.1M342.7 615.1h1.1M453.1 615h1.1M411.6 624.9h1.1M350.6 624.3h1.1M339.5 617.5h1.1M381.1 630h1.1M430.7 616.6h1.1M363.8 605h1.1M428.7 620h1.1M403.2 620.2h1.1M417.3 603h1.1M447.5 606.1h1.1M360.3 597.6h1.1M413.6 598.1h1.1M328.1 621.2h1.1M429.2 617.3h1.1M424.4 599.9h1.1M393.5 629.8h1.1M408.5 626.3h1.1M415.5 617.1h1.1M403.6 624.8h1.1M402.6 623.3h1.1M378.1 629.7h1.1M369.7 625.1h1.1M424 609.2h1.1M400.6 609.3h1.1M385.5 624.6h1.1M462.2 613.9h1.1M356.8 604.2h1.1M416.7 619.4h1.1M400.2 613.6h1.1M374.9 627.1h1.1M411.4 623.1h1.1M403.3 598.9h1.1M464.5 612.1h1.1M344.5 625.3h1.1M371.2 629.4h1.1M381.4 608.8h1.1M397.3 601.6h1.1M352.2 602.8h1.1M436.7 616.8h1.1M393.4 627.3h1.1M312.4 609.1h1.1M380.2 603.8h1.1M370.6 614.5h1.1M428.7 609.1h1.1M407.2 608h1.1M427.1 621.2h1.1M405.6 623.8h1.1M455.7 613h1.1M388.1 624.2h1.1M427.7 610h1.1M405.3 615.9h1.1M417.6 621.5h1.1M312.3 608.1h1.1M388.2 627.9h1.1M408.2 611.2h1.1M455.4 609.6h1.1M351.7 613.5h1.1M394.8 629.6h1.1M390 629.8h1.1M372.4 628.9h1.1M412.3 625h1.1M400.3 604.3h1.1M379.9 629.3h1.1M413.5 603.9h1.1M417.6 622.3h1.1M355.5 611.6h1.1M337.2 612.9h1.1M383.1 624.7h1.1M389 628.6h1.1M414.4 610.2h1.1M360.9 606.5h1.1M294.6 606.3h1.1M394.2 629.6h1.1M438.3 608.2h1.1M387.9 629.3h1.1M355 614.8h1.1M433.8 601.2h1.1M402.3 597.6h1.1M377.4 614.8h1.1M413 619.2h1.1M342.3 612.8h1.1M313.6 611.2h1.1M403.6 627.5h1.1M393.9 629.3h1.1M357.2 626h1.1M376.1 618.5h1.1M336.3 620.7h1.1M362 628.5h1.1M350.4 626.6h1.1M398.5 613.9h1.1M349.5 603.1h1.1M378.3 625.7h1.1M373.6 603.5h1.1M412.4 621.8h1.1M393.2 630h1.1M409.2 610.8h1.1M451.6 615.8h1.1M441.5 617.5h1.1M402.4 627.6h1.1M383.9 622.7h1.1M384.6 630.2h1.1M419.1 617.1h1.1M423.9 609.6h1.1M425.5 619.5h1.1M329.6 619h1.1M417.1 622.8h1.1M425.2 612.8h1.1M351.6 610.1h1.1M311.8 612.2h1.1M389.8 630.3h1.1M377.3 605.6h1.1M344.5 613.4h1.1M432.3 610.6h1.1M434 605.5h1.1M333.7 612.1h1.1M364.3 626.9h1.1M368.4 625.2h1.1M316.6 613.9h1.1M422.4 600.3h1.1M370.2 628.9h1.1M368.6 625.8h1.1M419.2 614.4h1.1M390 628.1h1.1M421.9 608.1h1.1M297.1 610.2h1.1M380.6 622.5h1.1M376 605h1.1M375.4 607.3h1.1M382.6 628.7h1.1M400.7 614h1.1M363.2 628.6h1.1M394.4 629h1.1M396.2 619.9h1.1M370.6 625.6h1.1M448.2 616.7h1.1M397.5 627.4h1.1M402.1 617h1.1M421.1 622.8h1.1M307.9 614.4h1.1M485 604.4h1.1M375.4 600.4h1.1M413.1 622.7h1.1M432.9 617.5h1.1M387.7 629.1h1.1M473.8 611.2h1.1M380.2 628.3h1.1M409.9 626.1h1.1M397.3 615.6h1.1M354.8 624.1h1.1M352.6 622h1.1M349.2 613.4h1.1M351.1 611.6h1.1M350.7 598.5h1.1M360.1 601.9h1.1M418.7 610.8h1.1M374.2 614.1h1.1M372.1 621.8h1.1M348.6 623.9h1.1M405.4 624.6h1.1M396.8 628.5h1.1M440.1 605.7h1.1M375.6 625.9h1.1M430 615h1.1M367.1 606.8h1.1M371.7 623.8h1.1M362.7 623.8h1.1M310.3 615.3h1.1M371.7 607.7h1.1M420.7 615.9h1.1M420.4 623.5h1.1M367.8 610.8h1.1M369.7 617h1.1M453.8 613.8h1.1M378.9 627.9h1.1M419.2 619.6h1.1M427.2 618.2h1.1M421.3 602h1.1M403.3 613.4h1.1M396.1 611.3h1.1M421.3 621h1.1M371.2 625.5h1.1M436 619.8h1.1M372.2 602.9h1.1M352.4 625.6h1.1M399.1 613h1.1M357.7 618.7h1.1M409 612h1.1M358.6 612.4h1.1M401.8 626.4h1.1M395.9 616.4h1.1M451.4 605.2h1.1M447 602.6h1.1M298.2 605.2h1.1M386.4 612.5h1.1M348.4 599h1.1M423.3 612.4h1.1M353 622.5h1.1M401.7 626.7h1.1M389.9 628.5h1.1M423 607.8h1.1M383.3 627.8h1.1M331.6 621.5h1.1M421.1 615.9h1.1M417.2 622.9h1.1M455.8 613.6h1.1M371.7 625.2h1.1M405.5 627.1h1.1M388.6 622.2h1.1M398.3 611.9h1.1M373.9 629.3h1.1M311.5 614.1h1.1M372.2 628.9h1.1M381.2 613.4h1.1M375 610.8h1.1M384 623.9h1.1M374.2 629.2h1.1M347.9 625.7h1.1M401.4 609.8h1.1M353.7 622.2h1.1M397.4 611.4h1.1M339.1 617.9h1.1M378.5 629.8h1.1M379.7 609.9h1.1M413.1 621.6h1.1M424.7 609.7h1.1M422.9 620.7h1.1M351 619.8h1.1M378.3 614.5h1.1M430.4 611.7h1.1M383.8 626.5h1.1M356.3 619.9h1.1M343.5 620.7h1.1M337.6 611.9h1.1M447.9 599.4h1.1M411.7 607.3h1.1M385.8 613h1.1M438.3 615.8h1.1M422 623.3h1.1M413.1 624.6h1.1M450.6 615h1.1M408.5 609.9h1.1M418 624.1h1.1M404.7 618.7h1.1M427.3 621.9h1.1M366.6 626.4h1.1M393.8 629.8h1.1M380 629.9h1.1M387.1 620.7h1.1M335.3 623h1.1M375.9 628.1h1.1M409.1 624.5h1.1M454.9 613.7h1.1M387.3 602.5h1.1M404.8 615h1.1M411.7 614.5h1.1M419.6 618.1h1.1M357.9 619.1h1.1M400.9 628.2h1.1M359.7 607.3h1.1M334.6 610.3h1.1M398.4 626h1.1M379.4 628.5h1.1M425.8 619h1.1M360.4 621.4h1.1M397.8 626.6h1.1M398.7 612.4h1.1M379.8 612.1h1.1M360.5 603.3h1.1M462.7 613.9h1.1M474.1 610.6h1.1M367.3 626.6h1.1M371.8 620.2h1.1M331.9 615.2h1.1M446.5 607.5h1.1M326.2 617.9h1.1M409.8 608.6h1.1M439.4 617.9h1.1M353.7 611.9h1.1M371.8 594h1.1M398.3 628.8h1.1M347.9 625.4h1.1M347.6 624h1.1M409.4 626.2h1.1M486.9 608.2h1.1M388.4 625.9h1.1M361.3 615.8h1.1M429.9 608.5h1.1M381.8 627.9h1.1M378.3 629.9h1.1M426.3 601.9h1.1M337.7 622.8h1.1M376.1 608h1.1M313.7 615h1.1M407.5 624h1.1M333 602.7h1.1M374.7 629.4h1.1M371.5 606.1h1.1M384.4 614.5h1.1M412 622h1.1M413.2 606.2h1.1M343.3 617.4h1.1M394.8 622.1h1.1M443.7 609.8h1.1M350.8 622.6h1.1M337.1 620.8h1.1M387.6 629.1h1.1M387 620.6h1.1M360.4 617.1h1.1M425.7 605h1.1M353.1 596.9h1.1M437 617.3h1.1M378.5 626.3h1.1M401.9 627.6h1.1M409.7 623.2h1.1M355 625.6h1.1M378.6 629.1h1.1M350.1 603.8h1.1M380.8 614.7h1.1M363 602h1.1M416.2 620.1h1.1M365.1 626.5h1.1M422.1 619.3h1.1M354.5 613h1.1M423 620.1h1.1M334 614.9h1.1M408.4 611.9h1.1M438.4 619.3h1.1M381.9 626.6h1.1M397.1 628.9h1.1M360.6 599.2h1.1M402.7 627.2h1.1M342.6 624.2h1.1M406.1 621.1h1.1M406.4 625.5h1.1M387.8 629.6h1.1M395 625.9h1.1M333.1 622.7h1.1M467.4 601.7h1.1M382.2 626.9h1.1M438.9 619.4h1.1M424.1 622.6h1.1M294.2 608.5h1.1M443.9 615.3h1.1M468.7 612.4h1.1M364.7 626.9h1.1M359.7 621.8h1.1M436.2 612.3h1.1M438.3 617.1h1.1M367.8 625.8h1.1M387.1 599h1.1M399.3 622.2h1.1M355.3 627.4h1.1M348.2 606h1.1M423 607.7h1.1M462 613.7h1.1M420.5 619.6h1.1M426.7 619.2h1.1M385 616.5h1.1M351.4 601.3h1.1M451.1 614.5h1.1M459 608.4h1.1M371 629.3h1.1M338.9 612.3h1.1M420.5 620.2h1.1M369.4 621.6h1.1M364.2 617.1h1.1M412.7 625.5h1.1M318.2 607.3h1.1M352.7 613h1.1M291.4 607.4h1.1M405.5 617.7h1.1M299 610.6h1.1M383.9 624.5h1.1M394.1 629.8h1.1M344.7 623.3h1.1M367.8 612.1h1.1M389.9 630.2h1.1M394.4 625.5h1.1M403.2 612.5h1.1M380.1 623.5h1.1M437.2 607.5h1.1M450.8 604.7h1.1M406.7 612h1.1M367.9 623.4h1.1M397.9 613h1.1M380.5 621.5h1.1M329.4 607.5h1.1M407.9 626.4h1.1M451.4 607.1h1.1M383.2 598.4h1.1M411.3 617.2h1.1M412.9 624.1h1.1M405.6 623.9h1.1M350.9 624h1.1M406.1 607.5h1.1M349 626.3h1.1M415.9 622.1h1.1M370.4 628h1.1M436 606h1.1M431.6 605.7h1.1M379.1 605h1.1M440.4 608.1h1.1M411.2 620.1h1.1M425.1 600.6h1.1M386.4 628.9h1.1M384.4 624h1.1M366.4 621.1h1.1M467.6 611.8h1.1M474 610.8h1.1M356.1 612.9h1.1M461.2 608.9h1.1M326.6 601.5h1.1M425.2 622.4h1.1M366.1 618h1.1M408.3 624.5h1.1M364.3 608.8h1.1M340.4 621.3h1.1M304.6 606.1h1.1M390 629.8h1.1M446.5 606.3h1.1M331.4 603.7h1.1M363.6 607.9h1.1M402.8 622.5h1.1M423.6 609.6h1.1M451.3 616.3h1.1M385.7 623.6h1.1M413.2 621.6h1.1M379.8 616.2h1.1M380.9 606.2h1.1M419.4 621.7h1.1M331.6 607.1h1.1M400.8 618.6h1.1M357.6 613.1h1.1M291.4 607.6h1.1M386.5 598.3h1.1M388.1 627.9h1.1M332.1 610.8h1.1M346.9 608.8h1.1M474.1 610.3h1.1M382.6 630.1h1.1M450 603.3h1.1M398 598.7h1.1M397.7 618.3h1.1M411 625.1h1.1M419.2 605.4h1.1M376.3 620.5h1.1M370.5 611.4h1.1M423.2 603.8h1.1M381.8 630.1h1.1M461.3 614.2h1.1M393.4 629.8h1.1M439.7 608.4h1.1M434.3 617.8h1.1M479.1 609.1h1.1M411.5 603.8h1.1M396.8 622.2h1.1M345.6 625.7h1.1M341.6 624.8h1.1M396.3 616.9h1.1M403.9 617.6h1.1M395.9 628.7h1.1M398.8 628h1.1M427.2 618.5h1.1M368.8 626.7h1.1M375.4 613.1h1.1M366.1 620.8h1.1M387.9 628.6h1.1M404.9 624.8h1.1M385.8 599.3h1.1M384.7 616.7h1.1M366.8 603.4h1.1M366.6 602h1.1M319.7 606.2h1.1M399 627h1.1M452.2 604h1.1M389.9 630.1h1.1M327.4 606h1.1M400.7 625.4h1.1M382.8 616.8h1.1M445.6 609.3h1.1M442.3 612.4h1.1M444.1 600.6h1.1M399 622.1h1.1M429.4 617h1.1M394.5 628.1h1.1M415.5 623.2h1.1M375.4 621.2h1.1M423.2 621.9h1.1M437.8 618.8h1.1M352.5 611.9h1.1M350.1 624.5h1.1M439.2 615.8h1.1M386.5 628h1.1M465.7 613.2h1.1M348.5 626.2h1.1M472.5 610.3h1.1M450.9 609.6h1.1M348.5 607.4h1.1M352 626.8h1.1M455.1 615.1h1.1M462.9 613.8h1.1M358.8 627.6h1.1M442.3 616.6h1.1M363.2 607.8h1.1M367.1 597.2h1.1M421.5 604.3h1.1M366.8 602.2h1.1M333 622h1.1M349.6 600.1h1.1M410.2 620.2h1.1M323.7 618.1h1.1M437.1 616.4h1.1M395.6 628.3h1.1M315.4 601.8h1.1M428.8 621.6h1.1M445.8 612.4h1.1M406.4 624.4h1.1M346.3 597h1.1M323.7 612.1h1.1M386.8 607.8h1.1M383.6 604.4h1.1M384.4 602.4h1.1M377.9 629.8h1.1M361.9 607.4h1.1M368.4 607.4h1.1M319.7 618.2h1.1M381.1 602.2h1.1M397.1 622.9h1.1M395.8 629.1h1.1M309.8 607.8h1.1M417.3 624.2h1.1M346.3 625.1h1.1M437.2 611h1.1M376.3 621.8h1.1M492.1 607h1.1M356.5 620.3h1.1M371.4 629.2h1.1M471.8 609.4h1.1M333.3 616.1h1.1M347.5 619.7h1.1M438.3 616.8h1.1M355.1 626.1h1.1M407 623.5h1.1M425.1 622.6h1.1M314.8 614.7h1.1M394.1 627h1.1M420.6 622.1h1.1M383.1 614.2h1.1M366.6 620.8h1.1M298.7 605.4h1.1M385.3 616h1.1M374.6 621.2h1.1M380.8 619.5h1.1M416.8 609.4h1.1M397.3 628.7h1.1M413.1 618.4h1.1M300.5 610h1.1M411.5 614.6h1.1M337.3 623.7h1.1M410.4 601.2h1.1M360.9 617.7h1.1M394.2 625.8h1.1M337.5 620.3h1.1M385.3 629.3h1.1M439.9 609.6h1.1M463.4 613.6h1.1M409.7 612h1.1M462.4 612.7h1.1M401.4 621.1h1.1M407.7 616.8h1.1M328 603.7h1.1M410.8 607.7h1.1M425.1 621.2h1.1M417.3 623.6h1.1M386.7 602.7h1.1M346.3 598.1h1.1M372.3 616.7h1.1M400 607.6h1.1M377.1 623.3h1.1M388.1 626.8h1.1M374.2 617h1.1M336.2 618.1h1.1M411.1 625.4h1.1M395.6 629.4h1.1M376.6 595.7h1.1M430.9 620h1.1M342.3 606.2h1.1M393.7 627.1h1.1M402.8 626h1.1M363.4 619.2h1.1M382.2 617.5h1.1M416.3 610.8h1.1M385.7 624.8h1.1M452.8 612.4h1.1M357.1 624.4h1.1M325.6 618.4h1.1M373.9 629.4h1.1M389.1 619.8h1.1M455 606.5h1.1M379.9 624.7h1.1M423.3 618.9h1.1M395.1 622.6h1.1M340.9 608.7h1.1M441.4 613.2h1.1M494.2 605.7h1.1M355.4 627.3h1.1M373.1 616.3h1.1M452.4 616.2h1.1M442.1 608.6h1.1M347.4 616h1.1M445.7 612.6h1.1M346.2 624.2h1.1M386.1 629.8h1.1M371.1 627h1.1M380.4 614.7h1.1M395.6 628.5h1.1M422.5 598.1h1.1M394.9 618.7h1.1M440.3 614.6h1.1M385 623.3h1.1M359 628h1.1M413.4 605.3h1.1M362.6 600.6h1.1M363.1 621.7h1.1M364.3 611.5h1.1M377 615.1h1.1M421.6 620.8h1.1M384.9 628.1h1.1M340.7 620.8h1.1M414.9 620.2h1.1M395.5 625.1h1.1M417.6 623.9h1.1M425.4 605.2h1.1M381.7 621.7h1.1M350.3 619.9h1.1M328.7 608.5h1.1M428.3 620.4h1.1M379.7 626.2h1.1M384.8 629.8h1.1M397.3 614.1h1.1M403.7 619.2h1.1M388 614.4h1.1M439.9 602.1h1.1M400.8 614.7h1.1M415.3 624.8h1.1M372.2 629.3h1.1M387.5 629.2h1.1M380.7 629.3h1.1M374.3 615.3h1.1M414.1 624.4h1.1M395.8 613.6h1.1M378.6 607.6h1.1M484.7 606.6h1.1M403.6 619.5h1.1M396.7 624.5h1.1M424.1 601h1.1M343.7 622.9h1.1M398.4 611.5h1.1M451.4 607.6h1.1M371.2 628.8h1.1M375.2 629.7h1.1M411.8 607h1.1M460.9 614.2h1.1M400 622.8h1.1M420.4 623.7h1.1M469.6 607.6h1.1M389 629.4h1.1M427.8 621.6h1.1M473.5 603.7h1.1M364.1 619.3h1.1M356.9 627.7h1.1M369.4 599.2h1.1M457.3 604.5h1.1M427.1 613.1h1.1M397.8 598h1.1M388.5 624.5h1.1M385.3 630h1.1M463.4 607.2h1.1M357.2 600.3h1.1M420.5 599.2h1.1M423.7 622.1h1.1M373.4 620.8h1.1M339.8 624h1.1M384.5 620.8h1.1M328.9 621.3h1.1M389.9 627.9h1.1M379.8 603.7h1.1M394.5 624.1h1.1M340.1 622h1.1M411.9 620.2h1.1M403.9 615.6h1.1M418.3 619.7h1.1M369.6 603.7h1.1M417.6 608.7h1.1M386.7 604.2h1.1M397.7 624.4h1.1M419.3 619.1h1.1M343.3 611.7h1.1M379.3 629.7h1.1M362.6 627.9h1.1M403.3 621.3h1.1M445.3 599.7h1.1M350.6 600.1h1.1M394.2 626.7h1.1M379.9 608.4h1.1M421.7 623.1h1.1M425.2 614.4h1.1M426.8 620.2h1.1M381.5 626.7h1.1M362.6 624.4h1.1M432.9 615.7h1.1M469.2 609.6h1.1M426.5 617.1h1.1M379 628.3h1.1M409.2 622.6h1.1M450.9 601.6h1.1M349.9 619.1h1.1M363.1 625.3h1.1M388.8 629.6h1.1M382.2 628.5h1.1M378.8 623.4h1.1M410.8 625.6h1.1M389.8 630.1h1.1M428.1 621.5h1.1M406.6 625.6h1.1M345.6 622.7h1.1M385.7 605.3h1.1M380.2 622.8h1.1M383.9 600h1.1M399.9 616.8h1.1M406.2 612.2h1.1M377.5 617.7h1.1M360.6 620.4h1.1M370.1 622.5h1.1M354.2 624.4h1.1M397.1 610.4h1.1M361.4 627.4h1.1M397.9 603.9h1.1M398.4 615.9h1.1M371.2 628h1.1M473.6 610.8h1.1M389 627.2h1.1M384.1 630.2h1.1M389 619.6h1.1M387.8 604.2h1.1M348.2 621.7h1.1M445.6 615.8h1.1M397.4 627.2h1.1M365 615.3h1.1M399.1 623.3h1.1M361.9 616.1h1.1M400 597h1.1M371.8 613.1h1.1M360.9 628h1.1M317.3 617.5h1.1M463.7 602.7h1.1M440.8 616.3h1.1M369.5 626.3h1.1M383.4 628.4h1.1M327.7 610h1.1M418.1 620.3h1.1M434.1 619.2h1.1M422.1 622.8h1.1M414.5 618.8h1.1M424.7 621.5h1.1M472.7 607.7h1.1M361.4 628.3h1.1M338.5 600.5h1.1M435.7 606.7h1.1M415.4 624.3h1.1M373.1 627.8h1.1M389.5 630.3h1.1M418.1 599h1.1M358.7 627.9h1.1M469.1 608.1h1.1M353.1 626.9h1.1M403.2 613h1.1M369.8 596.5h1.1M400.6 610h1.1M360.9 627.7h1.1M377.1 629.7h1.1M454 602h1.1M423 616.7h1.1M418.1 616h1.1M421.3 596.5h1.1M338.2 606.5h1.1M453.9 607.5h1.1M435.1 616.6h1.1M436.7 615.8h1.1M367.3 602.6h1.1M386.2 624.4h1.1M418.5 620.1h1.1M403.1 612.9h1.1M397.2 623.2h1.1M401 607.8h1.1M388.6 608h1.1M441.8 616.2h1.1M430.6 608.2h1.1M334.9 602h1.1M453.9 611.6h1.1M382.3 630.1h1.1M423.4 605.5h1.1M408.3 622.9h1.1M396.7 629.1h1.1M360.2 621.2h1.1M400.9 619.2h1.1M397.4 623.4h1.1M351.6 625.7h1.1M425.7 618h1.1M372.5 629.5h1.1M395 615.6h1.1M400.4 616.1h1.1M419.5 620.4h1.1M432 615.6h1.1M364.6 604.5h1.1M368 603.1h1.1M397.4 628.5h1.1M423.8 622.5h1.1M479.6 609.9h1.1M437.4 616.2h1.1M484.9 608.7h1.1M370.5 620.2h1.1M421.9 622.1h1.1M444.7 617.2h1.1M353.1 607.6h1.1M387.4 603.1h1.1M398.9 624.8h1.1M345.4 612.4h1.1M395.5 627.5h1.1M384.9 594.9h1.1M376.9 629.8h1.1M364.5 628.6h1.1M376.1 621.1h1.1M355.3 609.3h1.1M443 613.3h1.1M399.7 611.1h1.1M312.3 609.5h1.1M454.1 613.7h1.1M433.2 618.3h1.1M472.5 611.5h1.1M408.3 616.9h1.1M446.6 603.2h1.1M427.1 613.7h1.1M353.2 608.3h1.1M388.5 626.9h1.1M379.2 629.6h1.1M356.6 625.6h1.1M468.4 601h1.1M432.6 606h1.1M367.6 620.8h1.1M412.6 622.3h1.1M382.8 596.7h1.1M429.5 620h1.1M388.1 602.8h1.1M479.8 609.5h1.1M398.6 628.1h1.1M419.8 622.5h1.1M377.4 607.3h1.1M475.2 608.6h1.1M363.2 622.7h1.1M322.9 609.3h1.1M401.8 604.4h1.1M377.8 629.1h1.1M375.7 629.6h1.1M355.8 604.8h1.1M326.8 619.4h1.1M397.3 605.5h1.1M482.1 605.8h1.1M328.7 621.4h1.1M336.3 622.4h1.1M403.2 616.7h1.1M345.3 625.4h1.1M386.3 628.8h1.1M383.5 607.3h1.1M381.3 607.2h1.1M386.9 628.8h1.1M344.8 598.6h1.1M369 612.5h1.1M383.6 603.5h1.1M424.2 622.5h1.1M316 606.2h1.1M337.1 623.7h1.1M399.9 609.5h1.1M395.9 625.2h1.1M402.5 623.6h1.1M374.1 605h1.1M400.1 604.3h1.1M412.4 624.3h1.1M385 618.9h1.1M389.1 629.2h1.1M382.8 628.8h1.1M439 614.2h1.1M449 609.5h1.1M477.9 610.1h1.1M375.7 629.3h1.1M376.1 629.5h1.1M406.3 624.8h1.1M432.7 619.7h1.1"/>
<path stroke="#cccccc" stroke-width="1.1" d="M404.6 621.8h1.1M367.6 620.5h1.1M421.6 618.5h1.1M387.3 625.6h1.1M377.4 611.4h1.1M330.6 622h1.1M411.8 623.4h1.1M381.4 630h1.1M385.8 625.8h1.1M379.8 615.4h1.1M379.9 626.2h1.1M364.2 624.6h1.1M340.7 623.9h1.1M304.1 611h1.1M444.7 616.5h1.1M415.4 624.1h1.1M454.6 615.4h1.1M359.5 624.2h1.1M368 628.8h1.1M433.8 604.5h1.1M358.8 595.3h1.1M494.6 605h1.1M371.3 616.8h1.1M393.7 629h1.1M333.6 622.8h1.1M357.1 622.7h1.1M407.4 608.7h1.1M312 608.7h1.1M483.4 608.5h1.1M345.6 609h1.1M363.7 617.2h1.1M396.8 628.8h1.1M428 603.8h1.1M339.6 619h1.1M412.5 613.4h1.1M385.5 620.5h1.1M417.7 612h1.1M386.7 616.2h1.1M449 613.1h1.1M410.8 623.3h1.1M435.3 602.2h1.1M394.7 624.5h1.1M472.9 611.5h1.1M375.9 628.4h1.1M402.8 627.7h1.1M380.8 598.3h1.1M339.3 624.3h1.1M384.2 621.7h1.1M459.8 613.2h1.1M435.7 615.1h1.1M341.8 616h1.1M396.3 625.7h1.1M378.5 627.7h1.1M343 616.9h1.1M412.7 608.2h1.1M349.3 607.8h1.1M442.7 616.2h1.1M385.5 622.6h1.1M421.2 605.6h1.1M388.8 619.1h1.1M439.4 606.7h1.1M338.8 623.1h1.1M410.6 614.9h1.1M389.4 618.7h1.1M423.9 597h1.1M396.6 629.1h1.1M292.6 605.2h1.1M402.9 616.7h1.1M399.8 616.7h1.1M486.7 607.5h1.1M372.1 628.3h1.1M357.8 615.5h1.1M443.2 618.4h1.1M460 610.8h1.1M424.2 621.6h1.1M380.1 626.9h1.1M427 598.6h1.1M367.3 612.9h1.1M445.7 617.8h1.1M399.8 616.6h1.1M431.9 615.9h1.1M470.7 607.6h1.1M344.4 602.7h1.1M389.7 629h1.1M382.2 606.2h1.1M451.8 612h1.1M301.4 603.9h1.1M383.7 627.1h1.1M381.3 594.8h1.1M411.8 625.6h1.1M353.5 617.3h1.1M432.5 618.2h1.1M412.1 609.2h1.1M355.1 602.4h1.1M402.7 627h1.1M456.2 606.1h1.1M407.4 626h1.1M388.4 615.1h1.1M424.8 619.3h1.1M399.7 611.8h1.1M366 605.7h1.1M383 629.4h1.1M408.6 617.9h1.1M398.2 616.6h1.1M380.9 613.1h1.1M462 611.4h1.1M342.3 603.9h1.1M408.1 609.2h1.1M375.1 622.7h1.1M407 619.5h1.1M412.6 624.9h1.1M410.6 614.4h1.1M367 628.5h1.1M402.1 626.5h1.1M384.5 627.7h1.1M476.6 610.6h1.1M386.9 613.1h1.1M380.7 630h1.1M454.6 613.7h1.1M343.5 616.8h1.1M399.4 599.8h1.1M426.7 607.5h1.1M370.4 618.7h1.1M376.9 619.1h1.1M349.8 608h1.1M405.3 622.3h1.1M389.7 626.1h1.1M495.6 604.8h1.1M321.9 617.7h1.1M413.2 601.3h1.1M437.1 599h1.1M367.6 599.1h1.1M353.1 626.7h1.1M437.2 613.1h1.1M429 600h1.1M385.1 627.4h1.1M432.3 609.9h1.1M385.7 627.5h1.1M381.3 613.8h1.1M435.3 613.8h1.1M440.1 607.6h1.1M383.8 614.2h1.1M381 598.3h1.1M293.3 607.3h1.1M357.4 627.7h1.1M290.6 606.9h1.1M433.8 604.3h1.1M393.9 629.7h1.1M354 616.4h1.1M394.7 629.6h1.1M398.6 628.7h1.1M389.6 628.5h1.1M404.8 626.4h1.1M444.2 616h1.1M382.8 608.7h1.1M370.4 620.5h1.1M428.2 607.2h1.1M365.6 623.1h1.1M404.9 618h1.1M385.8 621.4h1.1M412.9 619.2h1.1M432.6 603.6h1.1M374.7 626h1.1M321.2 613.4h1.1M387.8 624.5h1.1M395.5 628.9h1.1M388.5 627.1h1.1M376.3 601h1.1M395.9 622h1.1M383 614.5h1.1M368.2 604.9h1.1M403.8 614.3h1.1M399.4 627.5h1.1M355.5 616.3h1.1M396.9 617.5h1.1M315.7 613.8h1.1M314.3 616.3h1.1M361.9 611.2h1.1M369.4 622.4h1.1M349 625.9h1.1M423.4 621.8h1.1M416.9 605h1.1M347.7 625.9h1.1M398.2 628.4h1.1M423 622.7h1.1M412.4 621.9h1.1M311.5 613.7h1.1M375.5 627.1h1.1M327.2 619.4h1.1M387.9 615h1.1M429.4 621.2h1.1M383.8 626.5h1.1M412.2 617.3h1.1M363.8 626.7h1.1M400.3 617.1h1.1M365.4 600.6h1.1M389 625.1h1.1M438 615.1h1.1M439.7 617.7h1.1M359.1 618.3h1.1M356.7 624.1h1.1M384.8 607.9h1.1M406.5 619.1h1.1M383.9 627.7h1.1M428.1 614.1h1.1M363 627.5h1.1M440.2 618.6h1.1M319 609.7h1.1M447.7 615.6h1.1M428.7 618.5h1.1M419.7 612.1h1.1M373.7 629.2h1.1M372.9 605h1.1M384.3 606.4h1.1M317.9 609.6h1.1M422.8 623.1h1.1M340.9 620.8h1.1M348.7 616h1.1M403 608h1.1M401.9 601h1.1M395.9 628.3h1.1M393.6 627.3h1.1M421.7 620h1.1M358.8 607.7h1.1M386.2 609.9h1.1M408.8 618.1h1.1M399.3 626.4h1.1M342.2 621.1h1.1M411.8 618.6h1.1M403.2 614.7h1.1M364.7 623.4h1.1M405.8 622.8h1.1M340.4 622.2h1.1M402.3 627.2h1.1M450.4 615.7h1.1M352 623.4h1.1M433.3 619.4h1.1M360.9 626.5h1.1M419.4 619.9h1.1M452.2 612.6h1.1M348.3 625.3h1.1M490.6 605.5h1.1M400.4 606.5h1.1M415.7 623.5h1.1M396.5 613.1h1.1M393.9 628.7h1.1M429.3 602.5h1.1M380.7 625.2h1.1M404.8 604.9h1.1M432.1 613.4h1.1M383 610.2h1.1M419.3 623.6h1.1M420.5 613.5h1.1M383 615.6h1.1M404.4 621.5h1.1M357 622.3h1.1M415.4 607h1.1M425.9 622.4h1.1M440 619.1h1.1M384.1 630h1.1M426.8 604.3h1.1M403.3 623.2h1.1M382.6 623.2h1.1M385.1 629h1.1M429.5 615.1h1.1M449.9 616.6h1.1M397 629.1h1.1M365.8 595.1h1.1M330.5 608.1h1.1M475.4 604.4h1.1M427.8 616.1h1.1M386.7 609.9h1.1M438.1 616.8h1.1M469.4 603.3h1.1M436.8 603.2h1.1M437 619.8h1.1M452.9 616h1.1M368.3 629.2h1.1M481.9 608.2h1.1M439.5 610h1.1M343.3 625.2h1.1M350.8 626.4h1.1M336.5 617.4h1.1M380.8 622.7h1.1M365.9 603.4h1.1M406.6 614.1h1.1M419 612.3h1.1M354.2 626.9h1.1M343.9 598.3h1.1M305.4 612.8h1.1M348.4 615.1h1.1M388.3 626.2h1.1M432.5 602.5h1.1M330.8 622.1h1.1M446.8 617.5h1.1M381.7 615h1.1M398.8 607.4h1.1M314.9 609.1h1.1M424 622.6h1.1M396.5 628.5h1.1M385.2 626.7h1.1M354.7 620.3h1.1M377.7 626.1h1.1M426.4 614.5h1.1M473.6 610.9h1.1M298.4 603.1h1.1M386.9 624.8h1.1M399.9 617.9h1.1M374 618.5h1.1M432.2 620.5h1.1M324.5 620.3h1.1M356.5 610.1h1.1M427 603.8h1.1M363.4 621.8h1.1M421.8 623.1h1.1M357.7 626.8h1.1M398.4 620.6h1.1M351.7 609.7h1.1M382.5 600h1.1M410.7 623.2h1.1M441.3 616.2h1.1M350.1 626.4h1.1M381.8 604.4h1.1M353 611.3h1.1M428.2 621.3h1.1M424.5 609.1h1.1M481.9 609h1.1M382.7 627h1.1M417 623.4h1.1M402.8 625.7h1.1M394.1 629.2h1.1M387.8 614.9h1.1M373.3 603.9h1.1M395.1 618.4h1.1M363.5 609.8h1.1M356.6 611.7h1.1M388.1 604h1.1M375 619h1.1M471.5 602.7h1.1M422.2 620.1h1.1M457.2 608h1.1M387.4 630h1.1M394.8 622h1.1M411.8 607.9h1.1M413.2 617.9h1.1M366.3 605.9h1.1M411.4 610.4h1.1M407.9 626.5h1.1M348.2 624.6h1.1M423.3 622.4h1.1M363.4 607.6h1.1M420.7 619h1.1M395.8 629.3h1.1M450.5 598h1.1M374.6 629.7h1.1M384.7 610.2h1.1M346.4 611.2h1.1M368.7 619.4h1.1M423.4 621.9h1.1M388.8 615.8h1.1M292 607.4h1.1M357.2 624.8h1.1M386.8 629.3h1.1M446.5 617.6h1.1M410.8 624.8h1.1M388.7 618.9h1.1M384.2 629.3h1.1M387.6 605.2h1.1M317.2 616.5h1.1M444.6 617.9h1.1M421.2 621.3h1.1M492.4 607h1.1M330.1 602.4h1.1M375.5 625.3h1.1M406 612h1.1M447 617.5h1.1M383.5 627.2h1.1M337.9 607.9h1.1M406.2 626.7h1.1M431.5 615.2h1.1M426.7 617.1h1.1M404.4 611.2h1.1M385.9 625.5h1.1M433.8 598.9h1.1M461.4 608.7h1.1M387.9 628.5h1.1M380.6 619h1.1M304.9 610.7h1.1M402.3 621h1.1M449.6 616.4h1.1M354.4 598.1h1.1M386.8 603.5h1.1M323.6 617.3h1.1M385.8 609h1.1M353.5 596.4h1.1M400.7 605.1h1.1M425.1 619.8h1.1M383.3 621h1.1M405.6 622.6h1.1M397.7 628.9h1.1M428.8 612.3h1.1M378.8 629.4h1.1M378.3 612.6h1.1M373.1 610.8h1.1M373.8 604.6h1.1M454.4 613.6h1.1M322 605h1.1M365.3 602.3h1.1M483.6 609h1.1M380.8 616h1.1M461.5 612.6h1.1M309.7 611h1.1M394.6 622.4h1.1M360.7 606.6h1.1M368.4 612.9h1.1M405.7 601.3h1.1M394.9 619.9h1.1M421 610.4h1.1M421.2 622.8h1.1M353.6 605.3h1.1M377 622.4h1.1M366.4 612.8h1.1M455.3 608.6h1.1M360.6 627.1h1.1M414.5 624.4h1.1M417.2 622.5h1.1M389.6 629.4h1.1M411.7 625.7h1.1M462 613h1.1M449.8 612.8h1.1M374.1 621.1h1.1M387.6 625.9h1.1M389 626h1.1M376.8 617.2h1.1M388.2 604.9h1.1M398.4 628.6h1.1M316.7 614.4h1.1M335.4 607.1h1.1M323.3 616.3h1.1M342.8 624.8h1.1M415 615.1h1.1M427.1 619.8h1.1M423.4 615.8h1.1M477.3 609.2h1.1M409.9 617.5h1.1M374.1 624.1h1.1M434.1 603.2h1.1M323.3 607.4h1.1M399.4 604.5h1.1M385.4 618.2h1.1M402.8 611.2h1.1M492.3 605.8h1.1M426.1 621.5h1.1M334.5 619.9h1.1M360.5 627.9h1.1M422.2 623.2h1.1M384.4 622.1h1.1M435.5 602.8h1.1M430.8 620.7h1.1M349.3 598.8h1.1M317.7 600.4h1.1M354.4 620.7h1.1M422.3 615.4h1.1M343.1 603.3h1.1M399 621.8h1.1M468.4 610.2h1.1M387.9 620.9h1.1M469.6 604.9h1.1M351.7 606.4h1.1M353 617.8h1.1M374.8 628.7h1.1M402.7 627.6h1.1M378.3 615.4h1.1M413.4 613.9h1.1M395.1 620.4h1.1M456.3 601.5h1.1M341.4 624.6h1.1M431.7 612h1.1M425.8 614.1h1.1M341.3 603.2h1.1M352.4 626.4h1.1M437.5 610.4h1.1M368.3 610.1h1.1M379.1 622.2h1.1M342.5 604.5h1.1M423.4 621.2h1.1M424.7 618.3h1.1M382.9 630.1h1.1M326 606h1.1M444 611.5h1.1M393.6 626.5h1.1M377.2 629.5h1.1M386.1 605.8h1.1M367.3 627.1h1.1M369.2 619.1h1.1M407.9 625.6h1.1M383.8 626.7h1.1M364.9 611.6h1.1M382.8 624.5h1.1M432.4 618.9h1.1M398.1 604.5h1.1M318.9 616.9h1.1M418.3 624.1h1.1M317.5 616.9h1.1M439.4 613.5h1.1M394.8 628.5h1.1M341.8 622.2h1.1M409.4 621.7h1.1M417.7 609h1.1M406 616.9h1.1M482 607h1.1M405.1 599.2h1.1M371.5 628.3h1.1M406.4 613.6h1.1M440.1 611.6h1.1M329.7 621.6h1.1M400.3 622.8h1.1M352.7 618.7h1.1M394.1 627h1.1M382.5 615.5h1.1M403.4 614.3h1.1M395.5 629.2h1.1M327.8 614.9h1.1M372 627h1.1M411 617.8h1.1M329.6 621.8h1.1M384.1 614.4h1.1M361.3 619.7h1.1M386.7 628.7h1.1M384 612.1h1.1M397.7 619.3h1.1M386.6 602.4h1.1M313.3 616.5h1.1M367 602.7h1.1M385.5 616.2h1.1M346.9 600.2h1.1M428.4 620.1h1.1M387.3 627.8h1.1M379 596.8h1.1M420.8 614.8h1.1M316.7 612.5h1.1M407.8 620.7h1.1M377.6 602h1.1M431.2 621.1h1.1M423.1 617.8h1.1M380.7 621.2h1.1M339.7 613h1.1M418.1 613.4h1.1M371.4 614.3h1.1M413.9 624.3h1.1M422.4 622.9h1.1M404.3 606.6h1.1M348.3 616.5h1.1M394.6 621.8h1.1M316.9 610.6h1.1M354.1 602.4h1.1M431.3 603.5h1.1M339.5 622.5h1.1M401.9 626.6h1.1M369.5 616.5h1.1M366.2 621.4h1.1M401 626.4h1.1M370.2 629.1h1.1M409.7 600.6h1.1M361.7 627.2h1.1M377.1 626.9h1.1M425.6 615.6h1.1M403.5 611.9h1.1M401 608.4h1.1M345.9 625.6h1.1M347 612h1.1M420.7 622.6h1.1M388.6 630h1.1M426.5 605h1.1M467.2 607.6h1.1M398.5 615.4h1.1M439.1 619.2h1.1M300.4 611.5h1.1M364.2 613.1h1.1M426.8 615.5h1.1M361.1 628.2h1.1M414.6 624.5h1.1M357.6 599.2h1.1M461.6 614h1.1M357.5 625.5h1.1M338.8 604h1.1M439.6 604.1h1.1M436.1 603.6h1.1M415.1 619.5h1.1M438.4 601.2h1.1M357 617.3h1.1M462.2 608.2h1.1M377.7 628.8h1.1M326.9 619.6h1.1M359.5 622.8h1.1M382 627.4h1.1M396.4 629.2h1.1M469.5 602.1h1.1M476.3 605.6h1.1M380.5 629.6h1.1M395.6 628h1.1M413.1 621.6h1.1M424.7 618.5h1.1M406.6 613.8h1.1M443.4 612.7h1.1M424 605.3h1.1M489 607.8h1.1M461.9 613.7h1.1M304.8 604.5h1.1M399.7 619.7h1.1M396.2 617.3h1.1M389 626.7h1.1M414.6 601.8h1.1M383.2 612h1.1M339.9 623.9h1.1M372.5 604.4h1.1M443.3 613.2h1.1M362.7 625.4h1.1M345.8 623.7h1.1M351.4 621.2h1.1M334.2 608.7h1.1M436.5 619.8h1.1M380.5 630h1.1M479 609.7h1.1M394.2 629.7h1.1M433.3 610.2h1.1M408 626.3h1.1M398.3 605.7h1.1M372.6 605h1.1M393.6 629h1.1M407.5 626.1h1.1M408.1 614.5h1.1M386.5 628.9h1.1M352.1 616.1h1.1M413 625.3h1.1M410.8 608.6h1.1M424.3 617.7h1.1M364.6 628.1h1.1M421.5 598.6h1.1M351.3 602.6h1.1M379.6 606.9h1.1M363.2 628.4h1.1M347.6 620h1.1M367.6 620.6h1.1M405.3 615.2h1.1M415.5 617.5h1.1M389.7 624.6h1.1M385.3 623.6h1.1M367.5 614h1.1M426.7 616h1.1M411 621.8h1.1M448.9 613h1.1M363.1 601.2h1.1M438.1 609.7h1.1M316.2 617.1h1.1M462.9 613.6h1.1M357.3 606.6h1.1M446.4 616.6h1.1M369.7 624.5h1.1M406.7 617h1.1M395 626.3h1.1M412.9 624.9h1.1M378.3 610h1.1M381.2 625.6h1.1M356.4 603.5h1.1M302.8 612.3h1.1M393.5 629.8h1.1M440.5 614h1.1M351.4 620.8h1.1M354.5 623.6h1.1M459.4 608.1h1.1M382.4 629.7h1.1M377.2 629.1h1.1M405 624.8h1.1M397.2 610.8h1.1M371 625.1h1.1M388.6 630.3h1.1M398.7 614.5h1.1M372.9 604.5h1.1M379.5 629h1.1M351.3 624.4h1.1M397.3 628.1h1.1M325.4 614.5h1.1M382.7 609.1h1.1M368.4 609.4h1.1M339 621.2h1.1M417.4 623.1h1.1M356.5 619.5h1.1M360.4 614.1h1.1M375.2 598.8h1.1M410.3 624h1.1M432.5 615.9h1.1M434.4 617.6h1.1M384 606.9h1.1M355.2 606.3h1.1M372 625.9h1.1M386 599.9h1.1M445.3 616.4h1.1M325 603.5h1.1M438.6 614h1.1M335 622h1.1M368.6 629h1.1M376.3 612.6h1.1M386.7 607.8h1.1M436.3 610.4h1.1M403.3 610.1h1.1M338.2 615.2h1.1M326.9 618.5h1.1M404.9 603.4h1.1M389.5 622.1h1.1M409.9 617.6h1.1M448.5 616.8h1.1M357.7 626.3h1.1M338.7 620.2h1.1M397.2 599.4h1.1M305.4 612.3h1.1M332 622.2h1.1M402.4 608.1h1.1M414.1 615.2h1.1M394.3 629.6h1.1M428.5 616.1h1.1M416.6 621.1h1.1M365 625h1.1M381.5 630h1.1M404.9 620h1.1M353.9 620h1.1M434.6 615.6h1.1M420.8 604.8h1.1M338.9 614.3h1.1M409.9 612.1h1.1M372.7 623h1.1M385.5 616.6h1.1M379.5 628.7h1.1M382.5 621.1h1.1M395.6 623h1.1M437.4 616.2h1.1M420.4 623.7h1.1M363.3 616.5h1.1M398.1 627.5h1.1M387.9 626.1h1.1M431.5 616.1h1.1M406.2 604.2h1.1M401.1 627.8h1.1M364.7 625.7h1.1M387.2 628.8h1.1M480.6 603.8h1.1M396.2 629.3h1.1M446.9 615.9h1.1M382.4 607.1h1.1M358.1 603.9h1.1M389.6 628.1h1.1M452.4 615.1h1.1M453.5 615.3h1.1M291.6 607.7h1.1M406.2 626.5h1.1M401.8 610.6h1.1M433.6 619.3h1.1M428.2 620h1.1M419 614.9h1.1M388.5 623.1h1.1M406.9 603h1.1M385.8 626.1h1.1M444.6 607.3h1.1M389 616.2h1.1M375.8 610h1.1M416.8 610.3h1.1M369.9 618.2h1.1M384.9 611.9h1.1M385 602.9h1.1M374.5 623.9h1.1M399.3 626h1.1M357 621.2h1.1M375.3 621.4h1.1M384.4 625.4h1.1M382.5 624.4h1.1M402.5 612.5h1.1M408.8 625.7h1.1M387.5 627.9h1.1M440 616.5h1.1M388.8 628.6h1.1M360.6 622.5h1.1M447.8 617.3h1.1M424.7 601.1h1.1M409.1 617.5h1.1M405.7 624.9h1.1M349.8 607h1.1M422.2 612h1.1M483.8 608.9h1.1M374.3 602.7h1.1M343.9 615.9h1.1M348.7 614.7h1.1M436 610h1.1M410.2 605.6h1.1M400.8 626.8h1.1M364.1 621.7h1.1M408.4 616.1h1.1M380.3 628.5h1.1M349.4 604h1.1M354.6 600.4h1.1M337.9 621.4h1.1M351.9 617.4h1.1M404 625.8h1.1M450.8 612.5h1.1M416.6 605.8h1.1M406.2 621.5h1.1M438.2 619.5h1.1M291.3 607.6h1.1M351.6 617.8h1.1M417.7 611.6h1.1M388.5 612.2h1.1M385.5 609h1.1M398.5 617.3h1.1M394.3 626.5h1.1M333.5 617.5h1.1M427 618h1.1M426.3 620.4h1.1M371.2 628.7h1.1M395.7 629.1h1.1M395.9 627.9h1.1M300.6 606.1h1.1M289.3 606.5h1.1M399.4 613.5h1.1M350.8 600.4h1.1M363 602.4h1.1M361.5 627.5h1.1M370 627h1.1M341 614.1h1.1M316.5 611.6h1.1M398.4 627.8h1.1M400.8 623h1.1M466.4 606.5h1.1M350.6 611.6h1.1M416.6 624.4h1.1M380.2 627.5h1.1M398.3 606.5h1.1M413.9 622.6h1.1M411.8 625.6h1.1M352.7 597.8h1.1M473.7 606.8h1.1M450.1 614.6h1.1M371.5 628.9h1.1M349.9 625.9h1.1M362.2 628.2h1.1M308.8 605.5h1.1M342 612.3h1.1M386.8 629.6h1.1M327.8 620.6h1.1M389.8 628.6h1.1M382.6 620.9h1.1M407.5 618.7h1.1M334.6 620h1.1M361.7 627.7h1.1M400.1 619.3h1.1M346.2 607h1.1M418.2 622.9h1.1M471.5 609.7h1.1M453.9 610.8h1.1M394.3 629.7h1.1M395.3 621.3h1.1M408.6 620.2h1.1M456.4 614.8h1.1M382.6 603.2h1.1M393.8 629.1h1.1M414.1 624.7h1.1M410 617.1h1.1M317 617.5h1.1M388 628.3h1.1M414.7 612.5h1.1M378.2 628.1h1.1M361.9 628.2h1.1M381.4 601.9h1.1M421 614.8h1.1M410.4 606.5h1.1M416.6 623.6h1.1M438.7 617.5h1.1M424 618.8h1.1M379.1 622.7h1.1M389 626.7h1.1M292.4 607.8h1.1M349.1 626.3h1.1M383 623.2h1.1M340.2 607.5h1.1M354.8 624.7h1.1M425.1 622.4h1.1M401.9 619h1.1M393.6 626.7h1.1M353.7 623.8h1.1M381 627.9h1.1M434.6 620.1h1.1M349.1 626.2h1.1M439.3 618.3h1.1M440.5 602.3h1.1M428.6 617.9h1.1M384.3 621.1h1.1M365.2 609.2h1.1M350.8 605.1h1.1M409.4 619.6h1.1M406 610.7h1.1M387.5 609.6h1.1M421.9 623.1h1.1M395.4 627.1h1.1M379.3 628.9h1.1M394.1 629.5h1.1M396.2 616.4h1.1M405 603.8h1.1M385 621.9h1.1M351.1 626.7h1.1M373.1 608.2h1.1M447.9 606.1h1.1M404.9 621.5h1.1M375.6 625.2h1.1M347.4 615.7h1.1M341.2 622h1.1M384.7 603.8h1.1M453.9 607.8h1.1M409.1 616.2h1.1M410.3 613.2h1.1M335 621.7h1.1M385.9 621.8h1.1M405.5 625.8h1.1M449.9 615.6h1.1M345.7 611.6h1.1M388.2 620.6h1.1M435.3 618.5h1.1M439 605.4h1.1M383.6 624.5h1.1M444.2 606h1.1M294.8 608.8h1.1M354.2 599.6h1.1M437.8 619.5h1.1M386 624.5h1.1M443.6 606.5h1.1M386.5 623.6h1.1M458.9 605.3h1.1M472.9 611.5h1.1M384.8 627.5h1.1M411.9 617.1h1.1M358.2 624.2h1.1M399.8 624.7h1.1M372.9 625.8h1.1M435.4 618.9h1.1M394.9 628.7h1.1M381.2 607h1.1M441.3 617.6h1.1M328.3 608.7h1.1M331.3 611.4h1.1M395.4 627h1.1M372.5 627.2h1.1M337 622.9h1.1M446.2 612.2h1.1M380.6 626.7h1.1M395.9 615.6h1.1M420 615.2h1.1M380.1 630h1.1M351 593.5h1.1M369.7 624.2h1.1M383.9 608.5h1.1M400 620.5h1.1M389 629.8h1.1M488 608h1.1M408.9 605h1.1M464.2 613.5h1.1M339.3 624h1.1M369.3 628.8h1.1M367.5 593.6h1.1M467.3 611.6h1.1M433.1 615.9h1.1M400.2 609.5h1.1M386.6 628h1.1M351.7 616.3h1.1M401.4 608.6h1.1M346.7 620.8h1.1M400.8 616.8h1.1M380.5 630h1.1M383.5 625h1.1M359.6 619.7h1.1M450.2 613h1.1M428.3 618.6h1.1M458.8 614.3h1.1M353.4 611.8h1.1M400.2 608.9h1.1M444.2 609.3h1.1M368.4 619.4h1.1M374.2 599.3h1.1M492.4 604.7h1.1M428.8 605.4h1.1M447.2 614.3h1.1M354.5 600.8h1.1M449.4 603.8h1.1M360.2 623.1h1.1M371.7 622.7h1.1M385.9 619.9h1.1M399.9 625.1h1.1M465.9 613h1.1M354.4 609.8h1.1M407.9 609.8h1.1M386.7 611.9h1.1M361.9 608.9h1.1M295.3 607.5h1.1M397 618.9h1.1M481.5 605.7h1.1M431.3 619.8h1.1M413.4 607.3h1.1M401 626.8h1.1M385.1 627.1h1.1M337 623.3h1.1M388.3 629.1h1.1M374.4 627.6h1.1M360.7 626h1.1M410.3 604.8h1.1M388.8 628.8h1.1M492.7 606.9h1.1M360 627.1h1.1M409.4 607.9h1.1M438 616.4h1.1M363.7 624.1h1.1M301.2 609.8h1.1M384.8 624.9h1.1M380.2 620.5h1.1M347.1 602h1.1M403.1 622h1.1M396 627.6h1.1M388 619.5h1.1M438.3 617.5h1.1M455.9 614.4h1.1M357.8 627.4h1.1M377.9 623.2h1.1M404.5 609.1h1.1M373.6 602.6h1.1M369.8 628.1h1.1M416 618.5h1.1M365.6 609.4h1.1M374.5 621.7h1.1M306.7 612.1h1.1M358.2 625.1h1.1M357.4 627.6h1.1M399.9 600.9h1.1M377.3 629.9h1.1M310 604.1h1.1M331.2 611.5h1.1M375.8 629.8h1.1M443.7 618.2h1.1M387 625.5h1.1M477.7 609.5h1.1M393.9 625.3h1.1M400.6 619.9h1.1M382.2 630.1h1.1M419.9 608h1.1M428.9 621.5h1.1M366.3 613.8h1.1M308.9 614.3h1.1M382.4 612h1.1M384 606.7h1.1M415.1 622.5h1.1M401.6 610h1.1M401.8 616.8h1.1M385.4 626.5h1.1M374.5 609h1.1M336.4 614.3h1.1M425.1 618.7h1.1M398.8 625.5h1.1M480.1 602.8h1.1M356.7 618.8h1.1M364.6 628.5h1.1M369.5 616.6h1.1M400 607.6h1.1M439.1 605.4h1.1M350.5 619.7h1.1M370.1 615.5h1.1M348.9 619.4h1.1M419.6 623.9h1.1M404.9 602h1.1M394.5 619.5h1.1M371.7 629.4h1.1M417.5 622.2h1.1M355.7 614.3h1.1M387.7 627.7h1.1M372.8 619.1h1.1M400.2 615.9h1.1M418.7 613.5h1.1M416.5 619.7h1.1M422.8 603.6h1.1M398.6 626.9h1.1M404.1 621.1h1.1M407.2 626.1h1.1M407.2 605h1.1M362.6 622.4h1.1M335.7 608.4h1.1M406.2 610.7h1.1M381.6 604.4h1.1M353.4 623.6h1.1M378.9 614.1h1.1M364.8 614.9h1.1M409.3 626h1.1M293.2 606.3h1.1M384.4 628h1.1M353.8 617h1.1M405.7 612.4h1.1M376.5 629.9h1.1M469.1 611.4h1.1M372 620.3h1.1M343.4 603.4h1.1M448.3 611h1.1M361 626.8h1.1M363.7 623.9h1.1M384.2 622.5h1.1M349.7 614.6h1.1M383 630h1.1M437.8 617.1h1.1M383.4 630.2h1.1M441.7 618.6h1.1M407.3 617.8h1.1M388.8 624.6h1.1M456.1 605.4h1.1M388.8 626.1h1.1M314.8 609.6h1.1M468.6 612.4h1.1M378.7 615.2h1.1M424.3 619h1.1M339.7 603.8h1.1M406.4 621.2h1.1M412.7 622.2h1.1M399 628.3h1.1M480.2 605.2h1.1M383.9 629.7h1.1M423.5 607.3h1.1M372.8 621.6h1.1M457.8 603.8h1.1M387.8 630.2h1.1M398.7 615.2h1.1M386.5 630.3h1.1M424.3 608.6h1.1M422.7 614.1h1.1M428.7 608.9h1.1M415.1 604.6h1.1M347.5 621.6h1.1M324.3 603.2h1.1M442.6 618.4h1.1M433.4 619.3h1.1M314.1 605.2h1.1M345.9 610.6h1.1M395.4 628.2h1.1M386.4 626.3h1.1M384.9 630.2h1.1M360.2 627.9h1.1M343 600.8h1.1M440.9 615.6h1.1M480 609.6h1.1M453.6 603h1.1M401.1 601.1h1.1M388.9 629.6h1.1M349.5 615.3h1.1M394.8 627.3h1.1M343.9 600.5h1.1M321.2 600.7h1.1M358.1 616.8h1.1M430 600.5h1.1M367.6 629.1h1.1M379.1 620.8h1.1M394.7 624.8h1.1M398.5 598.7h1.1M429.9 620.9h1.1M354.2 621.9h1.1M419 604.3h1.1M434.6 613.6h1.1M460.4 609.9h1.1M380.2 607.4h1.1M422.2 620.4h1.1M439.6 617.3h1.1M385.5 630.2h1.1M431.2 610.7h1.1M418.2 616.3h1.1M418.8 608.8h1.1M350.3 613.3h1.1M338.7 601.7h1.1M376.5 606.9h1.1M415.6 613.6h1.1M432.7 620.3h1.1M417.8 623.5h1.1M402 625.1h1.1M419.3 622.4h1.1M378.8 629.9h1.1M411.5 624.1h1.1M427.4 616.9h1.1M393.7 629.8h1.1M399.8 607.3h1.1M386 629.9h1.1M329.1 603.4h1.1M441.7 617.6h1.1M345.8 625h1.1M402.4 627.3h1.1M427.9 619.3h1.1M395 620.8h1.1M376.9 629.3h1.1M365.9 627.9h1.1M395.1 626.4h1.1M442.5 613.5h1.1M342.7 625h1.1M376.9 629.5h1.1M355.6 600h1.1M325.9 600.5h1.1M409.3 606.8h1.1M344.8 620.5h1.1M364.6 627.6h1.1M393.2 630h1.1M437.4 608.5h1.1M347.5 625.4h1.1M417 622.7h1.1M368.9 605.2h1.1M420.3 622.1h1.1M457.8 611.2h1.1M383 613.7h1.1M401.9 627.6h1.1M439.3 608.6h1.1M348.3 621.5h1.1M380.7 612.4h1.1M361.7 628.4h1.1M402.8 612.5h1.1M404.3 625.9h1.1M374.2 628.8h1.1M341.9 609h1.1M404.7 605.9h1.1M302.3 612.3h1.1M408.2 614.4h1.1M386 604.3h1.1M398.6 623.4h1.1M376.3 628.4h1.1M321 607.8h1.1M407.4 605.8h1.1M484.1 605.5h1.1M434.2 619.5h1.1M425.8 621.8h1.1M473.8 602.9h1.1M364 603.8h1.1M418.3 607.7h1.1M379.6 622.8h1.1M443 604.7h1.1M373.4 615.8h1.1M379.9 622.9h1.1M405.2 625.2h1.1M481.6 605.4h1.1M397.6 623.1h1.1M347.1 625.6h1.1M395 629.4h1.1M359.8 611.5h1.1M408.5 602.1h1.1M330.8 621.6h1.1M416.6 615.1h1.1M340.8 618.9h1.1M371.1 617.4h1.1M458.2 613.9h1.1M380.4 622.3h1.1M397.6 622h1.1M372.8 627.4h1.1M420.6 603.9h1.1M439.3 619.1h1.1M422.5 622.8h1.1M398.1 616.9h1.1M367 624.4h1.1M408.3 621.7h1.1M445.6 611.7h1.1M397.3 629h1.1M412.2 625.2h1.1M426.6 606.1h1.1M411 619.6h1.1M421.8 607.4h1.1M399.4 622.7h1.1M334.6 603h1.1M393.6 627.4h1.1M411.1 609h1.1M370.7 611.3h1.1M396.7 628.3h1.1M393.3 628.1h1.1M418.8 605.9h1.1M416.3 616.8h1.1M370.2 605.2h1.1M433.3 620.4h1.1M422.3 621.1h1.1M427.8 621.8h1.1M365.4 621.2h1.1M324.6 606.7h1.1M466.4 613h1.1M457.1 610h1.1M380.4 618.5h1.1M411.3 625h1.1M424.4 598.6h1.1M377.7 599.1h1.1M376.3 622.9h1.1M407 610.7h1.1M419.9 619.8h1.1M411.8 608.3h1.1M418.8 614.6h1.1M394.7 629.6h1.1M360.8 603.8h1.1M400.1 622h1.1M463.1 612.5h1.1M399 617.2h1.1M460.3 611.1h1.1M452.9 612.6h1.1M355 612.7h1.1M387.2 625.6h1.1M381.7 594.8h1.1M474.7 604.8h1.1M376.8 629.2h1.1M469.2 608.1h1.1M432.4 617.1h1.1M378.6 625.4h1.1M376.6 629.8h1.1M359.5 627.9h1.1M371.8 628.9h1.1M384.5 604.1h1.1M450.6 616.1h1.1M453.4 612.4h1.1M382.3 627.3h1.1M440.1 618h1.1M406 624.6h1.1M393.9 628.4h1.1M427.6 615.8h1.1M360.1 621.9h1.1M412.5 614.5h1.1M382.6 623.3h1.1M410.4 625.7h1.1M345.8 624.7h1.1M470.4 610.3h1.1M424.9 621.1h1.1M370.9 618.6h1.1M415.2 619.7h1.1M343.8 608.3h1.1M352 626.6h1.1M438 608.1h1.1M382.4 614.1h1.1M359.2 625.6h1.1M402.1 626.1h1.1M384.9 606.2h1.1M398.6 615.5h1.1M297.4 605.4h1.1M475.2 604.6h1.1M330.5 620.9h1.1M386.1 628.8h1.1M395.7 629.4h1.1M343.8 615.5h1.1M410 609.4h1.1M333.6 616.3h1.1M412.1 620.4h1.1M379.4 628.4h1.1M397.4 607.7h1.1M398.6 627.8h1.1M387.1 630.2h1.1M381.9 628.9h1.1M398.9 618.5h1.1M363.9 614.1h1.1M384.1 619.4h1.1M398.2 623h1.1M326.3 611.8h1.1M466.1 607.5h1.1M374.5 624.4h1.1M472.6 611h1.1M410.1 624.7h1.1M411.9 622h1.1M354.4 627.2h1.1M374.9 629.3h1.1M386.3 625.1h1.1M361.2 606h1.1M317.1 617h1.1M409.9 624h1.1M322 615h1.1M429.4 607.5h1.1M401.7 628h1.1M389 628.2h1.1M397.6 626.5h1.1M379.8 628.1h1.1M395.2 626.9h1.1M377.9 629.9h1.1M397.7 628.9h1.1M323.9 617.5h1.1M407.5 626.6h1.1M423.4 622h1.1M387.7 627.9h1.1M431.8 619.9h1.1M464.7 605.6h1.1M384.4 630.2h1.1M312.4 604.8h1.1M331.8 599.4h1.1M441.5 611.4h1.1M368.8 625.5h1.1M452.1 614.9h1.1M410.2 617.1h1.1M401.1 615.2h1.1M335.8 614.3h1.1M344.8 625.5h1.1M408.2 613.7h1.1M327.2 619.6h1.1M428.7 613.6h1.1M400.1 627.7h1.1M410.5 608.7h1.1M433.7 614.2h1.1M429.3 615.6h1.1M348.5 617.1h1.1M406.5 619.7h1.1M362.3 624.1h1.1M400.9 599.5h1.1M331.9 605.7h1.1M426.2 597.9h1.1M367.6 617.3h1.1M370.3 627.6h1.1M350.9 624.3h1.1M411.8 606h1.1M401 622.2h1.1M384.6 612.3h1.1M381.5 603.9h1.1M375.2 601.1h1.1M387 630.1h1.1M366.2 623.8h1.1M361.2 611h1.1M434.9 619.4h1.1M449.5 609.1h1.1M425.9 610.8h1.1M330.1 618.5h1.1M425 620.4h1.1M376.8 613.1h1.1M361.9 626.6h1.1M413.2 610.6h1.1M365.3 620.7h1.1M396.5 626.5h1.1M394.1 628.5h1.1M395.1 629.4h1.1M387.1 625.2h1.1M397.9 619.1h1.1M374 628.4h1.1M380.8 611.5h1.1M407.7 621.8h1.1M381.9 608.5h1.1M364.4 608.1h1.1M389 630.2h1.1M401.6 615.3h1.1M362.6 618.5h1.1M413.1 603.7h1.1M445.4 611.2h1.1M361.8 603h1.1M449.9 605.4h1.1M404 614h1.1M412.8 624h1.1M458.7 609.3h1.1M402.7 620.9h1.1M337.5 621.9h1.1M318.8 607.1h1.1M454 608.8h1.1M368.9 626.7h1.1M387.4 618.8h1.1M384 627.5h1.1M396.9 619.1h1.1M451.6 600.8h1.1M406.1 626.9h1.1M365 604.7h1.1M413.5 624.1h1.1M400.6 604h1.1M387.3 629.8h1.1M440.1 605h1.1M396 625.7h1.1M353.8 613h1.1M386.6 613.3h1.1M322.7 618.5h1.1M418.2 620.2h1.1M374.5 612.3h1.1M343.8 616.9h1.1M411.7 623.2h1.1M335.8 614.5h1.1M451.9 599.6h1.1M381.5 598.7h1.1M420.1 606.3h1.1M475.6 604.1h1.1M436.9 604.8h1.1M371.4 618.1h1.1M388.9 615.1h1.1M379.3 628h1.1M494.4 605.2h1.1M348.2 605.5h1.1M343.2 603h1.1M355.1 622.6h1.1M387.8 620.6h1.1M384.7 625.8h1.1M405.5 608.2h1.1M383.4 622.4h1.1M403.3 614.1h1.1M398.6 615.8h1.1M440.4 603.8h1.1M356 627.4h1.1M366.2 628.9h1.1M416.4 620.5h1.1M397.7 628.8h1.1M326.5 612.7h1.1M400.4 622.2h1.1M428.2 608.4h1.1M396.1 620.6h1.1M372.3 627.7h1.1M389.1 624h1.1M425.2 605.9h1.1M373.1 626.5h1.1M400.2 598.2h1.1M361.9 628.3h1.1M435 602.5h1.1M377.8 605.5h1.1M381.9 630.1h1.1M387.5 599.2h1.1M386 607.9h1.1M394.6 623.5h1.1M383.9 628h1.1M410.4 620.6h1.1M437.4 616.9h1.1M413.7 622.9h1.1M378.7 622.8h1.1M375.4 621.8h1.1M401.7 621.8h1.1M365 604.2h1.1M340.3 600.4h1.1M385.2 597.9h1.1M399.2 625.9h1.1M430.3 611.7h1.1M383.9 626.2h1.1M400.2 612.8h1.1M396.7 626.8h1.1M330.3 605.3h1.1M320.4 614.4h1.1M439.5 619.1h1.1M358 625.4h1.1M424.4 620.2h1.1M431 608.7h1.1M355.5 627h1.1M380.6 629.8h1.1M349.6 626.4h1.1M402.3 614.6h1.1M398.8 626.5h1.1M378.2 616.8h1.1M422.3 611.5h1.1M452 615.7h1.1M403 620.2h1.1M370.3 607.4h1.1"/>
<line x1="260.2" y1="433" x2="260.2" y2="643.1" stroke="#3a3a3a" stroke-width="1.4" />
<line x1="260.2" y1="642.5" x2="513" y2="642.5" stroke="#3a3a3a" stroke-width="1.3" />
<line x1="257.5" y1="633.3" x2="260.5" y2="633.3" stroke="#3a3a3a" stroke-width="0.6" />
<text x="254.2" y="635.3" font-size="5.8" text-anchor="end" fill="#1a1a1a" stroke="#1a1a1a" stroke-width="0.16" >0</text>
<line x1="257.5" y1="579.45" x2="260.5" y2="579.45" stroke="#3a3a3a" stroke-width="0.6" />
<text x="254.2" y="581.45" font-size="5.8" text-anchor="end" fill="#1a1a1a" stroke="#1a1a1a" stroke-width="0.16" >5</text>
<line x1="257.5" y1="525.6" x2="260.5" y2="525.6" stroke="#3a3a3a" stroke-width="0.6" />
<text x="254.2" y="527.6" font-size="5.8" text-anchor="end" fill="#1a1a1a" stroke="#1a1a1a" stroke-width="0.16" >10</text>
<line x1="257.5" y1="471.75" x2="260.5" y2="471.75" stroke="#3a3a3a" stroke-width="0.6" />
<text x="254.2" y="473.75" font-size="5.8" text-anchor="end" fill="#1a1a1a" stroke="#1a1a1a" stroke-width="0.16" >15</text>
<line x1="264.2" y1="642.5" x2="264.2" y2="645.3" stroke="#3a3a3a" stroke-width="0.6" />
<text x="264.2" y="654" font-size="5.8" text-anchor="middle" fill="#1a1a1a" stroke="#1a1a1a" stroke-width="0.16" >−8</text>
<line x1="327.4" y1="642.5" x2="327.4" y2="645.3" stroke="#3a3a3a" stroke-width="0.6" />
<text x="327.4" y="654" font-size="5.8" text-anchor="middle" fill="#1a1a1a" stroke="#1a1a1a" stroke-width="0.16" >−4</text>
<line x1="390.6" y1="642.5" x2="390.6" y2="645.3" stroke="#3a3a3a" stroke-width="0.6" />
<text x="390.6" y="654" font-size="5.8" text-anchor="middle" fill="#1a1a1a" stroke="#1a1a1a" stroke-width="0.16" >0</text>
<line x1="453.8" y1="642.5" x2="453.8" y2="645.3" stroke="#3a3a3a" stroke-width="0.6" />
<text x="453.8" y="654" font-size="5.8" text-anchor="middle" fill="#1a1a1a" stroke="#1a1a1a" stroke-width="0.16" >4</text>
<text x="365" y="666" font-size="7.0" fill="#1a1a1a" stroke="#1a1a1a" stroke-width="0.16" textLength="42.5" lengthAdjust="spacingAndGlyphs">Log<tspan font-size="4.5" dy="1.6">2</tspan><tspan dy="-1.6"> fold change</tspan></text>
<text transform="translate(239.3,555.7) rotate(-90)" font-size="7.0" fill="#231f20" textLength="35.5" lengthAdjust="spacingAndGlyphs">−log<tspan font-size="4.5" dy="1.6">10</tspan><tspan dy="-1.6"> </tspan><tspan font-style="italic">P</tspan>-value</text>
<circle cx="338.1" cy="585.3" r="1.15" fill="#1c2580"/>
<circle cx="335.7" cy="591.8" r="1.15" fill="#1c2580"/>
<circle cx="371.9" cy="585.7" r="1.15" fill="#1c2580"/>
<circle cx="280.1" cy="596.9" r="1.15" fill="#1c2580"/>
<circle cx="379.5" cy="583.9" r="1.15" fill="#1c2580"/>
<circle cx="383.8" cy="576.2" r="1.15" fill="#1c2580"/>
<circle cx="340.8" cy="598.5" r="1.15" fill="#1c2580"/>
<circle cx="372.4" cy="599.1" r="1.15" fill="#1c2580"/>
<circle cx="365.1" cy="599.5" r="1.15" fill="#1c2580"/>
<circle cx="332.5" cy="587" r="1.15" fill="#1c2580"/>
<circle cx="341.9" cy="593.4" r="1.15" fill="#1c2580"/>
<circle cx="333.3" cy="596.9" r="1.15" fill="#1c2580"/>
<circle cx="311.5" cy="588.7" r="1.15" fill="#1c2580"/>
<circle cx="326.5" cy="597.5" r="1.15" fill="#1c2580"/>
<circle cx="360.8" cy="581.9" r="1.15" fill="#1c2580"/>
<circle cx="380.4" cy="592" r="1.15" fill="#1c2580"/>
<circle cx="306.3" cy="599.9" r="1.15" fill="#1c2580"/>
<circle cx="382" cy="589.9" r="1.15" fill="#1c2580"/>
<circle cx="290.7" cy="599.4" r="1.15" fill="#1c2580"/>
<circle cx="348.5" cy="597" r="1.15" fill="#1c2580"/>
<circle cx="367.4" cy="576.2" r="1.15" fill="#1c2580"/>
<circle cx="317.2" cy="597.3" r="1.15" fill="#1c2580"/>
<circle cx="360.5" cy="581" r="1.15" fill="#1c2580"/>
<circle cx="373.1" cy="590.5" r="1.15" fill="#1c2580"/>
<circle cx="377.5" cy="597.8" r="1.15" fill="#1c2580"/>
<circle cx="317.1" cy="594.7" r="1.15" fill="#1c2580"/>
<circle cx="365.8" cy="576" r="1.15" fill="#1c2580"/>
<circle cx="287.4" cy="588" r="1.15" fill="#1c2580"/>
<circle cx="369" cy="579.4" r="1.15" fill="#1c2580"/>
<circle cx="316.4" cy="584" r="1.15" fill="#1c2580"/>
<circle cx="365.5" cy="581.7" r="1.15" fill="#1c2580"/>
<circle cx="366.5" cy="598.8" r="1.15" fill="#1c2580"/>
<circle cx="373.7" cy="595.4" r="1.15" fill="#1c2580"/>
<circle cx="329.2" cy="594.1" r="1.15" fill="#1c2580"/>
<circle cx="293.7" cy="593.1" r="1.15" fill="#1c2580"/>
<circle cx="283.2" cy="598.7" r="1.15" fill="#1c2580"/>
<circle cx="305.3" cy="597.6" r="1.15" fill="#1c2580"/>
<circle cx="377.7" cy="576.9" r="1.15" fill="#1c2580"/>
<circle cx="383" cy="578.6" r="1.15" fill="#1c2580"/>
<circle cx="331.6" cy="599.1" r="1.15" fill="#1c2580"/>
<circle cx="383.3" cy="595.5" r="1.15" fill="#1c2580"/>
<circle cx="323.8" cy="587.4" r="1.15" fill="#1c2580"/>
<circle cx="325.5" cy="598.2" r="1.15" fill="#1c2580"/>
<circle cx="314.9" cy="597.5" r="1.15" fill="#1c2580"/>
<circle cx="352" cy="591.3" r="1.15" fill="#1c2580"/>
<circle cx="382.2" cy="596.2" r="1.15" fill="#1c2580"/>
<circle cx="365.8" cy="590.5" r="1.15" fill="#1c2580"/>
<circle cx="363.5" cy="592.4" r="1.15" fill="#1c2580"/>
<circle cx="317.8" cy="595.6" r="1.15" fill="#1c2580"/>
<circle cx="310.9" cy="591.8" r="1.15" fill="#1c2580"/>
<circle cx="339.3" cy="598.7" r="1.15" fill="#1c2580"/>
<circle cx="359.5" cy="577.8" r="1.15" fill="#1c2580"/>
<circle cx="357.2" cy="599.8" r="1.15" fill="#1c2580"/>
<circle cx="334.5" cy="589.2" r="1.15" fill="#1c2580"/>
<circle cx="384.3" cy="598.8" r="1.15" fill="#1c2580"/>
<circle cx="346.5" cy="585.8" r="1.15" fill="#1c2580"/>
<circle cx="345" cy="588" r="1.15" fill="#1c2580"/>
<circle cx="289.1" cy="591.3" r="1.15" fill="#1c2580"/>
<circle cx="307.1" cy="595.4" r="1.15" fill="#1c2580"/>
<circle cx="306.9" cy="593.1" r="1.15" fill="#1c2580"/>
<circle cx="329.7" cy="591.9" r="1.15" fill="#1c2580"/>
<circle cx="315.4" cy="590.9" r="1.15" fill="#1c2580"/>
<circle cx="307.4" cy="590.6" r="1.15" fill="#1c2580"/>
<circle cx="377.6" cy="587" r="1.15" fill="#1c2580"/>
<circle cx="380.2" cy="598.6" r="1.15" fill="#1c2580"/>
<circle cx="313" cy="591.6" r="1.15" fill="#1c2580"/>
<circle cx="322.5" cy="589.8" r="1.15" fill="#1c2580"/>
<circle cx="340.7" cy="585.4" r="1.15" fill="#1c2580"/>
<circle cx="359.3" cy="594" r="1.15" fill="#1c2580"/>
<circle cx="321.2" cy="598.3" r="1.15" fill="#1c2580"/>
<circle cx="299.8" cy="595.1" r="1.15" fill="#1c2580"/>
<circle cx="288.2" cy="591.7" r="1.15" fill="#1c2580"/>
<circle cx="374.4" cy="588.5" r="1.15" fill="#1c2580"/>
<circle cx="377.3" cy="574.6" r="1.15" fill="#1c2580"/>
<circle cx="377" cy="581" r="1.15" fill="#1c2580"/>
<circle cx="366.7" cy="582" r="1.15" fill="#1c2580"/>
<circle cx="377.4" cy="588" r="1.15" fill="#1c2580"/>
<circle cx="379.1" cy="576.5" r="1.15" fill="#1c2580"/>
<circle cx="367.9" cy="573.3" r="1.15" fill="#1c2580"/>
<circle cx="371.3" cy="586.7" r="1.15" fill="#1c2580"/>
<circle cx="366.7" cy="585.1" r="1.15" fill="#1c2580"/>
<circle cx="373.6" cy="588.5" r="1.15" fill="#1c2580"/>
<circle cx="366.3" cy="580.3" r="1.15" fill="#1c2580"/>
<circle cx="366.7" cy="591.9" r="1.15" fill="#1c2580"/>
<circle cx="361.6" cy="566.3" r="1.15" fill="#1c2580"/>
<circle cx="365" cy="569.8" r="1.15" fill="#1c2580"/>
<circle cx="362" cy="581" r="1.15" fill="#1c2580"/>
<circle cx="481.6" cy="599.6" r="1.15" fill="#c8400f"/>
<circle cx="445.4" cy="599.7" r="1.15" fill="#c8400f"/>
<circle cx="485.1" cy="597.1" r="1.15" fill="#c8400f"/>
<circle cx="468.6" cy="599.1" r="1.15" fill="#c8400f"/>
<circle cx="399.8" cy="582.8" r="1.15" fill="#c8400f"/>
<circle cx="406.1" cy="599.7" r="1.15" fill="#c8400f"/>
<circle cx="422.5" cy="588.6" r="1.15" fill="#c8400f"/>
<circle cx="441.9" cy="578.7" r="1.15" fill="#c8400f"/>
<circle cx="455.4" cy="594.6" r="1.15" fill="#c8400f"/>
<circle cx="399.1" cy="592.6" r="1.15" fill="#c8400f"/>
<circle cx="473.4" cy="597.6" r="1.15" fill="#c8400f"/>
<circle cx="436" cy="591.4" r="1.15" fill="#c8400f"/>
<circle cx="439.1" cy="594.3" r="1.15" fill="#c8400f"/>
<circle cx="495.2" cy="599.5" r="1.15" fill="#c8400f"/>
<circle cx="489.7" cy="599.2" r="1.15" fill="#c8400f"/>
<circle cx="432.1" cy="580.3" r="1.15" fill="#c8400f"/>
<circle cx="429.1" cy="581.3" r="1.15" fill="#c8400f"/>
<circle cx="496.4" cy="594.8" r="1.15" fill="#c8400f"/>
<circle cx="409.5" cy="586" r="1.15" fill="#c8400f"/>
<circle cx="487.3" cy="590.1" r="1.15" fill="#c8400f"/>
<circle cx="446.8" cy="578" r="1.15" fill="#c8400f"/>
<circle cx="484.1" cy="588.6" r="1.15" fill="#c8400f"/>
<circle cx="447.4" cy="582" r="1.15" fill="#c8400f"/>
<circle cx="402.9" cy="593.3" r="1.15" fill="#c8400f"/>
<circle cx="439.8" cy="592.2" r="1.15" fill="#c8400f"/>
<circle cx="442" cy="599.5" r="1.15" fill="#c8400f"/>
<circle cx="473.2" cy="596.8" r="1.15" fill="#c8400f"/>
<circle cx="472.2" cy="599" r="1.15" fill="#c8400f"/>
<circle cx="437.4" cy="582.5" r="1.15" fill="#c8400f"/>
<circle cx="467.2" cy="594.3" r="1.15" fill="#c8400f"/>
<circle cx="470.6" cy="598.2" r="1.15" fill="#c8400f"/>
<circle cx="414.1" cy="585.8" r="1.15" fill="#c8400f"/>
<circle cx="426.6" cy="582.4" r="1.15" fill="#c8400f"/>
<circle cx="415.2" cy="594.6" r="1.15" fill="#c8400f"/>
<circle cx="495.1" cy="598.4" r="1.15" fill="#c8400f"/>
<circle cx="497.1" cy="593.8" r="1.15" fill="#c8400f"/>
<circle cx="409.3" cy="591" r="1.15" fill="#c8400f"/>
<circle cx="431" cy="599.8" r="1.15" fill="#c8400f"/>
<circle cx="483.5" cy="595.8" r="1.15" fill="#c8400f"/>
<circle cx="484.9" cy="594.4" r="1.15" fill="#c8400f"/>
<circle cx="453.3" cy="593.5" r="1.15" fill="#c8400f"/>
<circle cx="449.9" cy="579.8" r="1.15" fill="#c8400f"/>
<circle cx="423.9" cy="598.9" r="1.15" fill="#c8400f"/>
<circle cx="442.3" cy="580.6" r="1.15" fill="#c8400f"/>
<circle cx="415.5" cy="598" r="1.15" fill="#c8400f"/>
<circle cx="448.2" cy="598.9" r="1.15" fill="#c8400f"/>
<circle cx="468.7" cy="598.5" r="1.15" fill="#c8400f"/>
<circle cx="435.4" cy="595.8" r="1.15" fill="#c8400f"/>
<circle cx="431.8" cy="599.1" r="1.15" fill="#c8400f"/>
<circle cx="471.7" cy="594" r="1.15" fill="#c8400f"/>
<circle cx="409.1" cy="591.2" r="1.15" fill="#c8400f"/>
<circle cx="418.7" cy="593.9" r="1.15" fill="#c8400f"/>
<circle cx="407.1" cy="597.8" r="1.15" fill="#c8400f"/>
<circle cx="432.8" cy="591.2" r="1.15" fill="#c8400f"/>
<circle cx="486.4" cy="587.1" r="1.15" fill="#c8400f"/>
<circle cx="438.3" cy="583.4" r="1.15" fill="#c8400f"/>
<circle cx="477.5" cy="597.1" r="1.15" fill="#c8400f"/>
<circle cx="474.6" cy="583.8" r="1.15" fill="#c8400f"/>
<circle cx="472" cy="598" r="1.15" fill="#c8400f"/>
<circle cx="475.8" cy="599.4" r="1.15" fill="#c8400f"/>
<circle cx="480.7" cy="588.6" r="1.15" fill="#c8400f"/>
<circle cx="420.1" cy="587.1" r="1.15" fill="#c8400f"/>
<circle cx="409.3" cy="587.2" r="1.15" fill="#c8400f"/>
<circle cx="497.1" cy="599.3" r="1.15" fill="#c8400f"/>
<circle cx="439.2" cy="591.8" r="1.15" fill="#c8400f"/>
<circle cx="455.2" cy="599.6" r="1.15" fill="#c8400f"/>
<circle cx="400.5" cy="590.6" r="1.15" fill="#c8400f"/>
<circle cx="429.1" cy="598.6" r="1.15" fill="#c8400f"/>
<circle cx="409.5" cy="582.5" r="1.15" fill="#c8400f"/>
<circle cx="495.8" cy="599.4" r="1.15" fill="#c8400f"/>
<circle cx="449.6" cy="592.8" r="1.15" fill="#c8400f"/>
<circle cx="477.8" cy="594.8" r="1.15" fill="#c8400f"/>
<circle cx="421.6" cy="589.4" r="1.15" fill="#c8400f"/>
<circle cx="436.2" cy="582.4" r="1.15" fill="#c8400f"/>
<circle cx="422.9" cy="585.5" r="1.15" fill="#c8400f"/>
<circle cx="409" cy="598.4" r="1.15" fill="#c8400f"/>
<circle cx="399.3" cy="580.8" r="1.15" fill="#c8400f"/>
<circle cx="489.2" cy="587" r="1.15" fill="#c8400f"/>
<circle cx="420.2" cy="589.4" r="1.15" fill="#c8400f"/>
<circle cx="451.3" cy="583.6" r="1.15" fill="#c8400f"/>
<circle cx="447.5" cy="585.4" r="1.15" fill="#c8400f"/>
<circle cx="492.5" cy="595.7" r="1.15" fill="#c8400f"/>
<circle cx="494.4" cy="590.6" r="1.15" fill="#c8400f"/>
<circle cx="491" cy="595.7" r="1.15" fill="#c8400f"/>
<circle cx="470.1" cy="596.7" r="1.15" fill="#c8400f"/>
<circle cx="399.1" cy="595.1" r="1.15" fill="#c8400f"/>
<circle cx="432" cy="597.4" r="1.15" fill="#c8400f"/>
<circle cx="488" cy="596.7" r="1.15" fill="#c8400f"/>
<circle cx="429.1" cy="591.1" r="1.15" fill="#c8400f"/>
<circle cx="452.2" cy="588.3" r="1.15" fill="#c8400f"/>
<circle cx="490.9" cy="584.2" r="1.15" fill="#c8400f"/>
<circle cx="431.6" cy="585.6" r="1.15" fill="#c8400f"/>
<circle cx="420.1" cy="599.7" r="1.15" fill="#c8400f"/>
<circle cx="418.7" cy="599.2" r="1.15" fill="#c8400f"/>
<circle cx="447.2" cy="590.7" r="1.15" fill="#c8400f"/>
<circle cx="450.5" cy="590.2" r="1.15" fill="#c8400f"/>
<circle cx="487.2" cy="588.1" r="1.15" fill="#c8400f"/>
<circle cx="430.6" cy="585" r="1.15" fill="#c8400f"/>
<circle cx="448.5" cy="598.5" r="1.15" fill="#c8400f"/>
<circle cx="407.6" cy="592" r="1.15" fill="#c8400f"/>
<circle cx="401.6" cy="579.1" r="1.15" fill="#c8400f"/>
<circle cx="426.8" cy="589.5" r="1.15" fill="#c8400f"/>
<circle cx="413.9" cy="587.9" r="1.15" fill="#c8400f"/>
<circle cx="413.7" cy="586.2" r="1.15" fill="#c8400f"/>
<circle cx="399.3" cy="597.2" r="1.15" fill="#c8400f"/>
<circle cx="406.9" cy="585.1" r="1.15" fill="#c8400f"/>
<circle cx="446.7" cy="585.3" r="1.15" fill="#c8400f"/>
<circle cx="451.6" cy="579.2" r="1.15" fill="#c8400f"/>
<circle cx="447.1" cy="593.5" r="1.15" fill="#c8400f"/>
<circle cx="450.8" cy="597.2" r="1.15" fill="#c8400f"/>
<circle cx="448.9" cy="586" r="1.15" fill="#c8400f"/>
<circle cx="451.1" cy="583.2" r="1.15" fill="#c8400f"/>
<circle cx="404.7" cy="588.8" r="1.15" fill="#c8400f"/>
<circle cx="409.4" cy="599.6" r="1.15" fill="#c8400f"/>
<circle cx="405.2" cy="593.2" r="1.15" fill="#c8400f"/>
<circle cx="459.4" cy="597.7" r="1.15" fill="#c8400f"/>
<circle cx="421" cy="584.4" r="1.15" fill="#c8400f"/>
<circle cx="452.1" cy="578.9" r="1.15" fill="#c8400f"/>
<circle cx="475.2" cy="599.3" r="1.15" fill="#c8400f"/>
<circle cx="491.6" cy="591.9" r="1.15" fill="#c8400f"/>
<circle cx="413.1" cy="587.1" r="1.15" fill="#c8400f"/>
<circle cx="430.3" cy="588.5" r="1.15" fill="#c8400f"/>
<circle cx="473.7" cy="597.9" r="1.15" fill="#c8400f"/>
<circle cx="495.5" cy="586.6" r="1.15" fill="#c8400f"/>
<circle cx="401.8" cy="596.7" r="1.15" fill="#c8400f"/>
<rect x="415.9" y="442.3" width="1.8" height="1.8" fill="#c8400f" rx="0.9"/>
<rect x="366.8" y="450.6" width="1.8" height="1.8" fill="#1c2580" rx="0.9"/>
<rect x="369.7" y="475.5" width="1.8" height="1.8" fill="#1c2580" rx="0.9"/>
<rect x="372.3" y="493.7" width="1.8" height="1.8" fill="#1c2580" rx="0.9"/>
<line x1="366.8" y1="498.8" x2="369.8" y2="495.4" stroke="#3a3a3a" stroke-width="0.6" />
<rect x="368.9" y="494.5" width="1.8" height="1.8" fill="#1c2580" rx="0.9"/>
<rect x="425.1" y="509.8" width="1.8" height="1.8" fill="#c8400f" rx="0.9"/>
<rect x="359.6" y="526.6" width="1.8" height="1.8" fill="#1c2580" rx="0.9"/>
<rect x="412.1" y="517.8" width="1.8" height="1.8" fill="#c8400f" rx="0.9"/>
<line x1="364.5" y1="537.8" x2="364.5" y2="547.3" stroke="#3a3a3a" stroke-width="0.6" />
<rect x="363.6" y="546.4" width="1.8" height="1.8" fill="#1c2580" rx="0.9"/>
<rect x="405.6" y="532.6" width="1.8" height="1.8" fill="#c8400f" rx="0.9"/>
<line x1="432.3" y1="540" x2="421" y2="540.5" stroke="#3a3a3a" stroke-width="0.6" />
<rect x="420.1" y="539.6" width="1.8" height="1.8" fill="#c8400f" rx="0.9"/>
<line x1="353.3" y1="546.8" x2="354.1" y2="557.7" stroke="#3a3a3a" stroke-width="0.6" />
<rect x="353.2" y="556.8" width="1.8" height="1.8" fill="#1c2580" rx="0.9"/>
<line x1="373.7" y1="550.8" x2="368.8" y2="552.5" stroke="#3a3a3a" stroke-width="0.6" />
<rect x="367.9" y="551.6" width="1.8" height="1.8" fill="#1c2580" rx="0.9"/>
<line x1="414" y1="550.5" x2="414" y2="560" stroke="#3a3a3a" stroke-width="0.6" />
<rect x="413.1" y="559.1" width="1.8" height="1.8" fill="#c8400f" rx="0.9"/>
<line x1="425" y1="552.6" x2="425" y2="559" stroke="#3a3a3a" stroke-width="0.6" />
<rect x="424.1" y="558.1" width="1.8" height="1.8" fill="#c8400f" rx="0.9"/>
<line x1="449.5" y1="552.6" x2="447" y2="566" stroke="#3a3a3a" stroke-width="0.6" />
<rect x="446.1" y="565.1" width="1.8" height="1.8" fill="#c8400f" rx="0.9"/>
<rect x="474.1" y="547.1" width="1.8" height="1.8" fill="#c8400f" rx="0.9"/>
<line x1="323.8" y1="559.4" x2="323.8" y2="572" stroke="#3a3a3a" stroke-width="0.6" />
<rect x="322.9" y="571.1" width="1.8" height="1.8" fill="#1c2580" rx="0.9"/>
<rect x="401.6" y="559.1" width="1.8" height="1.8" fill="#c8400f" rx="0.9"/>
<line x1="338.5" y1="564.4" x2="335" y2="579.3" stroke="#3a3a3a" stroke-width="0.6" />
<rect x="334.1" y="578.4" width="1.8" height="1.8" fill="#1c2580" rx="0.9"/>
<rect x="364.1" y="557.6" width="1.8" height="1.8" fill="#1c2580" rx="0.9"/>
<rect x="417.1" y="569.1" width="1.8" height="1.8" fill="#c8400f" rx="0.9"/>
<rect x="436.1" y="569.1" width="1.8" height="1.8" fill="#c8400f" rx="0.9"/>
<line x1="445" y1="565.8" x2="445" y2="572" stroke="#3a3a3a" stroke-width="0.6" />
<rect x="444.1" y="571.1" width="1.8" height="1.8" fill="#c8400f" rx="0.9"/>
<line x1="486" y1="564.5" x2="486" y2="572" stroke="#3a3a3a" stroke-width="0.6" />
<rect x="485.1" y="571.1" width="1.8" height="1.8" fill="#c8400f" rx="0.9"/>
<line x1="317.8" y1="571" x2="317.8" y2="582" stroke="#3a3a3a" stroke-width="0.6" />
<rect x="316.9" y="581.1" width="1.8" height="1.8" fill="#1c2580" rx="0.9"/>
<rect x="270.3" y="576.1" width="1.8" height="1.8" fill="#1c2580" rx="0.9"/>
<rect x="351.1" y="579.1" width="1.8" height="1.8" fill="#1c2580" rx="0.9"/>
<rect x="377.1" y="574.1" width="1.8" height="1.8" fill="#1c2580" rx="0.9"/>
<rect x="457.1" y="577.1" width="1.8" height="1.8" fill="#c8400f" rx="0.9"/>
<rect x="488.1" y="577.1" width="1.8" height="1.8" fill="#c8400f" rx="0.9"/>
<rect x="420.1" y="581.1" width="1.8" height="1.8" fill="#c8400f" rx="0.9"/>
<line x1="291" y1="584.3" x2="288" y2="588" stroke="#3a3a3a" stroke-width="0.6" />
<rect x="287.1" y="587.1" width="1.8" height="1.8" fill="#1c2580" rx="0.9"/>
<rect x="332.1" y="586.1" width="1.8" height="1.8" fill="#1c2580" rx="0.9"/>
<rect x="445.1" y="584.1" width="1.8" height="1.8" fill="#c8400f" rx="0.9"/>
<rect x="504.1" y="590.1" width="1.8" height="1.8" fill="#c8400f" rx="0.9"/>
<line x1="280" y1="588.8" x2="280" y2="584" stroke="#3a3a3a" stroke-width="0.6" />
<rect x="279.1" y="583.1" width="1.8" height="1.8" fill="#1c2580" rx="0.9"/>
<line x1="280.6" y1="601.6" x2="280.6" y2="596" stroke="#3a3a3a" stroke-width="0.6" />
<rect x="279.7" y="595.1" width="1.8" height="1.8" fill="#1c2580" rx="0.9"/>
<rect x="419.2" y="441" width="17.2" height="6.6" rx="1.4" fill="#d6d6d6" stroke="#505050" stroke-width="0.7"/>
<text x="420.9" y="446.3" font-size="5.7" fill="#262626" stroke="#262626" stroke-width="0.16" textLength="13.8" lengthAdjust="spacingAndGlyphs">MKI67</text>
<rect x="370" y="448.5" width="19" height="6.9" rx="1.4" fill="#fbfbfb" stroke="#505050" stroke-width="0.7"/>
<text x="371.7" y="453.95" font-size="5.7" fill="#262626" stroke="#262626" stroke-width="0.16" textLength="15.6" lengthAdjust="spacingAndGlyphs">SYNE1</text>
<rect x="373.8" y="467.2" width="25.9" height="7.2" rx="1.4" fill="#fbfbfb" stroke="#505050" stroke-width="0.7"/>
<text x="375.5" y="472.8" font-size="5.7" fill="#262626" stroke="#262626" stroke-width="0.16" textLength="22.5" lengthAdjust="spacingAndGlyphs">SNORD13</text>
<rect x="372" y="484.6" width="19" height="6.8" rx="1.4" fill="#fbfbfb" stroke="#505050" stroke-width="0.7"/>
<text x="373.7" y="490" font-size="5.7" fill="#262626" stroke="#262626" stroke-width="0.16" textLength="15.6" lengthAdjust="spacingAndGlyphs">SNHG5</text>
<rect x="352" y="498.8" width="14.8" height="6.8" rx="1.4" fill="#fbfbfb" stroke="#505050" stroke-width="0.7"/>
<text x="353.7" y="504.2" font-size="5.7" fill="#262626" stroke="#262626" stroke-width="0.16" textLength="11.4" lengthAdjust="spacingAndGlyphs">CCL5</text>
<rect x="425.6" y="500" width="19.1" height="7" rx="1.4" fill="#fbfbfb" stroke="#505050" stroke-width="0.7"/>
<text x="427.3" y="505.5" font-size="5.7" fill="#262626" stroke="#262626" stroke-width="0.16" textLength="15.7" lengthAdjust="spacingAndGlyphs">CENPF</text>
<rect x="361" y="518" width="15" height="6.6" rx="1.4" fill="#fbfbfb" stroke="#505050" stroke-width="0.7"/>
<text x="362.7" y="523.3" font-size="5.7" fill="#262626" stroke="#262626" stroke-width="0.16" textLength="11.6" lengthAdjust="spacingAndGlyphs">CST7</text>
<rect x="410.8" y="522" width="22.2" height="7.3" rx="1.4" fill="#fbfbfb" stroke="#505050" stroke-width="0.7"/>
<text x="412.5" y="527.65" font-size="5.7" fill="#262626" stroke="#262626" stroke-width="0.16" textLength="18.8" lengthAdjust="spacingAndGlyphs">TUBA1B</text>
<rect x="357" y="530.9" width="16.7" height="6.9" rx="1.4" fill="#fbfbfb" stroke="#505050" stroke-width="0.7"/>
<text x="358.7" y="536.35" font-size="5.7" fill="#262626" stroke="#262626" stroke-width="0.16" textLength="13.3" lengthAdjust="spacingAndGlyphs">GZMH</text>
<rect x="390.4" y="531.4" width="13.8" height="6.4" rx="1.4" fill="#fbfbfb" stroke="#505050" stroke-width="0.7"/>
<text x="392.1" y="536.6" font-size="5.7" fill="#262626" stroke="#262626" stroke-width="0.16" textLength="10.4" lengthAdjust="spacingAndGlyphs">PFN1</text>
<rect x="432.3" y="532.5" width="19.1" height="7.5" rx="1.4" fill="#fbfbfb" stroke="#505050" stroke-width="0.7"/>
<text x="434" y="538.25" font-size="5.7" fill="#262626" stroke="#262626" stroke-width="0.16" textLength="15.7" lengthAdjust="spacingAndGlyphs">TOP2A</text>
<rect x="330.4" y="540" width="22.9" height="6.8" rx="1.4" fill="#fbfbfb" stroke="#505050" stroke-width="0.7"/>
<text x="332.1" y="545.4" font-size="5.7" fill="#262626" stroke="#262626" stroke-width="0.16" textLength="19.5" lengthAdjust="spacingAndGlyphs">ADGRG1</text>
<rect x="373.7" y="544.7" width="12.1" height="6.1" rx="1.4" fill="#fbfbfb" stroke="#505050" stroke-width="0.7"/>
<text x="375.4" y="549.75" font-size="5.7" fill="#262626" stroke="#262626" stroke-width="0.16" textLength="8.7" lengthAdjust="spacingAndGlyphs">CD7</text>
<rect x="400.8" y="544" width="19" height="6.5" rx="1.4" fill="#fbfbfb" stroke="#505050" stroke-width="0.7"/>
<text x="402.5" y="549.25" font-size="5.7" fill="#262626" stroke="#262626" stroke-width="0.16" textLength="15.6" lengthAdjust="spacingAndGlyphs">STMN1</text>
<rect x="423" y="545.6" width="18.4" height="7" rx="1.4" fill="#fbfbfb" stroke="#505050" stroke-width="0.7"/>
<text x="424.7" y="551.1" font-size="5.7" fill="#262626" stroke="#262626" stroke-width="0.16" textLength="15" lengthAdjust="spacingAndGlyphs">CLSPN</text>
<rect x="449.5" y="545.6" width="14" height="7" rx="1.4" fill="#fbfbfb" stroke="#505050" stroke-width="0.7"/>
<text x="451.2" y="551.1" font-size="5.7" fill="#262626" stroke="#262626" stroke-width="0.16" textLength="10.6" lengthAdjust="spacingAndGlyphs">TPX2</text>
<rect x="477.5" y="544.8" width="21" height="6.4" rx="1.4" fill="#fbfbfb" stroke="#505050" stroke-width="0.7"/>
<text x="479.2" y="550" font-size="5.7" fill="#262626" stroke="#262626" stroke-width="0.16" textLength="17.6" lengthAdjust="spacingAndGlyphs">CKAP2L</text>
<rect x="319.5" y="552.8" width="14.2" height="6.6" rx="1.4" fill="#fbfbfb" stroke="#505050" stroke-width="0.7"/>
<text x="321.2" y="558.1" font-size="5.7" fill="#262626" stroke="#262626" stroke-width="0.16" textLength="10.8" lengthAdjust="spacingAndGlyphs">MATK</text>
<rect x="388" y="556" width="15" height="6.6" rx="1.4" fill="#fbfbfb" stroke="#505050" stroke-width="0.7"/>
<text x="389.7" y="561.3" font-size="5.7" fill="#262626" stroke="#262626" stroke-width="0.16" textLength="11.6" lengthAdjust="spacingAndGlyphs">SMC6</text>
<rect x="338.5" y="557.7" width="21.3" height="6.7" rx="1.4" fill="#fbfbfb" stroke="#505050" stroke-width="0.7"/>
<text x="340.2" y="563.05" font-size="5.7" fill="#262626" stroke="#262626" stroke-width="0.16" textLength="17.9" lengthAdjust="spacingAndGlyphs">HDAC10</text>
<rect x="367" y="558" width="10.8" height="6.4" rx="1.4" fill="#fbfbfb" stroke="#505050" stroke-width="0.7"/>
<text x="368.7" y="563.2" font-size="5.7" fill="#262626" stroke="#262626" stroke-width="0.16" textLength="7.4" lengthAdjust="spacingAndGlyphs">NKG7</text>
<rect x="409.6" y="561" width="10.8" height="6" rx="1.4" fill="#fbfbfb" stroke="#505050" stroke-width="0.7"/>
<text x="411.3" y="566" font-size="5.7" fill="#262626" stroke="#262626" stroke-width="0.16" textLength="7.4" lengthAdjust="spacingAndGlyphs">VIM</text>
<rect x="425.8" y="559.6" width="16.2" height="6.2" rx="1.4" fill="#fbfbfb" stroke="#505050" stroke-width="0.7"/>
<text x="427.5" y="564.7" font-size="5.7" fill="#262626" stroke="#262626" stroke-width="0.16" textLength="12.8" lengthAdjust="spacingAndGlyphs">POLQ</text>
<rect x="444.6" y="559" width="14.8" height="6.8" rx="1.4" fill="#fbfbfb" stroke="#505050" stroke-width="0.7"/>
<text x="446.3" y="564.4" font-size="5.7" fill="#262626" stroke="#262626" stroke-width="0.16" textLength="11.4" lengthAdjust="spacingAndGlyphs">KIF11</text>
<rect x="470" y="558.3" width="20.4" height="6.2" rx="1.4" fill="#fbfbfb" stroke="#505050" stroke-width="0.7"/>
<text x="471.7" y="563.4" font-size="5.7" fill="#262626" stroke="#262626" stroke-width="0.16" textLength="17" lengthAdjust="spacingAndGlyphs">TBXAS1</text>
<rect x="300.7" y="564.4" width="20.5" height="6.6" rx="1.4" fill="#fbfbfb" stroke="#505050" stroke-width="0.7"/>
<text x="302.4" y="569.7" font-size="5.7" fill="#262626" stroke="#262626" stroke-width="0.16" textLength="17.1" lengthAdjust="spacingAndGlyphs">SLC4A4</text>
<rect x="263.3" y="567" width="24.2" height="6.2" rx="1.4" fill="#fbfbfb" stroke="#505050" stroke-width="0.7"/>
<text x="265" y="572.1" font-size="5.7" fill="#262626" stroke="#262626" stroke-width="0.16" textLength="20.8" lengthAdjust="spacingAndGlyphs">XPC-AS1</text>
<rect x="342.9" y="571.3" width="19.9" height="6.3" rx="1.4" fill="#fbfbfb" stroke="#505050" stroke-width="0.7"/>
<text x="344.6" y="576.45" font-size="5.7" fill="#262626" stroke="#262626" stroke-width="0.16" textLength="16.5" lengthAdjust="spacingAndGlyphs">FGFBP2</text>
<rect x="381.3" y="571.6" width="17.5" height="6.2" rx="1.4" fill="#fbfbfb" stroke="#505050" stroke-width="0.7"/>
<text x="383" y="576.7" font-size="5.7" fill="#262626" stroke="#262626" stroke-width="0.16" textLength="14.1" lengthAdjust="spacingAndGlyphs">ACTG1</text>
<rect x="460" y="570.4" width="15.6" height="7" rx="1.4" fill="#fbfbfb" stroke="#505050" stroke-width="0.7"/>
<text x="461.7" y="575.9" font-size="5.7" fill="#262626" stroke="#262626" stroke-width="0.16" textLength="12.2" lengthAdjust="spacingAndGlyphs">KIF15</text>
<rect x="491" y="570.4" width="17.7" height="6.6" rx="1.4" fill="#fbfbfb" stroke="#505050" stroke-width="0.7"/>
<text x="492.7" y="575.7" font-size="5.7" fill="#262626" stroke="#262626" stroke-width="0.16" textLength="14.3" lengthAdjust="spacingAndGlyphs">NETO2</text>
<rect x="423" y="573.2" width="17.6" height="6.6" rx="1.4" fill="#fbfbfb" stroke="#505050" stroke-width="0.7"/>
<text x="424.7" y="578.5" font-size="5.7" fill="#262626" stroke="#262626" stroke-width="0.16" textLength="14.2" lengthAdjust="spacingAndGlyphs">ANXA2</text>
<rect x="291" y="578" width="17.3" height="6.3" rx="1.4" fill="#fbfbfb" stroke="#505050" stroke-width="0.7"/>
<text x="292.7" y="583.15" font-size="5.7" fill="#262626" stroke="#262626" stroke-width="0.16" textLength="13.9" lengthAdjust="spacingAndGlyphs">ZFP41</text>
<rect x="324.7" y="579.3" width="17.3" height="6.9" rx="1.4" fill="#fbfbfb" stroke="#505050" stroke-width="0.7"/>
<text x="326.4" y="584.75" font-size="5.7" fill="#262626" stroke="#262626" stroke-width="0.16" textLength="13.9" lengthAdjust="spacingAndGlyphs">GZMM</text>
<rect x="439" y="577.2" width="16" height="6.4" rx="1.4" fill="#fbfbfb" stroke="#505050" stroke-width="0.7"/>
<text x="440.7" y="582.4" font-size="5.7" fill="#262626" stroke="#262626" stroke-width="0.16" textLength="12.6" lengthAdjust="spacingAndGlyphs">CD70</text>
<rect x="493" y="583.3" width="18.4" height="6" rx="1.4" fill="#fbfbfb" stroke="#505050" stroke-width="0.7"/>
<text x="494.7" y="588.3" font-size="5.7" fill="#262626" stroke="#262626" stroke-width="0.16" textLength="15" lengthAdjust="spacingAndGlyphs">PUSL1</text>
<rect x="262.2" y="588.8" width="26" height="5.9" rx="1.4" fill="#fbfbfb" stroke="#505050" stroke-width="0.7"/>
<text x="263.9" y="593.75" font-size="5.7" fill="#262626" stroke="#262626" stroke-width="0.16" textLength="22.6" lengthAdjust="spacingAndGlyphs">ARHGAP8</text>
<rect x="271.2" y="601.6" width="21.5" height="6" rx="1.4" fill="#fbfbfb" stroke="#505050" stroke-width="0.7"/>
<text x="272.9" y="606.6" font-size="5.7" fill="#262626" stroke="#262626" stroke-width="0.16" textLength="18.1" lengthAdjust="spacingAndGlyphs">ZFYVE9</text>
<circle cx="383.3" cy="629.8" r="1.7" fill="#6cc04a"/>
<text x="386" y="632" font-size="5.6" fill="#262626" stroke="#262626" stroke-width="0.16" textLength="14.2" lengthAdjust="spacingAndGlyphs">CD27</text>
<rect x="0.5" y="0.5" width="519" height="676" fill="none" stroke="#4d4d4d" stroke-width="1.1"/>
</svg>
</body></html>
